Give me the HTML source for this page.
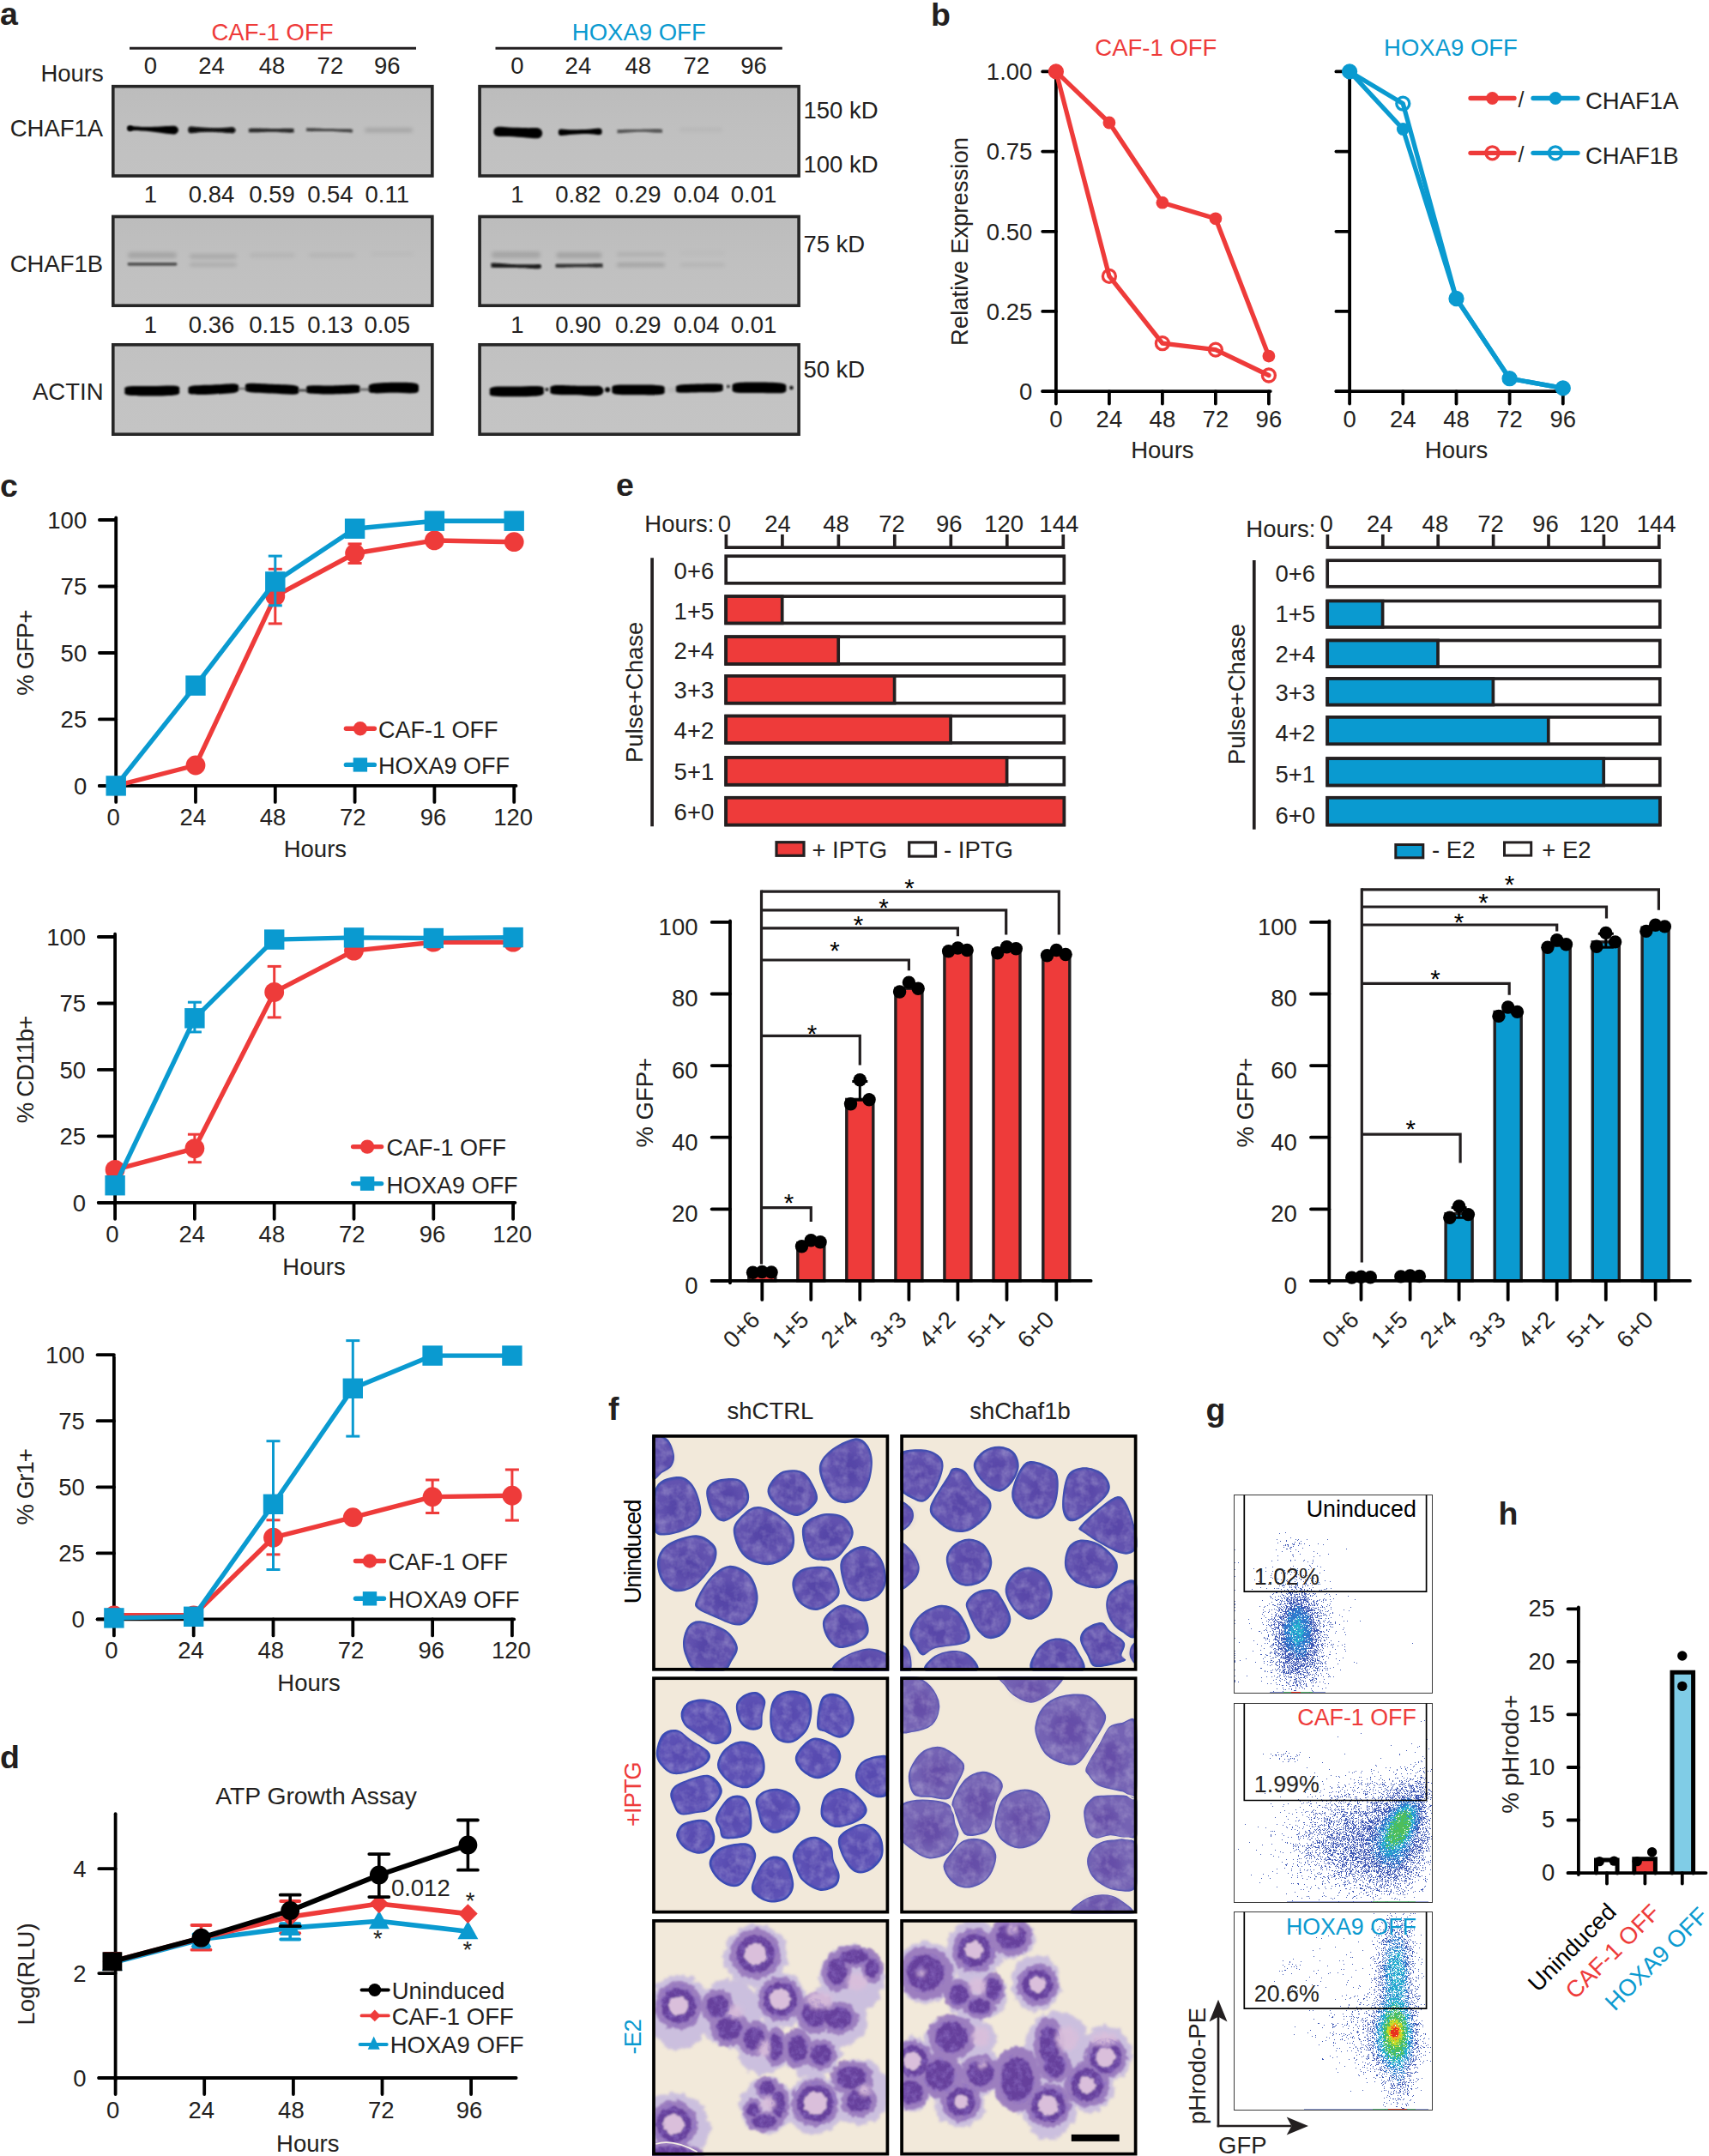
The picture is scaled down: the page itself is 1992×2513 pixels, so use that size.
<!DOCTYPE html>
<html><head><meta charset="utf-8"><title>Figure</title>
<style>
html,body{margin:0;padding:0;background:#fff;}
body{width:1992px;height:2513px;overflow:hidden;}
svg{display:block;font-family:"Liberation Sans",Arial,Helvetica,sans-serif;}
</style></head><body>
<svg width="1992" height="2513" viewBox="0 0 1992 2513">
<defs>
<filter id="b05" x="-5%" y="-5%" width="110%" height="110%"><feGaussianBlur stdDeviation="0.55"/></filter>
<filter id="b06" x="-5%" y="-5%" width="110%" height="110%"><feGaussianBlur stdDeviation="1.0"/></filter>
<filter id="b1" x="-20%" y="-100%" width="140%" height="300%"><feGaussianBlur stdDeviation="1.2"/></filter>
<filter id="b2" x="-20%" y="-100%" width="140%" height="300%"><feGaussianBlur stdDeviation="2"/></filter>
<filter id="b3" x="-30%" y="-30%" width="160%" height="160%"><feGaussianBlur stdDeviation="3"/></filter>
<filter id="b5" x="-30%" y="-30%" width="160%" height="160%"><feGaussianBlur stdDeviation="5"/></filter>
<filter id="b8" x="-30%" y="-30%" width="160%" height="160%"><feGaussianBlur stdDeviation="8"/></filter>
<clipPath id="ca1"><rect x="130" y="98.9" width="375.6" height="107.9"/></clipPath><linearGradient id="gca1" x1="0" y1="0" x2="0" y2="1"><stop offset="0" stop-color="#bcbcbc"/><stop offset="0.5" stop-color="#c0c0c0"/><stop offset="1" stop-color="#c2c2c2"/></linearGradient><clipPath id="ca2"><rect x="130" y="250.7" width="375.6" height="107.30000000000001"/></clipPath><linearGradient id="gca2" x1="0" y1="0" x2="0" y2="1"><stop offset="0" stop-color="#bcbcbc"/><stop offset="0.5" stop-color="#c0c0c0"/><stop offset="1" stop-color="#c2c2c2"/></linearGradient><clipPath id="ca3"><rect x="130" y="400" width="375.6" height="108"/></clipPath><linearGradient id="gca3" x1="0" y1="0" x2="0" y2="1"><stop offset="0" stop-color="#c1c1c1"/><stop offset="0.5" stop-color="#c3c3c3"/><stop offset="1" stop-color="#c4c4c4"/></linearGradient><clipPath id="cb1"><rect x="557.3" y="98.9" width="375.6" height="107.9"/></clipPath><linearGradient id="gcb1" x1="0" y1="0" x2="0" y2="1"><stop offset="0" stop-color="#bcbcbc"/><stop offset="0.5" stop-color="#c0c0c0"/><stop offset="1" stop-color="#c2c2c2"/></linearGradient><clipPath id="cb2"><rect x="557.3" y="250.7" width="375.6" height="107.30000000000001"/></clipPath><linearGradient id="gcb2" x1="0" y1="0" x2="0" y2="1"><stop offset="0" stop-color="#bcbcbc"/><stop offset="0.5" stop-color="#c0c0c0"/><stop offset="1" stop-color="#c2c2c2"/></linearGradient><clipPath id="cb3"><rect x="557.3" y="400" width="375.6" height="108"/></clipPath><linearGradient id="gcb3" x1="0" y1="0" x2="0" y2="1"><stop offset="0" stop-color="#c1c1c1"/><stop offset="0.5" stop-color="#c3c3c3"/><stop offset="1" stop-color="#c4c4c4"/></linearGradient><filter id="tex" x="0" y="0" width="100%" height="100%"><feTurbulence type="fractalNoise" baseFrequency="0.09" numOctaves="3" seed="3" result="n"/><feColorMatrix in="n" type="matrix" values="0 0 0 0 1  0 0 0 0 1  0 0 0 0 1  1.6 0 0 0 -0.62" result="m"/><feComposite in="m" in2="SourceGraphic" operator="in"/></filter>
<filter id="tex2" x="0" y="0" width="100%" height="100%"><feTurbulence type="fractalNoise" baseFrequency="0.13" numOctaves="3" seed="8" result="n"/><feColorMatrix in="n" type="matrix" values="0 0 0 0 0.27  0 0 0 0 0.16  0 0 0 0 0.55  0 1.8 0 0 -0.72" result="m"/><feComposite in="m" in2="SourceGraphic" operator="in"/></filter>
<filter id="rough" x="-10%" y="-10%" width="120%" height="120%"><feTurbulence type="fractalNoise" baseFrequency="0.12" numOctaves="2" seed="5" result="n"/><feDisplacementMap in="SourceGraphic" in2="n" scale="11" xChannelSelector="R" yChannelSelector="G"/><feGaussianBlur stdDeviation="1.6"/></filter>
<filter id="rough3" x="-10%" y="-10%" width="120%" height="120%"><feTurbulence type="fractalNoise" baseFrequency="0.15" numOctaves="2" seed="12" result="n"/><feDisplacementMap in="SourceGraphic" in2="n" scale="8" xChannelSelector="R" yChannelSelector="G"/><feGaussianBlur stdDeviation="1.3"/></filter>
<filter id="rough2" x="-10%" y="-10%" width="120%" height="120%"><feTurbulence type="fractalNoise" baseFrequency="0.2" numOctaves="2" seed="9" result="n"/><feDisplacementMap in="SourceGraphic" in2="n" scale="6" xChannelSelector="R" yChannelSelector="G"/><feGaussianBlur stdDeviation="1.1"/></filter><clipPath id="f1"><rect x="760.1" y="1672.1" width="276.1" height="275.60000000000014"/></clipPath><clipPath id="f2"><rect x="1049.3" y="1672.1" width="276.20000000000005" height="275.60000000000014"/></clipPath><clipPath id="f3"><rect x="760.1" y="1954.4" width="276.1" height="276.0999999999999"/></clipPath><clipPath id="f4"><rect x="1049.3" y="1954.4" width="276.20000000000005" height="276.0999999999999"/></clipPath><clipPath id="f5"><rect x="760.1" y="2237.1" width="276.1" height="275.4000000000001"/></clipPath><clipPath id="f6"><rect x="1049.3" y="2237.1" width="276.20000000000005" height="275.4000000000001"/></clipPath><clipPath id="g1"><rect x="1438.5" y="1742.5" width="231.0" height="231.0"/></clipPath><clipPath id="g2"><rect x="1438.5" y="1985.5" width="231.0" height="232.0"/></clipPath><clipPath id="g3"><rect x="1438.5" y="2228.5" width="231.0" height="231.0"/></clipPath>
</defs>
<rect width="1992" height="2513" fill="#fff"/>
<text x="0.0" y="29.0" font-size="37.5" fill="#231F20" text-anchor="start" font-weight="700">a</text>
<text x="317.5" y="47.3" font-size="27.5" fill="#EE3B3A" text-anchor="middle">CAF-1 OFF</text>
<text x="744.8" y="47.3" font-size="27.5" fill="#0A9AD0" text-anchor="middle">HOXA9 OFF</text>
<line x1="151.0" y1="56.3" x2="485.0" y2="56.3" stroke="#231F20" stroke-width="3" stroke-linecap="butt"/>
<line x1="577.5" y1="56.3" x2="911.8" y2="56.3" stroke="#231F20" stroke-width="3" stroke-linecap="butt"/>
<text x="47.4" y="94.6" font-size="27.5" fill="#231F20" text-anchor="start">Hours</text>
<text x="175.4" y="86.0" font-size="27.5" fill="#231F20" text-anchor="middle">0</text>
<text x="246.5" y="86.0" font-size="27.5" fill="#231F20" text-anchor="middle">24</text>
<text x="317.0" y="86.0" font-size="27.5" fill="#231F20" text-anchor="middle">48</text>
<text x="384.9" y="86.0" font-size="27.5" fill="#231F20" text-anchor="middle">72</text>
<text x="451.2" y="86.0" font-size="27.5" fill="#231F20" text-anchor="middle">96</text>
<text x="602.8" y="86.0" font-size="27.5" fill="#231F20" text-anchor="middle">0</text>
<text x="673.9" y="86.0" font-size="27.5" fill="#231F20" text-anchor="middle">24</text>
<text x="743.7" y="86.0" font-size="27.5" fill="#231F20" text-anchor="middle">48</text>
<text x="811.7" y="86.0" font-size="27.5" fill="#231F20" text-anchor="middle">72</text>
<text x="878.6" y="86.0" font-size="27.5" fill="#231F20" text-anchor="middle">96</text>
<text x="11.7" y="158.6" font-size="27.5" fill="#231F20" text-anchor="start">CHAF1A</text>
<text x="11.7" y="317.0" font-size="27.5" fill="#231F20" text-anchor="start">CHAF1B</text>
<text x="38.0" y="466.0" font-size="27.5" fill="#231F20" text-anchor="start">ACTIN</text>
<text x="175.4" y="236.4" font-size="27.5" fill="#231F20" text-anchor="middle">1</text>
<text x="246.5" y="236.4" font-size="27.5" fill="#231F20" text-anchor="middle">0.84</text>
<text x="317.0" y="236.4" font-size="27.5" fill="#231F20" text-anchor="middle">0.59</text>
<text x="384.9" y="236.4" font-size="27.5" fill="#231F20" text-anchor="middle">0.54</text>
<text x="451.2" y="236.4" font-size="27.5" fill="#231F20" text-anchor="middle">0.11</text>
<text x="602.8" y="236.4" font-size="27.5" fill="#231F20" text-anchor="middle">1</text>
<text x="673.9" y="236.4" font-size="27.5" fill="#231F20" text-anchor="middle">0.82</text>
<text x="743.7" y="236.4" font-size="27.5" fill="#231F20" text-anchor="middle">0.29</text>
<text x="811.7" y="236.4" font-size="27.5" fill="#231F20" text-anchor="middle">0.04</text>
<text x="878.6" y="236.4" font-size="27.5" fill="#231F20" text-anchor="middle">0.01</text>
<text x="175.4" y="388.0" font-size="27.5" fill="#231F20" text-anchor="middle">1</text>
<text x="246.5" y="388.0" font-size="27.5" fill="#231F20" text-anchor="middle">0.36</text>
<text x="317.0" y="388.0" font-size="27.5" fill="#231F20" text-anchor="middle">0.15</text>
<text x="384.9" y="388.0" font-size="27.5" fill="#231F20" text-anchor="middle">0.13</text>
<text x="451.2" y="388.0" font-size="27.5" fill="#231F20" text-anchor="middle">0.05</text>
<text x="602.8" y="388.0" font-size="27.5" fill="#231F20" text-anchor="middle">1</text>
<text x="673.9" y="388.0" font-size="27.5" fill="#231F20" text-anchor="middle">0.90</text>
<text x="743.7" y="388.0" font-size="27.5" fill="#231F20" text-anchor="middle">0.29</text>
<text x="811.7" y="388.0" font-size="27.5" fill="#231F20" text-anchor="middle">0.04</text>
<text x="878.6" y="388.0" font-size="27.5" fill="#231F20" text-anchor="middle">0.01</text>
<text x="936.4" y="138.0" font-size="27.5" fill="#231F20" text-anchor="start">150 kD</text>
<text x="936.4" y="201.0" font-size="27.5" fill="#231F20" text-anchor="start">100 kD</text>
<text x="936.4" y="294.0" font-size="27.5" fill="#231F20" text-anchor="start">75 kD</text>
<text x="936.4" y="440.0" font-size="27.5" fill="#231F20" text-anchor="start">50 kD</text>
<rect x="130.0" y="98.9" width="375.6" height="107.9" fill="url(#gca1)" stroke="none" stroke-width="0"/>
<g clip-path="url(#ca1)">
<path d="M148.8 149.6C148.8 148.8 147.5 147.4 150.5 147.1C153.5 146.8 161.4 147.9 166.8 148.0C172.3 148.1 178.2 147.9 183.2 147.8C188.2 147.6 193.2 147.2 196.8 147.1C200.5 147.0 203.1 146.5 205.0 147.3C206.9 148.0 208.0 150.2 208.0 151.6C208.0 153.0 206.9 155.2 205.0 155.9C203.1 156.7 200.5 156.4 196.8 156.1C193.2 155.8 188.2 154.8 183.2 154.2C178.2 153.7 172.3 153.0 166.8 152.6C161.4 152.2 153.5 152.6 150.5 152.1C147.5 151.6 148.8 150.4 148.8 149.6Z" fill="#050505" opacity="1" filter="url(#b1)"/>
<circle cx="151.8" cy="149.6" r="3.2" fill="#050505" opacity="1" filter="url(#b1)"/>
<path d="M219.3 151.4C219.3 150.1 219.5 148.1 222.0 147.6C224.5 147.1 229.6 148.3 234.6 148.6C239.7 148.9 246.8 149.3 252.3 149.3C257.8 149.3 264.1 148.6 267.4 148.5C270.8 148.4 271.3 148.2 272.5 148.7C273.7 149.3 274.7 150.8 274.7 151.8C274.7 152.8 273.7 154.3 272.5 154.9C271.3 155.5 270.8 155.3 267.4 155.1C264.1 154.9 257.8 154.1 252.3 153.9C246.8 153.7 239.7 153.8 234.6 154.0C229.6 154.2 224.5 155.6 222.0 155.2C219.5 154.8 219.3 152.7 219.3 151.4Z" fill="#080808" opacity="1" filter="url(#b1)"/>
<path d="M290.4 152.0C290.4 151.2 287.7 150.0 292.0 149.7C296.3 149.3 308.2 149.9 316.2 149.9C324.3 149.9 336.2 149.4 340.5 149.8C344.8 150.2 342.2 151.4 342.2 152.2C342.2 153.0 344.8 154.3 340.5 154.6C336.2 154.8 324.3 153.8 316.2 153.7C308.2 153.7 296.3 154.6 292.0 154.3C287.7 154.0 290.4 152.8 290.4 152.0Z" fill="#1e1e1e" opacity="0.92" filter="url(#b1)"/>
<path d="M357.7 151.2C357.7 150.6 354.6 149.5 359.0 149.3C363.4 149.1 375.7 149.9 384.0 150.1C392.3 150.3 404.6 150.0 409.0 150.4C413.4 150.8 410.4 151.7 410.4 152.4C410.4 153.1 413.4 154.3 409.0 154.4C404.6 154.5 392.3 153.3 384.0 153.1C375.7 152.9 363.4 153.4 359.0 153.1C354.6 152.8 357.7 151.8 357.7 151.2Z" fill="#2c2c2c" opacity="0.82" filter="url(#b1)"/>
<rect x="425.0" y="149.5" width="56.0" height="4.6" rx="2.3" fill="#666" opacity="0.33" filter="url(#b2)"/>
</g>
<rect x="131.8" y="100.7" width="372.0" height="104.3" fill="none" stroke="#262626" stroke-width="3.6"/>
<rect x="130.0" y="250.7" width="375.6" height="107.3" fill="url(#gca2)" stroke="none" stroke-width="0"/>
<g clip-path="url(#ca2)">
<rect x="148.5" y="305.9" width="58.0" height="3.8" rx="1.9" fill="#3c3c3c" opacity="0.85" filter="url(#b1)"/>
<rect x="149.0" y="294.0" width="57.0" height="7.0" rx="3.5" fill="#777" opacity="0.36" filter="url(#b2)"/>
<rect x="221.0" y="306.4" width="55.0" height="4.0" rx="2.0" fill="#777" opacity="0.3" filter="url(#b2)"/>
<rect x="221.0" y="295.9" width="55.0" height="5.5" rx="2.8" fill="#777" opacity="0.3" filter="url(#b2)"/>
<rect x="291.0" y="295.2" width="53.0" height="4.5" rx="2.2" fill="#888" opacity="0.22" filter="url(#b2)"/>
<rect x="360.0" y="295.2" width="54.0" height="4.5" rx="2.2" fill="#888" opacity="0.2" filter="url(#b2)"/>
<rect x="432.0" y="293.8" width="50.0" height="4.5" rx="2.2" fill="#999" opacity="0.14" filter="url(#b2)"/>
</g>
<rect x="131.8" y="252.5" width="372.0" height="103.7" fill="none" stroke="#262626" stroke-width="3.6"/>
<rect x="130.0" y="400.0" width="375.6" height="108.0" fill="url(#gca3)" stroke="none" stroke-width="0"/>
<g clip-path="url(#ca3)">
<path d="M145.5 455.6C145.5 453.9 143.7 451.5 149.0 450.6C154.3 449.7 167.8 450.2 177.2 450.1C186.7 450.0 200.2 449.0 205.5 449.8C210.8 450.6 209.1 453.3 209.1 455.0C209.1 456.7 210.8 459.1 205.5 460.2C200.2 461.3 186.7 461.4 177.2 461.5C167.8 461.6 154.3 461.6 149.0 460.6C143.7 459.6 145.5 457.3 145.5 455.6Z" fill="#000" opacity="1" filter="url(#b1)"/>
<path d="M219.6 454.8C219.6 453.2 218.1 451.0 223.0 450.0C227.9 449.0 240.2 449.0 248.8 448.6C257.3 448.2 269.6 446.8 274.5 447.4C279.4 448.0 278.0 450.7 278.0 452.4C278.0 454.1 279.4 456.2 274.5 457.4C269.6 458.6 257.3 459.0 248.8 459.4C240.2 459.8 227.9 460.4 223.0 459.6C218.1 458.8 219.6 456.4 219.6 454.8Z" fill="#000" opacity="1" filter="url(#b1)"/>
<path d="M286.1 451.8C286.1 450.2 284.3 447.6 289.5 446.9C294.7 446.2 307.8 447.4 317.0 447.8C326.2 448.2 339.3 448.3 344.5 449.4C349.7 450.5 348.0 452.7 348.0 454.4C348.0 456.1 349.7 458.7 344.5 459.4C339.3 460.1 326.2 459.0 317.0 458.6C307.8 458.1 294.7 457.8 289.5 456.7C284.3 455.6 286.1 453.4 286.1 451.8Z" fill="#000" opacity="1" filter="url(#b1)"/>
<path d="M357.4 454.0C357.4 452.5 355.4 450.3 360.5 449.5C365.6 448.7 379.0 449.5 388.2 449.4C397.5 449.3 410.8 448.0 416.0 448.7C421.2 449.4 419.3 451.8 419.3 453.4C419.3 455.0 421.2 457.1 416.0 458.1C410.8 459.1 397.5 459.3 388.2 459.4C379.0 459.5 365.6 459.4 360.5 458.5C355.4 457.6 357.4 455.5 357.4 454.0Z" fill="#000" opacity="1" filter="url(#b1)"/>
<path d="M429.8 452.8C429.8 451.0 428.7 448.7 433.5 447.5C438.3 446.3 450.3 445.9 458.8 445.8C467.2 445.7 479.1 445.6 484.0 446.7C488.9 447.8 488.0 450.5 488.0 452.4C488.0 454.3 488.9 457.2 484.0 458.1C479.1 459.0 467.2 457.8 458.8 457.8C450.3 457.8 438.3 458.9 433.5 458.1C428.7 457.3 429.8 454.6 429.8 452.8Z" fill="#000" opacity="1" filter="url(#b1)"/>
<rect x="277.0" y="451.7" width="12.0" height="2.6" rx="1.3" fill="#333" opacity="0.55" filter="url(#b1)"/>
<rect x="347.0" y="453.4" width="12.0" height="3.2" rx="1.6" fill="#222" opacity="0.75" filter="url(#b1)"/>
<rect x="419.0" y="452.5" width="13.0" height="3.0" rx="1.5" fill="#333" opacity="0.6" filter="url(#b1)"/>
</g>
<rect x="131.8" y="401.8" width="372.0" height="104.4" fill="none" stroke="#262626" stroke-width="3.6"/>
<rect x="557.3" y="98.9" width="375.6" height="107.9" fill="url(#gcb1)" stroke="none" stroke-width="0"/>
<g clip-path="url(#cb1)">
<path d="M575.4 153.4C575.4 151.7 575.9 149.0 579.0 148.2C582.1 147.4 588.0 148.3 593.7 148.5C599.4 148.7 607.6 149.0 613.3 149.1C619.0 149.3 624.9 148.4 628.0 149.4C631.1 150.4 632.1 153.3 632.1 155.2C632.1 157.1 631.1 160.1 628.0 161.0C624.9 161.9 619.0 160.8 613.3 160.5C607.6 160.2 599.4 159.4 593.7 159.1C588.0 158.8 582.1 159.6 579.0 158.6C575.9 157.6 575.4 155.1 575.4 153.4Z" fill="#000" opacity="1" filter="url(#b1)"/>
<path d="M650.9 154.2C650.9 153.0 650.8 151.0 653.5 150.5C656.2 150.0 661.8 151.2 667.1 151.3C672.5 151.4 680.0 151.1 685.4 150.8C690.7 150.5 696.3 149.3 699.0 149.7C701.7 150.1 701.6 152.2 701.6 153.4C701.6 154.6 701.7 156.7 699.0 157.1C696.3 157.5 690.7 156.1 685.4 156.0C680.0 155.9 672.5 156.4 667.1 156.7C661.8 157.0 656.2 158.3 653.5 157.9C650.8 157.5 650.9 155.4 650.9 154.2Z" fill="#050505" opacity="1" filter="url(#b1)"/>
<path d="M720.0 153.2C720.0 152.5 717.2 151.5 721.5 151.1C725.8 150.7 737.7 150.8 745.8 150.7C753.8 150.6 765.7 150.1 770.0 150.4C774.3 150.7 771.5 151.9 771.5 152.6C771.5 153.3 774.3 154.6 770.0 154.8C765.7 155.0 753.8 153.6 745.8 153.7C737.7 153.8 725.8 155.4 721.5 155.3C717.2 155.2 720.0 153.9 720.0 153.2Z" fill="#3a3a3a" opacity="0.8" filter="url(#b1)"/>
<rect x="792.0" y="149.4" width="50.0" height="3.6" rx="1.8" fill="#888" opacity="0.2" filter="url(#b2)"/>
</g>
<rect x="559.1" y="100.7" width="372.0" height="104.3" fill="none" stroke="#262626" stroke-width="3.6"/>
<rect x="557.3" y="250.7" width="375.6" height="107.3" fill="url(#gcb2)" stroke="none" stroke-width="0"/>
<g clip-path="url(#cb2)">
<path d="M572.7 309.2C572.7 308.3 570.6 306.8 574.5 306.6C578.4 306.4 589.0 307.6 596.3 307.9C603.6 308.2 612.6 308.3 618.1 308.3C623.6 308.3 626.9 307.7 629.0 308.1C631.1 308.5 630.8 309.8 630.8 310.6C630.8 311.4 631.1 312.7 629.0 313.1C626.9 313.5 623.6 313.1 618.1 312.9C612.6 312.7 603.6 312.3 596.3 312.1C589.0 311.9 578.4 312.3 574.5 311.8C570.6 311.3 572.7 310.1 572.7 309.2Z" fill="#151515" opacity="0.95" filter="url(#b1)"/>
<rect x="573.0" y="293.2" width="57.0" height="7.5" rx="3.8" fill="#777" opacity="0.36" filter="url(#b2)"/>
<path d="M648.0 309.8C648.0 309.1 645.0 308.0 649.5 307.6C654.0 307.2 666.5 307.7 675.0 307.6C683.5 307.5 696.0 306.7 700.5 307.0C705.0 307.3 702.2 308.6 702.2 309.4C702.2 310.2 705.0 311.4 700.5 311.8C696.0 312.2 683.5 311.6 675.0 311.6C666.5 311.6 654.0 312.3 649.5 312.0C645.0 311.7 648.0 310.5 648.0 309.8Z" fill="#2c2c2c" opacity="0.9" filter="url(#b1)"/>
<rect x="648.5" y="294.2" width="53.0" height="6.5" rx="3.2" fill="#777" opacity="0.4" filter="url(#b2)"/>
<rect x="719.0" y="306.6" width="56.0" height="4.5" rx="2.2" fill="#777" opacity="0.42" filter="url(#b2)"/>
<rect x="719.0" y="294.0" width="56.0" height="5.0" rx="2.5" fill="#888" opacity="0.28" filter="url(#b2)"/>
<rect x="793.0" y="306.6" width="52.0" height="4.5" rx="2.2" fill="#888" opacity="0.2" filter="url(#b2)"/>
<rect x="793.0" y="292.8" width="52.0" height="4.5" rx="2.2" fill="#999" opacity="0.12" filter="url(#b2)"/>
</g>
<rect x="559.1" y="252.5" width="372.0" height="103.7" fill="none" stroke="#262626" stroke-width="3.6"/>
<rect x="557.3" y="400.0" width="375.6" height="108.0" fill="url(#gcb3)" stroke="none" stroke-width="0"/>
<g clip-path="url(#cb3)">
<path d="M570.9 456.4C570.9 454.7 569.3 452.2 574.5 451.2C579.7 450.2 593.0 450.7 602.2 450.6C611.5 450.4 624.8 449.5 630.0 450.3C635.2 451.1 633.7 453.8 633.7 455.6C633.7 457.4 635.2 459.8 630.0 460.9C624.8 462.0 611.5 462.1 602.2 462.2C593.0 462.3 579.7 462.6 574.5 461.6C569.3 460.6 570.9 458.1 570.9 456.4Z" fill="#000" opacity="1" filter="url(#b1)"/>
<path d="M641.5 454.4C641.5 452.7 639.8 450.2 645.0 449.4C650.2 448.6 665.2 449.6 672.5 449.7C679.8 449.8 684.4 449.7 689.0 449.8C693.6 449.9 697.6 449.5 700.0 450.4C702.4 451.3 703.5 453.7 703.5 455.4C703.5 457.1 702.4 459.4 700.0 460.4C697.6 461.4 693.6 461.4 689.0 461.4C684.4 461.4 679.8 460.6 672.5 460.3C665.2 460.0 650.2 460.4 645.0 459.4C639.8 458.4 641.5 456.1 641.5 454.4Z" fill="#000" opacity="1" filter="url(#b1)"/>
<path d="M713.4 454.2C713.4 452.5 711.9 449.9 717.0 449.0C722.1 448.1 735.0 448.5 744.0 448.6C753.0 448.7 765.9 448.4 771.0 449.4C776.1 450.4 774.6 452.9 774.6 454.6C774.6 456.3 776.1 458.9 771.0 459.8C765.9 460.7 753.0 460.3 744.0 460.2C735.0 460.1 722.1 460.4 717.0 459.4C711.9 458.4 713.4 455.9 713.4 454.2Z" fill="#000" opacity="1" filter="url(#b1)"/>
<path d="M788.0 453.2C788.0 451.8 786.5 449.8 791.0 448.9C795.5 447.9 807.2 447.7 815.2 447.5C823.3 447.3 834.9 446.9 839.5 447.6C844.1 448.4 842.6 450.5 842.6 452.0C842.6 453.5 844.1 455.5 839.5 456.4C834.9 457.3 823.3 457.1 815.2 457.3C807.2 457.5 795.5 458.2 791.0 457.5C786.5 456.8 788.0 454.6 788.0 453.2Z" fill="#000" opacity="1" filter="url(#b1)"/>
<path d="M853.6 452.0C853.6 450.2 852.3 447.6 857.5 446.5C862.7 445.4 875.8 445.5 885.0 445.6C894.2 445.7 907.3 445.8 912.5 446.9C917.7 448.0 916.4 450.6 916.4 452.4C916.4 454.2 917.7 457.0 912.5 457.9C907.3 458.8 894.2 458.1 885.0 458.0C875.8 457.9 862.7 458.5 857.5 457.5C852.3 456.5 853.6 453.8 853.6 452.0Z" fill="#000" opacity="1" filter="url(#b1)"/>
<circle cx="637.4" cy="453.9" r="1.9" fill="#0a0a0a" opacity="1" filter="url(#b1)"/>
<circle cx="708.1" cy="454.3" r="3.0" fill="#050505" opacity="1" filter="url(#b1)"/>
<rect x="778.0" y="453.0" width="10.0" height="3.0" rx="1.5" fill="#777" opacity="0.35" filter="url(#b2)"/>
<circle cx="848.9" cy="450.5" r="2.0" fill="#2a2a2a" opacity="0.9" filter="url(#b1)"/>
<circle cx="922.4" cy="452" r="2.3" fill="#0a0a0a" opacity="1" filter="url(#b1)"/>
</g>
<rect x="559.1" y="401.8" width="372.0" height="104.4" fill="none" stroke="#262626" stroke-width="3.6"/>
<text x="1085.0" y="30.0" font-size="37.5" fill="#231F20" text-anchor="start" font-weight="700">b</text>
<text x="1347.4" y="65.4" font-size="27.5" fill="#EE3B3A" text-anchor="middle">CAF-1 OFF</text>
<text x="1691.0" y="65.4" font-size="27.5" fill="#0A9AD0" text-anchor="middle">HOXA9 OFF</text>
<line x1="1230.9" y1="83.4" x2="1230.9" y2="458.0" stroke="#000" stroke-width="3.8" stroke-linecap="butt"/>
<line x1="1215.2" y1="456.1" x2="1480.8" y2="456.1" stroke="#000" stroke-width="3.8" stroke-linecap="round"/>
<line x1="1215.2" y1="456.1" x2="1230.9" y2="456.1" stroke="#000" stroke-width="3.8" stroke-linecap="round"/>
<line x1="1215.2" y1="362.9" x2="1230.9" y2="362.9" stroke="#000" stroke-width="3.8" stroke-linecap="round"/>
<line x1="1215.2" y1="269.8" x2="1230.9" y2="269.8" stroke="#000" stroke-width="3.8" stroke-linecap="round"/>
<line x1="1215.2" y1="176.6" x2="1230.9" y2="176.6" stroke="#000" stroke-width="3.8" stroke-linecap="round"/>
<line x1="1215.2" y1="83.4" x2="1230.9" y2="83.4" stroke="#000" stroke-width="3.8" stroke-linecap="round"/>
<line x1="1230.9" y1="456.1" x2="1230.9" y2="470.6" stroke="#000" stroke-width="3.8" stroke-linecap="round"/>
<text x="1230.9" y="498.3" font-size="27.5" fill="#231F20" text-anchor="middle">0</text>
<line x1="1292.9" y1="456.1" x2="1292.9" y2="470.6" stroke="#000" stroke-width="3.8" stroke-linecap="round"/>
<text x="1292.9" y="498.3" font-size="27.5" fill="#231F20" text-anchor="middle">24</text>
<line x1="1354.9" y1="456.1" x2="1354.9" y2="470.6" stroke="#000" stroke-width="3.8" stroke-linecap="round"/>
<text x="1354.9" y="498.3" font-size="27.5" fill="#231F20" text-anchor="middle">48</text>
<line x1="1416.9" y1="456.1" x2="1416.9" y2="470.6" stroke="#000" stroke-width="3.8" stroke-linecap="round"/>
<text x="1416.9" y="498.3" font-size="27.5" fill="#231F20" text-anchor="middle">72</text>
<line x1="1478.9" y1="456.1" x2="1478.9" y2="470.6" stroke="#000" stroke-width="3.8" stroke-linecap="round"/>
<text x="1478.9" y="498.3" font-size="27.5" fill="#231F20" text-anchor="middle">96</text>
<text x="1354.9" y="534.4" font-size="27.5" fill="#231F20" text-anchor="middle">Hours</text>
<text x="1203.4" y="465.9" font-size="27.5" fill="#231F20" text-anchor="end">0</text>
<text x="1203.4" y="372.7" font-size="27.5" fill="#231F20" text-anchor="end">0.25</text>
<text x="1203.4" y="279.6" font-size="27.5" fill="#231F20" text-anchor="end">0.50</text>
<text x="1203.4" y="186.4" font-size="27.5" fill="#231F20" text-anchor="end">0.75</text>
<text x="1203.4" y="93.2" font-size="27.5" fill="#231F20" text-anchor="end">1.00</text>
<polyline points="1230.9,83.4 1292.9,321.9 1354.9,400.2 1416.9,407.6 1478.9,437.5" fill="none" stroke="#EE3B3A" stroke-width="5.3" stroke-linejoin="round" stroke-linecap="round"/>
<circle cx="1230.9" cy="83.4" r="7.5" fill="none" stroke="#EE3B3A" stroke-width="3.3"/>
<circle cx="1292.9" cy="321.9" r="7.5" fill="none" stroke="#EE3B3A" stroke-width="3.3"/>
<circle cx="1354.9" cy="400.2" r="7.5" fill="none" stroke="#EE3B3A" stroke-width="3.3"/>
<circle cx="1416.9" cy="407.6" r="7.5" fill="none" stroke="#EE3B3A" stroke-width="3.3"/>
<circle cx="1478.9" cy="437.5" r="7.5" fill="none" stroke="#EE3B3A" stroke-width="3.3"/>
<polyline points="1230.9,83.4 1292.9,143.0 1354.9,236.2 1416.9,254.8 1478.9,415.1" fill="none" stroke="#EE3B3A" stroke-width="5.3" stroke-linejoin="round" stroke-linecap="round"/>
<circle cx="1230.9" cy="83.4" r="7.4" fill="#EE3B3A" stroke="none" stroke-width="0"/>
<circle cx="1292.9" cy="143.0" r="7.4" fill="#EE3B3A" stroke="none" stroke-width="0"/>
<circle cx="1354.9" cy="236.2" r="7.4" fill="#EE3B3A" stroke="none" stroke-width="0"/>
<circle cx="1416.9" cy="254.8" r="7.4" fill="#EE3B3A" stroke="none" stroke-width="0"/>
<circle cx="1478.9" cy="415.1" r="7.4" fill="#EE3B3A" stroke="none" stroke-width="0"/>
<line x1="1573.1" y1="83.4" x2="1573.1" y2="458.0" stroke="#000" stroke-width="3.8" stroke-linecap="butt"/>
<line x1="1557.4" y1="456.1" x2="1823.7" y2="456.1" stroke="#000" stroke-width="3.8" stroke-linecap="round"/>
<line x1="1557.4" y1="456.1" x2="1573.1" y2="456.1" stroke="#000" stroke-width="3.8" stroke-linecap="round"/>
<line x1="1557.4" y1="362.9" x2="1573.1" y2="362.9" stroke="#000" stroke-width="3.8" stroke-linecap="round"/>
<line x1="1557.4" y1="269.8" x2="1573.1" y2="269.8" stroke="#000" stroke-width="3.8" stroke-linecap="round"/>
<line x1="1557.4" y1="176.6" x2="1573.1" y2="176.6" stroke="#000" stroke-width="3.8" stroke-linecap="round"/>
<line x1="1557.4" y1="83.4" x2="1573.1" y2="83.4" stroke="#000" stroke-width="3.8" stroke-linecap="round"/>
<line x1="1573.1" y1="456.1" x2="1573.1" y2="470.6" stroke="#000" stroke-width="3.8" stroke-linecap="round"/>
<text x="1573.1" y="498.3" font-size="27.5" fill="#231F20" text-anchor="middle">0</text>
<line x1="1635.3" y1="456.1" x2="1635.3" y2="470.6" stroke="#000" stroke-width="3.8" stroke-linecap="round"/>
<text x="1635.3" y="498.3" font-size="27.5" fill="#231F20" text-anchor="middle">24</text>
<line x1="1697.5" y1="456.1" x2="1697.5" y2="470.6" stroke="#000" stroke-width="3.8" stroke-linecap="round"/>
<text x="1697.5" y="498.3" font-size="27.5" fill="#231F20" text-anchor="middle">48</text>
<line x1="1759.6" y1="456.1" x2="1759.6" y2="470.6" stroke="#000" stroke-width="3.8" stroke-linecap="round"/>
<text x="1759.6" y="498.3" font-size="27.5" fill="#231F20" text-anchor="middle">72</text>
<line x1="1821.8" y1="456.1" x2="1821.8" y2="470.6" stroke="#000" stroke-width="3.8" stroke-linecap="round"/>
<text x="1821.8" y="498.3" font-size="27.5" fill="#231F20" text-anchor="middle">96</text>
<text x="1697.5" y="534.4" font-size="27.5" fill="#231F20" text-anchor="middle">Hours</text>
<polyline points="1573.1,83.4 1635.3,120.7 1697.5,348.0 1759.6,441.2 1821.8,452.4" fill="none" stroke="#0A9AD0" stroke-width="5.3" stroke-linejoin="round" stroke-linecap="round"/>
<circle cx="1573.1" cy="83.4" r="7.5" fill="none" stroke="#0A9AD0" stroke-width="3.3"/>
<circle cx="1635.3" cy="120.7" r="7.5" fill="none" stroke="#0A9AD0" stroke-width="3.3"/>
<circle cx="1697.5" cy="348.0" r="7.5" fill="none" stroke="#0A9AD0" stroke-width="3.3"/>
<circle cx="1759.6" cy="441.2" r="7.5" fill="none" stroke="#0A9AD0" stroke-width="3.3"/>
<circle cx="1821.8" cy="452.4" r="7.5" fill="none" stroke="#0A9AD0" stroke-width="3.3"/>
<polyline points="1573.1,83.4 1635.3,150.5 1697.5,348.0 1759.6,441.2 1821.8,452.4" fill="none" stroke="#0A9AD0" stroke-width="5.3" stroke-linejoin="round" stroke-linecap="round"/>
<circle cx="1573.1" cy="83.4" r="7.4" fill="#0A9AD0" stroke="none" stroke-width="0"/>
<circle cx="1635.3" cy="150.5" r="7.4" fill="#0A9AD0" stroke="none" stroke-width="0"/>
<circle cx="1697.5" cy="348.0" r="7.4" fill="#0A9AD0" stroke="none" stroke-width="0"/>
<circle cx="1759.6" cy="441.2" r="7.4" fill="#0A9AD0" stroke="none" stroke-width="0"/>
<circle cx="1821.8" cy="452.4" r="7.4" fill="#0A9AD0" stroke="none" stroke-width="0"/>
<text x="1128.3" y="281.5" font-size="27.5" fill="#231F20" text-anchor="middle" transform="rotate(-90 1128.3 281.5)">Relative Expression</text>
<line x1="1714.0" y1="114.5" x2="1765.0" y2="114.5" stroke="#EE3B3A" stroke-width="5.3" stroke-linecap="round"/>
<circle cx="1739.5" cy="114.5" r="7.4" fill="#EE3B3A" stroke="none" stroke-width="0"/>
<line x1="1787.0" y1="114.5" x2="1839.0" y2="114.5" stroke="#0A9AD0" stroke-width="5.3" stroke-linecap="round"/>
<circle cx="1813.0" cy="114.5" r="7.4" fill="#0A9AD0" stroke="none" stroke-width="0"/>
<text x="1769.5" y="125.0" font-size="25" fill="#231F20" text-anchor="start">/</text>
<text x="1848.0" y="126.7" font-size="27.5" fill="#231F20" text-anchor="start">CHAF1A</text>
<line x1="1714.0" y1="178.3" x2="1765.0" y2="178.3" stroke="#EE3B3A" stroke-width="5.3" stroke-linecap="round"/>
<circle cx="1739.5" cy="178.3" r="7.5" fill="none" stroke="#EE3B3A" stroke-width="3.3"/>
<line x1="1787.0" y1="178.3" x2="1839.0" y2="178.3" stroke="#0A9AD0" stroke-width="5.3" stroke-linecap="round"/>
<circle cx="1813.0" cy="178.3" r="7.5" fill="none" stroke="#0A9AD0" stroke-width="3.3"/>
<text x="1769.5" y="188.8" font-size="25" fill="#231F20" text-anchor="start">/</text>
<text x="1848.0" y="190.5" font-size="27.5" fill="#231F20" text-anchor="start">CHAF1B</text>
<text x="0.0" y="579.0" font-size="37.5" fill="#231F20" text-anchor="start" font-weight="700">c</text>
<line x1="135.2" y1="603.4" x2="135.2" y2="917.8" stroke="#000" stroke-width="3.8" stroke-linecap="round"/>
<line x1="115.9" y1="915.9" x2="601.5" y2="915.9" stroke="#000" stroke-width="3.8" stroke-linecap="round"/>
<line x1="115.9" y1="915.9" x2="135.2" y2="915.9" stroke="#000" stroke-width="3.8" stroke-linecap="round"/>
<text x="101.2" y="925.7" font-size="27.5" fill="#231F20" text-anchor="end">0</text>
<line x1="115.9" y1="838.4" x2="135.2" y2="838.4" stroke="#000" stroke-width="3.8" stroke-linecap="round"/>
<text x="101.2" y="848.2" font-size="27.5" fill="#231F20" text-anchor="end">25</text>
<line x1="115.9" y1="761.0" x2="135.2" y2="761.0" stroke="#000" stroke-width="3.8" stroke-linecap="round"/>
<text x="101.2" y="770.8" font-size="27.5" fill="#231F20" text-anchor="end">50</text>
<line x1="115.9" y1="683.5" x2="135.2" y2="683.5" stroke="#000" stroke-width="3.8" stroke-linecap="round"/>
<text x="101.2" y="693.3" font-size="27.5" fill="#231F20" text-anchor="end">75</text>
<line x1="115.9" y1="606.0" x2="135.2" y2="606.0" stroke="#000" stroke-width="3.8" stroke-linecap="round"/>
<text x="101.2" y="615.8" font-size="27.5" fill="#231F20" text-anchor="end">100</text>
<line x1="135.2" y1="915.9" x2="135.2" y2="934.9" stroke="#000" stroke-width="3.8" stroke-linecap="round"/>
<text x="132.1" y="961.9" font-size="27.5" fill="#231F20" text-anchor="middle">0</text>
<line x1="228.0" y1="915.9" x2="228.0" y2="934.9" stroke="#000" stroke-width="3.8" stroke-linecap="round"/>
<text x="224.9" y="961.9" font-size="27.5" fill="#231F20" text-anchor="middle">24</text>
<line x1="320.8" y1="915.9" x2="320.8" y2="934.9" stroke="#000" stroke-width="3.8" stroke-linecap="round"/>
<text x="318.0" y="961.9" font-size="27.5" fill="#231F20" text-anchor="middle">48</text>
<line x1="413.6" y1="915.9" x2="413.6" y2="934.9" stroke="#000" stroke-width="3.8" stroke-linecap="round"/>
<text x="411.3" y="961.9" font-size="27.5" fill="#231F20" text-anchor="middle">72</text>
<line x1="506.4" y1="915.9" x2="506.4" y2="934.9" stroke="#000" stroke-width="3.8" stroke-linecap="round"/>
<text x="505.1" y="961.9" font-size="27.5" fill="#231F20" text-anchor="middle">96</text>
<line x1="599.2" y1="915.9" x2="599.2" y2="934.9" stroke="#000" stroke-width="3.8" stroke-linecap="round"/>
<text x="598.2" y="961.9" font-size="27.5" fill="#231F20" text-anchor="middle">120</text>
<text x="367.4" y="998.8" font-size="27.5" fill="#231F20" text-anchor="middle">Hours</text>
<text x="39.0" y="761.0" font-size="27.5" fill="#231F20" text-anchor="middle" transform="rotate(-90 39.0 761.0)" letter-spacing="-0.9">% GFP+</text>
<line x1="320.8" y1="663.3" x2="320.8" y2="726.9" stroke="#EE3B3A" stroke-width="3" stroke-linecap="butt"/>
<line x1="312.8" y1="663.3" x2="328.8" y2="663.3" stroke="#EE3B3A" stroke-width="3" stroke-linecap="butt"/>
<line x1="312.8" y1="726.9" x2="328.8" y2="726.9" stroke="#EE3B3A" stroke-width="3" stroke-linecap="butt"/>
<line x1="413.6" y1="633.9" x2="413.6" y2="656.5" stroke="#EE3B3A" stroke-width="3" stroke-linecap="butt"/>
<line x1="405.6" y1="633.9" x2="421.6" y2="633.9" stroke="#EE3B3A" stroke-width="3" stroke-linecap="butt"/>
<line x1="405.6" y1="656.5" x2="421.6" y2="656.5" stroke="#EE3B3A" stroke-width="3" stroke-linecap="butt"/>
<polyline points="135.2,915.9 228.0,892.0 320.8,694.9 413.6,645.0 506.4,629.9 599.2,631.7" fill="none" stroke="#EE3B3A" stroke-width="5.4" stroke-linejoin="round"/>
<circle cx="135.2" cy="915.9" r="11.4" fill="#EE3B3A" stroke="none" stroke-width="0"/>
<circle cx="228.0" cy="892.0" r="11.4" fill="#EE3B3A" stroke="none" stroke-width="0"/>
<circle cx="320.8" cy="694.9" r="11.4" fill="#EE3B3A" stroke="none" stroke-width="0"/>
<circle cx="413.6" cy="645.0" r="11.4" fill="#EE3B3A" stroke="none" stroke-width="0"/>
<circle cx="506.4" cy="629.9" r="11.4" fill="#EE3B3A" stroke="none" stroke-width="0"/>
<circle cx="599.2" cy="631.7" r="11.4" fill="#EE3B3A" stroke="none" stroke-width="0"/>
<line x1="320.8" y1="648.1" x2="320.8" y2="705.8" stroke="#0A9AD0" stroke-width="3" stroke-linecap="butt"/>
<line x1="312.8" y1="648.1" x2="328.8" y2="648.1" stroke="#0A9AD0" stroke-width="3" stroke-linecap="butt"/>
<line x1="312.8" y1="705.8" x2="328.8" y2="705.8" stroke="#0A9AD0" stroke-width="3" stroke-linecap="butt"/>
<polyline points="135.2,915.9 228.0,799.1 320.8,677.9 413.6,616.2 506.4,607.2 599.2,607.2" fill="none" stroke="#0A9AD0" stroke-width="5.4" stroke-linejoin="round"/>
<rect x="123.5" y="904.2" width="23.4" height="23.4" fill="#0A9AD0" stroke="none" stroke-width="0"/>
<rect x="216.3" y="787.4" width="23.4" height="23.4" fill="#0A9AD0" stroke="none" stroke-width="0"/>
<rect x="309.1" y="666.2" width="23.4" height="23.4" fill="#0A9AD0" stroke="none" stroke-width="0"/>
<rect x="401.9" y="604.5" width="23.4" height="23.4" fill="#0A9AD0" stroke="none" stroke-width="0"/>
<rect x="494.7" y="595.5" width="23.4" height="23.4" fill="#0A9AD0" stroke="none" stroke-width="0"/>
<rect x="587.5" y="595.5" width="23.4" height="23.4" fill="#0A9AD0" stroke="none" stroke-width="0"/>
<line x1="403.4" y1="849.3" x2="436.4" y2="849.3" stroke="#EE3B3A" stroke-width="5.4" stroke-linecap="round"/>
<circle cx="419.9" cy="849.3" r="8.2" fill="#EE3B3A" stroke="none" stroke-width="0"/>
<text x="441.0" y="859.6" font-size="27" fill="#231F20" text-anchor="start">CAF-1 OFF</text>
<line x1="403.4" y1="891.4" x2="436.4" y2="891.4" stroke="#0A9AD0" stroke-width="5.4" stroke-linecap="round"/>
<rect x="411.7" y="883.2" width="16.4" height="16.4" fill="#0A9AD0" stroke="none" stroke-width="0"/>
<text x="441.0" y="902.4" font-size="27" fill="#231F20" text-anchor="start">HOXA9 OFF</text>
<line x1="134.1" y1="1088.7" x2="134.1" y2="1403.7" stroke="#000" stroke-width="3.8" stroke-linecap="round"/>
<line x1="114.8" y1="1401.8" x2="600.4" y2="1401.8" stroke="#000" stroke-width="3.8" stroke-linecap="round"/>
<line x1="114.8" y1="1401.8" x2="134.1" y2="1401.8" stroke="#000" stroke-width="3.8" stroke-linecap="round"/>
<text x="100.1" y="1411.6" font-size="27.5" fill="#231F20" text-anchor="end">0</text>
<line x1="114.8" y1="1324.3" x2="134.1" y2="1324.3" stroke="#000" stroke-width="3.8" stroke-linecap="round"/>
<text x="100.1" y="1334.1" font-size="27.5" fill="#231F20" text-anchor="end">25</text>
<line x1="114.8" y1="1246.9" x2="134.1" y2="1246.9" stroke="#000" stroke-width="3.8" stroke-linecap="round"/>
<text x="100.1" y="1256.7" font-size="27.5" fill="#231F20" text-anchor="end">50</text>
<line x1="114.8" y1="1169.5" x2="134.1" y2="1169.5" stroke="#000" stroke-width="3.8" stroke-linecap="round"/>
<text x="100.1" y="1179.2" font-size="27.5" fill="#231F20" text-anchor="end">75</text>
<line x1="114.8" y1="1092.0" x2="134.1" y2="1092.0" stroke="#000" stroke-width="3.8" stroke-linecap="round"/>
<text x="100.1" y="1101.8" font-size="27.5" fill="#231F20" text-anchor="end">100</text>
<line x1="134.1" y1="1401.8" x2="134.1" y2="1420.8" stroke="#000" stroke-width="3.8" stroke-linecap="round"/>
<text x="131.0" y="1448.0" font-size="27.5" fill="#231F20" text-anchor="middle">0</text>
<line x1="226.9" y1="1401.8" x2="226.9" y2="1420.8" stroke="#000" stroke-width="3.8" stroke-linecap="round"/>
<text x="223.8" y="1448.0" font-size="27.5" fill="#231F20" text-anchor="middle">24</text>
<line x1="319.7" y1="1401.8" x2="319.7" y2="1420.8" stroke="#000" stroke-width="3.8" stroke-linecap="round"/>
<text x="316.9" y="1448.0" font-size="27.5" fill="#231F20" text-anchor="middle">48</text>
<line x1="412.5" y1="1401.8" x2="412.5" y2="1420.8" stroke="#000" stroke-width="3.8" stroke-linecap="round"/>
<text x="410.2" y="1448.0" font-size="27.5" fill="#231F20" text-anchor="middle">72</text>
<line x1="505.3" y1="1401.8" x2="505.3" y2="1420.8" stroke="#000" stroke-width="3.8" stroke-linecap="round"/>
<text x="504.0" y="1448.0" font-size="27.5" fill="#231F20" text-anchor="middle">96</text>
<line x1="598.1" y1="1401.8" x2="598.1" y2="1420.8" stroke="#000" stroke-width="3.8" stroke-linecap="round"/>
<text x="597.1" y="1448.0" font-size="27.5" fill="#231F20" text-anchor="middle">120</text>
<text x="366.0" y="1486.0" font-size="27.5" fill="#231F20" text-anchor="middle">Hours</text>
<text x="39.0" y="1246.9" font-size="27.5" fill="#231F20" text-anchor="middle" transform="rotate(-90 39.0 1246.9)" letter-spacing="-0.9">% CD11b+</text>
<line x1="226.9" y1="1322.2" x2="226.9" y2="1354.7" stroke="#EE3B3A" stroke-width="3" stroke-linecap="butt"/>
<line x1="218.9" y1="1322.2" x2="234.9" y2="1322.2" stroke="#EE3B3A" stroke-width="3" stroke-linecap="butt"/>
<line x1="218.9" y1="1354.7" x2="234.9" y2="1354.7" stroke="#EE3B3A" stroke-width="3" stroke-linecap="butt"/>
<line x1="319.7" y1="1126.4" x2="319.7" y2="1185.9" stroke="#EE3B3A" stroke-width="3" stroke-linecap="butt"/>
<line x1="311.7" y1="1126.4" x2="327.7" y2="1126.4" stroke="#EE3B3A" stroke-width="3" stroke-linecap="butt"/>
<line x1="311.7" y1="1185.9" x2="327.7" y2="1185.9" stroke="#EE3B3A" stroke-width="3" stroke-linecap="butt"/>
<polyline points="134.1,1363.4 226.9,1338.6 319.7,1156.4 412.5,1108.1 505.3,1098.2 598.1,1098.2" fill="none" stroke="#EE3B3A" stroke-width="5.4" stroke-linejoin="round"/>
<circle cx="134.1" cy="1363.4" r="11.4" fill="#EE3B3A" stroke="none" stroke-width="0"/>
<circle cx="226.9" cy="1338.6" r="11.4" fill="#EE3B3A" stroke="none" stroke-width="0"/>
<circle cx="319.7" cy="1156.4" r="11.4" fill="#EE3B3A" stroke="none" stroke-width="0"/>
<circle cx="412.5" cy="1108.1" r="11.4" fill="#EE3B3A" stroke="none" stroke-width="0"/>
<circle cx="505.3" cy="1098.2" r="11.4" fill="#EE3B3A" stroke="none" stroke-width="0"/>
<circle cx="598.1" cy="1098.2" r="11.4" fill="#EE3B3A" stroke="none" stroke-width="0"/>
<line x1="226.9" y1="1168.2" x2="226.9" y2="1202.9" stroke="#0A9AD0" stroke-width="3" stroke-linecap="butt"/>
<line x1="218.9" y1="1168.2" x2="234.9" y2="1168.2" stroke="#0A9AD0" stroke-width="3" stroke-linecap="butt"/>
<line x1="218.9" y1="1202.9" x2="234.9" y2="1202.9" stroke="#0A9AD0" stroke-width="3" stroke-linecap="butt"/>
<polyline points="134.1,1381.7 226.9,1186.8 319.7,1095.1 412.5,1092.9 505.3,1093.5 598.1,1092.6" fill="none" stroke="#0A9AD0" stroke-width="5.4" stroke-linejoin="round"/>
<rect x="122.4" y="1370.0" width="23.4" height="23.4" fill="#0A9AD0" stroke="none" stroke-width="0"/>
<rect x="215.2" y="1175.1" width="23.4" height="23.4" fill="#0A9AD0" stroke="none" stroke-width="0"/>
<rect x="308.0" y="1083.4" width="23.4" height="23.4" fill="#0A9AD0" stroke="none" stroke-width="0"/>
<rect x="400.8" y="1081.2" width="23.4" height="23.4" fill="#0A9AD0" stroke="none" stroke-width="0"/>
<rect x="493.6" y="1081.8" width="23.4" height="23.4" fill="#0A9AD0" stroke="none" stroke-width="0"/>
<rect x="586.4" y="1080.9" width="23.4" height="23.4" fill="#0A9AD0" stroke="none" stroke-width="0"/>
<line x1="411.6" y1="1336.6" x2="444.6" y2="1336.6" stroke="#EE3B3A" stroke-width="5.4" stroke-linecap="round"/>
<circle cx="428.1" cy="1336.6" r="8.2" fill="#EE3B3A" stroke="none" stroke-width="0"/>
<text x="450.6" y="1346.9" font-size="27" fill="#231F20" text-anchor="start">CAF-1 OFF</text>
<line x1="411.6" y1="1379.6" x2="444.6" y2="1379.6" stroke="#0A9AD0" stroke-width="5.4" stroke-linecap="round"/>
<rect x="419.9" y="1371.4" width="16.4" height="16.4" fill="#0A9AD0" stroke="none" stroke-width="0"/>
<text x="450.6" y="1390.6" font-size="27" fill="#231F20" text-anchor="start">HOXA9 OFF</text>
<line x1="132.9" y1="1581.1" x2="132.9" y2="1889.3" stroke="#000" stroke-width="3.8" stroke-linecap="butt"/>
<line x1="113.6" y1="1887.4" x2="599.2" y2="1887.4" stroke="#000" stroke-width="3.8" stroke-linecap="round"/>
<line x1="113.6" y1="1887.4" x2="132.9" y2="1887.4" stroke="#000" stroke-width="3.8" stroke-linecap="round"/>
<text x="98.9" y="1897.2" font-size="27.5" fill="#231F20" text-anchor="end">0</text>
<line x1="113.6" y1="1810.4" x2="132.9" y2="1810.4" stroke="#000" stroke-width="3.8" stroke-linecap="round"/>
<text x="98.9" y="1820.2" font-size="27.5" fill="#231F20" text-anchor="end">25</text>
<line x1="113.6" y1="1733.3" x2="132.9" y2="1733.3" stroke="#000" stroke-width="3.8" stroke-linecap="round"/>
<text x="98.9" y="1743.1" font-size="27.5" fill="#231F20" text-anchor="end">50</text>
<line x1="113.6" y1="1656.2" x2="132.9" y2="1656.2" stroke="#000" stroke-width="3.8" stroke-linecap="round"/>
<text x="98.9" y="1666.0" font-size="27.5" fill="#231F20" text-anchor="end">75</text>
<line x1="113.6" y1="1579.2" x2="132.9" y2="1579.2" stroke="#000" stroke-width="3.8" stroke-linecap="round"/>
<text x="98.9" y="1589.0" font-size="27.5" fill="#231F20" text-anchor="end">100</text>
<line x1="132.9" y1="1887.4" x2="132.9" y2="1906.4" stroke="#000" stroke-width="3.8" stroke-linecap="round"/>
<text x="129.8" y="1933.4" font-size="27.5" fill="#231F20" text-anchor="middle">0</text>
<line x1="225.7" y1="1887.4" x2="225.7" y2="1906.4" stroke="#000" stroke-width="3.8" stroke-linecap="round"/>
<text x="222.6" y="1933.4" font-size="27.5" fill="#231F20" text-anchor="middle">24</text>
<line x1="318.5" y1="1887.4" x2="318.5" y2="1906.4" stroke="#000" stroke-width="3.8" stroke-linecap="round"/>
<text x="315.7" y="1933.4" font-size="27.5" fill="#231F20" text-anchor="middle">48</text>
<line x1="411.3" y1="1887.4" x2="411.3" y2="1906.4" stroke="#000" stroke-width="3.8" stroke-linecap="round"/>
<text x="409.0" y="1933.4" font-size="27.5" fill="#231F20" text-anchor="middle">72</text>
<line x1="504.1" y1="1887.4" x2="504.1" y2="1906.4" stroke="#000" stroke-width="3.8" stroke-linecap="round"/>
<text x="502.8" y="1933.4" font-size="27.5" fill="#231F20" text-anchor="middle">96</text>
<line x1="596.9" y1="1887.4" x2="596.9" y2="1906.4" stroke="#000" stroke-width="3.8" stroke-linecap="round"/>
<text x="595.9" y="1933.4" font-size="27.5" fill="#231F20" text-anchor="middle">120</text>
<text x="360.0" y="1971.0" font-size="27.5" fill="#231F20" text-anchor="middle">Hours</text>
<text x="39.0" y="1733.3" font-size="27.5" fill="#231F20" text-anchor="middle" transform="rotate(-90 39.0 1733.3)" letter-spacing="-0.9">% Gr1+</text>
<line x1="318.5" y1="1771.8" x2="318.5" y2="1811.9" stroke="#EE3B3A" stroke-width="3" stroke-linecap="butt"/>
<line x1="310.5" y1="1771.8" x2="326.5" y2="1771.8" stroke="#EE3B3A" stroke-width="3" stroke-linecap="butt"/>
<line x1="310.5" y1="1811.9" x2="326.5" y2="1811.9" stroke="#EE3B3A" stroke-width="3" stroke-linecap="butt"/>
<line x1="504.1" y1="1725.0" x2="504.1" y2="1763.5" stroke="#EE3B3A" stroke-width="3" stroke-linecap="butt"/>
<line x1="496.1" y1="1725.0" x2="512.1" y2="1725.0" stroke="#EE3B3A" stroke-width="3" stroke-linecap="butt"/>
<line x1="496.1" y1="1763.5" x2="512.1" y2="1763.5" stroke="#EE3B3A" stroke-width="3" stroke-linecap="butt"/>
<line x1="596.9" y1="1713.0" x2="596.9" y2="1772.1" stroke="#EE3B3A" stroke-width="3" stroke-linecap="butt"/>
<line x1="588.9" y1="1713.0" x2="604.9" y2="1713.0" stroke="#EE3B3A" stroke-width="3" stroke-linecap="butt"/>
<line x1="588.9" y1="1772.1" x2="604.9" y2="1772.1" stroke="#EE3B3A" stroke-width="3" stroke-linecap="butt"/>
<polyline points="132.9,1882.8 225.7,1882.8 318.5,1792.2 411.3,1768.7 504.1,1744.7 596.9,1743.2" fill="none" stroke="#EE3B3A" stroke-width="5.4" stroke-linejoin="round"/>
<circle cx="132.9" cy="1882.8" r="11.4" fill="#EE3B3A" stroke="none" stroke-width="0"/>
<circle cx="225.7" cy="1882.8" r="11.4" fill="#EE3B3A" stroke="none" stroke-width="0"/>
<circle cx="318.5" cy="1792.2" r="11.4" fill="#EE3B3A" stroke="none" stroke-width="0"/>
<circle cx="411.3" cy="1768.7" r="11.4" fill="#EE3B3A" stroke="none" stroke-width="0"/>
<circle cx="504.1" cy="1744.7" r="11.4" fill="#EE3B3A" stroke="none" stroke-width="0"/>
<circle cx="596.9" cy="1743.2" r="11.4" fill="#EE3B3A" stroke="none" stroke-width="0"/>
<line x1="318.5" y1="1679.7" x2="318.5" y2="1829.5" stroke="#0A9AD0" stroke-width="3" stroke-linecap="butt"/>
<line x1="310.5" y1="1679.7" x2="326.5" y2="1679.7" stroke="#0A9AD0" stroke-width="3" stroke-linecap="butt"/>
<line x1="310.5" y1="1829.5" x2="326.5" y2="1829.5" stroke="#0A9AD0" stroke-width="3" stroke-linecap="butt"/>
<line x1="411.3" y1="1562.6" x2="411.3" y2="1674.1" stroke="#0A9AD0" stroke-width="3" stroke-linecap="butt"/>
<line x1="403.3" y1="1562.6" x2="419.3" y2="1562.6" stroke="#0A9AD0" stroke-width="3" stroke-linecap="butt"/>
<line x1="403.3" y1="1674.1" x2="419.3" y2="1674.1" stroke="#0A9AD0" stroke-width="3" stroke-linecap="butt"/>
<polyline points="132.9,1885.9 225.7,1884.3 318.5,1753.3 411.3,1618.3 504.1,1580.1 596.9,1580.1" fill="none" stroke="#0A9AD0" stroke-width="5.4" stroke-linejoin="round"/>
<rect x="121.2" y="1874.2" width="23.4" height="23.4" fill="#0A9AD0" stroke="none" stroke-width="0"/>
<rect x="214.0" y="1872.6" width="23.4" height="23.4" fill="#0A9AD0" stroke="none" stroke-width="0"/>
<rect x="306.8" y="1741.6" width="23.4" height="23.4" fill="#0A9AD0" stroke="none" stroke-width="0"/>
<rect x="399.6" y="1606.6" width="23.4" height="23.4" fill="#0A9AD0" stroke="none" stroke-width="0"/>
<rect x="492.4" y="1568.4" width="23.4" height="23.4" fill="#0A9AD0" stroke="none" stroke-width="0"/>
<rect x="585.2" y="1568.4" width="23.4" height="23.4" fill="#0A9AD0" stroke="none" stroke-width="0"/>
<line x1="414.5" y1="1819.5" x2="447.5" y2="1819.5" stroke="#EE3B3A" stroke-width="5.4" stroke-linecap="round"/>
<circle cx="431.0" cy="1819.5" r="8.2" fill="#EE3B3A" stroke="none" stroke-width="0"/>
<text x="452.6" y="1829.8" font-size="27" fill="#231F20" text-anchor="start">CAF-1 OFF</text>
<line x1="414.5" y1="1863.3" x2="447.5" y2="1863.3" stroke="#0A9AD0" stroke-width="5.4" stroke-linecap="round"/>
<rect x="422.8" y="1855.1" width="16.4" height="16.4" fill="#0A9AD0" stroke="none" stroke-width="0"/>
<text x="452.6" y="1874.3" font-size="27" fill="#231F20" text-anchor="start">HOXA9 OFF</text>
<text x="0.0" y="2060.6" font-size="37.5" fill="#231F20" text-anchor="start" font-weight="700">d</text>
<text x="368.6" y="2103.0" font-size="28.3" fill="#231F20" text-anchor="middle">ATP Growth Assay</text>
<line x1="134.6" y1="2114.2" x2="134.6" y2="2423.9" stroke="#000" stroke-width="3.8" stroke-linecap="round"/>
<line x1="115.3" y1="2422.0" x2="601.6" y2="2422.0" stroke="#000" stroke-width="3.8" stroke-linecap="round"/>
<line x1="115.3" y1="2422.0" x2="134.6" y2="2422.0" stroke="#000" stroke-width="3.8" stroke-linecap="round"/>
<text x="100.6" y="2431.8" font-size="27.5" fill="#231F20" text-anchor="end">0</text>
<line x1="115.3" y1="2300.1" x2="134.6" y2="2300.1" stroke="#000" stroke-width="3.8" stroke-linecap="round"/>
<text x="100.6" y="2309.9" font-size="27.5" fill="#231F20" text-anchor="end">2</text>
<line x1="115.3" y1="2178.2" x2="134.6" y2="2178.2" stroke="#000" stroke-width="3.8" stroke-linecap="round"/>
<text x="100.6" y="2188.0" font-size="27.5" fill="#231F20" text-anchor="end">4</text>
<line x1="134.6" y1="2422.0" x2="134.6" y2="2441.0" stroke="#000" stroke-width="3.8" stroke-linecap="round"/>
<text x="131.7" y="2468.6" font-size="27.5" fill="#231F20" text-anchor="middle">0</text>
<line x1="238.2" y1="2422.0" x2="238.2" y2="2441.0" stroke="#000" stroke-width="3.8" stroke-linecap="round"/>
<text x="234.7" y="2468.6" font-size="27.5" fill="#231F20" text-anchor="middle">24</text>
<line x1="341.9" y1="2422.0" x2="341.9" y2="2441.0" stroke="#000" stroke-width="3.8" stroke-linecap="round"/>
<text x="339.4" y="2468.6" font-size="27.5" fill="#231F20" text-anchor="middle">48</text>
<line x1="445.5" y1="2422.0" x2="445.5" y2="2441.0" stroke="#000" stroke-width="3.8" stroke-linecap="round"/>
<text x="444.2" y="2468.6" font-size="27.5" fill="#231F20" text-anchor="middle">72</text>
<line x1="549.1" y1="2422.0" x2="549.1" y2="2441.0" stroke="#000" stroke-width="3.8" stroke-linecap="round"/>
<text x="547.0" y="2468.6" font-size="27.5" fill="#231F20" text-anchor="middle">96</text>
<text x="358.8" y="2507.9" font-size="27.5" fill="#231F20" text-anchor="middle">Hours</text>
<text x="39.5" y="2301.0" font-size="27.5" fill="#231F20" text-anchor="middle" transform="rotate(-90 39.5 2301.0)">Log(RLU)</text>
<line x1="130.9" y1="2276.9" x2="130.9" y2="2294.0" stroke="#EE3B3A" stroke-width="3.6" stroke-linecap="butt"/>
<line x1="121.9" y1="2276.9" x2="139.9" y2="2276.9" stroke="#EE3B3A" stroke-width="3.8" stroke-linecap="round"/>
<line x1="121.9" y1="2294.0" x2="139.9" y2="2294.0" stroke="#EE3B3A" stroke-width="3.8" stroke-linecap="round"/>
<line x1="234.5" y1="2244.0" x2="234.5" y2="2272.7" stroke="#EE3B3A" stroke-width="3.6" stroke-linecap="butt"/>
<line x1="223.5" y1="2244.0" x2="245.5" y2="2244.0" stroke="#EE3B3A" stroke-width="3.8" stroke-linecap="round"/>
<line x1="223.5" y1="2272.7" x2="245.5" y2="2272.7" stroke="#EE3B3A" stroke-width="3.8" stroke-linecap="round"/>
<line x1="338.2" y1="2216.0" x2="338.2" y2="2253.2" stroke="#EE3B3A" stroke-width="3.6" stroke-linecap="butt"/>
<line x1="327.2" y1="2216.0" x2="349.2" y2="2216.0" stroke="#EE3B3A" stroke-width="3.8" stroke-linecap="round"/>
<line x1="327.2" y1="2253.2" x2="349.2" y2="2253.2" stroke="#EE3B3A" stroke-width="3.8" stroke-linecap="round"/>
<line x1="338.2" y1="2242.2" x2="338.2" y2="2260.5" stroke="#0A9AD0" stroke-width="3.6" stroke-linecap="butt"/>
<line x1="327.2" y1="2242.2" x2="349.2" y2="2242.2" stroke="#0A9AD0" stroke-width="3.8" stroke-linecap="round"/>
<line x1="327.2" y1="2260.5" x2="349.2" y2="2260.5" stroke="#0A9AD0" stroke-width="3.8" stroke-linecap="round"/>
<line x1="234.5" y1="2254.4" x2="234.5" y2="2269.6" stroke="#0A9AD0" stroke-width="3.6" stroke-linecap="butt"/>
<line x1="225.5" y1="2254.4" x2="243.5" y2="2254.4" stroke="#0A9AD0" stroke-width="3.8" stroke-linecap="round"/>
<line x1="225.5" y1="2269.6" x2="243.5" y2="2269.6" stroke="#0A9AD0" stroke-width="3.8" stroke-linecap="round"/>
<polyline points="130.9,2287.9 234.5,2260.5 338.2,2247.1 441.8,2239.2 545.4,2251.3" fill="none" stroke="#0A9AD0" stroke-width="5.6" stroke-linejoin="round"/>
<path d="M118.9 2296.9L142.9 2296.9L130.9 2275.4Z" fill="#0A9AD0"/>
<path d="M222.5 2269.5L246.5 2269.5L234.5 2248.0Z" fill="#0A9AD0"/>
<path d="M326.2 2256.1L350.2 2256.1L338.2 2234.6Z" fill="#0A9AD0"/>
<path d="M429.8 2248.2L453.8 2248.2L441.8 2226.7Z" fill="#0A9AD0"/>
<path d="M533.4 2260.3L557.4 2260.3L545.4 2238.8Z" fill="#0A9AD0"/>
<polyline points="130.9,2286.3 234.5,2259.0 338.2,2234.3 441.8,2219.0 545.4,2230.6" fill="none" stroke="#EE3B3A" stroke-width="5.6" stroke-linejoin="round"/>
<path d="M119.6 2286.3L130.9 2275.0L142.2 2286.3L130.9 2297.6Z" fill="#EE3B3A"/>
<path d="M223.2 2259.0L234.5 2247.7L245.8 2259.0L234.5 2270.3Z" fill="#EE3B3A"/>
<path d="M326.9 2234.3L338.2 2223.0L349.5 2234.3L338.2 2245.6Z" fill="#EE3B3A"/>
<path d="M430.5 2219.0L441.8 2207.7L453.1 2219.0L441.8 2230.3Z" fill="#EE3B3A"/>
<path d="M534.1 2230.6L545.4 2219.3L556.7 2230.6L545.4 2241.9Z" fill="#EE3B3A"/>
<line x1="338.2" y1="2208.7" x2="338.2" y2="2245.2" stroke="#000" stroke-width="3.6" stroke-linecap="butt"/>
<line x1="326.7" y1="2208.7" x2="349.7" y2="2208.7" stroke="#000" stroke-width="3.8" stroke-linecap="round"/>
<line x1="326.7" y1="2245.2" x2="349.7" y2="2245.2" stroke="#000" stroke-width="3.8" stroke-linecap="round"/>
<line x1="441.8" y1="2161.1" x2="441.8" y2="2211.1" stroke="#000" stroke-width="3.6" stroke-linecap="butt"/>
<line x1="430.3" y1="2161.1" x2="453.3" y2="2161.1" stroke="#000" stroke-width="3.8" stroke-linecap="round"/>
<line x1="430.3" y1="2211.1" x2="453.3" y2="2211.1" stroke="#000" stroke-width="3.8" stroke-linecap="round"/>
<line x1="545.4" y1="2121.5" x2="545.4" y2="2179.7" stroke="#000" stroke-width="3.6" stroke-linecap="butt"/>
<line x1="533.9" y1="2121.5" x2="556.9" y2="2121.5" stroke="#000" stroke-width="3.8" stroke-linecap="round"/>
<line x1="533.9" y1="2179.7" x2="556.9" y2="2179.7" stroke="#000" stroke-width="3.8" stroke-linecap="round"/>
<polyline points="130.9,2286.3 234.5,2258.7 338.2,2227.0 441.8,2185.5 545.4,2150.5" fill="none" stroke="#000" stroke-width="5.8" stroke-linejoin="round"/>
<circle cx="130.9" cy="2286.3" r="10.9" fill="#000" stroke="none" stroke-width="0"/>
<circle cx="234.5" cy="2258.7" r="10.9" fill="#000" stroke="none" stroke-width="0"/>
<circle cx="338.2" cy="2227.0" r="10.9" fill="#000" stroke="none" stroke-width="0"/>
<circle cx="441.8" cy="2185.5" r="10.9" fill="#000" stroke="none" stroke-width="0"/>
<circle cx="545.4" cy="2150.5" r="10.9" fill="#000" stroke="none" stroke-width="0"/>
<rect x="119.5" y="2275.3" width="22.8" height="22.0" fill="#000" stroke="none" stroke-width="0"/>
<text x="455.9" y="2210.1" font-size="27.5" fill="#231F20" text-anchor="start">0.012</text>
<text x="548.0" y="2225.0" font-size="27.5" fill="#231F20" text-anchor="middle">*</text>
<text x="440.3" y="2269.0" font-size="27.5" fill="#231F20" text-anchor="middle">*</text>
<text x="544.8" y="2282.0" font-size="27.5" fill="#231F20" text-anchor="middle">*</text>
<line x1="421.5" y1="2319.5" x2="452.8" y2="2319.5" stroke="#000" stroke-width="3.8" stroke-linecap="round"/>
<circle cx="436.8" cy="2319.5" r="7.4" fill="#000" stroke="none" stroke-width="0"/>
<text x="456.7" y="2329.7" font-size="27.5" fill="#231F20" text-anchor="start">Uninduced</text>
<line x1="421.5" y1="2349.4" x2="452.8" y2="2349.4" stroke="#EE3B3A" stroke-width="3.8" stroke-linecap="round"/>
<path d="M430 2349.4L436.8 2342.6L443.6 2349.4L436.8 2356.2Z" fill="#EE3B3A"/>
<text x="456.7" y="2359.6" font-size="27.5" fill="#231F20" text-anchor="start">CAF-1 OFF</text>
<line x1="419.5" y1="2383.0" x2="450.8" y2="2383.0" stroke="#0A9AD0" stroke-width="3.8" stroke-linecap="round"/>
<path d="M428.7 2388.7L442.7 2388.7L435.7 2373.5Z" fill="#0A9AD0"/>
<text x="454.7" y="2393.2" font-size="27.5" fill="#231F20" text-anchor="start">HOXA9 OFF</text>
<text x="718.0" y="578.0" font-size="37.5" fill="#231F20" text-anchor="start" font-weight="700">e</text>
<text x="751.3" y="619.9" font-size="27.5" fill="#231F20" text-anchor="start">Hours:</text>
<text x="844.5" y="619.9" font-size="27.5" fill="#231F20" text-anchor="middle">0</text>
<text x="906.5" y="619.9" font-size="27.5" fill="#231F20" text-anchor="middle">24</text>
<text x="974.6" y="619.9" font-size="27.5" fill="#231F20" text-anchor="middle">48</text>
<text x="1039.6" y="619.9" font-size="27.5" fill="#231F20" text-anchor="middle">72</text>
<text x="1106.2" y="619.9" font-size="27.5" fill="#231F20" text-anchor="middle">96</text>
<text x="1170.1" y="619.9" font-size="27.5" fill="#231F20" text-anchor="middle">120</text>
<text x="1234.3" y="619.9" font-size="27.5" fill="#231F20" text-anchor="middle">144</text>
<path d="M846.4 622.9V638.1H1239.3V622.9" stroke="#231F20" stroke-width="3.7" fill="none" stroke-linejoin="miter" stroke-linecap="butt"/>
<line x1="911.9" y1="622.9" x2="911.9" y2="638.1" stroke="#231F20" stroke-width="3.7" stroke-linecap="butt"/>
<line x1="977.4" y1="622.9" x2="977.4" y2="638.1" stroke="#231F20" stroke-width="3.7" stroke-linecap="butt"/>
<line x1="1042.8" y1="622.9" x2="1042.8" y2="638.1" stroke="#231F20" stroke-width="3.7" stroke-linecap="butt"/>
<line x1="1108.3" y1="622.9" x2="1108.3" y2="638.1" stroke="#231F20" stroke-width="3.7" stroke-linecap="butt"/>
<line x1="1173.8" y1="622.9" x2="1173.8" y2="638.1" stroke="#231F20" stroke-width="3.7" stroke-linecap="butt"/>
<rect x="846.2" y="648.2" width="394.1" height="31.6" fill="#fff" stroke="#231F20" stroke-width="3.7"/>
<rect x="846.2" y="695.1" width="394.1" height="31.3" fill="#fff" stroke="#231F20" stroke-width="3.7"/>
<rect x="846.2" y="695.1" width="65.5" height="31.3" fill="#EE3B3A" stroke="#231F20" stroke-width="3.7"/>
<rect x="846.2" y="742.2" width="394.1" height="31.7" fill="#fff" stroke="#231F20" stroke-width="3.7"/>
<rect x="846.2" y="742.2" width="131.0" height="31.7" fill="#EE3B3A" stroke="#231F20" stroke-width="3.7"/>
<rect x="846.2" y="787.9" width="394.1" height="31.7" fill="#fff" stroke="#231F20" stroke-width="3.7"/>
<rect x="846.2" y="787.9" width="196.4" height="31.7" fill="#EE3B3A" stroke="#231F20" stroke-width="3.7"/>
<rect x="846.2" y="834.6" width="394.1" height="31.3" fill="#fff" stroke="#231F20" stroke-width="3.7"/>
<rect x="846.2" y="834.6" width="261.9" height="31.3" fill="#EE3B3A" stroke="#231F20" stroke-width="3.7"/>
<rect x="846.2" y="883.0" width="394.1" height="31.7" fill="#fff" stroke="#231F20" stroke-width="3.7"/>
<rect x="846.2" y="883.0" width="327.4" height="31.7" fill="#EE3B3A" stroke="#231F20" stroke-width="3.7"/>
<rect x="846.2" y="929.8" width="394.1" height="31.7" fill="#fff" stroke="#231F20" stroke-width="3.7"/>
<rect x="846.2" y="929.8" width="394.1" height="31.7" fill="#EE3B3A" stroke="#231F20" stroke-width="3.7"/>
<text x="785.6" y="675.0" font-size="27.5" fill="#231F20" text-anchor="start">0+6</text>
<text x="785.6" y="721.8" font-size="27.5" fill="#231F20" text-anchor="start">1+5</text>
<text x="785.6" y="768.2" font-size="27.5" fill="#231F20" text-anchor="start">2+4</text>
<text x="785.6" y="813.8" font-size="27.5" fill="#231F20" text-anchor="start">3+3</text>
<text x="785.6" y="860.6" font-size="27.5" fill="#231F20" text-anchor="start">4+2</text>
<text x="785.6" y="908.9" font-size="27.5" fill="#231F20" text-anchor="start">5+1</text>
<text x="785.6" y="955.7" font-size="27.5" fill="#231F20" text-anchor="start">6+0</text>
<line x1="760.1" y1="650.3" x2="760.1" y2="963.3" stroke="#231F20" stroke-width="3.7" stroke-linecap="butt"/>
<text x="749.4" y="806.8" font-size="27.5" fill="#231F20" text-anchor="middle" transform="rotate(-90 749.4 806.8)">Pulse+Chase</text>
<text x="1452.3" y="625.6" font-size="27.5" fill="#231F20" text-anchor="start">Hours:</text>
<text x="1546.2" y="619.9" font-size="27.5" fill="#231F20" text-anchor="middle">0</text>
<text x="1608.2" y="619.9" font-size="27.5" fill="#231F20" text-anchor="middle">24</text>
<text x="1672.9" y="619.9" font-size="27.5" fill="#231F20" text-anchor="middle">48</text>
<text x="1737.5" y="619.9" font-size="27.5" fill="#231F20" text-anchor="middle">72</text>
<text x="1801.4" y="619.9" font-size="27.5" fill="#231F20" text-anchor="middle">96</text>
<text x="1863.8" y="619.9" font-size="27.5" fill="#231F20" text-anchor="middle">120</text>
<text x="1930.7" y="619.9" font-size="27.5" fill="#231F20" text-anchor="middle">144</text>
<path d="M1547.4 622.9V638.1H1933.8V622.9" stroke="#231F20" stroke-width="3.7" fill="none" stroke-linejoin="miter" stroke-linecap="butt"/>
<line x1="1611.8" y1="622.9" x2="1611.8" y2="638.1" stroke="#231F20" stroke-width="3.7" stroke-linecap="butt"/>
<line x1="1676.2" y1="622.9" x2="1676.2" y2="638.1" stroke="#231F20" stroke-width="3.7" stroke-linecap="butt"/>
<line x1="1740.6" y1="622.9" x2="1740.6" y2="638.1" stroke="#231F20" stroke-width="3.7" stroke-linecap="butt"/>
<line x1="1805.0" y1="622.9" x2="1805.0" y2="638.1" stroke="#231F20" stroke-width="3.7" stroke-linecap="butt"/>
<line x1="1869.4" y1="622.9" x2="1869.4" y2="638.1" stroke="#231F20" stroke-width="3.7" stroke-linecap="butt"/>
<rect x="1547.2" y="653.2" width="387.6" height="30.6" fill="#fff" stroke="#231F20" stroke-width="3.7"/>
<rect x="1547.2" y="700.5" width="387.6" height="30.5" fill="#fff" stroke="#231F20" stroke-width="3.7"/>
<rect x="1547.2" y="700.5" width="64.4" height="30.5" fill="#0A9AD0" stroke="#231F20" stroke-width="3.7"/>
<rect x="1547.2" y="746.5" width="387.6" height="30.5" fill="#fff" stroke="#231F20" stroke-width="3.7"/>
<rect x="1547.2" y="746.5" width="128.8" height="30.5" fill="#0A9AD0" stroke="#231F20" stroke-width="3.7"/>
<rect x="1547.2" y="791.0" width="387.6" height="30.5" fill="#fff" stroke="#231F20" stroke-width="3.7"/>
<rect x="1547.2" y="791.0" width="193.2" height="30.5" fill="#0A9AD0" stroke="#231F20" stroke-width="3.7"/>
<rect x="1547.2" y="835.9" width="387.6" height="31.3" fill="#fff" stroke="#231F20" stroke-width="3.7"/>
<rect x="1547.2" y="835.9" width="257.6" height="31.3" fill="#0A9AD0" stroke="#231F20" stroke-width="3.7"/>
<rect x="1547.2" y="884.1" width="387.6" height="31.3" fill="#fff" stroke="#231F20" stroke-width="3.7"/>
<rect x="1547.2" y="884.1" width="322.0" height="31.3" fill="#0A9AD0" stroke="#231F20" stroke-width="3.7"/>
<rect x="1547.2" y="929.8" width="387.6" height="31.7" fill="#fff" stroke="#231F20" stroke-width="3.7"/>
<rect x="1547.2" y="929.8" width="387.6" height="31.7" fill="#0A9AD0" stroke="#231F20" stroke-width="3.7"/>
<text x="1486.5" y="677.7" font-size="27.5" fill="#231F20" text-anchor="start">0+6</text>
<text x="1486.5" y="725.2" font-size="27.5" fill="#231F20" text-anchor="start">1+5</text>
<text x="1486.5" y="772.0" font-size="27.5" fill="#231F20" text-anchor="start">2+4</text>
<text x="1486.5" y="816.5" font-size="27.5" fill="#231F20" text-anchor="start">3+3</text>
<text x="1486.5" y="864.0" font-size="27.5" fill="#231F20" text-anchor="start">4+2</text>
<text x="1486.5" y="912.0" font-size="27.5" fill="#231F20" text-anchor="start">5+1</text>
<text x="1486.5" y="959.5" font-size="27.5" fill="#231F20" text-anchor="start">6+0</text>
<line x1="1461.8" y1="653.0" x2="1461.8" y2="966.7" stroke="#231F20" stroke-width="3.7" stroke-linecap="butt"/>
<text x="1451.1" y="809.0" font-size="27.5" fill="#231F20" text-anchor="middle" transform="rotate(-90 1451.1 809.0)">Pulse+Chase</text>
<rect x="905.0" y="981.7" width="32.0" height="15.6" fill="#EE3B3A" stroke="#231F20" stroke-width="3.2"/>
<text x="946.4" y="1000.2" font-size="27.5" fill="#231F20" text-anchor="start">+ IPTG</text>
<rect x="1059.7" y="981.9" width="30.8" height="16.2" fill="#fff" stroke="#231F20" stroke-width="3.2"/>
<text x="1100.0" y="1000.2" font-size="27.5" fill="#231F20" text-anchor="start">- IPTG</text>
<rect x="1626.8" y="984.5" width="32.0" height="15.3" fill="#0A9AD0" stroke="#231F20" stroke-width="3"/>
<text x="1669.0" y="1000.2" font-size="27.5" fill="#231F20" text-anchor="start">- E2</text>
<rect x="1753.5" y="981.9" width="31.2" height="15.2" fill="#fff" stroke="#231F20" stroke-width="3"/>
<text x="1797.2" y="1000.2" font-size="27.5" fill="#231F20" text-anchor="start">+ E2</text>
<rect x="872.8" y="1483.3" width="31.0" height="9.6" fill="#EE3B3A" stroke="#231F20" stroke-width="3.4"/>
<rect x="929.8" y="1449.0" width="31.0" height="43.9" fill="#EE3B3A" stroke="#231F20" stroke-width="3.4"/>
<rect x="986.8" y="1281.4" width="31.0" height="211.5" fill="#EE3B3A" stroke="#231F20" stroke-width="3.4"/>
<rect x="1043.9" y="1152.2" width="31.0" height="340.7" fill="#EE3B3A" stroke="#231F20" stroke-width="3.4"/>
<rect x="1100.9" y="1108.3" width="31.0" height="384.6" fill="#EE3B3A" stroke="#231F20" stroke-width="3.4"/>
<rect x="1158.0" y="1107.1" width="31.0" height="385.8" fill="#EE3B3A" stroke="#231F20" stroke-width="3.4"/>
<rect x="1215.8" y="1112.1" width="31.0" height="380.8" fill="#EE3B3A" stroke="#231F20" stroke-width="3.4"/>
<line x1="1002.3" y1="1260.5" x2="1002.3" y2="1282.2" stroke="#000" stroke-width="3" stroke-linecap="butt"/>
<line x1="993.3" y1="1260.5" x2="1011.3" y2="1260.5" stroke="#000" stroke-width="3" stroke-linecap="butt"/>
<line x1="993.3" y1="1282.2" x2="1011.3" y2="1282.2" stroke="#000" stroke-width="3" stroke-linecap="butt"/>
<line x1="851.0" y1="1073.5" x2="851.0" y2="1495.3" stroke="#000" stroke-width="3.8" stroke-linecap="round"/>
<line x1="829.7" y1="1492.9" x2="1271.6" y2="1492.9" stroke="#000" stroke-width="3.8" stroke-linecap="round"/>
<line x1="829.7" y1="1492.9" x2="851.0" y2="1492.9" stroke="#000" stroke-width="3.8" stroke-linecap="round"/>
<text x="813.5" y="1507.7" font-size="27.5" fill="#231F20" text-anchor="end">0</text>
<line x1="829.7" y1="1409.3" x2="851.0" y2="1409.3" stroke="#000" stroke-width="3.8" stroke-linecap="round"/>
<text x="813.5" y="1424.1" font-size="27.5" fill="#231F20" text-anchor="end">20</text>
<line x1="829.7" y1="1325.7" x2="851.0" y2="1325.7" stroke="#000" stroke-width="3.8" stroke-linecap="round"/>
<text x="813.5" y="1340.5" font-size="27.5" fill="#231F20" text-anchor="end">40</text>
<line x1="829.7" y1="1242.1" x2="851.0" y2="1242.1" stroke="#000" stroke-width="3.8" stroke-linecap="round"/>
<text x="813.5" y="1256.9" font-size="27.5" fill="#231F20" text-anchor="end">60</text>
<line x1="829.7" y1="1158.5" x2="851.0" y2="1158.5" stroke="#000" stroke-width="3.8" stroke-linecap="round"/>
<text x="813.5" y="1173.3" font-size="27.5" fill="#231F20" text-anchor="end">80</text>
<line x1="829.7" y1="1074.9" x2="851.0" y2="1074.9" stroke="#000" stroke-width="3.8" stroke-linecap="round"/>
<text x="813.5" y="1089.7" font-size="27.5" fill="#231F20" text-anchor="end">100</text>
<line x1="888.3" y1="1492.9" x2="888.3" y2="1514.9" stroke="#000" stroke-width="3.8" stroke-linecap="round"/>
<text x="887.3" y="1539.9" font-size="27.5" fill="#231F20" text-anchor="end" transform="rotate(-45 887.3 1539.9)">0+6</text>
<line x1="945.3" y1="1492.9" x2="945.3" y2="1514.9" stroke="#000" stroke-width="3.8" stroke-linecap="round"/>
<text x="944.3" y="1539.9" font-size="27.5" fill="#231F20" text-anchor="end" transform="rotate(-45 944.3 1539.9)">1+5</text>
<line x1="1002.3" y1="1492.9" x2="1002.3" y2="1514.9" stroke="#000" stroke-width="3.8" stroke-linecap="round"/>
<text x="1001.3" y="1539.9" font-size="27.5" fill="#231F20" text-anchor="end" transform="rotate(-45 1001.3 1539.9)">2+4</text>
<line x1="1059.4" y1="1492.9" x2="1059.4" y2="1514.9" stroke="#000" stroke-width="3.8" stroke-linecap="round"/>
<text x="1058.4" y="1539.9" font-size="27.5" fill="#231F20" text-anchor="end" transform="rotate(-45 1058.4 1539.9)">3+3</text>
<line x1="1116.4" y1="1492.9" x2="1116.4" y2="1514.9" stroke="#000" stroke-width="3.8" stroke-linecap="round"/>
<text x="1115.4" y="1539.9" font-size="27.5" fill="#231F20" text-anchor="end" transform="rotate(-45 1115.4 1539.9)">4+2</text>
<line x1="1173.5" y1="1492.9" x2="1173.5" y2="1514.9" stroke="#000" stroke-width="3.8" stroke-linecap="round"/>
<text x="1172.5" y="1539.9" font-size="27.5" fill="#231F20" text-anchor="end" transform="rotate(-45 1172.5 1539.9)">5+1</text>
<line x1="1231.3" y1="1492.9" x2="1231.3" y2="1514.9" stroke="#000" stroke-width="3.8" stroke-linecap="round"/>
<text x="1230.3" y="1539.9" font-size="27.5" fill="#231F20" text-anchor="end" transform="rotate(-45 1230.3 1539.9)">6+0</text>
<text x="761.0" y="1285.2" font-size="27.5" fill="#231F20" text-anchor="middle" transform="rotate(-90 761.0 1285.2)">% GFP+</text>
<circle cx="877.5" cy="1483.3" r="7.7" fill="#000" stroke="none" stroke-width="0"/>
<circle cx="888.3" cy="1482.5" r="7.7" fill="#000" stroke="none" stroke-width="0"/>
<circle cx="899.1" cy="1482.9" r="7.7" fill="#000" stroke="none" stroke-width="0"/>
<circle cx="934.5" cy="1452.8" r="7.7" fill="#000" stroke="none" stroke-width="0"/>
<circle cx="945.3" cy="1445.7" r="7.7" fill="#000" stroke="none" stroke-width="0"/>
<circle cx="956.1" cy="1447.8" r="7.7" fill="#000" stroke="none" stroke-width="0"/>
<circle cx="991.5" cy="1286.8" r="7.7" fill="#000" stroke="none" stroke-width="0"/>
<circle cx="1002.3" cy="1258.8" r="7.7" fill="#000" stroke="none" stroke-width="0"/>
<circle cx="1013.1" cy="1281.8" r="7.7" fill="#000" stroke="none" stroke-width="0"/>
<circle cx="1048.6" cy="1156.0" r="7.7" fill="#000" stroke="none" stroke-width="0"/>
<circle cx="1059.4" cy="1145.1" r="7.7" fill="#000" stroke="none" stroke-width="0"/>
<circle cx="1070.2" cy="1152.2" r="7.7" fill="#000" stroke="none" stroke-width="0"/>
<circle cx="1105.6" cy="1108.8" r="7.7" fill="#000" stroke="none" stroke-width="0"/>
<circle cx="1116.4" cy="1105.0" r="7.7" fill="#000" stroke="none" stroke-width="0"/>
<circle cx="1127.2" cy="1107.5" r="7.7" fill="#000" stroke="none" stroke-width="0"/>
<circle cx="1162.7" cy="1110.8" r="7.7" fill="#000" stroke="none" stroke-width="0"/>
<circle cx="1173.5" cy="1103.7" r="7.7" fill="#000" stroke="none" stroke-width="0"/>
<circle cx="1184.3" cy="1105.8" r="7.7" fill="#000" stroke="none" stroke-width="0"/>
<circle cx="1220.5" cy="1113.8" r="7.7" fill="#000" stroke="none" stroke-width="0"/>
<circle cx="1231.3" cy="1107.5" r="7.7" fill="#000" stroke="none" stroke-width="0"/>
<circle cx="1242.1" cy="1112.5" r="7.7" fill="#000" stroke="none" stroke-width="0"/>
<line x1="887.5" y1="1037.6" x2="887.5" y2="1473.5" stroke="#231F20" stroke-width="3.2" stroke-linecap="butt"/>
<path d="M887.5 1039.2H1234.3V1089.4" stroke="#231F20" stroke-width="3.2" fill="none" stroke-linejoin="miter" stroke-linecap="butt"/>
<path d="M887.5 1060.8H1172.7V1089.4" stroke="#231F20" stroke-width="3.2" fill="none" stroke-linejoin="miter" stroke-linecap="butt"/>
<path d="M887.5 1081.8H1116.4V1091.3" stroke="#231F20" stroke-width="3.2" fill="none" stroke-linejoin="miter" stroke-linecap="butt"/>
<path d="M887.5 1119.0H1059.4V1131.2" stroke="#231F20" stroke-width="3.2" fill="none" stroke-linejoin="miter" stroke-linecap="butt"/>
<path d="M887.5 1207.3H1002.3V1241.5" stroke="#231F20" stroke-width="3.2" fill="none" stroke-linejoin="miter" stroke-linecap="butt"/>
<path d="M887.5 1407.7H945.3V1424.0" stroke="#231F20" stroke-width="3.2" fill="none" stroke-linejoin="miter" stroke-linecap="butt"/>
<text x="1060.1" y="1044.9" font-size="29.5" fill="#000" text-anchor="middle">*</text>
<text x="1030.1" y="1067.7" font-size="29.5" fill="#000" text-anchor="middle">*</text>
<text x="1000.4" y="1087.5" font-size="29.5" fill="#000" text-anchor="middle">*</text>
<text x="973.0" y="1117.9" font-size="29.5" fill="#000" text-anchor="middle">*</text>
<text x="946.4" y="1214.9" font-size="29.5" fill="#000" text-anchor="middle">*</text>
<text x="919.4" y="1411.9" font-size="29.5" fill="#000" text-anchor="middle">*</text>
<rect x="1685.1" y="1414.7" width="31.0" height="78.2" fill="#0A9AD0" stroke="#231F20" stroke-width="3.4"/>
<rect x="1742.2" y="1179.4" width="31.0" height="313.5" fill="#0A9AD0" stroke="#231F20" stroke-width="3.4"/>
<rect x="1799.2" y="1102.1" width="31.0" height="390.8" fill="#0A9AD0" stroke="#231F20" stroke-width="3.4"/>
<rect x="1856.3" y="1097.9" width="31.0" height="395.0" fill="#0A9AD0" stroke="#231F20" stroke-width="3.4"/>
<rect x="1914.1" y="1081.2" width="31.0" height="411.7" fill="#0A9AD0" stroke="#231F20" stroke-width="3.4"/>
<line x1="1871.8" y1="1088.3" x2="1871.8" y2="1104.2" stroke="#000" stroke-width="3" stroke-linecap="butt"/>
<line x1="1862.8" y1="1088.3" x2="1880.8" y2="1088.3" stroke="#000" stroke-width="3" stroke-linecap="butt"/>
<line x1="1862.8" y1="1104.2" x2="1880.8" y2="1104.2" stroke="#000" stroke-width="3" stroke-linecap="butt"/>
<line x1="1700.6" y1="1407.6" x2="1700.6" y2="1419.3" stroke="#000" stroke-width="3" stroke-linecap="butt"/>
<line x1="1691.6" y1="1407.6" x2="1709.6" y2="1407.6" stroke="#000" stroke-width="3" stroke-linecap="butt"/>
<line x1="1691.6" y1="1419.3" x2="1709.6" y2="1419.3" stroke="#000" stroke-width="3" stroke-linecap="butt"/>
<line x1="1549.3" y1="1073.5" x2="1549.3" y2="1495.3" stroke="#000" stroke-width="3.8" stroke-linecap="round"/>
<line x1="1528.0" y1="1492.9" x2="1969.9" y2="1492.9" stroke="#000" stroke-width="3.8" stroke-linecap="round"/>
<line x1="1528.0" y1="1492.9" x2="1549.3" y2="1492.9" stroke="#000" stroke-width="3.8" stroke-linecap="round"/>
<text x="1511.8" y="1507.7" font-size="27.5" fill="#231F20" text-anchor="end">0</text>
<line x1="1528.0" y1="1409.3" x2="1549.3" y2="1409.3" stroke="#000" stroke-width="3.8" stroke-linecap="round"/>
<text x="1511.8" y="1424.1" font-size="27.5" fill="#231F20" text-anchor="end">20</text>
<line x1="1528.0" y1="1325.7" x2="1549.3" y2="1325.7" stroke="#000" stroke-width="3.8" stroke-linecap="round"/>
<text x="1511.8" y="1340.5" font-size="27.5" fill="#231F20" text-anchor="end">40</text>
<line x1="1528.0" y1="1242.1" x2="1549.3" y2="1242.1" stroke="#000" stroke-width="3.8" stroke-linecap="round"/>
<text x="1511.8" y="1256.9" font-size="27.5" fill="#231F20" text-anchor="end">60</text>
<line x1="1528.0" y1="1158.5" x2="1549.3" y2="1158.5" stroke="#000" stroke-width="3.8" stroke-linecap="round"/>
<text x="1511.8" y="1173.3" font-size="27.5" fill="#231F20" text-anchor="end">80</text>
<line x1="1528.0" y1="1074.9" x2="1549.3" y2="1074.9" stroke="#000" stroke-width="3.8" stroke-linecap="round"/>
<text x="1511.8" y="1089.7" font-size="27.5" fill="#231F20" text-anchor="end">100</text>
<line x1="1586.5" y1="1492.9" x2="1586.5" y2="1514.9" stroke="#000" stroke-width="3.8" stroke-linecap="round"/>
<text x="1585.5" y="1539.9" font-size="27.5" fill="#231F20" text-anchor="end" transform="rotate(-45 1585.5 1539.9)">0+6</text>
<line x1="1643.6" y1="1492.9" x2="1643.6" y2="1514.9" stroke="#000" stroke-width="3.8" stroke-linecap="round"/>
<text x="1642.6" y="1539.9" font-size="27.5" fill="#231F20" text-anchor="end" transform="rotate(-45 1642.6 1539.9)">1+5</text>
<line x1="1700.6" y1="1492.9" x2="1700.6" y2="1514.9" stroke="#000" stroke-width="3.8" stroke-linecap="round"/>
<text x="1699.6" y="1539.9" font-size="27.5" fill="#231F20" text-anchor="end" transform="rotate(-45 1699.6 1539.9)">2+4</text>
<line x1="1757.7" y1="1492.9" x2="1757.7" y2="1514.9" stroke="#000" stroke-width="3.8" stroke-linecap="round"/>
<text x="1756.7" y="1539.9" font-size="27.5" fill="#231F20" text-anchor="end" transform="rotate(-45 1756.7 1539.9)">3+3</text>
<line x1="1814.7" y1="1492.9" x2="1814.7" y2="1514.9" stroke="#000" stroke-width="3.8" stroke-linecap="round"/>
<text x="1813.7" y="1539.9" font-size="27.5" fill="#231F20" text-anchor="end" transform="rotate(-45 1813.7 1539.9)">4+2</text>
<line x1="1871.8" y1="1492.9" x2="1871.8" y2="1514.9" stroke="#000" stroke-width="3.8" stroke-linecap="round"/>
<text x="1870.8" y="1539.9" font-size="27.5" fill="#231F20" text-anchor="end" transform="rotate(-45 1870.8 1539.9)">5+1</text>
<line x1="1929.6" y1="1492.9" x2="1929.6" y2="1514.9" stroke="#000" stroke-width="3.8" stroke-linecap="round"/>
<text x="1928.6" y="1539.9" font-size="27.5" fill="#231F20" text-anchor="end" transform="rotate(-45 1928.6 1539.9)">6+0</text>
<text x="1461.0" y="1285.2" font-size="27.5" fill="#231F20" text-anchor="middle" transform="rotate(-90 1461.0 1285.2)">% GFP+</text>
<circle cx="1575.7" cy="1489.1" r="7.7" fill="#000" stroke="none" stroke-width="0"/>
<circle cx="1586.5" cy="1488.3" r="7.7" fill="#000" stroke="none" stroke-width="0"/>
<circle cx="1597.3" cy="1488.7" r="7.7" fill="#000" stroke="none" stroke-width="0"/>
<circle cx="1632.8" cy="1487.9" r="7.7" fill="#000" stroke="none" stroke-width="0"/>
<circle cx="1643.6" cy="1487.0" r="7.7" fill="#000" stroke="none" stroke-width="0"/>
<circle cx="1654.4" cy="1487.5" r="7.7" fill="#000" stroke="none" stroke-width="0"/>
<circle cx="1689.8" cy="1419.3" r="7.7" fill="#000" stroke="none" stroke-width="0"/>
<circle cx="1700.6" cy="1406.0" r="7.7" fill="#000" stroke="none" stroke-width="0"/>
<circle cx="1711.4" cy="1415.6" r="7.7" fill="#000" stroke="none" stroke-width="0"/>
<circle cx="1746.9" cy="1184.4" r="7.7" fill="#000" stroke="none" stroke-width="0"/>
<circle cx="1757.7" cy="1174.0" r="7.7" fill="#000" stroke="none" stroke-width="0"/>
<circle cx="1768.5" cy="1179.4" r="7.7" fill="#000" stroke="none" stroke-width="0"/>
<circle cx="1803.9" cy="1104.2" r="7.7" fill="#000" stroke="none" stroke-width="0"/>
<circle cx="1814.7" cy="1095.8" r="7.7" fill="#000" stroke="none" stroke-width="0"/>
<circle cx="1825.5" cy="1100.8" r="7.7" fill="#000" stroke="none" stroke-width="0"/>
<circle cx="1861.0" cy="1103.3" r="7.7" fill="#000" stroke="none" stroke-width="0"/>
<circle cx="1871.8" cy="1087.4" r="7.7" fill="#000" stroke="none" stroke-width="0"/>
<circle cx="1882.6" cy="1097.9" r="7.7" fill="#000" stroke="none" stroke-width="0"/>
<circle cx="1918.8" cy="1085.4" r="7.7" fill="#000" stroke="none" stroke-width="0"/>
<circle cx="1929.6" cy="1078.2" r="7.7" fill="#000" stroke="none" stroke-width="0"/>
<circle cx="1940.4" cy="1079.9" r="7.7" fill="#000" stroke="none" stroke-width="0"/>
<line x1="1587.3" y1="1035.3" x2="1587.3" y2="1471.6" stroke="#231F20" stroke-width="3.2" stroke-linecap="butt"/>
<path d="M1587.3 1036.9H1933.4V1060.8" stroke="#231F20" stroke-width="3.2" fill="none" stroke-linejoin="miter" stroke-linecap="butt"/>
<path d="M1587.3 1057.0H1872.5V1070.4" stroke="#231F20" stroke-width="3.2" fill="none" stroke-linejoin="miter" stroke-linecap="butt"/>
<path d="M1587.3 1078.0H1814.7V1085.6" stroke="#231F20" stroke-width="3.2" fill="none" stroke-linejoin="miter" stroke-linecap="butt"/>
<path d="M1587.3 1146.4H1759.2V1159.7" stroke="#231F20" stroke-width="3.2" fill="none" stroke-linejoin="miter" stroke-linecap="butt"/>
<path d="M1587.3 1322.1H1702.1V1355.6" stroke="#231F20" stroke-width="3.2" fill="none" stroke-linejoin="miter" stroke-linecap="butt"/>
<text x="1759.6" y="1041.1" font-size="29.5" fill="#000" text-anchor="middle">*</text>
<text x="1729.1" y="1062.0" font-size="29.5" fill="#000" text-anchor="middle">*</text>
<text x="1700.6" y="1084.9" font-size="29.5" fill="#000" text-anchor="middle">*</text>
<text x="1672.9" y="1150.6" font-size="29.5" fill="#000" text-anchor="middle">*</text>
<text x="1644.3" y="1326.3" font-size="29.5" fill="#000" text-anchor="middle">*</text>
<text x="709.0" y="1655.0" font-size="37.5" fill="#231F20" text-anchor="start" font-weight="700">f</text>
<text x="898.0" y="1654.4" font-size="27.5" fill="#231F20" text-anchor="middle">shCTRL</text>
<text x="1189.0" y="1654.4" font-size="27.5" fill="#231F20" text-anchor="middle">shChaf1b</text>
<text x="747.0" y="1809.0" font-size="27.5" fill="#000" text-anchor="middle" transform="rotate(-90 747.0 1809.0)" letter-spacing="-1.2">Uninduced</text>
<text x="747.0" y="2091.7" font-size="27.5" fill="#EE3B3A" text-anchor="middle" transform="rotate(-90 747.0 2091.7)" letter-spacing="-1.1">+IPTG</text>
<text x="747.0" y="2374.3" font-size="27.5" fill="#0A9AD0" text-anchor="middle" transform="rotate(-90 747.0 2374.3)" letter-spacing="-0.8">-E2</text>
<rect x="760.1" y="1672.1" width="276.1" height="275.6" fill="#F2E9DA" stroke="none" stroke-width="0"/>
<g clip-path="url(#f1)">
<g fill="#3C4DB0" filter="url(#b05)">
<path d="M760.3 1674.0C763.3 1666.5 773.6 1673.7 777.8 1677.3C782.1 1680.9 785.0 1690.3 785.8 1695.6C786.6 1700.9 785.1 1705.5 782.8 1708.9C780.5 1712.4 775.7 1714.2 772.0 1716.4C768.2 1718.6 762.3 1729.3 760.3 1722.2C758.4 1715.2 757.4 1681.5 760.3 1674.0Z"/>
<path d="M764.6 1733.2C769.5 1723.1 784.1 1721.1 791.5 1721.1C798.9 1721.1 804.7 1726.1 809.1 1733.2C813.4 1740.2 818.0 1755.5 817.4 1763.3C816.9 1771.2 812.4 1775.8 805.7 1780.1C799.0 1784.4 784.5 1789.1 777.2 1789.3C769.9 1789.6 764.2 1791.1 762.1 1781.8C760.0 1772.4 759.7 1743.3 764.6 1733.2Z"/>
<path d="M823.3 1738.1C824.1 1731.8 828.8 1727.9 835.0 1725.5C841.1 1723.2 853.9 1722.1 860.0 1723.9C866.1 1725.7 870.0 1731.3 871.7 1736.4C873.4 1741.6 874.5 1748.7 870.0 1754.8C865.6 1760.9 851.7 1771.8 845.0 1773.2C838.3 1774.5 833.6 1769.0 829.9 1763.1C826.3 1757.3 822.4 1744.3 823.3 1738.1Z"/>
<path d="M894.6 1736.3C895.4 1729.9 903.2 1719.9 909.6 1716.2C916.0 1712.6 926.9 1712.6 933.0 1714.6C939.2 1716.5 943.2 1722.1 946.4 1727.9C949.6 1733.8 955.1 1743.2 952.3 1749.7C949.5 1756.2 937.6 1766.1 929.7 1766.9C921.8 1767.7 910.5 1759.8 904.6 1754.7C898.8 1749.6 893.7 1742.7 894.6 1736.3Z"/>
<path d="M954.8 1712.5C954.5 1703.3 960.5 1696.7 967.4 1690.7C974.2 1684.7 988.6 1677.6 995.9 1676.4C1003.2 1675.3 1007.5 1679.4 1011.0 1684.0C1014.5 1688.6 1016.9 1696.0 1016.9 1704.1C1016.9 1712.2 1015.0 1724.8 1011.0 1732.6C1006.9 1740.5 999.5 1748.9 992.5 1751.1C985.5 1753.3 975.3 1752.5 969.1 1746.1C962.8 1739.6 955.1 1721.7 954.8 1712.5Z"/>
<path d="M854.7 1783.8C854.7 1775.4 862.4 1768.3 867.3 1763.7C872.2 1759.1 877.3 1755.9 884.0 1756.1C890.8 1756.4 900.8 1760.8 907.5 1765.4C914.2 1770.0 921.8 1776.6 924.3 1783.8C926.8 1791.1 927.1 1802.3 922.6 1809.0C918.1 1815.7 906.7 1823.2 897.5 1824.1C888.2 1824.9 874.4 1820.7 867.3 1814.0C860.1 1807.3 854.7 1792.2 854.7 1783.8Z"/>
<path d="M935.3 1780.5C937.3 1772.4 947.6 1767.7 955.4 1765.5C963.2 1763.2 975.6 1763.8 982.2 1767.1C988.7 1770.5 994.2 1779.1 994.7 1785.6C995.3 1792.0 989.6 1800.2 985.5 1805.6C981.5 1811.1 977.4 1816.8 970.5 1818.2C963.5 1819.6 949.5 1820.3 943.7 1814.0C937.8 1807.7 933.4 1788.6 935.3 1780.5Z"/>
<path d="M766.4 1817.8C767.8 1810.8 771.5 1804.1 779.0 1799.3C786.6 1794.6 802.8 1789.0 811.7 1789.3C820.7 1789.6 828.9 1796.3 832.7 1801.0C836.4 1805.8 836.0 1811.9 834.4 1817.8C832.7 1823.7 827.4 1830.6 822.6 1836.2C817.9 1841.8 812.0 1848.2 805.8 1851.3C799.7 1854.4 791.6 1856.4 785.7 1854.7C779.9 1853.0 773.9 1847.4 770.6 1841.3C767.4 1835.1 765.0 1824.8 766.4 1817.8Z"/>
<path d="M979.4 1823.0C980.2 1814.6 987.5 1809.6 992.8 1806.2C998.1 1802.9 1005.3 1800.9 1011.2 1802.9C1017.0 1804.8 1024.3 1811.2 1027.9 1817.9C1031.6 1824.6 1033.5 1836.1 1033.0 1843.1C1032.4 1850.0 1029.0 1855.9 1024.6 1859.8C1020.1 1863.7 1012.3 1867.1 1006.2 1866.5C1000.0 1865.9 992.2 1863.7 987.7 1856.5C983.3 1849.2 978.5 1831.3 979.4 1823.0Z"/>
<path d="M923.4 1844.9C924.0 1838.4 928.4 1832.1 935.1 1829.0C941.8 1826.0 957.1 1825.0 963.5 1826.5C969.9 1828.1 971.2 1832.7 973.6 1838.2C975.9 1843.8 981.1 1853.6 977.7 1860.0C974.4 1866.4 961.2 1875.3 953.5 1876.7C945.8 1878.1 936.8 1873.6 931.8 1868.3C926.8 1863.0 922.8 1851.5 923.4 1844.9Z"/>
<path d="M811.4 1865.2C813.9 1859.0 821.8 1845.1 828.2 1838.4C834.6 1831.6 842.4 1825.5 850.0 1824.9C857.5 1824.4 867.9 1829.1 873.5 1835.0C879.1 1840.9 883.0 1852.1 883.5 1860.2C884.1 1868.3 880.8 1877.9 876.8 1883.7C872.9 1889.4 867.9 1894.6 860.1 1894.6C852.2 1894.6 837.7 1886.9 829.9 1883.7C822.0 1880.4 816.2 1878.3 813.1 1875.3C810.0 1872.2 808.9 1871.4 811.4 1865.2Z"/>
<path d="M959.0 1890.8C959.7 1885.5 964.0 1880.8 968.2 1877.4C972.4 1874.0 977.8 1869.7 984.1 1870.2C990.3 1870.8 1001.1 1875.4 1005.8 1880.7C1010.5 1886.1 1013.6 1896.6 1012.5 1902.5C1011.4 1908.3 1005.0 1912.8 999.1 1915.8C993.3 1918.9 983.2 1922.0 977.4 1920.8C971.5 1919.7 967.1 1914.2 964.0 1909.1C961.0 1904.1 958.3 1896.1 959.0 1890.8Z"/>
<path d="M796.1 1912.8C796.7 1906.7 799.2 1898.3 802.8 1894.4C806.4 1890.5 810.6 1888.4 817.9 1889.4C825.1 1890.4 839.4 1895.2 846.4 1900.3C853.4 1905.3 858.7 1913.5 859.8 1919.5C860.9 1925.5 855.9 1931.5 853.1 1936.3C850.3 1941.0 850.0 1946.1 843.0 1948.0C836.0 1950.0 818.4 1950.8 811.2 1948.0C803.9 1945.2 802.0 1937.1 799.4 1931.3C796.9 1925.4 795.5 1919.0 796.1 1912.8Z"/>
<path d="M972.7 1948.2C963.8 1945.4 976.1 1935.9 982.8 1931.5C989.4 1927.0 1003.9 1921.7 1012.9 1921.4C1021.8 1921.2 1032.4 1925.3 1036.3 1929.8C1040.2 1934.3 1046.9 1945.1 1036.3 1948.2C1025.7 1951.3 981.6 1951.0 972.7 1948.2Z"/>
</g>
<g fill="#6453B0" filter="url(#b1)">
<path d="M762.0 1677.2C764.5 1670.7 773.5 1677.0 777.2 1680.1C780.9 1683.3 783.5 1691.5 784.2 1696.1C784.9 1700.6 783.6 1704.6 781.6 1707.7C779.6 1710.7 775.4 1712.2 772.1 1714.2C768.9 1716.1 763.7 1725.4 762.0 1719.3C760.3 1713.1 759.5 1683.7 762.0 1677.2Z"/>
<path d="M766.6 1735.1C771.1 1725.8 784.5 1724.0 791.3 1724.0C798.1 1724.0 803.5 1728.6 807.5 1735.1C811.5 1741.6 815.8 1755.7 815.2 1762.9C814.7 1770.1 810.6 1774.3 804.4 1778.3C798.3 1782.3 784.9 1786.5 778.2 1786.8C771.5 1787.1 766.2 1788.5 764.3 1779.9C762.4 1771.2 762.1 1744.4 766.6 1735.1Z"/>
<path d="M825.8 1738.8C826.5 1733.2 830.8 1729.7 836.3 1727.6C841.8 1725.4 853.3 1724.4 858.8 1726.1C864.3 1727.7 867.8 1732.7 869.2 1737.3C870.7 1741.9 871.7 1748.3 867.8 1753.8C863.8 1759.3 851.3 1769.0 845.3 1770.3C839.3 1771.5 835.0 1766.5 831.8 1761.3C828.5 1756.0 825.0 1744.4 825.8 1738.8Z"/>
<path d="M897.4 1736.5C898.2 1730.7 905.2 1721.6 911.0 1718.3C916.8 1715.0 926.7 1715.0 932.2 1716.8C937.8 1718.6 941.4 1723.6 944.3 1728.9C947.2 1734.2 952.1 1742.7 949.6 1748.6C947.1 1754.4 936.4 1763.4 929.2 1764.1C922.0 1764.9 911.8 1757.7 906.5 1753.1C901.2 1748.5 896.7 1742.3 897.4 1736.5Z"/>
<path d="M957.5 1712.5C957.2 1704.0 962.7 1697.9 969.1 1692.3C975.4 1686.8 988.7 1680.2 995.4 1679.2C1002.1 1678.1 1006.1 1681.9 1009.4 1686.1C1012.6 1690.4 1014.8 1697.2 1014.8 1704.7C1014.8 1712.2 1013.1 1723.9 1009.4 1731.1C1005.6 1738.3 998.8 1746.1 992.3 1748.1C985.9 1750.2 976.4 1749.4 970.6 1743.5C964.8 1737.5 957.7 1721.0 957.5 1712.5Z"/>
<path d="M857.4 1784.1C857.4 1776.4 864.5 1769.8 869.0 1765.5C873.6 1761.2 878.3 1758.3 884.5 1758.5C890.7 1758.8 900.0 1762.8 906.2 1767.1C912.4 1771.3 919.4 1777.4 921.7 1784.1C924.1 1790.8 924.3 1801.2 920.2 1807.4C916.1 1813.6 905.5 1820.5 896.9 1821.3C888.4 1822.1 875.6 1818.2 869.0 1812.0C862.5 1805.8 857.4 1791.9 857.4 1784.1Z"/>
<path d="M938.1 1781.5C939.9 1774.1 949.3 1769.8 956.4 1767.8C963.5 1765.7 974.8 1766.2 980.8 1769.3C986.7 1772.3 991.7 1780.2 992.2 1786.0C992.7 1791.9 987.5 1799.4 983.8 1804.3C980.1 1809.3 976.5 1814.5 970.1 1815.7C963.8 1817.0 951.1 1817.6 945.8 1811.9C940.4 1806.2 936.4 1788.8 938.1 1781.5Z"/>
<path d="M769.1 1818.2C770.4 1811.8 773.8 1805.6 780.7 1801.2C787.7 1796.8 802.6 1791.7 810.9 1791.9C819.1 1792.2 826.7 1798.4 830.2 1802.8C833.7 1807.1 833.3 1812.8 831.7 1818.2C830.2 1823.6 825.3 1830.1 820.9 1835.2C816.5 1840.4 811.1 1846.3 805.5 1849.1C799.8 1852.0 792.3 1853.8 786.9 1852.2C781.5 1850.7 776.0 1845.5 773.0 1839.8C770.0 1834.2 767.9 1824.6 769.1 1818.2Z"/>
<path d="M981.8 1824.0C982.6 1816.3 989.2 1811.7 994.1 1808.7C998.9 1805.6 1005.5 1803.8 1010.9 1805.6C1016.2 1807.4 1022.9 1813.3 1026.2 1819.4C1029.5 1825.5 1031.3 1835.9 1030.8 1842.3C1030.3 1848.7 1027.2 1854.0 1023.1 1857.6C1019.1 1861.2 1011.9 1864.2 1006.3 1863.7C1000.7 1863.2 993.6 1861.2 989.5 1854.5C985.4 1847.9 981.1 1831.6 981.8 1824.0Z"/>
<path d="M926.1 1845.3C926.6 1839.4 930.6 1833.8 936.7 1831.0C942.7 1828.2 956.6 1827.3 962.3 1828.7C968.1 1830.1 969.3 1834.3 971.4 1839.3C973.5 1844.3 978.2 1853.1 975.2 1858.9C972.2 1864.7 960.2 1872.8 953.3 1874.0C946.4 1875.3 938.2 1871.3 933.7 1866.5C929.1 1861.7 925.6 1851.3 926.1 1845.3Z"/>
<path d="M814.1 1865.0C816.4 1859.3 823.7 1846.4 829.6 1840.1C835.6 1833.9 842.8 1828.2 849.8 1827.7C856.8 1827.2 866.4 1831.6 871.5 1837.0C876.7 1842.5 880.3 1852.8 880.9 1860.3C881.4 1867.8 878.3 1876.8 874.6 1882.1C871.0 1887.4 866.4 1892.2 859.1 1892.2C851.9 1892.2 838.4 1885.0 831.2 1882.1C823.9 1879.1 818.5 1877.1 815.6 1874.3C812.8 1871.5 811.8 1870.7 814.1 1865.0Z"/>
<path d="M961.5 1891.3C962.1 1886.5 966.0 1882.4 969.8 1879.3C973.5 1876.2 978.4 1872.3 984.0 1872.8C989.7 1873.3 999.3 1877.4 1003.6 1882.3C1007.8 1887.1 1010.6 1896.5 1009.6 1901.8C1008.6 1907.1 1002.8 1911.1 997.6 1913.8C992.3 1916.6 983.3 1919.3 978.0 1918.3C972.8 1917.3 968.8 1912.3 966.0 1907.8C963.3 1903.3 960.9 1896.0 961.5 1891.3Z"/>
<path d="M798.5 1913.4C799.0 1907.8 801.3 1900.1 804.7 1896.5C808.0 1892.9 811.8 1891.0 818.5 1891.9C825.2 1892.8 838.2 1897.3 844.6 1901.9C851.1 1906.5 855.9 1914.1 857.0 1919.6C858.0 1925.1 853.4 1930.6 850.8 1935.0C848.2 1939.3 848.0 1943.9 841.6 1945.7C835.2 1947.5 819.0 1948.3 812.4 1945.7C805.7 1943.2 803.9 1935.7 801.6 1930.3C799.3 1925.0 798.0 1919.1 798.5 1913.4Z"/>
<path d="M976.1 1947.0C968.0 1944.5 979.1 1935.9 985.1 1931.9C991.2 1927.8 1004.3 1923.0 1012.4 1922.8C1020.5 1922.5 1030.1 1926.3 1033.6 1930.4C1037.2 1934.4 1043.2 1944.3 1033.6 1947.0C1024.0 1949.8 984.1 1949.6 976.1 1947.0Z"/>
</g>
<g fill="#4E3CA2" opacity="0.6" filter="url(#b5)">
<ellipse cx="773.2" cy="1699.1" rx="6.4" ry="12.1"/>
<ellipse cx="789.7" cy="1757.4" rx="13.8" ry="17.1"/>
<ellipse cx="847.8" cy="1745.0" rx="12.1" ry="12.3"/>
<ellipse cx="924.3" cy="1738.0" rx="14.4" ry="13.1"/>
<ellipse cx="989.8" cy="1712.2" rx="15.5" ry="18.7"/>
<ellipse cx="890.6" cy="1787.5" rx="17.4" ry="17.0"/>
<ellipse cx="966.7" cy="1790.9" rx="14.9" ry="13.2"/>
<ellipse cx="801.0" cy="1823.2" rx="17.0" ry="16.3"/>
<ellipse cx="1007.8" cy="1834.5" rx="13.4" ry="15.9"/>
<ellipse cx="951.2" cy="1849.1" rx="13.6" ry="12.5"/>
<ellipse cx="847.4" cy="1862.3" rx="18.0" ry="17.4"/>
<ellipse cx="983.8" cy="1895.9" rx="13.4" ry="12.7"/>
<ellipse cx="825.5" cy="1920.0" rx="15.9" ry="14.7"/>
<ellipse cx="1008.2" cy="1935.8" rx="15.9" ry="6.7"/>
</g>
<g fill="#cfc8ee" opacity="0.3" filter="url(#tex)">
<path d="M762.0 1677.2C764.5 1670.7 773.5 1677.0 777.2 1680.1C780.9 1683.3 783.5 1691.5 784.2 1696.1C784.9 1700.6 783.6 1704.6 781.6 1707.7C779.6 1710.7 775.4 1712.2 772.1 1714.2C768.9 1716.1 763.7 1725.4 762.0 1719.3C760.3 1713.1 759.5 1683.7 762.0 1677.2Z"/>
<path d="M766.6 1735.1C771.1 1725.8 784.5 1724.0 791.3 1724.0C798.1 1724.0 803.5 1728.6 807.5 1735.1C811.5 1741.6 815.8 1755.7 815.2 1762.9C814.7 1770.1 810.6 1774.3 804.4 1778.3C798.3 1782.3 784.9 1786.5 778.2 1786.8C771.5 1787.1 766.2 1788.5 764.3 1779.9C762.4 1771.2 762.1 1744.4 766.6 1735.1Z"/>
<path d="M825.8 1738.8C826.5 1733.2 830.8 1729.7 836.3 1727.6C841.8 1725.4 853.3 1724.4 858.8 1726.1C864.3 1727.7 867.8 1732.7 869.2 1737.3C870.7 1741.9 871.7 1748.3 867.8 1753.8C863.8 1759.3 851.3 1769.0 845.3 1770.3C839.3 1771.5 835.0 1766.5 831.8 1761.3C828.5 1756.0 825.0 1744.4 825.8 1738.8Z"/>
<path d="M897.4 1736.5C898.2 1730.7 905.2 1721.6 911.0 1718.3C916.8 1715.0 926.7 1715.0 932.2 1716.8C937.8 1718.6 941.4 1723.6 944.3 1728.9C947.2 1734.2 952.1 1742.7 949.6 1748.6C947.1 1754.4 936.4 1763.4 929.2 1764.1C922.0 1764.9 911.8 1757.7 906.5 1753.1C901.2 1748.5 896.7 1742.3 897.4 1736.5Z"/>
<path d="M957.5 1712.5C957.2 1704.0 962.7 1697.9 969.1 1692.3C975.4 1686.8 988.7 1680.2 995.4 1679.2C1002.1 1678.1 1006.1 1681.9 1009.4 1686.1C1012.6 1690.4 1014.8 1697.2 1014.8 1704.7C1014.8 1712.2 1013.1 1723.9 1009.4 1731.1C1005.6 1738.3 998.8 1746.1 992.3 1748.1C985.9 1750.2 976.4 1749.4 970.6 1743.5C964.8 1737.5 957.7 1721.0 957.5 1712.5Z"/>
<path d="M857.4 1784.1C857.4 1776.4 864.5 1769.8 869.0 1765.5C873.6 1761.2 878.3 1758.3 884.5 1758.5C890.7 1758.8 900.0 1762.8 906.2 1767.1C912.4 1771.3 919.4 1777.4 921.7 1784.1C924.1 1790.8 924.3 1801.2 920.2 1807.4C916.1 1813.6 905.5 1820.5 896.9 1821.3C888.4 1822.1 875.6 1818.2 869.0 1812.0C862.5 1805.8 857.4 1791.9 857.4 1784.1Z"/>
<path d="M938.1 1781.5C939.9 1774.1 949.3 1769.8 956.4 1767.8C963.5 1765.7 974.8 1766.2 980.8 1769.3C986.7 1772.3 991.7 1780.2 992.2 1786.0C992.7 1791.9 987.5 1799.4 983.8 1804.3C980.1 1809.3 976.5 1814.5 970.1 1815.7C963.8 1817.0 951.1 1817.6 945.8 1811.9C940.4 1806.2 936.4 1788.8 938.1 1781.5Z"/>
<path d="M769.1 1818.2C770.4 1811.8 773.8 1805.6 780.7 1801.2C787.7 1796.8 802.6 1791.7 810.9 1791.9C819.1 1792.2 826.7 1798.4 830.2 1802.8C833.7 1807.1 833.3 1812.8 831.7 1818.2C830.2 1823.6 825.3 1830.1 820.9 1835.2C816.5 1840.4 811.1 1846.3 805.5 1849.1C799.8 1852.0 792.3 1853.8 786.9 1852.2C781.5 1850.7 776.0 1845.5 773.0 1839.8C770.0 1834.2 767.9 1824.6 769.1 1818.2Z"/>
<path d="M981.8 1824.0C982.6 1816.3 989.2 1811.7 994.1 1808.7C998.9 1805.6 1005.5 1803.8 1010.9 1805.6C1016.2 1807.4 1022.9 1813.3 1026.2 1819.4C1029.5 1825.5 1031.3 1835.9 1030.8 1842.3C1030.3 1848.7 1027.2 1854.0 1023.1 1857.6C1019.1 1861.2 1011.9 1864.2 1006.3 1863.7C1000.7 1863.2 993.6 1861.2 989.5 1854.5C985.4 1847.9 981.1 1831.6 981.8 1824.0Z"/>
<path d="M926.1 1845.3C926.6 1839.4 930.6 1833.8 936.7 1831.0C942.7 1828.2 956.6 1827.3 962.3 1828.7C968.1 1830.1 969.3 1834.3 971.4 1839.3C973.5 1844.3 978.2 1853.1 975.2 1858.9C972.2 1864.7 960.2 1872.8 953.3 1874.0C946.4 1875.3 938.2 1871.3 933.7 1866.5C929.1 1861.7 925.6 1851.3 926.1 1845.3Z"/>
<path d="M814.1 1865.0C816.4 1859.3 823.7 1846.4 829.6 1840.1C835.6 1833.9 842.8 1828.2 849.8 1827.7C856.8 1827.2 866.4 1831.6 871.5 1837.0C876.7 1842.5 880.3 1852.8 880.9 1860.3C881.4 1867.8 878.3 1876.8 874.6 1882.1C871.0 1887.4 866.4 1892.2 859.1 1892.2C851.9 1892.2 838.4 1885.0 831.2 1882.1C823.9 1879.1 818.5 1877.1 815.6 1874.3C812.8 1871.5 811.8 1870.7 814.1 1865.0Z"/>
<path d="M961.5 1891.3C962.1 1886.5 966.0 1882.4 969.8 1879.3C973.5 1876.2 978.4 1872.3 984.0 1872.8C989.7 1873.3 999.3 1877.4 1003.6 1882.3C1007.8 1887.1 1010.6 1896.5 1009.6 1901.8C1008.6 1907.1 1002.8 1911.1 997.6 1913.8C992.3 1916.6 983.3 1919.3 978.0 1918.3C972.8 1917.3 968.8 1912.3 966.0 1907.8C963.3 1903.3 960.9 1896.0 961.5 1891.3Z"/>
<path d="M798.5 1913.4C799.0 1907.8 801.3 1900.1 804.7 1896.5C808.0 1892.9 811.8 1891.0 818.5 1891.9C825.2 1892.8 838.2 1897.3 844.6 1901.9C851.1 1906.5 855.9 1914.1 857.0 1919.6C858.0 1925.1 853.4 1930.6 850.8 1935.0C848.2 1939.3 848.0 1943.9 841.6 1945.7C835.2 1947.5 819.0 1948.3 812.4 1945.7C805.7 1943.2 803.9 1935.7 801.6 1930.3C799.3 1925.0 798.0 1919.1 798.5 1913.4Z"/>
<path d="M976.1 1947.0C968.0 1944.5 979.1 1935.9 985.1 1931.9C991.2 1927.8 1004.3 1923.0 1012.4 1922.8C1020.5 1922.5 1030.1 1926.3 1033.6 1930.4C1037.2 1934.4 1043.2 1944.3 1033.6 1947.0C1024.0 1949.8 984.1 1949.6 976.1 1947.0Z"/>
</g>
</g>
<rect x="762.0" y="1673.9" width="272.4" height="271.9" fill="none" stroke="#000" stroke-width="3.7"/>
<rect x="1049.3" y="1672.1" width="276.2" height="275.6" fill="#F2E9DA" stroke="none" stroke-width="0"/>
<g clip-path="url(#f2)">
<g fill="#3C4DB0" filter="url(#b05)">
<path d="M1046.8 1695.9C1051.2 1688.6 1065.7 1689.2 1073.6 1689.2C1081.4 1689.2 1089.3 1692.5 1093.6 1695.9C1098.0 1699.2 1099.8 1703.1 1099.5 1709.3C1099.2 1715.4 1095.5 1726.0 1092.0 1732.7C1088.5 1739.4 1083.0 1746.9 1078.6 1749.4C1074.1 1751.9 1070.5 1750.6 1065.2 1747.8C1059.9 1745.0 1049.8 1741.3 1046.8 1732.7C1043.7 1724.0 1042.3 1703.1 1046.8 1695.9Z"/>
<path d="M1084.1 1756.6C1086.1 1747.9 1099.8 1728.9 1104.3 1721.3C1108.7 1713.8 1107.6 1712.4 1111.0 1711.3C1114.3 1710.1 1119.9 1711.0 1124.4 1714.6C1128.9 1718.2 1132.8 1727.2 1137.8 1733.1C1142.9 1738.9 1152.4 1744.2 1154.6 1749.8C1156.8 1755.4 1155.2 1761.0 1151.2 1766.6C1147.3 1772.2 1137.8 1780.3 1131.1 1783.4C1124.4 1786.5 1117.4 1786.7 1111.0 1785.1C1104.6 1783.4 1097.0 1778.1 1092.5 1773.3C1088.1 1768.6 1082.2 1765.2 1084.1 1756.6Z"/>
<path d="M1135.0 1705.8C1136.2 1700.8 1141.7 1694.1 1146.7 1690.8C1151.8 1687.4 1159.3 1685.5 1165.1 1685.8C1171.0 1686.0 1178.1 1688.5 1181.8 1692.4C1185.6 1696.3 1188.0 1703.3 1187.7 1709.2C1187.4 1715.0 1183.6 1722.7 1180.2 1727.5C1176.7 1732.4 1171.3 1737.3 1166.8 1738.4C1162.3 1739.5 1157.9 1737.1 1153.4 1734.2C1149.0 1731.3 1143.1 1725.6 1140.1 1720.9C1137.0 1716.1 1133.9 1710.8 1135.0 1705.8Z"/>
<path d="M1179.2 1741.3C1179.7 1731.3 1188.1 1709.5 1195.9 1704.5C1203.7 1699.5 1219.8 1707.5 1226.1 1711.2C1232.3 1714.8 1233.0 1719.0 1233.6 1726.3C1234.1 1733.5 1232.9 1747.5 1229.4 1754.7C1225.9 1762.0 1218.8 1768.1 1212.7 1769.8C1206.5 1771.5 1198.1 1769.5 1192.6 1764.8C1187.0 1760.0 1178.6 1751.4 1179.2 1741.3Z"/>
<path d="M1238.5 1759.7C1237.1 1751.1 1239.6 1729.5 1243.5 1721.2C1247.4 1713.0 1255.2 1711.2 1261.9 1710.3C1268.6 1709.5 1278.4 1712.4 1283.7 1716.2C1289.0 1720.0 1293.8 1727.4 1293.8 1732.9C1293.8 1738.5 1290.7 1743.0 1283.7 1749.7C1276.7 1756.4 1259.4 1771.4 1251.9 1773.1C1244.4 1774.8 1239.9 1768.4 1238.5 1759.7Z"/>
<path d="M1260.7 1777.0C1266.2 1770.2 1288.9 1750.2 1297.5 1746.0C1306.2 1741.8 1308.2 1745.0 1312.6 1751.9C1317.1 1758.7 1322.4 1778.2 1324.4 1787.1C1326.3 1796.0 1327.4 1801.6 1324.4 1805.5C1321.3 1809.5 1316.0 1813.6 1305.9 1810.6C1295.9 1807.5 1271.6 1792.7 1264.0 1787.1C1256.5 1781.5 1255.1 1783.9 1260.7 1777.0Z"/>
<path d="M1046.6 1750.3C1049.1 1745.9 1058.5 1753.9 1061.5 1756.9C1064.5 1760.0 1065.4 1764.6 1064.8 1768.5C1064.3 1772.3 1061.2 1777.6 1058.2 1780.0C1055.2 1782.5 1048.6 1788.3 1046.6 1783.4C1044.7 1778.4 1044.2 1754.7 1046.6 1750.3Z"/>
<path d="M1046.6 1799.5C1049.1 1792.0 1057.4 1801.8 1061.6 1806.2C1065.8 1810.6 1071.0 1820.1 1071.6 1826.2C1072.2 1832.3 1069.1 1838.7 1064.9 1842.8C1060.8 1847.0 1049.7 1858.4 1046.6 1851.2C1043.6 1844.0 1044.1 1807.0 1046.6 1799.5Z"/>
<path d="M1102.8 1817.8C1102.8 1811.1 1106.7 1805.1 1111.1 1801.0C1115.6 1797.0 1123.4 1793.5 1129.5 1793.5C1135.7 1793.5 1143.5 1796.4 1147.9 1801.0C1152.4 1805.6 1156.3 1814.4 1156.3 1821.1C1156.3 1827.8 1152.7 1836.6 1147.9 1841.2C1143.2 1845.8 1134.0 1848.7 1127.9 1848.7C1121.7 1848.7 1115.3 1846.3 1111.1 1841.2C1107.0 1836.0 1102.8 1824.5 1102.8 1817.8Z"/>
<path d="M1172.3 1848.4C1173.7 1843.4 1177.9 1836.9 1182.4 1833.3C1186.8 1829.7 1193.2 1826.3 1199.1 1826.6C1205.0 1826.9 1212.9 1830.2 1217.5 1835.0C1222.1 1839.7 1226.1 1848.4 1226.7 1855.1C1227.3 1861.8 1224.9 1869.7 1220.9 1875.1C1216.8 1880.6 1208.3 1886.9 1202.4 1887.7C1196.6 1888.5 1190.5 1884.2 1185.7 1880.2C1181.0 1876.1 1176.2 1868.7 1174.0 1863.4C1171.8 1858.1 1170.9 1853.4 1172.3 1848.4Z"/>
<path d="M1241.1 1817.8C1241.6 1812.5 1243.4 1805.0 1246.9 1801.0C1250.4 1797.1 1255.8 1794.4 1262.0 1794.4C1268.1 1794.4 1277.1 1796.6 1283.7 1801.0C1290.4 1805.5 1299.9 1814.4 1302.2 1821.1C1304.4 1827.8 1300.8 1836.2 1297.1 1841.2C1293.5 1846.3 1287.1 1850.4 1280.4 1851.3C1273.7 1852.1 1263.1 1849.3 1257.0 1846.3C1250.8 1843.2 1246.2 1837.6 1243.6 1832.9C1240.9 1828.1 1240.5 1823.1 1241.1 1817.8Z"/>
<path d="M1126.5 1867.1C1128.2 1863.2 1132.9 1857.8 1138.2 1855.4C1143.5 1853.0 1153.3 1851.5 1158.3 1852.9C1163.3 1854.3 1165.0 1858.1 1168.3 1863.8C1171.7 1869.5 1178.3 1880.2 1178.3 1887.2C1178.3 1894.2 1172.8 1901.8 1168.3 1905.6C1163.8 1909.3 1156.6 1910.9 1151.6 1909.8C1146.6 1908.6 1142.1 1904.0 1138.2 1898.9C1134.3 1893.7 1130.1 1884.1 1128.2 1878.8C1126.2 1873.5 1124.8 1871.0 1126.5 1867.1Z"/>
<path d="M1060.4 1902.6C1061.5 1896.1 1067.6 1886.1 1073.8 1880.8C1079.9 1875.5 1090.0 1871.0 1097.2 1870.7C1104.5 1870.5 1111.8 1873.3 1117.3 1879.1C1122.9 1885.0 1129.9 1899.8 1130.7 1905.9C1131.6 1912.1 1129.1 1913.5 1122.4 1916.0C1115.7 1918.5 1098.4 1918.8 1090.5 1921.0C1082.7 1923.2 1079.4 1929.7 1075.5 1929.4C1071.6 1929.1 1069.6 1923.8 1067.1 1919.3C1064.6 1914.9 1059.3 1909.0 1060.4 1902.6Z"/>
<path d="M1080.0 1948.2C1071.6 1945.4 1082.3 1935.5 1087.5 1931.5C1092.6 1927.5 1103.6 1924.3 1110.9 1924.0C1118.1 1923.7 1126.4 1925.8 1130.9 1929.8C1135.3 1933.9 1146.0 1945.1 1137.6 1948.2C1129.1 1951.2 1088.3 1951.0 1080.0 1948.2Z"/>
<path d="M1204.6 1948.1C1195.4 1944.5 1203.2 1932.5 1206.3 1926.4C1209.4 1920.2 1216.9 1913.8 1223.0 1911.3C1229.1 1908.8 1237.5 1909.1 1243.1 1911.3C1248.6 1913.5 1253.4 1918.6 1256.4 1924.7C1259.5 1930.8 1270.1 1944.2 1261.5 1948.1C1252.8 1952.0 1213.8 1951.7 1204.6 1948.1Z"/>
<path d="M1258.9 1911.1C1258.7 1905.9 1261.4 1901.1 1265.6 1897.8C1269.8 1894.4 1279.3 1890.5 1284.0 1891.1C1288.7 1891.7 1289.6 1897.2 1294.0 1901.1C1298.5 1905.0 1308.5 1909.8 1310.7 1914.5C1313.0 1919.2 1307.4 1925.9 1307.4 1929.5C1307.4 1933.1 1315.7 1934.0 1310.7 1936.2C1305.7 1938.4 1284.6 1944.0 1277.3 1942.9C1270.1 1941.8 1270.3 1934.8 1267.3 1929.5C1264.2 1924.2 1259.2 1916.4 1258.9 1911.1Z"/>
<path d="M1289.3 1868.8C1289.9 1862.6 1291.8 1856.1 1297.7 1852.0C1303.5 1848.0 1320.0 1835.6 1324.4 1844.5C1328.9 1853.4 1327.2 1895.9 1324.4 1905.5C1321.6 1915.1 1312.7 1905.0 1307.7 1902.2C1302.7 1899.4 1297.4 1894.4 1294.3 1888.8C1291.3 1883.2 1288.8 1874.9 1289.3 1868.8Z"/>
<path d="M1046.6 1916.6C1048.8 1912.7 1057.3 1919.6 1059.8 1924.9C1062.3 1930.1 1063.7 1944.2 1061.5 1948.0C1059.3 1951.9 1049.1 1953.3 1046.6 1948.0C1044.1 1942.8 1044.4 1920.5 1046.6 1916.6Z"/>
<path d="M1318.0 1919.8C1319.2 1917.1 1323.5 1911.7 1324.5 1914.9C1325.6 1918.2 1325.8 1936.6 1324.5 1939.4C1323.3 1942.1 1318.3 1934.5 1317.2 1931.2C1316.1 1928.0 1316.8 1922.5 1318.0 1919.8Z"/>
</g>
<g fill="#6453B0" filter="url(#b1)">
<path d="M1049.2 1697.9C1053.3 1691.3 1066.5 1691.8 1073.6 1691.8C1080.8 1691.8 1088.0 1694.8 1092.0 1697.9C1095.9 1701.0 1097.6 1704.5 1097.3 1710.1C1097.1 1715.7 1093.6 1725.4 1090.4 1731.5C1087.3 1737.6 1082.3 1744.5 1078.2 1746.8C1074.1 1749.1 1070.8 1747.8 1066.0 1745.2C1061.2 1742.7 1052.0 1739.4 1049.2 1731.5C1046.4 1723.6 1045.1 1704.5 1049.2 1697.9Z"/>
<path d="M1086.8 1756.0C1088.7 1748.0 1101.3 1730.4 1105.5 1723.4C1109.6 1716.5 1108.6 1715.2 1111.7 1714.1C1114.8 1713.1 1120.0 1713.9 1124.1 1717.2C1128.2 1720.6 1131.8 1728.9 1136.5 1734.3C1141.2 1739.7 1149.9 1744.6 1152.0 1749.8C1154.1 1755.0 1152.5 1760.2 1148.9 1765.3C1145.3 1770.5 1136.5 1778.0 1130.3 1780.8C1124.1 1783.7 1117.6 1784.0 1111.7 1782.4C1105.7 1780.8 1098.7 1775.9 1094.6 1771.5C1090.5 1767.1 1085.0 1764.0 1086.8 1756.0Z"/>
<path d="M1137.8 1706.4C1138.8 1701.9 1143.8 1695.9 1148.3 1692.9C1152.8 1689.9 1159.5 1688.1 1164.8 1688.4C1170.1 1688.6 1176.4 1690.9 1179.8 1694.4C1183.2 1697.9 1185.3 1704.2 1185.1 1709.4C1184.8 1714.7 1181.5 1721.6 1178.3 1725.9C1175.2 1730.3 1170.3 1734.7 1166.3 1735.7C1162.3 1736.7 1158.3 1734.6 1154.3 1731.9C1150.3 1729.3 1145.0 1724.2 1142.3 1719.9C1139.5 1715.7 1136.8 1710.9 1137.8 1706.4Z"/>
<path d="M1181.8 1741.1C1182.3 1731.9 1189.9 1712.0 1197.1 1707.4C1204.2 1702.8 1218.9 1710.2 1224.7 1713.5C1230.4 1716.9 1231.1 1720.7 1231.6 1727.3C1232.1 1734.0 1230.9 1746.7 1227.7 1753.4C1224.6 1760.0 1218.0 1765.6 1212.4 1767.2C1206.8 1768.7 1199.1 1766.9 1194.0 1762.6C1188.9 1758.2 1181.3 1750.3 1181.8 1741.1Z"/>
<path d="M1240.9 1757.8C1239.6 1749.9 1241.9 1730.2 1245.4 1722.7C1249.0 1715.2 1256.1 1713.5 1262.2 1712.7C1268.3 1712.0 1277.3 1714.6 1282.1 1718.1C1286.9 1721.5 1291.2 1728.3 1291.2 1733.4C1291.2 1738.4 1288.4 1742.5 1282.1 1748.6C1275.7 1754.7 1260.0 1768.5 1253.1 1770.0C1246.2 1771.5 1242.1 1765.7 1240.9 1757.8Z"/>
<path d="M1263.6 1777.3C1268.8 1771.0 1289.6 1752.6 1297.6 1748.7C1305.6 1744.9 1307.4 1747.8 1311.5 1754.1C1315.7 1760.5 1320.6 1778.4 1322.4 1786.6C1324.2 1794.8 1325.2 1800.0 1322.4 1803.6C1319.5 1807.2 1314.6 1811.1 1305.4 1808.2C1296.1 1805.4 1273.7 1791.8 1266.7 1786.6C1259.7 1781.5 1258.5 1783.6 1263.6 1777.3Z"/>
<path d="M1048.3 1753.5C1050.3 1749.9 1057.9 1756.4 1060.4 1758.9C1062.9 1761.4 1063.6 1765.2 1063.1 1768.4C1062.7 1771.5 1060.2 1775.8 1057.7 1777.8C1055.2 1779.9 1049.8 1784.6 1048.3 1780.5C1046.7 1776.5 1046.2 1757.1 1048.3 1753.5Z"/>
<path d="M1048.0 1802.6C1050.2 1796.0 1057.5 1804.6 1061.2 1808.5C1064.9 1812.4 1069.5 1820.7 1070.0 1826.1C1070.5 1831.4 1067.8 1837.1 1064.1 1840.7C1060.5 1844.4 1050.7 1854.4 1048.0 1848.1C1045.3 1841.7 1045.8 1809.2 1048.0 1802.6Z"/>
<path d="M1105.3 1818.0C1105.3 1812.0 1108.8 1806.6 1112.9 1802.9C1116.9 1799.3 1124.0 1796.1 1129.5 1796.1C1135.1 1796.1 1142.1 1798.8 1146.2 1802.9C1150.2 1807.1 1153.7 1815.0 1153.7 1821.1C1153.7 1827.1 1150.4 1835.1 1146.2 1839.2C1141.9 1843.4 1133.6 1846.0 1128.0 1846.0C1122.5 1846.0 1116.7 1843.9 1112.9 1839.2C1109.1 1834.6 1105.3 1824.1 1105.3 1818.0Z"/>
<path d="M1174.7 1849.1C1175.9 1844.5 1179.7 1838.7 1183.8 1835.4C1187.8 1832.1 1193.7 1829.1 1199.0 1829.3C1204.3 1829.6 1211.5 1832.6 1215.7 1836.9C1219.9 1841.2 1223.6 1849.1 1224.1 1855.2C1224.6 1861.2 1222.4 1868.5 1218.7 1873.4C1215.1 1878.3 1207.3 1884.0 1202.0 1884.8C1196.7 1885.6 1191.1 1881.6 1186.8 1878.0C1182.5 1874.3 1178.2 1867.6 1176.2 1862.8C1174.2 1857.9 1173.4 1853.6 1174.7 1849.1Z"/>
<path d="M1243.4 1818.2C1244.0 1813.4 1245.6 1806.5 1248.8 1803.0C1252.0 1799.4 1256.9 1796.9 1262.5 1796.9C1268.1 1796.9 1276.3 1798.9 1282.4 1803.0C1288.5 1807.1 1297.1 1815.2 1299.2 1821.3C1301.2 1827.4 1297.9 1835.0 1294.6 1839.6C1291.3 1844.2 1285.4 1848.0 1279.3 1848.8C1273.2 1849.6 1263.6 1847.0 1258.0 1844.2C1252.4 1841.4 1248.2 1836.3 1245.7 1832.0C1243.3 1827.7 1242.9 1823.1 1243.4 1818.2Z"/>
<path d="M1128.8 1868.4C1130.4 1864.8 1134.6 1859.9 1139.4 1857.8C1144.2 1855.7 1153.0 1854.3 1157.5 1855.5C1162.1 1856.8 1163.6 1860.2 1166.6 1865.3C1169.6 1870.5 1175.7 1880.2 1175.7 1886.5C1175.7 1892.8 1170.6 1899.7 1166.6 1903.1C1162.6 1906.5 1156.0 1907.9 1151.5 1906.9C1147.0 1905.9 1142.9 1901.7 1139.4 1897.1C1135.9 1892.4 1132.1 1883.7 1130.4 1878.9C1128.6 1874.2 1127.3 1871.9 1128.8 1868.4Z"/>
<path d="M1063.1 1902.6C1064.1 1896.7 1069.8 1887.5 1075.4 1882.6C1081.0 1877.8 1090.2 1873.7 1096.9 1873.4C1103.5 1873.2 1110.2 1875.7 1115.3 1881.1C1120.4 1886.5 1126.8 1900.0 1127.6 1905.7C1128.3 1911.3 1126.0 1912.6 1119.9 1914.9C1113.8 1917.2 1097.9 1917.4 1090.7 1919.5C1083.6 1921.5 1080.5 1927.4 1076.9 1927.1C1073.3 1926.9 1071.5 1922.0 1069.2 1917.9C1066.9 1913.8 1062.1 1908.5 1063.1 1902.6Z"/>
<path d="M1083.2 1946.9C1075.7 1944.4 1085.3 1935.6 1089.9 1932.0C1094.4 1928.4 1104.2 1925.6 1110.7 1925.3C1117.1 1925.1 1124.6 1926.9 1128.5 1930.5C1132.5 1934.1 1142.1 1944.2 1134.5 1946.9C1126.9 1949.6 1090.6 1949.4 1083.2 1946.9Z"/>
<path d="M1207.4 1946.1C1199.1 1942.9 1206.1 1932.1 1208.9 1926.5C1211.6 1921.0 1218.4 1915.2 1223.9 1913.0C1229.5 1910.7 1237.0 1911.0 1242.0 1913.0C1247.1 1915.0 1251.3 1919.5 1254.1 1925.0C1256.9 1930.6 1266.4 1942.6 1258.6 1946.1C1250.8 1949.7 1215.6 1949.4 1207.4 1946.1Z"/>
<path d="M1261.7 1911.7C1261.5 1907.0 1264.0 1902.7 1267.7 1899.7C1271.5 1896.7 1280.0 1893.2 1284.2 1893.7C1288.5 1894.2 1289.2 1899.2 1293.2 1902.7C1297.2 1906.2 1306.2 1910.5 1308.2 1914.7C1310.2 1919.0 1305.2 1925.0 1305.2 1928.3C1305.2 1931.5 1312.7 1932.3 1308.2 1934.3C1303.7 1936.3 1284.7 1941.3 1278.2 1940.3C1271.7 1939.3 1272.0 1933.0 1269.2 1928.3C1266.5 1923.5 1262.0 1916.5 1261.7 1911.7Z"/>
<path d="M1291.0 1869.6C1291.5 1864.0 1293.2 1858.1 1298.5 1854.5C1303.8 1850.9 1318.6 1839.7 1322.6 1847.7C1326.6 1855.7 1325.1 1894.0 1322.6 1902.7C1320.1 1911.4 1312.1 1902.2 1307.6 1899.7C1303.0 1897.2 1298.3 1892.7 1295.5 1887.6C1292.7 1882.6 1290.5 1875.1 1291.0 1869.6Z"/>
<path d="M1047.8 1919.6C1049.6 1916.4 1056.7 1922.1 1058.8 1926.5C1060.8 1930.8 1062.0 1942.5 1060.1 1945.7C1058.3 1948.9 1049.8 1950.1 1047.8 1945.7C1045.7 1941.4 1045.9 1922.8 1047.8 1919.6Z"/>
<path d="M1318.8 1921.5C1319.7 1919.6 1322.8 1915.6 1323.6 1918.0C1324.4 1920.4 1324.5 1933.9 1323.6 1935.9C1322.7 1937.9 1319.0 1932.3 1318.2 1929.9C1317.4 1927.5 1317.9 1923.5 1318.8 1921.5Z"/>
</g>
<g fill="#5240A4" opacity="0.6" filter="url(#b5)">
<ellipse cx="1074.5" cy="1719.1" rx="13.2" ry="15.1"/>
<ellipse cx="1120.2" cy="1749.5" rx="17.6" ry="18.5"/>
<ellipse cx="1161.9" cy="1711.7" rx="13.2" ry="13.2"/>
<ellipse cx="1209.9" cy="1738.9" rx="13.6" ry="16.3"/>
<ellipse cx="1265.3" cy="1737.6" rx="13.8" ry="15.7"/>
<ellipse cx="1298.5" cy="1780.8" rx="15.9" ry="16.1"/>
<ellipse cx="1055.6" cy="1767.8" rx="4.5" ry="8.3"/>
<ellipse cx="1058.3" cy="1825.2" rx="6.2" ry="12.9"/>
<ellipse cx="1129.3" cy="1820.7" rx="13.4" ry="13.8"/>
<ellipse cx="1197.9" cy="1856.1" rx="13.6" ry="15.3"/>
<ellipse cx="1268.2" cy="1823.0" rx="15.3" ry="14.2"/>
<ellipse cx="1150.7" cy="1879.9" rx="13.0" ry="14.2"/>
<ellipse cx="1092.8" cy="1902.8" rx="17.6" ry="14.7"/>
<ellipse cx="1109.3" cy="1936.3" rx="14.4" ry="6.1"/>
<ellipse cx="1232.5" cy="1928.3" rx="14.2" ry="9.2"/>
<ellipse cx="1286.2" cy="1917.1" rx="12.9" ry="12.9"/>
<ellipse cx="1306.3" cy="1877.0" rx="8.8" ry="15.3"/>
<ellipse cx="1053.6" cy="1934.4" rx="3.7" ry="7.9"/>
<ellipse cx="1321.1" cy="1926.3" rx="1.8" ry="6.1"/>
</g>
<g fill="#cfc8ee" opacity="0.3" filter="url(#tex)">
<path d="M1049.2 1697.9C1053.3 1691.3 1066.5 1691.8 1073.6 1691.8C1080.8 1691.8 1088.0 1694.8 1092.0 1697.9C1095.9 1701.0 1097.6 1704.5 1097.3 1710.1C1097.1 1715.7 1093.6 1725.4 1090.4 1731.5C1087.3 1737.6 1082.3 1744.5 1078.2 1746.8C1074.1 1749.1 1070.8 1747.8 1066.0 1745.2C1061.2 1742.7 1052.0 1739.4 1049.2 1731.5C1046.4 1723.6 1045.1 1704.5 1049.2 1697.9Z"/>
<path d="M1086.8 1756.0C1088.7 1748.0 1101.3 1730.4 1105.5 1723.4C1109.6 1716.5 1108.6 1715.2 1111.7 1714.1C1114.8 1713.1 1120.0 1713.9 1124.1 1717.2C1128.2 1720.6 1131.8 1728.9 1136.5 1734.3C1141.2 1739.7 1149.9 1744.6 1152.0 1749.8C1154.1 1755.0 1152.5 1760.2 1148.9 1765.3C1145.3 1770.5 1136.5 1778.0 1130.3 1780.8C1124.1 1783.7 1117.6 1784.0 1111.7 1782.4C1105.7 1780.8 1098.7 1775.9 1094.6 1771.5C1090.5 1767.1 1085.0 1764.0 1086.8 1756.0Z"/>
<path d="M1137.8 1706.4C1138.8 1701.9 1143.8 1695.9 1148.3 1692.9C1152.8 1689.9 1159.5 1688.1 1164.8 1688.4C1170.1 1688.6 1176.4 1690.9 1179.8 1694.4C1183.2 1697.9 1185.3 1704.2 1185.1 1709.4C1184.8 1714.7 1181.5 1721.6 1178.3 1725.9C1175.2 1730.3 1170.3 1734.7 1166.3 1735.7C1162.3 1736.7 1158.3 1734.6 1154.3 1731.9C1150.3 1729.3 1145.0 1724.2 1142.3 1719.9C1139.5 1715.7 1136.8 1710.9 1137.8 1706.4Z"/>
<path d="M1181.8 1741.1C1182.3 1731.9 1189.9 1712.0 1197.1 1707.4C1204.2 1702.8 1218.9 1710.2 1224.7 1713.5C1230.4 1716.9 1231.1 1720.7 1231.6 1727.3C1232.1 1734.0 1230.9 1746.7 1227.7 1753.4C1224.6 1760.0 1218.0 1765.6 1212.4 1767.2C1206.8 1768.7 1199.1 1766.9 1194.0 1762.6C1188.9 1758.2 1181.3 1750.3 1181.8 1741.1Z"/>
<path d="M1240.9 1757.8C1239.6 1749.9 1241.9 1730.2 1245.4 1722.7C1249.0 1715.2 1256.1 1713.5 1262.2 1712.7C1268.3 1712.0 1277.3 1714.6 1282.1 1718.1C1286.9 1721.5 1291.2 1728.3 1291.2 1733.4C1291.2 1738.4 1288.4 1742.5 1282.1 1748.6C1275.7 1754.7 1260.0 1768.5 1253.1 1770.0C1246.2 1771.5 1242.1 1765.7 1240.9 1757.8Z"/>
<path d="M1263.6 1777.3C1268.8 1771.0 1289.6 1752.6 1297.6 1748.7C1305.6 1744.9 1307.4 1747.8 1311.5 1754.1C1315.7 1760.5 1320.6 1778.4 1322.4 1786.6C1324.2 1794.8 1325.2 1800.0 1322.4 1803.6C1319.5 1807.2 1314.6 1811.1 1305.4 1808.2C1296.1 1805.4 1273.7 1791.8 1266.7 1786.6C1259.7 1781.5 1258.5 1783.6 1263.6 1777.3Z"/>
<path d="M1048.3 1753.5C1050.3 1749.9 1057.9 1756.4 1060.4 1758.9C1062.9 1761.4 1063.6 1765.2 1063.1 1768.4C1062.7 1771.5 1060.2 1775.8 1057.7 1777.8C1055.2 1779.9 1049.8 1784.6 1048.3 1780.5C1046.7 1776.5 1046.2 1757.1 1048.3 1753.5Z"/>
<path d="M1048.0 1802.6C1050.2 1796.0 1057.5 1804.6 1061.2 1808.5C1064.9 1812.4 1069.5 1820.7 1070.0 1826.1C1070.5 1831.4 1067.8 1837.1 1064.1 1840.7C1060.5 1844.4 1050.7 1854.4 1048.0 1848.1C1045.3 1841.7 1045.8 1809.2 1048.0 1802.6Z"/>
<path d="M1105.3 1818.0C1105.3 1812.0 1108.8 1806.6 1112.9 1802.9C1116.9 1799.3 1124.0 1796.1 1129.5 1796.1C1135.1 1796.1 1142.1 1798.8 1146.2 1802.9C1150.2 1807.1 1153.7 1815.0 1153.7 1821.1C1153.7 1827.1 1150.4 1835.1 1146.2 1839.2C1141.9 1843.4 1133.6 1846.0 1128.0 1846.0C1122.5 1846.0 1116.7 1843.9 1112.9 1839.2C1109.1 1834.6 1105.3 1824.1 1105.3 1818.0Z"/>
<path d="M1174.7 1849.1C1175.9 1844.5 1179.7 1838.7 1183.8 1835.4C1187.8 1832.1 1193.7 1829.1 1199.0 1829.3C1204.3 1829.6 1211.5 1832.6 1215.7 1836.9C1219.9 1841.2 1223.6 1849.1 1224.1 1855.2C1224.6 1861.2 1222.4 1868.5 1218.7 1873.4C1215.1 1878.3 1207.3 1884.0 1202.0 1884.8C1196.7 1885.6 1191.1 1881.6 1186.8 1878.0C1182.5 1874.3 1178.2 1867.6 1176.2 1862.8C1174.2 1857.9 1173.4 1853.6 1174.7 1849.1Z"/>
<path d="M1243.4 1818.2C1244.0 1813.4 1245.6 1806.5 1248.8 1803.0C1252.0 1799.4 1256.9 1796.9 1262.5 1796.9C1268.1 1796.9 1276.3 1798.9 1282.4 1803.0C1288.5 1807.1 1297.1 1815.2 1299.2 1821.3C1301.2 1827.4 1297.9 1835.0 1294.6 1839.6C1291.3 1844.2 1285.4 1848.0 1279.3 1848.8C1273.2 1849.6 1263.6 1847.0 1258.0 1844.2C1252.4 1841.4 1248.2 1836.3 1245.7 1832.0C1243.3 1827.7 1242.9 1823.1 1243.4 1818.2Z"/>
<path d="M1128.8 1868.4C1130.4 1864.8 1134.6 1859.9 1139.4 1857.8C1144.2 1855.7 1153.0 1854.3 1157.5 1855.5C1162.1 1856.8 1163.6 1860.2 1166.6 1865.3C1169.6 1870.5 1175.7 1880.2 1175.7 1886.5C1175.7 1892.8 1170.6 1899.7 1166.6 1903.1C1162.6 1906.5 1156.0 1907.9 1151.5 1906.9C1147.0 1905.9 1142.9 1901.7 1139.4 1897.1C1135.9 1892.4 1132.1 1883.7 1130.4 1878.9C1128.6 1874.2 1127.3 1871.9 1128.8 1868.4Z"/>
<path d="M1063.1 1902.6C1064.1 1896.7 1069.8 1887.5 1075.4 1882.6C1081.0 1877.8 1090.2 1873.7 1096.9 1873.4C1103.5 1873.2 1110.2 1875.7 1115.3 1881.1C1120.4 1886.5 1126.8 1900.0 1127.6 1905.7C1128.3 1911.3 1126.0 1912.6 1119.9 1914.9C1113.8 1917.2 1097.9 1917.4 1090.7 1919.5C1083.6 1921.5 1080.5 1927.4 1076.9 1927.1C1073.3 1926.9 1071.5 1922.0 1069.2 1917.9C1066.9 1913.8 1062.1 1908.5 1063.1 1902.6Z"/>
<path d="M1083.2 1946.9C1075.7 1944.4 1085.3 1935.6 1089.9 1932.0C1094.4 1928.4 1104.2 1925.6 1110.7 1925.3C1117.1 1925.1 1124.6 1926.9 1128.5 1930.5C1132.5 1934.1 1142.1 1944.2 1134.5 1946.9C1126.9 1949.6 1090.6 1949.4 1083.2 1946.9Z"/>
<path d="M1207.4 1946.1C1199.1 1942.9 1206.1 1932.1 1208.9 1926.5C1211.6 1921.0 1218.4 1915.2 1223.9 1913.0C1229.5 1910.7 1237.0 1911.0 1242.0 1913.0C1247.1 1915.0 1251.3 1919.5 1254.1 1925.0C1256.9 1930.6 1266.4 1942.6 1258.6 1946.1C1250.8 1949.7 1215.6 1949.4 1207.4 1946.1Z"/>
<path d="M1261.7 1911.7C1261.5 1907.0 1264.0 1902.7 1267.7 1899.7C1271.5 1896.7 1280.0 1893.2 1284.2 1893.7C1288.5 1894.2 1289.2 1899.2 1293.2 1902.7C1297.2 1906.2 1306.2 1910.5 1308.2 1914.7C1310.2 1919.0 1305.2 1925.0 1305.2 1928.3C1305.2 1931.5 1312.7 1932.3 1308.2 1934.3C1303.7 1936.3 1284.7 1941.3 1278.2 1940.3C1271.7 1939.3 1272.0 1933.0 1269.2 1928.3C1266.5 1923.5 1262.0 1916.5 1261.7 1911.7Z"/>
<path d="M1291.0 1869.6C1291.5 1864.0 1293.2 1858.1 1298.5 1854.5C1303.8 1850.9 1318.6 1839.7 1322.6 1847.7C1326.6 1855.7 1325.1 1894.0 1322.6 1902.7C1320.1 1911.4 1312.1 1902.2 1307.6 1899.7C1303.0 1897.2 1298.3 1892.7 1295.5 1887.6C1292.7 1882.6 1290.5 1875.1 1291.0 1869.6Z"/>
<path d="M1047.8 1919.6C1049.6 1916.4 1056.7 1922.1 1058.8 1926.5C1060.8 1930.8 1062.0 1942.5 1060.1 1945.7C1058.3 1948.9 1049.8 1950.1 1047.8 1945.7C1045.7 1941.4 1045.9 1922.8 1047.8 1919.6Z"/>
<path d="M1318.8 1921.5C1319.7 1919.6 1322.8 1915.6 1323.6 1918.0C1324.4 1920.4 1324.5 1933.9 1323.6 1935.9C1322.7 1937.9 1319.0 1932.3 1318.2 1929.9C1317.4 1927.5 1317.9 1923.5 1318.8 1921.5Z"/>
</g>
</g>
<rect x="1051.1" y="1673.9" width="272.5" height="271.9" fill="none" stroke="#000" stroke-width="3.7"/>
<rect x="760.1" y="1954.4" width="276.1" height="276.1" fill="#F2E9DA" stroke="none" stroke-width="0"/>
<g clip-path="url(#f3)">
<g fill="#384AB4" filter="url(#b05)">
<path d="M793.6 1997.3C794.2 1993.0 796.8 1987.6 801.1 1984.8C805.5 1982.0 813.1 1980.2 819.5 1980.6C826.0 1981.0 834.6 1983.7 839.6 1987.3C844.6 1990.9 847.6 1997.1 849.6 2002.4C851.7 2007.7 853.3 2014.3 852.2 2019.1C851.0 2023.8 846.7 2028.6 843.0 2030.8C839.2 2033.0 834.9 2034.1 829.6 2032.5C824.3 2030.8 816.5 2024.4 811.2 2020.8C805.9 2017.1 800.7 2014.6 797.8 2010.7C794.9 2006.8 793.1 2001.7 793.6 1997.3Z"/>
<path d="M858.0 1987.2C858.9 1981.9 863.2 1978.0 867.2 1975.5C871.2 1973.0 878.0 1971.1 882.2 1972.2C886.3 1973.3 891.0 1977.7 892.1 1982.2C893.2 1986.6 889.6 1993.5 888.8 1998.8C888.0 2004.1 889.6 2010.9 887.1 2013.8C884.6 2016.7 878.0 2017.4 873.8 2016.3C869.7 2015.2 864.8 2012.0 862.2 2007.1C859.6 2002.3 857.2 1992.4 858.0 1987.2Z"/>
<path d="M897.9 1992.2C898.8 1985.8 900.6 1980.8 904.5 1977.2C908.5 1973.5 915.4 1970.8 921.3 1970.5C927.1 1970.2 935.5 1971.9 939.7 1975.5C943.9 1979.1 946.1 1985.5 946.4 1992.2C946.7 1998.9 945.0 2009.2 941.4 2015.7C937.7 2022.1 930.2 2028.5 924.6 2030.7C919.1 2032.9 912.2 2031.5 907.9 2029.0C903.6 2026.5 900.4 2021.8 898.7 2015.7C897.0 2009.5 896.9 1998.6 897.9 1992.2Z"/>
<path d="M952.2 2012.3C951.4 2005.9 953.9 1987.0 957.2 1980.6C960.6 1974.2 967.2 1973.6 972.2 1973.9C977.2 1974.2 983.4 1977.5 987.3 1982.3C991.2 1987.0 995.1 1996.2 995.6 2002.3C996.2 2008.4 993.4 2015.1 990.6 2019.0C987.8 2022.9 983.6 2025.7 978.9 2025.7C974.2 2025.7 966.7 2021.2 962.2 2019.0C957.8 2016.8 953.0 2018.7 952.2 2012.3Z"/>
<path d="M764.8 2043.0C765.0 2036.9 768.2 2025.7 772.3 2021.3C776.3 2016.8 783.4 2015.2 789.0 2016.3C794.6 2017.4 799.6 2023.8 805.7 2028.0C811.9 2032.2 822.5 2037.2 825.8 2041.4C829.2 2045.5 828.3 2049.4 825.8 2053.1C823.3 2056.7 817.5 2060.6 810.8 2063.1C804.1 2065.6 792.4 2069.0 785.7 2068.1C779.0 2067.3 774.1 2062.3 770.6 2058.1C767.1 2053.9 764.5 2049.2 764.8 2043.0Z"/>
<path d="M836.0 2056.6C836.3 2051.6 839.5 2044.3 843.5 2039.9C847.6 2035.4 854.4 2031.0 860.3 2029.9C866.1 2028.7 873.6 2029.9 878.6 2033.2C883.7 2036.5 888.5 2043.8 890.4 2049.9C892.2 2056.1 892.3 2064.4 889.5 2070.0C886.7 2075.6 879.1 2081.4 873.6 2083.4C868.2 2085.3 862.2 2083.9 856.9 2081.7C851.6 2079.5 845.3 2074.2 841.9 2070.0C838.4 2065.8 835.7 2061.6 836.0 2056.6Z"/>
<path d="M926.8 2049.8C926.8 2044.8 931.3 2038.8 935.2 2034.8C939.1 2030.7 944.1 2025.9 950.2 2025.6C956.3 2025.3 966.9 2029.6 971.9 2033.1C976.9 2036.6 980.0 2041.4 980.3 2046.5C980.5 2051.5 978.0 2058.7 973.6 2063.2C969.1 2067.6 959.9 2072.9 953.5 2073.2C947.1 2073.5 939.6 2068.7 935.2 2064.8C930.7 2060.9 926.8 2054.8 926.8 2049.8Z"/>
<path d="M997.1 2066.9C998.0 2062.7 1000.6 2056.8 1004.6 2053.5C1008.7 2050.2 1016.0 2047.4 1021.3 2046.8C1026.6 2046.3 1033.8 2043.2 1036.3 2050.2C1038.8 2057.1 1038.6 2081.0 1036.3 2088.5C1034.1 2096.0 1027.4 2095.2 1023.0 2095.2C1018.5 2095.2 1013.5 2091.3 1009.6 2088.5C1005.8 2085.8 1001.7 2082.1 999.6 2078.5C997.6 2074.9 996.3 2071.0 997.1 2066.9Z"/>
<path d="M781.7 2088.9C783.1 2084.9 785.2 2081.4 792.6 2078.1C799.9 2074.7 817.8 2067.4 826.0 2068.9C834.2 2070.4 841.6 2080.6 841.9 2087.3C842.1 2094.0 832.8 2104.7 827.7 2109.0C822.5 2113.3 816.8 2112.2 810.9 2113.2C805.1 2114.1 797.0 2116.7 792.6 2114.8C788.1 2113.0 786.0 2106.6 784.2 2102.3C782.4 2098.0 780.3 2093.0 781.7 2088.9Z"/>
<path d="M834.3 2117.7C835.9 2111.9 843.3 2100.1 848.5 2096.0C853.6 2092.0 860.8 2091.9 865.1 2093.5C869.5 2095.2 872.5 2099.8 874.3 2106.0C876.1 2112.3 877.2 2125.2 876.0 2131.1C874.7 2136.9 872.2 2139.1 866.8 2141.1C861.4 2143.0 848.2 2144.4 843.4 2142.8C838.7 2141.1 840.0 2135.3 838.4 2131.1C836.9 2126.9 832.6 2123.6 834.3 2117.7Z"/>
<path d="M880.9 2097.5C882.2 2093.3 886.5 2089.6 891.0 2087.5C895.4 2085.4 902.1 2084.1 907.7 2085.0C913.2 2085.8 920.2 2088.7 924.4 2092.5C928.6 2096.2 932.7 2102.0 932.7 2107.5C932.7 2113.1 929.1 2121.0 924.4 2125.9C919.6 2130.8 910.2 2136.2 904.3 2136.8C898.5 2137.3 892.8 2133.3 889.3 2129.2C885.8 2125.2 884.8 2117.8 883.4 2112.5C882.0 2107.2 879.7 2101.7 880.9 2097.5Z"/>
<path d="M956.5 2110.9C956.8 2105.8 958.3 2096.9 962.3 2092.5C966.4 2088.0 974.6 2084.1 980.7 2084.1C986.8 2084.1 994.0 2088.3 999.1 2092.5C1004.1 2096.7 1010.5 2104.2 1010.7 2109.2C1011.0 2114.2 1006.6 2119.1 1000.7 2122.5C994.9 2126.0 982.4 2130.1 975.7 2130.1C969.0 2130.1 963.9 2125.7 960.6 2122.5C957.4 2119.3 956.2 2115.9 956.5 2110.9Z"/>
<path d="M788.5 2136.5C789.6 2132.8 792.0 2127.3 797.7 2124.8C803.3 2122.3 816.8 2119.5 822.6 2121.5C828.5 2123.4 831.2 2131.5 832.6 2136.5C834.0 2141.5 833.5 2147.4 831.0 2151.4C828.5 2155.5 822.6 2159.8 817.6 2160.6C812.6 2161.4 805.4 2158.8 801.0 2156.4C796.5 2154.1 793.1 2149.8 791.0 2146.4C788.9 2143.1 787.4 2140.1 788.5 2136.5Z"/>
<path d="M826.7 2170.4C827.6 2164.5 832.8 2157.3 840.1 2153.6C847.3 2150.0 863.3 2147.5 870.2 2148.6C877.0 2149.7 879.9 2155.6 881.0 2160.3C882.1 2165.1 879.5 2171.2 876.9 2177.0C874.2 2182.9 869.3 2191.8 865.2 2195.4C861.0 2199.0 856.8 2199.9 851.8 2198.8C846.8 2197.6 839.3 2193.5 835.1 2188.7C830.9 2184.0 825.9 2176.2 826.7 2170.4Z"/>
<path d="M875.9 2199.0C876.4 2193.2 882.0 2181.5 885.9 2175.7C889.8 2169.8 894.2 2165.1 899.3 2164.0C904.3 2162.8 911.6 2163.7 916.0 2169.0C920.3 2174.3 924.9 2188.5 925.2 2195.7C925.4 2202.9 921.9 2208.8 917.6 2212.4C913.3 2216.0 905.1 2217.7 899.3 2217.4C893.4 2217.1 886.4 2213.8 882.5 2210.7C878.6 2207.7 875.3 2204.9 875.9 2199.0Z"/>
<path d="M924.2 2160.3C925.6 2155.3 930.5 2148.4 935.1 2145.2C939.7 2142.0 946.3 2139.9 951.8 2141.0C957.4 2142.1 965.2 2147.3 968.6 2151.9C971.9 2156.5 970.3 2163.1 971.9 2168.6C973.6 2174.2 978.3 2180.4 978.6 2185.4C978.9 2190.4 977.5 2195.7 973.6 2198.8C969.7 2201.8 961.6 2204.9 955.2 2203.8C948.8 2202.7 939.8 2196.8 935.1 2192.1C930.4 2187.3 928.6 2180.6 926.7 2175.3C924.9 2170.0 922.8 2165.3 924.2 2160.3Z"/>
<path d="M976.8 2145.8C977.1 2140.0 980.9 2136.6 986.0 2133.3C991.2 2129.9 1001.1 2124.6 1007.8 2125.8C1014.5 2126.9 1022.7 2133.7 1026.2 2140.0C1029.6 2146.2 1030.6 2156.7 1028.7 2163.4C1026.7 2170.1 1019.6 2176.9 1014.5 2180.1C1009.3 2183.3 1002.7 2184.6 997.7 2182.6C992.7 2180.7 987.8 2174.5 984.4 2168.4C980.9 2162.3 976.5 2151.7 976.8 2145.8Z"/>
</g>
<g fill="#5F53B6" filter="url(#b1)">
<path d="M796.5 1998.2C797.0 1994.3 799.4 1989.4 803.3 1986.9C807.2 1984.3 814.1 1982.7 819.9 1983.1C825.7 1983.5 833.6 1985.9 838.1 1989.1C842.6 1992.4 845.3 1998.0 847.2 2002.8C849.1 2007.6 850.5 2013.6 849.5 2017.9C848.5 2022.2 844.5 2026.5 841.1 2028.5C837.7 2030.5 833.8 2031.5 829.0 2030.0C824.2 2028.5 817.2 2022.7 812.4 2019.4C807.6 2016.1 802.9 2013.9 800.3 2010.3C797.6 2006.8 796.0 2002.1 796.5 1998.2Z"/>
<path d="M860.4 1988.1C861.1 1983.5 864.9 1980.1 868.4 1977.9C871.9 1975.8 877.8 1974.1 881.4 1975.0C885.0 1976.0 889.1 1979.9 890.1 1983.7C891.1 1987.6 887.9 1993.6 887.2 1998.2C886.5 2002.8 887.9 2008.7 885.8 2011.2C883.6 2013.8 877.8 2014.4 874.2 2013.4C870.6 2012.4 866.3 2009.7 864.0 2005.4C861.7 2001.2 859.7 1992.7 860.4 1988.1Z"/>
<path d="M899.9 1992.9C900.8 1987.1 902.4 1982.5 906.0 1979.2C909.5 1976.0 915.9 1973.4 921.2 1973.2C926.5 1972.9 934.1 1974.4 937.9 1977.7C941.7 1981.0 943.7 1986.8 944.0 1992.9C944.2 1999.0 942.7 2008.4 939.4 2014.2C936.1 2020.0 929.3 2025.9 924.2 2027.9C919.2 2029.9 913.0 2028.6 909.0 2026.4C905.1 2024.1 902.2 2019.8 900.7 2014.2C899.2 2008.6 899.0 1998.8 899.9 1992.9Z"/>
<path d="M954.6 2011.2C953.9 2005.5 956.1 1988.6 959.1 1982.9C962.1 1977.2 968.0 1976.7 972.5 1976.9C977.0 1977.2 982.4 1980.2 985.9 1984.4C989.4 1988.6 992.8 1996.8 993.3 2002.2C993.8 2007.7 991.4 2013.7 988.9 2017.1C986.4 2020.6 982.7 2023.1 978.4 2023.1C974.2 2023.1 967.5 2019.1 963.5 2017.1C959.6 2015.2 955.4 2016.9 954.6 2011.2Z"/>
<path d="M767.5 2043.1C767.8 2037.5 770.7 2027.4 774.4 2023.4C778.0 2019.3 784.5 2017.8 789.5 2018.8C794.6 2019.8 799.1 2025.6 804.7 2029.4C810.3 2033.2 819.9 2037.8 822.9 2041.6C825.9 2045.4 825.2 2048.9 822.9 2052.2C820.6 2055.5 815.3 2059.0 809.3 2061.3C803.2 2063.6 792.6 2066.6 786.5 2065.8C780.4 2065.1 776.0 2060.5 772.8 2056.7C769.7 2053.0 767.3 2048.7 767.5 2043.1Z"/>
<path d="M838.6 2056.7C838.9 2052.1 841.8 2045.6 845.4 2041.5C849.1 2037.5 855.3 2033.5 860.6 2032.5C865.9 2031.5 872.7 2032.5 877.2 2035.5C881.7 2038.5 886.1 2045.1 887.8 2050.6C889.4 2056.2 889.6 2063.7 887.0 2068.8C884.5 2073.8 877.6 2079.1 872.7 2080.9C867.7 2082.6 862.3 2081.4 857.5 2079.4C852.7 2077.3 847.1 2072.5 843.9 2068.8C840.8 2065.0 838.4 2061.2 838.6 2056.7Z"/>
<path d="M929.6 2049.7C929.6 2045.2 933.6 2039.9 937.1 2036.3C940.6 2032.6 945.0 2028.3 950.5 2028.0C956.0 2027.8 965.5 2031.6 969.9 2034.8C974.4 2037.9 977.2 2042.2 977.4 2046.7C977.7 2051.2 975.4 2057.7 971.4 2061.7C967.5 2065.6 959.2 2070.4 953.5 2070.6C947.8 2070.9 941.1 2066.6 937.1 2063.1C933.1 2059.7 929.6 2054.2 929.6 2049.7Z"/>
<path d="M999.3 2067.3C1000.0 2063.6 1002.4 2058.5 1005.9 2055.5C1009.5 2052.6 1016.0 2050.1 1020.7 2049.6C1025.4 2049.1 1031.8 2046.4 1034.0 2052.6C1036.2 2058.7 1036.0 2079.9 1034.0 2086.5C1032.0 2093.2 1026.1 2092.5 1022.2 2092.5C1018.3 2092.5 1013.8 2089.0 1010.4 2086.5C1006.9 2084.1 1003.4 2080.9 1001.5 2077.7C999.7 2074.5 998.5 2071.0 999.3 2067.3Z"/>
<path d="M784.2 2089.6C785.5 2085.9 787.4 2082.8 794.0 2079.8C800.7 2076.8 816.7 2070.1 824.1 2071.5C831.5 2072.9 838.1 2082.1 838.4 2088.1C838.6 2094.1 830.2 2103.7 825.6 2107.6C821.0 2111.5 815.8 2110.5 810.6 2111.4C805.3 2112.3 798.0 2114.5 794.0 2112.9C790.0 2111.3 788.1 2105.5 786.5 2101.6C784.9 2097.7 783.0 2093.2 784.2 2089.6Z"/>
<path d="M836.6 2118.0C838.1 2112.8 844.7 2102.2 849.3 2098.6C853.8 2095.0 860.3 2094.9 864.1 2096.4C868.0 2097.9 870.7 2102.0 872.3 2107.6C873.9 2113.1 874.9 2124.7 873.8 2129.9C872.7 2135.1 870.5 2137.1 865.6 2138.8C860.8 2140.5 849.0 2141.8 844.8 2140.3C840.6 2138.8 841.7 2133.6 840.3 2129.9C839.0 2126.1 835.1 2123.2 836.6 2118.0Z"/>
<path d="M883.3 2098.6C884.4 2094.8 888.3 2091.5 892.3 2089.6C896.3 2087.7 902.3 2086.6 907.3 2087.3C912.3 2088.1 918.6 2090.7 922.3 2094.1C926.1 2097.5 929.8 2102.6 929.8 2107.6C929.8 2112.6 926.6 2119.7 922.3 2124.1C918.1 2128.5 909.6 2133.4 904.3 2133.9C899.1 2134.4 893.9 2130.7 890.8 2127.1C887.7 2123.5 886.8 2116.9 885.6 2112.1C884.3 2107.3 882.2 2102.3 883.3 2098.6Z"/>
<path d="M959.0 2110.6C959.3 2106.1 960.6 2098.1 964.3 2094.1C967.9 2090.1 975.2 2086.6 980.7 2086.6C986.2 2086.6 992.7 2090.4 997.1 2094.1C1001.6 2097.9 1007.4 2104.6 1007.6 2109.1C1007.9 2113.6 1003.9 2117.9 998.6 2121.0C993.4 2124.1 982.2 2127.8 976.2 2127.8C970.2 2127.8 965.6 2123.9 962.8 2121.0C959.9 2118.2 958.8 2115.0 959.0 2110.6Z"/>
<path d="M791.2 2137.1C792.1 2133.9 794.2 2129.1 799.2 2126.9C804.2 2124.7 816.0 2122.2 821.1 2123.9C826.3 2125.6 828.7 2132.7 829.9 2137.1C831.1 2141.5 830.6 2146.7 828.4 2150.3C826.3 2153.8 821.1 2157.6 816.7 2158.3C812.4 2159.0 806.0 2156.7 802.1 2154.7C798.2 2152.6 795.2 2148.8 793.3 2145.9C791.5 2143.0 790.2 2140.3 791.2 2137.1Z"/>
<path d="M829.6 2170.7C830.4 2165.5 835.1 2158.9 841.7 2155.7C848.2 2152.4 862.6 2150.2 868.7 2151.2C874.9 2152.2 877.5 2157.4 878.5 2161.7C879.5 2166.0 877.1 2171.5 874.8 2176.7C872.4 2182.0 868.0 2190.0 864.2 2193.3C860.5 2196.5 856.7 2197.3 852.2 2196.3C847.7 2195.3 840.9 2191.5 837.2 2187.3C833.4 2183.0 828.9 2176.0 829.6 2170.7Z"/>
<path d="M878.3 2198.4C878.8 2193.2 883.8 2182.7 887.3 2177.4C890.8 2172.1 894.8 2167.9 899.3 2166.9C903.9 2165.9 910.5 2166.6 914.4 2171.4C918.2 2176.2 922.4 2188.9 922.6 2195.4C922.9 2201.9 919.8 2207.2 915.9 2210.5C912.0 2213.7 904.6 2215.2 899.3 2215.0C894.1 2214.7 887.8 2211.7 884.3 2209.0C880.8 2206.2 877.8 2203.7 878.3 2198.4Z"/>
<path d="M926.8 2161.4C928.0 2156.8 932.5 2150.6 936.6 2147.7C940.8 2144.7 946.8 2142.8 951.9 2143.9C956.9 2144.9 964.0 2149.6 967.1 2153.8C970.1 2157.9 968.6 2163.9 970.1 2169.0C971.7 2174.0 976.0 2179.6 976.2 2184.2C976.5 2188.8 975.2 2193.6 971.7 2196.4C968.1 2199.2 960.7 2201.9 954.9 2200.9C949.1 2199.9 941.0 2194.6 936.6 2190.3C932.3 2186.0 930.7 2179.9 929.0 2175.1C927.4 2170.2 925.5 2165.9 926.8 2161.4Z"/>
<path d="M979.3 2146.7C979.5 2141.4 983.0 2138.4 987.6 2135.3C992.3 2132.3 1001.2 2127.5 1007.3 2128.5C1013.3 2129.5 1020.8 2135.7 1023.9 2141.4C1027.1 2147.1 1028.0 2156.5 1026.2 2162.6C1024.4 2168.6 1018.0 2174.8 1013.3 2177.7C1008.7 2180.6 1002.7 2181.7 998.2 2180.0C993.7 2178.2 989.3 2172.7 986.1 2167.1C983.0 2161.6 979.0 2152.0 979.3 2146.7Z"/>
</g>
<g fill="#5244AC" opacity="0.6" filter="url(#b5)">
<ellipse cx="823.7" cy="2006.6" rx="14.6" ry="13.0"/>
<ellipse cx="876.4" cy="1994.1" rx="8.5" ry="11.0"/>
<ellipse cx="920.3" cy="1999.8" rx="12.1" ry="15.1"/>
<ellipse cx="974.5" cy="2001.9" rx="10.9" ry="12.9"/>
<ellipse cx="794.5" cy="2043.6" rx="15.3" ry="13.0"/>
<ellipse cx="863.4" cy="2057.2" rx="13.6" ry="13.4"/>
<ellipse cx="953.3" cy="2048.9" rx="13.4" ry="11.9"/>
<ellipse cx="1016.0" cy="2071.0" rx="9.8" ry="12.1"/>
<ellipse cx="807.2" cy="2095.3" rx="15.0" ry="11.5"/>
<ellipse cx="855.9" cy="2119.9" rx="10.4" ry="12.3"/>
<ellipse cx="904.2" cy="2108.3" rx="12.9" ry="12.9"/>
<ellipse cx="980.8" cy="2108.0" rx="13.6" ry="11.5"/>
<ellipse cx="810.3" cy="2141.8" rx="11.0" ry="9.8"/>
<ellipse cx="855.9" cy="2174.1" rx="13.6" ry="12.5"/>
<ellipse cx="900.2" cy="2193.0" rx="12.3" ry="13.4"/>
<ellipse cx="952.1" cy="2172.2" rx="13.6" ry="15.7"/>
<ellipse cx="1002.7" cy="2154.9" rx="13.0" ry="14.2"/>
</g>
<g fill="#cfc8ee" opacity="0.3" filter="url(#tex)">
<path d="M796.5 1998.2C797.0 1994.3 799.4 1989.4 803.3 1986.9C807.2 1984.3 814.1 1982.7 819.9 1983.1C825.7 1983.5 833.6 1985.9 838.1 1989.1C842.6 1992.4 845.3 1998.0 847.2 2002.8C849.1 2007.6 850.5 2013.6 849.5 2017.9C848.5 2022.2 844.5 2026.5 841.1 2028.5C837.7 2030.5 833.8 2031.5 829.0 2030.0C824.2 2028.5 817.2 2022.7 812.4 2019.4C807.6 2016.1 802.9 2013.9 800.3 2010.3C797.6 2006.8 796.0 2002.1 796.5 1998.2Z"/>
<path d="M860.4 1988.1C861.1 1983.5 864.9 1980.1 868.4 1977.9C871.9 1975.8 877.8 1974.1 881.4 1975.0C885.0 1976.0 889.1 1979.9 890.1 1983.7C891.1 1987.6 887.9 1993.6 887.2 1998.2C886.5 2002.8 887.9 2008.7 885.8 2011.2C883.6 2013.8 877.8 2014.4 874.2 2013.4C870.6 2012.4 866.3 2009.7 864.0 2005.4C861.7 2001.2 859.7 1992.7 860.4 1988.1Z"/>
<path d="M899.9 1992.9C900.8 1987.1 902.4 1982.5 906.0 1979.2C909.5 1976.0 915.9 1973.4 921.2 1973.2C926.5 1972.9 934.1 1974.4 937.9 1977.7C941.7 1981.0 943.7 1986.8 944.0 1992.9C944.2 1999.0 942.7 2008.4 939.4 2014.2C936.1 2020.0 929.3 2025.9 924.2 2027.9C919.2 2029.9 913.0 2028.6 909.0 2026.4C905.1 2024.1 902.2 2019.8 900.7 2014.2C899.2 2008.6 899.0 1998.8 899.9 1992.9Z"/>
<path d="M954.6 2011.2C953.9 2005.5 956.1 1988.6 959.1 1982.9C962.1 1977.2 968.0 1976.7 972.5 1976.9C977.0 1977.2 982.4 1980.2 985.9 1984.4C989.4 1988.6 992.8 1996.8 993.3 2002.2C993.8 2007.7 991.4 2013.7 988.9 2017.1C986.4 2020.6 982.7 2023.1 978.4 2023.1C974.2 2023.1 967.5 2019.1 963.5 2017.1C959.6 2015.2 955.4 2016.9 954.6 2011.2Z"/>
<path d="M767.5 2043.1C767.8 2037.5 770.7 2027.4 774.4 2023.4C778.0 2019.3 784.5 2017.8 789.5 2018.8C794.6 2019.8 799.1 2025.6 804.7 2029.4C810.3 2033.2 819.9 2037.8 822.9 2041.6C825.9 2045.4 825.2 2048.9 822.9 2052.2C820.6 2055.5 815.3 2059.0 809.3 2061.3C803.2 2063.6 792.6 2066.6 786.5 2065.8C780.4 2065.1 776.0 2060.5 772.8 2056.7C769.7 2053.0 767.3 2048.7 767.5 2043.1Z"/>
<path d="M838.6 2056.7C838.9 2052.1 841.8 2045.6 845.4 2041.5C849.1 2037.5 855.3 2033.5 860.6 2032.5C865.9 2031.5 872.7 2032.5 877.2 2035.5C881.7 2038.5 886.1 2045.1 887.8 2050.6C889.4 2056.2 889.6 2063.7 887.0 2068.8C884.5 2073.8 877.6 2079.1 872.7 2080.9C867.7 2082.6 862.3 2081.4 857.5 2079.4C852.7 2077.3 847.1 2072.5 843.9 2068.8C840.8 2065.0 838.4 2061.2 838.6 2056.7Z"/>
<path d="M929.6 2049.7C929.6 2045.2 933.6 2039.9 937.1 2036.3C940.6 2032.6 945.0 2028.3 950.5 2028.0C956.0 2027.8 965.5 2031.6 969.9 2034.8C974.4 2037.9 977.2 2042.2 977.4 2046.7C977.7 2051.2 975.4 2057.7 971.4 2061.7C967.5 2065.6 959.2 2070.4 953.5 2070.6C947.8 2070.9 941.1 2066.6 937.1 2063.1C933.1 2059.7 929.6 2054.2 929.6 2049.7Z"/>
<path d="M999.3 2067.3C1000.0 2063.6 1002.4 2058.5 1005.9 2055.5C1009.5 2052.6 1016.0 2050.1 1020.7 2049.6C1025.4 2049.1 1031.8 2046.4 1034.0 2052.6C1036.2 2058.7 1036.0 2079.9 1034.0 2086.5C1032.0 2093.2 1026.1 2092.5 1022.2 2092.5C1018.3 2092.5 1013.8 2089.0 1010.4 2086.5C1006.9 2084.1 1003.4 2080.9 1001.5 2077.7C999.7 2074.5 998.5 2071.0 999.3 2067.3Z"/>
<path d="M784.2 2089.6C785.5 2085.9 787.4 2082.8 794.0 2079.8C800.7 2076.8 816.7 2070.1 824.1 2071.5C831.5 2072.9 838.1 2082.1 838.4 2088.1C838.6 2094.1 830.2 2103.7 825.6 2107.6C821.0 2111.5 815.8 2110.5 810.6 2111.4C805.3 2112.3 798.0 2114.5 794.0 2112.9C790.0 2111.3 788.1 2105.5 786.5 2101.6C784.9 2097.7 783.0 2093.2 784.2 2089.6Z"/>
<path d="M836.6 2118.0C838.1 2112.8 844.7 2102.2 849.3 2098.6C853.8 2095.0 860.3 2094.9 864.1 2096.4C868.0 2097.9 870.7 2102.0 872.3 2107.6C873.9 2113.1 874.9 2124.7 873.8 2129.9C872.7 2135.1 870.5 2137.1 865.6 2138.8C860.8 2140.5 849.0 2141.8 844.8 2140.3C840.6 2138.8 841.7 2133.6 840.3 2129.9C839.0 2126.1 835.1 2123.2 836.6 2118.0Z"/>
<path d="M883.3 2098.6C884.4 2094.8 888.3 2091.5 892.3 2089.6C896.3 2087.7 902.3 2086.6 907.3 2087.3C912.3 2088.1 918.6 2090.7 922.3 2094.1C926.1 2097.5 929.8 2102.6 929.8 2107.6C929.8 2112.6 926.6 2119.7 922.3 2124.1C918.1 2128.5 909.6 2133.4 904.3 2133.9C899.1 2134.4 893.9 2130.7 890.8 2127.1C887.7 2123.5 886.8 2116.9 885.6 2112.1C884.3 2107.3 882.2 2102.3 883.3 2098.6Z"/>
<path d="M959.0 2110.6C959.3 2106.1 960.6 2098.1 964.3 2094.1C967.9 2090.1 975.2 2086.6 980.7 2086.6C986.2 2086.6 992.7 2090.4 997.1 2094.1C1001.6 2097.9 1007.4 2104.6 1007.6 2109.1C1007.9 2113.6 1003.9 2117.9 998.6 2121.0C993.4 2124.1 982.2 2127.8 976.2 2127.8C970.2 2127.8 965.6 2123.9 962.8 2121.0C959.9 2118.2 958.8 2115.0 959.0 2110.6Z"/>
<path d="M791.2 2137.1C792.1 2133.9 794.2 2129.1 799.2 2126.9C804.2 2124.7 816.0 2122.2 821.1 2123.9C826.3 2125.6 828.7 2132.7 829.9 2137.1C831.1 2141.5 830.6 2146.7 828.4 2150.3C826.3 2153.8 821.1 2157.6 816.7 2158.3C812.4 2159.0 806.0 2156.7 802.1 2154.7C798.2 2152.6 795.2 2148.8 793.3 2145.9C791.5 2143.0 790.2 2140.3 791.2 2137.1Z"/>
<path d="M829.6 2170.7C830.4 2165.5 835.1 2158.9 841.7 2155.7C848.2 2152.4 862.6 2150.2 868.7 2151.2C874.9 2152.2 877.5 2157.4 878.5 2161.7C879.5 2166.0 877.1 2171.5 874.8 2176.7C872.4 2182.0 868.0 2190.0 864.2 2193.3C860.5 2196.5 856.7 2197.3 852.2 2196.3C847.7 2195.3 840.9 2191.5 837.2 2187.3C833.4 2183.0 828.9 2176.0 829.6 2170.7Z"/>
<path d="M878.3 2198.4C878.8 2193.2 883.8 2182.7 887.3 2177.4C890.8 2172.1 894.8 2167.9 899.3 2166.9C903.9 2165.9 910.5 2166.6 914.4 2171.4C918.2 2176.2 922.4 2188.9 922.6 2195.4C922.9 2201.9 919.8 2207.2 915.9 2210.5C912.0 2213.7 904.6 2215.2 899.3 2215.0C894.1 2214.7 887.8 2211.7 884.3 2209.0C880.8 2206.2 877.8 2203.7 878.3 2198.4Z"/>
<path d="M926.8 2161.4C928.0 2156.8 932.5 2150.6 936.6 2147.7C940.8 2144.7 946.8 2142.8 951.9 2143.9C956.9 2144.9 964.0 2149.6 967.1 2153.8C970.1 2157.9 968.6 2163.9 970.1 2169.0C971.7 2174.0 976.0 2179.6 976.2 2184.2C976.5 2188.8 975.2 2193.6 971.7 2196.4C968.1 2199.2 960.7 2201.9 954.9 2200.9C949.1 2199.9 941.0 2194.6 936.6 2190.3C932.3 2186.0 930.7 2179.9 929.0 2175.1C927.4 2170.2 925.5 2165.9 926.8 2161.4Z"/>
<path d="M979.3 2146.7C979.5 2141.4 983.0 2138.4 987.6 2135.3C992.3 2132.3 1001.2 2127.5 1007.3 2128.5C1013.3 2129.5 1020.8 2135.7 1023.9 2141.4C1027.1 2147.1 1028.0 2156.5 1026.2 2162.6C1024.4 2168.6 1018.0 2174.8 1013.3 2177.7C1008.7 2180.6 1002.7 2181.7 998.2 2180.0C993.7 2178.2 989.3 2172.7 986.1 2167.1C983.0 2161.6 979.0 2152.0 979.3 2146.7Z"/>
</g>
</g>
<rect x="762.0" y="1956.2" width="272.4" height="272.4" fill="none" stroke="#000" stroke-width="3.7"/>
<rect x="1049.3" y="1954.4" width="276.2" height="276.1" fill="#F2E9DA" stroke="none" stroke-width="0"/>
<g clip-path="url(#f4)">
<g fill="#5557B4" filter="url(#b05)">
<path d="M1046.1 1951.0C1051.3 1941.6 1069.3 1953.9 1077.0 1957.9C1084.7 1961.9 1089.3 1969.3 1092.4 1975.0C1095.5 1980.7 1096.7 1986.2 1095.8 1992.2C1095.0 1998.1 1092.4 2006.4 1087.3 2011.0C1082.1 2015.6 1071.8 2019.0 1065.0 2019.6C1058.1 2020.1 1049.3 2025.8 1046.1 2014.4C1043.0 2003.0 1041.0 1960.5 1046.1 1951.0Z"/>
<path d="M1166.5 1951.2C1177.4 1948.6 1226.3 1948.0 1236.8 1951.2C1247.4 1954.3 1234.0 1964.9 1230.0 1970.1C1226.0 1975.2 1217.7 1979.5 1212.8 1982.1C1208.0 1984.7 1205.7 1986.1 1200.8 1985.5C1196.0 1984.9 1188.5 1981.8 1183.7 1978.6C1178.8 1975.5 1174.5 1971.2 1171.6 1966.6C1168.8 1962.1 1155.6 1953.8 1166.5 1951.2Z"/>
<path d="M1205.6 2012.5C1206.5 2005.9 1209.3 1996.2 1214.2 1990.2C1219.0 1984.3 1225.8 1979.1 1234.7 1976.6C1243.5 1974.0 1258.6 1972.3 1267.1 1974.9C1275.7 1977.4 1282.2 1986.8 1285.9 1992.0C1289.7 1997.1 1290.8 1999.6 1289.4 2005.6C1287.9 2011.6 1282.5 2019.6 1277.4 2027.8C1272.3 2036.1 1264.9 2050.4 1258.6 2055.2C1252.3 2060.0 1246.4 2058.3 1239.8 2056.9C1233.2 2055.5 1224.4 2051.2 1219.3 2046.6C1214.2 2042.1 1211.3 2035.3 1209.0 2029.6C1206.8 2023.9 1204.8 2019.0 1205.6 2012.5Z"/>
<path d="M1265.1 2060.1C1267.1 2053.8 1275.9 2040.7 1280.5 2032.7C1285.0 2024.7 1287.9 2016.5 1292.4 2012.2C1297.0 2007.9 1302.4 2007.6 1307.8 2007.1C1313.2 2006.5 1322.1 1994.8 1324.9 2008.8C1327.8 2022.7 1327.8 2077.5 1324.9 2090.9C1322.1 2104.2 1315.2 2090.6 1307.8 2089.1C1300.4 2087.7 1287.0 2085.4 1280.5 2082.3C1273.9 2079.2 1271.0 2074.0 1268.5 2070.3C1265.9 2066.6 1263.1 2066.3 1265.1 2060.1Z"/>
<path d="M1058.0 2070.2C1058.2 2063.1 1062.8 2055.1 1066.5 2049.6C1070.2 2044.2 1074.8 2039.9 1080.2 2037.7C1085.6 2035.4 1092.5 2033.9 1099.1 2035.9C1105.6 2037.9 1115.3 2045.4 1119.6 2049.6C1123.9 2053.9 1125.6 2055.9 1124.8 2061.6C1123.9 2067.3 1117.6 2077.9 1114.5 2083.9C1111.3 2089.9 1110.8 2095.6 1105.9 2097.6C1101.1 2099.6 1092.2 2096.8 1085.4 2095.9C1078.5 2095.0 1069.4 2096.8 1064.8 2092.5C1060.2 2088.2 1057.7 2077.3 1058.0 2070.2Z"/>
<path d="M1108.9 2100.7C1110.6 2093.3 1118.3 2079.5 1124.3 2073.3C1130.3 2067.2 1138.6 2064.5 1144.8 2063.9C1151.1 2063.3 1157.8 2066.9 1162.0 2069.9C1166.1 2072.9 1169.7 2076.7 1169.7 2081.9C1169.7 2087.0 1164.4 2092.7 1162.0 2100.7C1159.5 2108.7 1158.0 2123.5 1155.1 2129.8C1152.3 2136.1 1150.0 2136.8 1144.8 2138.4C1139.7 2139.9 1129.4 2142.7 1124.3 2139.2C1119.2 2135.8 1116.6 2124.3 1114.0 2117.8C1111.5 2111.4 1107.2 2108.1 1108.9 2100.7Z"/>
<path d="M1159.8 2117.7C1161.2 2111.4 1163.5 2100.8 1168.4 2095.4C1173.2 2090.0 1182.1 2086.3 1188.9 2085.1C1195.8 2084.0 1204.0 2085.4 1209.5 2088.6C1214.9 2091.7 1218.9 2098.8 1221.4 2104.0C1224.0 2109.1 1225.7 2113.4 1224.9 2119.4C1224.0 2125.4 1219.4 2134.8 1216.3 2139.9C1213.2 2145.0 1210.9 2147.6 1206.0 2150.2C1201.2 2152.8 1193.5 2155.9 1187.2 2155.3C1180.9 2154.8 1172.9 2150.5 1168.4 2146.8C1163.8 2143.1 1161.2 2137.9 1159.8 2133.1C1158.4 2128.2 1158.4 2123.9 1159.8 2117.7Z"/>
<path d="M1046.1 2107.3C1049.8 2100.2 1058.3 2097.9 1068.3 2097.0C1078.3 2096.2 1098.3 2097.3 1106.0 2102.2C1113.7 2107.0 1112.5 2119.8 1114.5 2126.1C1116.5 2132.4 1119.4 2134.1 1117.9 2139.8C1116.5 2145.5 1111.7 2155.8 1106.0 2160.3C1100.3 2164.9 1090.6 2167.5 1083.7 2167.2C1076.9 2166.9 1071.2 2163.2 1064.9 2158.6C1058.6 2154.1 1049.2 2148.4 1046.1 2139.8C1042.9 2131.2 1042.4 2114.4 1046.1 2107.3Z"/>
<path d="M1098.7 2175.4C1098.7 2170.0 1103.2 2165.1 1107.2 2160.0C1111.2 2154.9 1116.7 2147.4 1122.7 2144.6C1128.7 2141.7 1137.5 2141.7 1143.2 2142.9C1148.9 2144.0 1153.8 2147.7 1156.9 2151.4C1160.1 2155.1 1162.4 2159.4 1162.1 2165.1C1161.8 2170.9 1158.7 2180.3 1155.2 2185.7C1151.8 2191.1 1146.9 2195.1 1141.5 2197.7C1136.1 2200.3 1128.4 2202.0 1122.7 2201.1C1117.0 2200.3 1111.2 2196.8 1107.2 2192.6C1103.2 2188.3 1098.7 2180.8 1098.7 2175.4Z"/>
<path d="M1262.5 2110.8C1263.1 2104.5 1266.6 2100.2 1270.2 2097.1C1273.8 2094.0 1274.8 2092.0 1283.9 2092.0C1293.1 2092.0 1318.2 2089.0 1325.0 2097.1C1331.9 2105.2 1330.2 2133.7 1325.0 2140.8C1319.9 2147.9 1302.2 2139.5 1294.2 2140.0C1286.2 2140.4 1281.6 2144.2 1277.1 2143.4C1272.5 2142.5 1269.2 2140.2 1266.8 2134.8C1264.4 2129.4 1261.9 2117.1 1262.5 2110.8Z"/>
<path d="M1266.7 2165.1C1267.9 2159.4 1272.2 2153.3 1277.0 2149.7C1281.9 2146.1 1287.9 2144.0 1295.9 2143.7C1303.9 2143.4 1320.1 2138.7 1325.0 2148.0C1329.8 2157.3 1328.7 2190.0 1325.0 2199.4C1321.3 2208.8 1309.6 2204.8 1302.7 2204.5C1295.9 2204.2 1289.3 2201.1 1283.9 2197.7C1278.4 2194.2 1273.0 2189.4 1270.2 2184.0C1267.3 2178.5 1265.6 2170.8 1266.7 2165.1Z"/>
<path d="M1249.6 2231.5C1239.9 2228.7 1255.9 2218.4 1261.6 2214.4C1267.4 2210.3 1276.8 2207.8 1284.0 2207.5C1291.1 2207.2 1298.6 2208.6 1304.6 2212.6C1310.6 2216.6 1329.2 2228.4 1320.0 2231.5C1310.9 2234.7 1259.4 2234.4 1249.6 2231.5Z"/>
</g>
<g fill="#7463B4" filter="url(#b1)">
<path d="M1048.3 1954.2C1053.1 1945.5 1069.6 1956.8 1076.6 1960.4C1083.7 1964.1 1087.9 1970.9 1090.8 1976.2C1093.7 1981.4 1094.7 1986.4 1093.9 1991.9C1093.1 1997.4 1090.8 2005.0 1086.1 2009.2C1081.3 2013.3 1071.9 2016.5 1065.6 2017.0C1059.3 2017.5 1051.2 2022.8 1048.3 2012.3C1045.5 2001.8 1043.6 1962.8 1048.3 1954.2Z"/>
<path d="M1169.7 1952.9C1179.6 1950.6 1223.8 1950.1 1233.4 1952.9C1242.9 1955.8 1230.8 1965.3 1227.2 1970.0C1223.5 1974.7 1216.0 1978.5 1211.6 1980.9C1207.2 1983.2 1205.2 1984.5 1200.8 1984.0C1196.4 1983.4 1189.6 1980.6 1185.2 1977.8C1180.9 1974.9 1177.0 1971.0 1174.4 1966.9C1171.8 1962.8 1159.9 1955.3 1169.7 1952.9Z"/>
<path d="M1208.1 2012.6C1208.9 2006.5 1211.6 1997.4 1216.1 1991.8C1220.7 1986.2 1227.1 1981.4 1235.4 1979.0C1243.6 1976.6 1257.8 1975.0 1265.8 1977.4C1273.8 1979.8 1279.9 1988.6 1283.4 1993.4C1286.9 1998.2 1288.0 2000.6 1286.6 2006.2C1285.3 2011.8 1280.2 2019.3 1275.4 2027.1C1270.6 2034.8 1263.7 2048.2 1257.8 2052.7C1251.9 2057.2 1246.3 2055.6 1240.2 2054.3C1234.0 2053.0 1225.7 2049.0 1220.9 2044.7C1216.1 2040.4 1213.5 2034.0 1211.3 2028.7C1209.2 2023.3 1207.3 2018.8 1208.1 2012.6Z"/>
<path d="M1267.1 2059.4C1268.9 2053.6 1277.2 2041.3 1281.4 2033.9C1285.7 2026.5 1288.3 2018.7 1292.6 2014.8C1296.8 2010.8 1301.9 2010.5 1306.9 2010.0C1312.0 2009.4 1320.2 1998.5 1322.9 2011.6C1325.5 2024.6 1325.5 2075.6 1322.9 2088.1C1320.2 2100.6 1313.8 2087.9 1306.9 2086.5C1300.0 2085.2 1287.5 2083.1 1281.4 2080.2C1275.3 2077.2 1272.6 2072.4 1270.2 2069.0C1267.9 2065.5 1265.2 2065.3 1267.1 2059.4Z"/>
<path d="M1060.7 2070.0C1061.0 2063.4 1065.1 2056.1 1068.6 2051.1C1072.0 2046.1 1076.2 2042.2 1081.2 2040.1C1086.1 2038.0 1092.4 2036.6 1098.5 2038.5C1104.5 2040.3 1113.4 2047.1 1117.4 2051.1C1121.3 2055.0 1122.9 2056.9 1122.1 2062.1C1121.3 2067.4 1115.5 2077.1 1112.7 2082.6C1109.8 2088.1 1109.2 2093.3 1104.8 2095.2C1100.3 2097.0 1092.2 2094.4 1085.9 2093.6C1079.6 2092.8 1071.2 2094.4 1067.0 2090.5C1062.8 2086.5 1060.4 2076.5 1060.7 2070.0Z"/>
<path d="M1111.4 2100.8C1112.9 2093.9 1120.1 2081.2 1125.6 2075.5C1131.1 2069.8 1138.8 2067.3 1144.6 2066.8C1150.3 2066.3 1156.5 2069.6 1160.4 2072.3C1164.2 2075.1 1167.5 2078.7 1167.5 2083.4C1167.5 2088.1 1162.6 2093.4 1160.4 2100.8C1158.1 2108.2 1156.7 2121.9 1154.0 2127.6C1151.4 2133.4 1149.3 2134.1 1144.6 2135.5C1139.8 2137.0 1130.3 2139.5 1125.6 2136.3C1120.8 2133.2 1118.5 2122.5 1116.1 2116.6C1113.7 2110.7 1109.8 2107.6 1111.4 2100.8Z"/>
<path d="M1162.3 2117.9C1163.6 2112.1 1165.7 2102.4 1170.2 2097.4C1174.6 2092.4 1182.8 2089.0 1189.1 2087.9C1195.5 2086.8 1203.1 2088.2 1208.1 2091.1C1213.1 2094.0 1216.8 2100.6 1219.2 2105.3C1221.5 2110.0 1223.1 2114.0 1222.3 2119.5C1221.5 2125.1 1217.3 2133.8 1214.4 2138.5C1211.5 2143.2 1209.4 2145.6 1204.9 2148.0C1200.5 2150.4 1193.3 2153.3 1187.6 2152.7C1181.8 2152.2 1174.4 2148.2 1170.2 2144.8C1165.9 2141.4 1163.6 2136.7 1162.3 2132.2C1160.9 2127.7 1160.9 2123.7 1162.3 2117.9Z"/>
<path d="M1048.8 2109.1C1052.2 2102.5 1060.2 2100.4 1069.4 2099.6C1078.7 2098.8 1097.2 2099.9 1104.4 2104.4C1111.5 2108.9 1110.5 2120.8 1112.3 2126.6C1114.2 2132.4 1116.8 2134.0 1115.5 2139.3C1114.2 2144.6 1109.7 2154.2 1104.4 2158.4C1099.1 2162.6 1090.1 2165.0 1083.7 2164.8C1077.4 2164.5 1072.1 2161.0 1066.2 2156.8C1060.4 2152.6 1051.7 2147.3 1048.8 2139.3C1045.9 2131.4 1045.3 2115.8 1048.8 2109.1Z"/>
<path d="M1101.5 2175.1C1101.5 2170.1 1105.7 2165.7 1109.4 2161.0C1113.0 2156.3 1118.0 2149.5 1123.4 2146.9C1128.9 2144.3 1137.0 2144.3 1142.2 2145.3C1147.5 2146.4 1151.9 2149.8 1154.8 2153.2C1157.6 2156.6 1159.7 2160.5 1159.5 2165.7C1159.2 2170.9 1156.3 2179.5 1153.2 2184.5C1150.1 2189.5 1145.6 2193.1 1140.7 2195.5C1135.7 2197.8 1128.7 2199.4 1123.4 2198.6C1118.2 2197.8 1113.0 2194.7 1109.4 2190.8C1105.7 2186.8 1101.5 2180.1 1101.5 2175.1Z"/>
<path d="M1264.7 2111.6C1265.2 2105.8 1268.5 2101.9 1271.7 2099.0C1275.0 2096.1 1275.9 2094.3 1284.3 2094.3C1292.6 2094.3 1315.6 2091.6 1321.9 2099.0C1328.2 2106.5 1326.6 2132.5 1321.9 2139.0C1317.2 2145.5 1301.0 2137.8 1293.7 2138.2C1286.4 2138.6 1282.2 2142.1 1278.0 2141.3C1273.8 2140.6 1270.8 2138.5 1268.6 2133.5C1266.4 2128.5 1264.2 2117.3 1264.7 2111.6Z"/>
<path d="M1268.9 2165.9C1270.0 2160.6 1273.9 2155.0 1278.4 2151.7C1282.8 2148.4 1288.3 2146.5 1295.7 2146.2C1303.0 2145.9 1317.9 2141.6 1322.4 2150.1C1326.8 2158.6 1325.8 2188.6 1322.4 2197.3C1319.0 2205.9 1308.2 2202.3 1301.9 2202.0C1295.7 2201.7 1289.6 2198.9 1284.6 2195.7C1279.7 2192.6 1274.7 2188.1 1272.1 2183.1C1269.5 2178.2 1267.9 2171.1 1268.9 2165.9Z"/>
<path d="M1253.0 2230.3C1244.3 2227.8 1258.7 2218.5 1263.9 2214.9C1269.0 2211.3 1277.5 2208.9 1284.0 2208.7C1290.4 2208.4 1297.1 2209.7 1302.5 2213.3C1307.9 2216.9 1324.7 2227.5 1316.4 2230.3C1308.2 2233.2 1261.8 2232.9 1253.0 2230.3Z"/>
</g>
<g fill="#5B3FA0" opacity="0.6" filter="url(#b5)">
<ellipse cx="1072.8" cy="1988.7" rx="12.4" ry="17.1"/>
<ellipse cx="1200.3" cy="1969.3" rx="17.6" ry="8.6"/>
<ellipse cx="1245.5" cy="2015.3" rx="20.9" ry="20.5"/>
<ellipse cx="1294.7" cy="2050.4" rx="15.0" ry="20.9"/>
<ellipse cx="1091.9" cy="2067.5" rx="16.7" ry="15.4"/>
<ellipse cx="1141.0" cy="2101.6" rx="15.2" ry="18.8"/>
<ellipse cx="1191.9" cy="2121.4" rx="16.3" ry="17.5"/>
<ellipse cx="1083.7" cy="2133.2" rx="18.0" ry="17.5"/>
<ellipse cx="1131.7" cy="2171.7" rx="15.9" ry="14.6"/>
<ellipse cx="1288.1" cy="2119.5" rx="15.6" ry="12.9"/>
<ellipse cx="1293.3" cy="2174.0" rx="14.6" ry="15.2"/>
<ellipse cx="1284.0" cy="2219.5" rx="17.6" ry="6.0"/>
</g>
<g fill="#cfc8ee" opacity="0.3" filter="url(#tex)">
<path d="M1048.3 1954.2C1053.1 1945.5 1069.6 1956.8 1076.6 1960.4C1083.7 1964.1 1087.9 1970.9 1090.8 1976.2C1093.7 1981.4 1094.7 1986.4 1093.9 1991.9C1093.1 1997.4 1090.8 2005.0 1086.1 2009.2C1081.3 2013.3 1071.9 2016.5 1065.6 2017.0C1059.3 2017.5 1051.2 2022.8 1048.3 2012.3C1045.5 2001.8 1043.6 1962.8 1048.3 1954.2Z"/>
<path d="M1169.7 1952.9C1179.6 1950.6 1223.8 1950.1 1233.4 1952.9C1242.9 1955.8 1230.8 1965.3 1227.2 1970.0C1223.5 1974.7 1216.0 1978.5 1211.6 1980.9C1207.2 1983.2 1205.2 1984.5 1200.8 1984.0C1196.4 1983.4 1189.6 1980.6 1185.2 1977.8C1180.9 1974.9 1177.0 1971.0 1174.4 1966.9C1171.8 1962.8 1159.9 1955.3 1169.7 1952.9Z"/>
<path d="M1208.1 2012.6C1208.9 2006.5 1211.6 1997.4 1216.1 1991.8C1220.7 1986.2 1227.1 1981.4 1235.4 1979.0C1243.6 1976.6 1257.8 1975.0 1265.8 1977.4C1273.8 1979.8 1279.9 1988.6 1283.4 1993.4C1286.9 1998.2 1288.0 2000.6 1286.6 2006.2C1285.3 2011.8 1280.2 2019.3 1275.4 2027.1C1270.6 2034.8 1263.7 2048.2 1257.8 2052.7C1251.9 2057.2 1246.3 2055.6 1240.2 2054.3C1234.0 2053.0 1225.7 2049.0 1220.9 2044.7C1216.1 2040.4 1213.5 2034.0 1211.3 2028.7C1209.2 2023.3 1207.3 2018.8 1208.1 2012.6Z"/>
<path d="M1267.1 2059.4C1268.9 2053.6 1277.2 2041.3 1281.4 2033.9C1285.7 2026.5 1288.3 2018.7 1292.6 2014.8C1296.8 2010.8 1301.9 2010.5 1306.9 2010.0C1312.0 2009.4 1320.2 1998.5 1322.9 2011.6C1325.5 2024.6 1325.5 2075.6 1322.9 2088.1C1320.2 2100.6 1313.8 2087.9 1306.9 2086.5C1300.0 2085.2 1287.5 2083.1 1281.4 2080.2C1275.3 2077.2 1272.6 2072.4 1270.2 2069.0C1267.9 2065.5 1265.2 2065.3 1267.1 2059.4Z"/>
<path d="M1060.7 2070.0C1061.0 2063.4 1065.1 2056.1 1068.6 2051.1C1072.0 2046.1 1076.2 2042.2 1081.2 2040.1C1086.1 2038.0 1092.4 2036.6 1098.5 2038.5C1104.5 2040.3 1113.4 2047.1 1117.4 2051.1C1121.3 2055.0 1122.9 2056.9 1122.1 2062.1C1121.3 2067.4 1115.5 2077.1 1112.7 2082.6C1109.8 2088.1 1109.2 2093.3 1104.8 2095.2C1100.3 2097.0 1092.2 2094.4 1085.9 2093.6C1079.6 2092.8 1071.2 2094.4 1067.0 2090.5C1062.8 2086.5 1060.4 2076.5 1060.7 2070.0Z"/>
<path d="M1111.4 2100.8C1112.9 2093.9 1120.1 2081.2 1125.6 2075.5C1131.1 2069.8 1138.8 2067.3 1144.6 2066.8C1150.3 2066.3 1156.5 2069.6 1160.4 2072.3C1164.2 2075.1 1167.5 2078.7 1167.5 2083.4C1167.5 2088.1 1162.6 2093.4 1160.4 2100.8C1158.1 2108.2 1156.7 2121.9 1154.0 2127.6C1151.4 2133.4 1149.3 2134.1 1144.6 2135.5C1139.8 2137.0 1130.3 2139.5 1125.6 2136.3C1120.8 2133.2 1118.5 2122.5 1116.1 2116.6C1113.7 2110.7 1109.8 2107.6 1111.4 2100.8Z"/>
<path d="M1162.3 2117.9C1163.6 2112.1 1165.7 2102.4 1170.2 2097.4C1174.6 2092.4 1182.8 2089.0 1189.1 2087.9C1195.5 2086.8 1203.1 2088.2 1208.1 2091.1C1213.1 2094.0 1216.8 2100.6 1219.2 2105.3C1221.5 2110.0 1223.1 2114.0 1222.3 2119.5C1221.5 2125.1 1217.3 2133.8 1214.4 2138.5C1211.5 2143.2 1209.4 2145.6 1204.9 2148.0C1200.5 2150.4 1193.3 2153.3 1187.6 2152.7C1181.8 2152.2 1174.4 2148.2 1170.2 2144.8C1165.9 2141.4 1163.6 2136.7 1162.3 2132.2C1160.9 2127.7 1160.9 2123.7 1162.3 2117.9Z"/>
<path d="M1048.8 2109.1C1052.2 2102.5 1060.2 2100.4 1069.4 2099.6C1078.7 2098.8 1097.2 2099.9 1104.4 2104.4C1111.5 2108.9 1110.5 2120.8 1112.3 2126.6C1114.2 2132.4 1116.8 2134.0 1115.5 2139.3C1114.2 2144.6 1109.7 2154.2 1104.4 2158.4C1099.1 2162.6 1090.1 2165.0 1083.7 2164.8C1077.4 2164.5 1072.1 2161.0 1066.2 2156.8C1060.4 2152.6 1051.7 2147.3 1048.8 2139.3C1045.9 2131.4 1045.3 2115.8 1048.8 2109.1Z"/>
<path d="M1101.5 2175.1C1101.5 2170.1 1105.7 2165.7 1109.4 2161.0C1113.0 2156.3 1118.0 2149.5 1123.4 2146.9C1128.9 2144.3 1137.0 2144.3 1142.2 2145.3C1147.5 2146.4 1151.9 2149.8 1154.8 2153.2C1157.6 2156.6 1159.7 2160.5 1159.5 2165.7C1159.2 2170.9 1156.3 2179.5 1153.2 2184.5C1150.1 2189.5 1145.6 2193.1 1140.7 2195.5C1135.7 2197.8 1128.7 2199.4 1123.4 2198.6C1118.2 2197.8 1113.0 2194.7 1109.4 2190.8C1105.7 2186.8 1101.5 2180.1 1101.5 2175.1Z"/>
<path d="M1264.7 2111.6C1265.2 2105.8 1268.5 2101.9 1271.7 2099.0C1275.0 2096.1 1275.9 2094.3 1284.3 2094.3C1292.6 2094.3 1315.6 2091.6 1321.9 2099.0C1328.2 2106.5 1326.6 2132.5 1321.9 2139.0C1317.2 2145.5 1301.0 2137.8 1293.7 2138.2C1286.4 2138.6 1282.2 2142.1 1278.0 2141.3C1273.8 2140.6 1270.8 2138.5 1268.6 2133.5C1266.4 2128.5 1264.2 2117.3 1264.7 2111.6Z"/>
<path d="M1268.9 2165.9C1270.0 2160.6 1273.9 2155.0 1278.4 2151.7C1282.8 2148.4 1288.3 2146.5 1295.7 2146.2C1303.0 2145.9 1317.9 2141.6 1322.4 2150.1C1326.8 2158.6 1325.8 2188.6 1322.4 2197.3C1319.0 2205.9 1308.2 2202.3 1301.9 2202.0C1295.7 2201.7 1289.6 2198.9 1284.6 2195.7C1279.7 2192.6 1274.7 2188.1 1272.1 2183.1C1269.5 2178.2 1267.9 2171.1 1268.9 2165.9Z"/>
<path d="M1253.0 2230.3C1244.3 2227.8 1258.7 2218.5 1263.9 2214.9C1269.0 2211.3 1277.5 2208.9 1284.0 2208.7C1290.4 2208.4 1297.1 2209.7 1302.5 2213.3C1307.9 2216.9 1324.7 2227.5 1316.4 2230.3C1308.2 2233.2 1261.8 2232.9 1253.0 2230.3Z"/>
</g>
<g fill="none" stroke="#EFE6DC" stroke-width="1.6">
<path d="M1046.1 1951.0C1051.3 1941.6 1069.3 1953.9 1077.0 1957.9C1084.7 1961.9 1089.3 1969.3 1092.4 1975.0C1095.5 1980.7 1096.7 1986.2 1095.8 1992.2C1095.0 1998.1 1092.4 2006.4 1087.3 2011.0C1082.1 2015.6 1071.8 2019.0 1065.0 2019.6C1058.1 2020.1 1049.3 2025.8 1046.1 2014.4C1043.0 2003.0 1041.0 1960.5 1046.1 1951.0Z"/>
<path d="M1166.5 1951.2C1177.4 1948.6 1226.3 1948.0 1236.8 1951.2C1247.4 1954.3 1234.0 1964.9 1230.0 1970.1C1226.0 1975.2 1217.7 1979.5 1212.8 1982.1C1208.0 1984.7 1205.7 1986.1 1200.8 1985.5C1196.0 1984.9 1188.5 1981.8 1183.7 1978.6C1178.8 1975.5 1174.5 1971.2 1171.6 1966.6C1168.8 1962.1 1155.6 1953.8 1166.5 1951.2Z"/>
<path d="M1205.6 2012.5C1206.5 2005.9 1209.3 1996.2 1214.2 1990.2C1219.0 1984.3 1225.8 1979.1 1234.7 1976.6C1243.5 1974.0 1258.6 1972.3 1267.1 1974.9C1275.7 1977.4 1282.2 1986.8 1285.9 1992.0C1289.7 1997.1 1290.8 1999.6 1289.4 2005.6C1287.9 2011.6 1282.5 2019.6 1277.4 2027.8C1272.3 2036.1 1264.9 2050.4 1258.6 2055.2C1252.3 2060.0 1246.4 2058.3 1239.8 2056.9C1233.2 2055.5 1224.4 2051.2 1219.3 2046.6C1214.2 2042.1 1211.3 2035.3 1209.0 2029.6C1206.8 2023.9 1204.8 2019.0 1205.6 2012.5Z"/>
<path d="M1265.1 2060.1C1267.1 2053.8 1275.9 2040.7 1280.5 2032.7C1285.0 2024.7 1287.9 2016.5 1292.4 2012.2C1297.0 2007.9 1302.4 2007.6 1307.8 2007.1C1313.2 2006.5 1322.1 1994.8 1324.9 2008.8C1327.8 2022.7 1327.8 2077.5 1324.9 2090.9C1322.1 2104.2 1315.2 2090.6 1307.8 2089.1C1300.4 2087.7 1287.0 2085.4 1280.5 2082.3C1273.9 2079.2 1271.0 2074.0 1268.5 2070.3C1265.9 2066.6 1263.1 2066.3 1265.1 2060.1Z"/>
<path d="M1058.0 2070.2C1058.2 2063.1 1062.8 2055.1 1066.5 2049.6C1070.2 2044.2 1074.8 2039.9 1080.2 2037.7C1085.6 2035.4 1092.5 2033.9 1099.1 2035.9C1105.6 2037.9 1115.3 2045.4 1119.6 2049.6C1123.9 2053.9 1125.6 2055.9 1124.8 2061.6C1123.9 2067.3 1117.6 2077.9 1114.5 2083.9C1111.3 2089.9 1110.8 2095.6 1105.9 2097.6C1101.1 2099.6 1092.2 2096.8 1085.4 2095.9C1078.5 2095.0 1069.4 2096.8 1064.8 2092.5C1060.2 2088.2 1057.7 2077.3 1058.0 2070.2Z"/>
<path d="M1108.9 2100.7C1110.6 2093.3 1118.3 2079.5 1124.3 2073.3C1130.3 2067.2 1138.6 2064.5 1144.8 2063.9C1151.1 2063.3 1157.8 2066.9 1162.0 2069.9C1166.1 2072.9 1169.7 2076.7 1169.7 2081.9C1169.7 2087.0 1164.4 2092.7 1162.0 2100.7C1159.5 2108.7 1158.0 2123.5 1155.1 2129.8C1152.3 2136.1 1150.0 2136.8 1144.8 2138.4C1139.7 2139.9 1129.4 2142.7 1124.3 2139.2C1119.2 2135.8 1116.6 2124.3 1114.0 2117.8C1111.5 2111.4 1107.2 2108.1 1108.9 2100.7Z"/>
<path d="M1159.8 2117.7C1161.2 2111.4 1163.5 2100.8 1168.4 2095.4C1173.2 2090.0 1182.1 2086.3 1188.9 2085.1C1195.8 2084.0 1204.0 2085.4 1209.5 2088.6C1214.9 2091.7 1218.9 2098.8 1221.4 2104.0C1224.0 2109.1 1225.7 2113.4 1224.9 2119.4C1224.0 2125.4 1219.4 2134.8 1216.3 2139.9C1213.2 2145.0 1210.9 2147.6 1206.0 2150.2C1201.2 2152.8 1193.5 2155.9 1187.2 2155.3C1180.9 2154.8 1172.9 2150.5 1168.4 2146.8C1163.8 2143.1 1161.2 2137.9 1159.8 2133.1C1158.4 2128.2 1158.4 2123.9 1159.8 2117.7Z"/>
<path d="M1046.1 2107.3C1049.8 2100.2 1058.3 2097.9 1068.3 2097.0C1078.3 2096.2 1098.3 2097.3 1106.0 2102.2C1113.7 2107.0 1112.5 2119.8 1114.5 2126.1C1116.5 2132.4 1119.4 2134.1 1117.9 2139.8C1116.5 2145.5 1111.7 2155.8 1106.0 2160.3C1100.3 2164.9 1090.6 2167.5 1083.7 2167.2C1076.9 2166.9 1071.2 2163.2 1064.9 2158.6C1058.6 2154.1 1049.2 2148.4 1046.1 2139.8C1042.9 2131.2 1042.4 2114.4 1046.1 2107.3Z"/>
<path d="M1098.7 2175.4C1098.7 2170.0 1103.2 2165.1 1107.2 2160.0C1111.2 2154.9 1116.7 2147.4 1122.7 2144.6C1128.7 2141.7 1137.5 2141.7 1143.2 2142.9C1148.9 2144.0 1153.8 2147.7 1156.9 2151.4C1160.1 2155.1 1162.4 2159.4 1162.1 2165.1C1161.8 2170.9 1158.7 2180.3 1155.2 2185.7C1151.8 2191.1 1146.9 2195.1 1141.5 2197.7C1136.1 2200.3 1128.4 2202.0 1122.7 2201.1C1117.0 2200.3 1111.2 2196.8 1107.2 2192.6C1103.2 2188.3 1098.7 2180.8 1098.7 2175.4Z"/>
<path d="M1262.5 2110.8C1263.1 2104.5 1266.6 2100.2 1270.2 2097.1C1273.8 2094.0 1274.8 2092.0 1283.9 2092.0C1293.1 2092.0 1318.2 2089.0 1325.0 2097.1C1331.9 2105.2 1330.2 2133.7 1325.0 2140.8C1319.9 2147.9 1302.2 2139.5 1294.2 2140.0C1286.2 2140.4 1281.6 2144.2 1277.1 2143.4C1272.5 2142.5 1269.2 2140.2 1266.8 2134.8C1264.4 2129.4 1261.9 2117.1 1262.5 2110.8Z"/>
<path d="M1266.7 2165.1C1267.9 2159.4 1272.2 2153.3 1277.0 2149.7C1281.9 2146.1 1287.9 2144.0 1295.9 2143.7C1303.9 2143.4 1320.1 2138.7 1325.0 2148.0C1329.8 2157.3 1328.7 2190.0 1325.0 2199.4C1321.3 2208.8 1309.6 2204.8 1302.7 2204.5C1295.9 2204.2 1289.3 2201.1 1283.9 2197.7C1278.4 2194.2 1273.0 2189.4 1270.2 2184.0C1267.3 2178.5 1265.6 2170.8 1266.7 2165.1Z"/>
<path d="M1249.6 2231.5C1239.9 2228.7 1255.9 2218.4 1261.6 2214.4C1267.4 2210.3 1276.8 2207.8 1284.0 2207.5C1291.1 2207.2 1298.6 2208.6 1304.6 2212.6C1310.6 2216.6 1329.2 2228.4 1320.0 2231.5C1310.9 2234.7 1259.4 2234.4 1249.6 2231.5Z"/>
</g>
</g>
<rect x="1051.1" y="1956.2" width="272.5" height="272.4" fill="none" stroke="#000" stroke-width="3.7"/>
<rect x="760.1" y="2237.1" width="276.1" height="275.4" fill="#F2E9DA" stroke="none" stroke-width="0"/>
<g clip-path="url(#f5)">
<g fill="#C7BBDE" filter="url(#rough)" opacity="0.9">
<ellipse cx="880.6" cy="2279.2" rx="37.8" ry="36.0"/>
<ellipse cx="791.5" cy="2345.4" rx="37.8" ry="43.2"/>
<ellipse cx="850.0" cy="2347.1" rx="36.0" ry="39.6"/>
<ellipse cx="909.4" cy="2331.8" rx="30.6" ry="32.4"/>
<ellipse cx="992.6" cy="2306.4" rx="37.8" ry="39.6"/>
<ellipse cx="970.5" cy="2352.2" rx="41.4" ry="36.0"/>
<ellipse cx="889.1" cy="2387.8" rx="30.6" ry="30.6"/>
<ellipse cx="946.7" cy="2391.2" rx="34.2" ry="30.6"/>
<ellipse cx="1001.1" cy="2438.7" rx="36.0" ry="37.8"/>
<ellipse cx="894.1" cy="2454.0" rx="32.4" ry="32.4"/>
<ellipse cx="950.1" cy="2454.0" rx="34.2" ry="34.2"/>
<ellipse cx="785.5" cy="2479.4" rx="41.4" ry="39.6"/>
<ellipse cx="780.5" cy="2515.1" rx="39.6" ry="18.0"/>
</g>
<g filter="url(#rough3)" fill="#9676BB" opacity="0.88">
<ellipse cx="836.5" cy="2338.6" rx="19.2" ry="20.2"/>
<ellipse cx="850.0" cy="2364.1" rx="22.2" ry="21.2"/>
<ellipse cx="950.1" cy="2347.1" rx="23.2" ry="23.2"/>
<ellipse cx="977.3" cy="2352.2" rx="23.2" ry="19.2"/>
<ellipse cx="878.9" cy="2375.9" rx="19.2" ry="20.2"/>
<ellipse cx="904.3" cy="2386.1" rx="13.2" ry="23.2"/>
<ellipse cx="929.8" cy="2387.8" rx="17.2" ry="23.2"/>
<ellipse cx="956.9" cy="2394.6" rx="18.2" ry="18.2"/>
<ellipse cx="992.6" cy="2421.7" rx="25.2" ry="20.2"/>
<ellipse cx="1001.1" cy="2448.9" rx="21.2" ry="19.2"/>
<ellipse cx="894.1" cy="2433.6" rx="15.2" ry="13.2"/>
<ellipse cx="907.7" cy="2452.3" rx="12.2" ry="23.2"/>
<ellipse cx="890.8" cy="2472.7" rx="21.2" ry="12.2"/>
<ellipse cx="877.2" cy="2459.1" rx="11.2" ry="13.2"/>
<ellipse cx="975.6" cy="2297.9" rx="17.2" ry="23.2"/>
<ellipse cx="996.0" cy="2280.9" rx="25.2" ry="13.2"/>
<ellipse cx="1016.3" cy="2294.5" rx="13.2" ry="17.2"/>
<ellipse cx="780.5" cy="2511.7" rx="41.2" ry="15.2"/>
<ellipse cx="880.6" cy="2277.5" rx="29.7" ry="29.7"/>
<ellipse cx="791.0" cy="2337.8" rx="27.9" ry="27.9"/>
<ellipse cx="909.4" cy="2330.1" rx="26.1" ry="26.1"/>
<ellipse cx="950.1" cy="2451.4" rx="27.9" ry="27.9"/>
<ellipse cx="785.5" cy="2476.1" rx="27.9" ry="27.9"/>
</g>
<g filter="url(#rough2)">
<g fill="#66409C">
<ellipse cx="836.5" cy="2338.6" rx="12.5" ry="13.2"/>
<ellipse cx="850.0" cy="2364.1" rx="14.6" ry="13.9"/>
<ellipse cx="950.1" cy="2347.1" rx="15.3" ry="15.3"/>
<ellipse cx="977.3" cy="2352.2" rx="15.3" ry="12.5"/>
<ellipse cx="878.9" cy="2375.9" rx="12.5" ry="13.2"/>
<ellipse cx="904.3" cy="2386.1" rx="8.3" ry="15.3"/>
<ellipse cx="929.8" cy="2387.8" rx="11.1" ry="15.3"/>
<ellipse cx="956.9" cy="2394.6" rx="11.8" ry="11.8"/>
<ellipse cx="992.6" cy="2421.7" rx="16.7" ry="13.2"/>
<ellipse cx="1001.1" cy="2448.9" rx="13.9" ry="12.5"/>
<ellipse cx="894.1" cy="2433.6" rx="9.7" ry="8.3"/>
<ellipse cx="907.7" cy="2452.3" rx="7.7" ry="15.3"/>
<ellipse cx="890.8" cy="2472.7" rx="13.9" ry="7.7"/>
<ellipse cx="877.2" cy="2459.1" rx="7.0" ry="8.3"/>
<ellipse cx="975.6" cy="2297.9" rx="11.1" ry="15.3"/>
<ellipse cx="996.0" cy="2280.9" rx="16.7" ry="8.3"/>
<ellipse cx="1016.3" cy="2294.5" rx="8.3" ry="11.1"/>
<ellipse cx="780.5" cy="2511.7" rx="27.8" ry="9.7"/>
</g>
<g fill="none" stroke="#66409C">
<circle cx="880.6" cy="2277.5" r="17.1" stroke-width="9.8"/>
<circle cx="791.0" cy="2337.8" r="15.4" stroke-width="9.8"/>
<circle cx="909.4" cy="2330.1" r="15.6" stroke-width="8.1"/>
<circle cx="950.1" cy="2451.4" r="16.9" stroke-width="8.4"/>
<circle cx="785.5" cy="2476.1" r="16.1" stroke-width="9.2"/>
</g>
<g fill="#DABFDB">
<ellipse cx="880.6" cy="2277.5" rx="12.8" ry="12.8"/>
<ellipse cx="791.0" cy="2337.8" rx="11.1" ry="11.1"/>
<ellipse cx="909.4" cy="2330.1" rx="12.1" ry="12.1"/>
<ellipse cx="950.1" cy="2451.4" rx="13.3" ry="13.3"/>
<ellipse cx="785.5" cy="2476.1" rx="12.1" ry="12.1"/>
</g>
<g fill="#DABFDB" filter="url(#b2)" opacity="0.9">
<ellipse cx="955.2" cy="2331.8" rx="15.3" ry="10.2"/>
<ellipse cx="999.4" cy="2309.8" rx="11.9" ry="10.2"/>
<ellipse cx="890.8" cy="2387.8" rx="6.8" ry="10.2"/>
<ellipse cx="856.8" cy="2345.4" rx="8.5" ry="8.5"/>
<ellipse cx="895.8" cy="2452.3" rx="8.5" ry="8.5"/>
<ellipse cx="1007.8" cy="2437.0" rx="6.8" ry="6.8"/>
</g>
</g>
<g fill="#4F2D8F" filter="url(#tex2)" opacity="0.75">
<ellipse cx="836.5" cy="2338.6" rx="14.5" ry="15.3"/>
<ellipse cx="850.0" cy="2364.1" rx="16.9" ry="16.1"/>
<ellipse cx="950.1" cy="2347.1" rx="17.7" ry="17.7"/>
<ellipse cx="977.3" cy="2352.2" rx="17.7" ry="14.5"/>
<ellipse cx="878.9" cy="2375.9" rx="14.5" ry="15.3"/>
<ellipse cx="904.3" cy="2386.1" rx="9.7" ry="17.7"/>
<ellipse cx="929.8" cy="2387.8" rx="12.9" ry="17.7"/>
<ellipse cx="956.9" cy="2394.6" rx="13.7" ry="13.7"/>
<ellipse cx="992.6" cy="2421.7" rx="19.3" ry="15.3"/>
<ellipse cx="1001.1" cy="2448.9" rx="16.1" ry="14.5"/>
<ellipse cx="894.1" cy="2433.6" rx="11.3" ry="9.7"/>
<ellipse cx="907.7" cy="2452.3" rx="8.9" ry="17.7"/>
<ellipse cx="890.8" cy="2472.7" rx="16.1" ry="8.9"/>
<ellipse cx="877.2" cy="2459.1" rx="8.1" ry="9.7"/>
<ellipse cx="975.6" cy="2297.9" rx="12.9" ry="17.7"/>
<ellipse cx="996.0" cy="2280.9" rx="19.3" ry="9.7"/>
<ellipse cx="1016.3" cy="2294.5" rx="9.7" ry="12.9"/>
<ellipse cx="780.5" cy="2511.7" rx="32.2" ry="11.3"/>
<circle cx="880.6" cy="2277.5" r="20.0" fill="none" stroke="#4F2D8F" stroke-width="14.3"/>
<circle cx="791.0" cy="2337.8" r="18.4" fill="none" stroke="#4F2D8F" stroke-width="14.3"/>
<circle cx="909.4" cy="2330.1" r="18.0" fill="none" stroke="#4F2D8F" stroke-width="11.6"/>
<circle cx="950.1" cy="2451.4" r="19.5" fill="none" stroke="#4F2D8F" stroke-width="12.1"/>
<circle cx="785.5" cy="2476.1" r="18.9" fill="none" stroke="#4F2D8F" stroke-width="13.3"/>
</g>
<path d="M764.3 2499.0C780.5 2493.9 797.4 2499.8 812.7 2508.3" stroke="#F6EFE6" stroke-width="1.8" fill="none" stroke-linejoin="miter" stroke-linecap="butt"/>
</g>
<rect x="762.0" y="2238.9" width="272.4" height="271.7" fill="none" stroke="#000" stroke-width="3.7"/>
<rect x="1049.3" y="2237.1" width="276.2" height="275.4" fill="#F2E9DA" stroke="none" stroke-width="0"/>
<g clip-path="url(#f6)">
<g fill="#C7BBDE" filter="url(#rough)" opacity="0.9">
<ellipse cx="1136.3" cy="2272.4" rx="34.2" ry="34.2"/>
<ellipse cx="1178.8" cy="2258.8" rx="27.0" ry="25.2"/>
<ellipse cx="1078.6" cy="2299.6" rx="36.0" ry="36.0"/>
<ellipse cx="1138.0" cy="2326.7" rx="36.0" ry="28.8"/>
<ellipse cx="1207.6" cy="2311.5" rx="28.8" ry="33.3"/>
<ellipse cx="1119.4" cy="2375.9" rx="41.4" ry="27.0"/>
<ellipse cx="1065.1" cy="2401.4" rx="25.2" ry="27.0"/>
<ellipse cx="1095.6" cy="2420.1" rx="25.2" ry="28.8"/>
<ellipse cx="1143.1" cy="2415.0" rx="25.2" ry="28.8"/>
<ellipse cx="1119.4" cy="2452.3" rx="28.8" ry="27.0"/>
<ellipse cx="1187.2" cy="2423.4" rx="28.8" ry="37.8"/>
<ellipse cx="1233.1" cy="2386.1" rx="37.8" ry="41.4"/>
<ellipse cx="1289.1" cy="2392.9" rx="30.6" ry="32.4"/>
<ellipse cx="1268.7" cy="2431.9" rx="30.6" ry="28.8"/>
<ellipse cx="1222.9" cy="2457.4" rx="30.6" ry="36.0"/>
<ellipse cx="1061.7" cy="2440.4" rx="21.6" ry="21.6"/>
</g>
<g filter="url(#rough3)" fill="#9676BB" opacity="0.88">
<ellipse cx="1178.8" cy="2257.2" rx="25.2" ry="23.2"/>
<ellipse cx="1078.6" cy="2299.6" rx="32.2" ry="31.2"/>
<ellipse cx="1117.7" cy="2325.0" rx="17.2" ry="18.2"/>
<ellipse cx="1141.4" cy="2338.6" rx="19.2" ry="14.2"/>
<ellipse cx="1157.5" cy="2318.2" rx="14.2" ry="19.2"/>
<ellipse cx="1109.2" cy="2374.2" rx="28.2" ry="26.2"/>
<ellipse cx="1095.6" cy="2418.4" rx="26.2" ry="27.2"/>
<ellipse cx="1143.1" cy="2416.7" rx="23.2" ry="22.2"/>
<ellipse cx="1185.5" cy="2423.4" rx="28.2" ry="38.2"/>
<ellipse cx="1222.9" cy="2382.7" rx="18.2" ry="31.2"/>
<ellipse cx="1229.7" cy="2408.2" rx="19.2" ry="19.2"/>
<ellipse cx="1061.7" cy="2438.7" rx="21.2" ry="20.2"/>
<ellipse cx="1135.5" cy="2273.3" rx="26.1" ry="26.1"/>
<ellipse cx="1209.3" cy="2313.1" rx="24.3" ry="24.3"/>
<ellipse cx="1063.4" cy="2402.2" rx="24.3" ry="24.3"/>
<ellipse cx="1120.2" cy="2449.7" rx="23.4" ry="23.4"/>
<ellipse cx="1289.1" cy="2398.0" rx="24.3" ry="24.3"/>
<ellipse cx="1267.0" cy="2430.2" rx="26.1" ry="26.1"/>
<ellipse cx="1222.0" cy="2454.0" rx="26.1" ry="26.1"/>
</g>
<g filter="url(#rough2)">
<g fill="#66409C">
<ellipse cx="1178.8" cy="2257.2" rx="16.7" ry="15.3"/>
<ellipse cx="1078.6" cy="2299.6" rx="21.6" ry="20.9"/>
<ellipse cx="1117.7" cy="2325.0" rx="11.1" ry="11.8"/>
<ellipse cx="1141.4" cy="2338.6" rx="12.5" ry="9.0"/>
<ellipse cx="1157.5" cy="2318.2" rx="9.0" ry="12.5"/>
<ellipse cx="1109.2" cy="2374.2" rx="18.8" ry="17.4"/>
<ellipse cx="1095.6" cy="2418.4" rx="17.4" ry="18.1"/>
<ellipse cx="1143.1" cy="2416.7" rx="15.3" ry="14.6"/>
<ellipse cx="1185.5" cy="2423.4" rx="18.8" ry="25.7"/>
<ellipse cx="1222.9" cy="2382.7" rx="11.8" ry="20.9"/>
<ellipse cx="1229.7" cy="2408.2" rx="12.5" ry="12.5"/>
<ellipse cx="1061.7" cy="2438.7" rx="13.9" ry="13.2"/>
</g>
<g fill="none" stroke="#66409C">
<circle cx="1135.5" cy="2273.3" r="14.4" stroke-width="9.2"/>
<circle cx="1209.3" cy="2313.1" r="13.2" stroke-width="8.7"/>
<circle cx="1063.4" cy="2402.2" r="13.9" stroke-width="8.1"/>
<circle cx="1120.2" cy="2449.7" r="12.1" stroke-width="8.9"/>
<circle cx="1289.1" cy="2398.0" r="14.4" stroke-width="7.7"/>
<circle cx="1267.0" cy="2430.2" r="14.1" stroke-width="9.5"/>
<circle cx="1222.0" cy="2454.0" r="15.4" stroke-width="8.3"/>
</g>
<g fill="#DABFDB">
<ellipse cx="1135.5" cy="2273.3" rx="10.4" ry="10.4"/>
<ellipse cx="1209.3" cy="2313.1" rx="9.4" ry="9.4"/>
<ellipse cx="1063.4" cy="2402.2" rx="10.4" ry="10.4"/>
<ellipse cx="1120.2" cy="2449.7" rx="8.2" ry="8.2"/>
<ellipse cx="1289.1" cy="2398.0" rx="11.1" ry="11.1"/>
<ellipse cx="1267.0" cy="2430.2" rx="9.9" ry="9.9"/>
<ellipse cx="1222.0" cy="2454.0" rx="11.8" ry="11.8"/>
</g>
<g fill="#DABFDB" filter="url(#b2)" opacity="0.9">
<ellipse cx="1180.4" cy="2248.7" rx="7.1" ry="7.1"/>
<ellipse cx="1073.5" cy="2299.6" rx="5.1" ry="5.1"/>
<ellipse cx="1139.7" cy="2314.8" rx="10.2" ry="9.3"/>
<ellipse cx="1144.8" cy="2406.5" rx="5.4" ry="5.4"/>
<ellipse cx="1243.2" cy="2375.9" rx="13.6" ry="13.6"/>
<ellipse cx="1287.4" cy="2377.6" rx="15.3" ry="8.5"/>
<ellipse cx="1143.1" cy="2374.2" rx="10.2" ry="11.9"/>
</g>
</g>
<g fill="#4F2D8F" filter="url(#tex2)" opacity="0.75">
<ellipse cx="1178.8" cy="2257.2" rx="19.3" ry="17.7"/>
<ellipse cx="1078.6" cy="2299.6" rx="25.0" ry="24.2"/>
<ellipse cx="1117.7" cy="2325.0" rx="12.9" ry="13.7"/>
<ellipse cx="1141.4" cy="2338.6" rx="14.5" ry="10.5"/>
<ellipse cx="1157.5" cy="2318.2" rx="10.5" ry="14.5"/>
<ellipse cx="1109.2" cy="2374.2" rx="21.8" ry="20.2"/>
<ellipse cx="1095.6" cy="2418.4" rx="20.2" ry="21.0"/>
<ellipse cx="1143.1" cy="2416.7" rx="17.7" ry="16.9"/>
<ellipse cx="1185.5" cy="2423.4" rx="21.8" ry="29.8"/>
<ellipse cx="1222.9" cy="2382.7" rx="13.7" ry="24.2"/>
<ellipse cx="1229.7" cy="2408.2" rx="14.5" ry="14.5"/>
<ellipse cx="1061.7" cy="2438.7" rx="16.1" ry="15.3"/>
<circle cx="1135.5" cy="2273.3" r="17.2" fill="none" stroke="#4F2D8F" stroke-width="13.3"/>
<circle cx="1209.3" cy="2313.1" r="15.9" fill="none" stroke="#4F2D8F" stroke-width="12.7"/>
<circle cx="1063.4" cy="2402.2" r="16.4" fill="none" stroke="#4F2D8F" stroke-width="11.7"/>
<circle cx="1120.2" cy="2449.7" r="14.9" fill="none" stroke="#4F2D8F" stroke-width="13.1"/>
<circle cx="1289.1" cy="2398.0" r="16.7" fill="none" stroke="#4F2D8F" stroke-width="11.0"/>
<circle cx="1267.0" cy="2430.2" r="16.9" fill="none" stroke="#4F2D8F" stroke-width="13.9"/>
<circle cx="1222.0" cy="2454.0" r="17.9" fill="none" stroke="#4F2D8F" stroke-width="12.0"/>
</g>
<rect x="1248.8" y="2487.9" width="55.9" height="8.0" fill="#000" stroke="none" stroke-width="0"/>
</g>
<rect x="1051.1" y="2238.9" width="272.5" height="271.7" fill="none" stroke="#000" stroke-width="3.7"/>
<text x="1405.5" y="1655.5" font-size="37.5" fill="#231F20" text-anchor="start" font-weight="700">g</text>
<g clip-path="url(#g1)" stroke-width="1" fill="none"><g transform="translate(0,.5)">
<path d="M1498 1786h1m-8 1h1m12 5h1m-17 2h1m21 0h1m2 0h1m9 0h1m23 0h1m-49 1h1m12 0h1m-21 1h1m6 0h1m16 0h1m-8 1h1m-21 1h1m24 0h1m-9 1h1m1 0h1m5 0h1m1 0h1m3 0h1m15 0h1m-39 1h1m1 0h1m0 0h1m5 0h1m0 0h1m33 0h1m-47 1h1m1 0h1m2 0h1m11 0h1m12 0h1m-26 1h1m5 0h1m-12 1h1m7 0h1m0 0h1m-3 1h1m14 0h1m-20 1h1m0 0h1m3 0h1m64 0h1m-83 1h1m22 0h1m-17 2h1m9 0h1m8 0h1m17 0h1m3 2h1m-21 1h1m32 0h1m-43 1h1m0 0h1m-19 1h1m48 0h1m-32 1h1m23 0h1m-43 4h1m14 0h1m4 0h1m10 0h1m9 0h1m-49 1h1m21 0h1m14 0h1m4 1h1m5 0h1m-88 1h1m85 1h1m-4 2h1m-20 1h1m19 0h1m7 0h1m-53 1h1m55 0h1m-65 1h1m28 0h1m23 0h1m-68 1h1m50 0h1m12 1h1m-29 1h1m5 0h1m8 0h1m8 0h1m21 0h1m-69 1h1m7 0h1m2 0h1m28 0h1m14 0h1m-26 1h1m2 0h1m-16 1h1m4 0h1m39 0h1m-57 1h1m17 0h1m-4 1h1m6 0h1m8 0h1m12 0h1m-46 1h1m37 0h1m3 0h1m-14 1h1m0 0h1m-31 1h1m29 0h1m-29 1h1m23 0h1m6 0h1m12 0h1m3 0h1m-43 1h1m14 0h1m4 0h1m6 0h1m-55 1h1m23 0h1m6 0h1m6 0h1m10 0h1m4 0h1m4 0h1m2 0h1m-26 1h1m23 0h1m4 0h1m6 0h1m0 0h1m7 0h1m-78 1h1m32 0h1m8 0h1m9 0h1m13 0h1m1 0h1m14 0h1m-64 1h1m2 0h1m12 0h1m8 0h1m24 0h1m-46 1h1m9 0h1m2 0h1m3 0h1m12 0h1m4 0h1m-50 1h1m10 0h1m8 0h1m1 0h1m8 0h1m12 0h1m13 0h1m1 0h1m-44 1h1m0 0h1m5 0h1m7 0h1m1 0h1m5 0h1m5 0h1m4 0h1m-39 1h1m2 0h1m0 0h1m1 0h1m7 0h1m4 0h1m1 0h1m8 0h1m2 0h1m-22 1h1m4 0h1m1 0h1m7 0h1m-50 1h1m26 0h1m6 0h1m1 0h1m3 0h1m0 0h1m2 0h1m4 0h1m11 0h1m-55 1h1m8 0h1m2 0h1m1 0h1m19 0h1m4 0h1m0 0h1m9 0h1m19 0h1m4 0h1m-93 1h1m33 0h1m6 0h1m4 0h1m0 0h1m4 0h1m4 0h1m0 0h1m2 0h1m7 0h1m14 0h1m1 0h1m-49 1h1m3 0h1m6 0h1m6 0h1m1 0h1m2 0h1m2 0h1m0 0h1m3 0h1m9 0h1m1 0h1m-48 1h1m5 0h1m1 0h1m3 0h1m1 0h1m4 0h1m1 0h1m0 0h1m3 0h1m6 0h1m3 0h1m1 0h1m4 0h1m-81 1h1m41 0h1m1 0h1m3 0h1m0 0h1m0 0h1m2 0h1m0 0h1m0 0h1m0 0h1m1 0h1m0 0h1m1 0h1m4 0h1m13 0h1m5 0h1m-57 1h1m0 0h1m4 0h1m8 0h1m0 0h1m0 0h1m1 0h1m2 0h1m1 0h1m5 0h1m0 0h1m1 0h1m-37 1h1m14 0h1m1 0h1m1 0h1m0 0h1m1 0h1m7 0h1m2 0h1m2 0h1m0 0h1m0 0h1m3 0h1m3 0h1m0 0h1m1 0h1m12 0h1m-64 1h1m10 0h1m5 0h1m3 0h1m0 0h1m2 0h1m1 0h1m0 0h1m0 0h1m1 0h1m2 0h1m2 0h1m0 0h1m1 0h1m1 0h1m6 0h1m11 0h1m4 0h1m7 0h1m-63 1h1m0 0h1m7 0h1m0 0h1m3 0h1m7 0h1m0 0h1m2 0h1m5 0h1m2 0h1m-51 1h1m9 0h1m1 0h1m5 0h1m3 0h1m5 0h1m0 0h1m2 0h1m1 0h1m4 0h1m0 0h1m1 0h1m4 0h1m1 0h1m4 0h1m15 0h1m20 0h1m-91 1h1m4 0h1m9 0h1m5 0h1m2 0h1m3 0h1m3 0h1m0 0h1m0 0h1m2 0h1m0 0h1m1 0h1m0 0h1m-42 1h1m11 0h1m3 0h1m1 0h1m0 0h1m0 0h1m2 0h1m0 0h1m0 0h1m0 0h1m1 0h1m0 0h1m0 0h1m0 0h1m3 0h1m1 0h1m1 0h1m0 0h1m2 0h1m0 0h1m-43 1h1m10 0h1m2 0h1m2 0h1m0 0h1m3 0h1m2 0h1m3 0h1m2 0h1m4 0h1m1 0h1m1 0h1m18 0h1m10 0h1m-69 1h1m2 0h1m0 0h1m8 0h1m0 0h1m1 0h1m0 0h1m1 0h1m1 0h1m0 0h1m1 0h1m0 0h1m0 0h1m2 0h1m0 0h1m0 0h1m0 0h1m0 0h1m0 0h1m0 0h1m0 0h1m1 0h1m1 0h1m1 0h1m9 0h1m3 0h1m2 0h1m4 0h1m28 0h1m-109 1h1m15 0h1m0 0h1m3 0h1m1 0h1m4 0h1m0 0h1m1 0h1m1 0h1m0 0h1m1 0h1m1 0h1m1 0h1m0 0h1m0 0h1m0 0h1m0 0h1m0 0h1m2 0h1m0 0h1m0 0h1m0 0h1m1 0h1m6 0h1m3 0h1m1 0h1m4 0h1m2 0h1m-53 1h1m1 0h1m1 0h1m2 0h1m0 0h1m0 0h1m1 0h1m2 0h1m0 0h1m2 0h1m0 0h1m3 0h1m2 0h1m2 0h1m0 0h1m0 0h1m5 0h1m0 0h1m2 0h1m0 0h1m4 0h1m10 0h1m-70 1h1m8 0h1m1 0h1m8 0h1m1 0h1m0 0h1m1 0h1m0 0h1m0 0h1m0 0h1m1 0h1m3 0h1m0 0h1m1 0h1m1 0h1m1 0h1m0 0h1m0 0h1m5 0h1m10 0h1m-46 1h1m2 0h1m1 0h1m0 0h1m0 0h1m0 0h1m1 0h1m0 0h1m0 0h1m1 0h1m1 0h1m2 0h1m1 0h1m0 0h1m8 0h1m2 0h1m0 0h1m1 0h1m-56 1h1m9 0h1m2 0h1m0 0h1m3 0h1m0 0h1m1 0h1m1 0h1m0 0h1m0 0h1m0 0h1m0 0h1m0 0h1m2 0h1m1 0h1m0 0h1m0 0h1m0 0h1m0 0h1m0 0h1m4 0h1m2 0h1m0 0h1m1 0h1m5 0h1m1 0h1m13 0h1m-68 1h1m0 0h1m4 0h1m1 0h1m0 0h1m2 0h1m8 0h1m1 0h1m1 0h1m1 0h1m0 0h1m0 0h1m0 0h1m0 0h1m1 0h1m0 0h1m2 0h1m1 0h1m2 0h1m0 0h1m2 0h1m1 0h1m0 0h1m2 0h1m11 0h1m-71 1h1m7 0h1m0 0h1m11 0h1m0 0h1m4 0h1m0 0h1m3 0h1m0 0h1m0 0h1m4 0h1m0 0h1m0 0h1m6 0h1m1 0h1m1 0h1m1 0h1m0 0h1m2 0h1m4 0h1m8 0h1m-82 1h1m5 0h1m13 0h1m4 0h1m2 0h1m2 0h1m0 0h1m0 0h1m1 0h1m1 0h1m0 0h1m1 0h1m0 0h1m2 0h1m0 0h1m1 0h1m0 0h1m0 0h1m2 0h1m0 0h1m0 0h1m0 0h1m1 0h1m15 0h1m4 0h1m-74 1h1m15 0h1m1 0h1m2 0h1m2 0h1m1 0h1m0 0h1m3 0h1m0 0h1m2 0h1m3 0h1m0 0h1m0 0h1m1 0h1m0 0h1m0 0h1m0 0h1m0 0h1m0 0h1m1 0h1m0 0h1m1 0h1m3 0h1m5 0h1m2 0h1m1 0h1m1 0h1m7 0h1m22 0h1m-85 1h1m1 0h1m3 0h1m2 0h1m1 0h1m1 0h1m0 0h1m0 0h1m1 0h1m1 0h1m1 0h1m0 0h1m4 0h1m0 0h1m0 0h1m0 0h1m0 0h1m1 0h1m0 0h1m0 0h1m0 0h1m1 0h1m3 0h1m0 0h1m0 0h1m-50 1h1m5 0h1m1 0h1m4 0h1m0 0h1m1 0h1m0 0h1m0 0h1m0 0h1m0 0h1m0 0h1m0 0h1m0 0h1m0 0h1m0 0h1m3 0h1m0 0h1m0 0h1m0 0h1m0 0h1m3 0h1m0 0h1m1 0h1m2 0h1m1 0h1m5 0h1m7 0h1m6 0h1m-80 1h1m6 0h1m2 0h1m4 0h1m2 0h1m0 0h1m1 0h1m0 0h1m0 0h1m2 0h1m2 0h1m1 0h1m0 0h1m0 0h1m0 0h1m0 0h1m0 0h1m0 0h1m0 0h1m0 0h1m1 0h1m1 0h1m1 0h1m1 0h1m1 0h1m1 0h1m1 0h1m0 0h1m0 0h1m0 0h1m0 0h1m0 0h1m1 0h1m3 0h1m1 0h1m27 0h1m-78 1h1m1 0h1m2 0h1m3 0h1m1 0h1m0 0h1m0 0h1m3 0h1m0 0h1m1 0h1m1 0h1m4 0h1m0 0h1m1 0h1m0 0h1m2 0h1m0 0h1m0 0h1m0 0h1m0 0h1m0 0h1m0 0h1m1 0h1m0 0h1m6 0h1m1 0h1m6 0h1m23 0h1m-99 1h1m4 0h1m10 0h1m4 0h1m0 0h1m0 0h1m0 0h1m0 0h1m0 0h1m1 0h1m3 0h1m0 0h1m1 0h1m4 0h1m0 0h1m2 0h1m1 0h1m1 0h1m0 0h1m0 0h1m0 0h1m12 0h1m6 0h1m1 0h1m-76 1h1m5 0h1m7 0h1m5 0h1m0 0h1m4 0h1m0 0h1m4 0h1m1 0h1m0 0h1m3 0h1m0 0h1m1 0h1m0 0h1m0 0h1m1 0h1m1 0h1m0 0h1m0 0h1m0 0h1m3 0h1m1 0h1m2 0h1m0 0h1m1 0h1m0 0h1m2 0h1m13 0h1m-66 1h1m7 0h1m0 0h1m0 0h1m0 0h1m2 0h1m0 0h1m1 0h1m2 0h1m1 0h1m1 0h1m2 0h1m0 0h1m1 0h1m0 0h1m0 0h1m0 0h1m0 0h1m0 0h1m1 0h1m3 0h1m0 0h1m1 0h1m1 0h1m0 0h1m2 0h1m1 0h1m1 0h1m7 0h1m2 0h1m-83 1h1m10 0h1m4 0h1m6 0h1m2 0h1m1 0h1m0 0h1m0 0h1m2 0h1m1 0h1m0 0h1m3 0h1m2 0h1m0 0h1m0 0h1m0 0h1m0 0h1m1 0h1m0 0h1m2 0h1m0 0h1m2 0h1m1 0h1m0 0h1m12 0h1m-59 1h1m0 0h1m2 0h1m1 0h1m2 0h1m1 0h1m0 0h1m1 0h1m0 0h1m0 0h1m1 0h1m0 0h1m1 0h1m0 0h1m1 0h1m5 0h1m1 0h1m7 0h1m0 0h1m0 0h1m0 0h1m5 0h1m0 0h1m5 0h1m0 0h1m1 0h1m3 0h1m11 0h1m-89 1h1m13 0h1m2 0h1m4 0h1m0 0h1m3 0h1m0 0h1m0 0h1m1 0h1m0 0h1m4 0h1m0 0h1m0 0h1m1 0h1m3 0h1m0 0h1m2 0h1m0 0h1m0 0h1m0 0h1m1 0h1m1 0h1m2 0h1m0 0h1m1 0h1m1 0h1m1 0h1m0 0h1m5 0h1m-65 1h1m3 0h1m2 0h1m1 0h1m0 0h1m0 0h1m0 0h1m0 0h1m0 0h1m1 0h1m0 0h1m3 0h1m1 0h1m1 0h1m1 0h1m3 0h1m0 0h1m5 0h1m2 0h1m0 0h1m0 0h1m0 0h1m0 0h1m1 0h1m5 0h1m1 0h1m26 0h1m-90 1h1m9 0h1m5 0h1m0 0h1m0 0h1m1 0h1m1 0h1m0 0h1m0 0h1m1 0h1m0 0h1m0 0h1m0 0h1m2 0h1m1 0h1m2 0h1m5 0h1m0 0h1m1 0h1m0 0h1m2 0h1m1 0h1m0 0h1m0 0h1m0 0h1m2 0h1m0 0h1m0 0h1m15 0h1m-82 1h1m11 0h1m2 0h1m6 0h1m0 0h1m1 0h1m0 0h1m3 0h1m3 0h1m2 0h1m0 0h1m0 0h1m1 0h1m3 0h1m1 0h1m6 0h1m1 0h1m0 0h1m2 0h1m6 0h1m1 0h1m0 0h1m4 0h1m2 0h1m-94 1h1m22 0h1m1 0h1m1 0h1m1 0h1m1 0h1m2 0h1m0 0h1m2 0h1m0 0h1m1 0h1m2 0h1m2 0h1m12 0h1m2 0h1m6 0h1m0 0h1m0 0h1m0 0h1m1 0h1m0 0h1m-53 1h1m3 0h1m2 0h1m0 0h1m6 0h1m2 0h1m1 0h1m25 0h1m2 0h1m1 0h1m3 0h1m1 0h1m0 0h1m6 0h1m-69 1h1m8 0h1m2 0h1m11 0h1m0 0h1m0 0h1m3 0h1m13 0h1m0 0h1m0 0h1m3 0h1m0 0h1m1 0h1m0 0h1m0 0h1m4 0h1m0 0h1m4 0h1m6 0h1m16 0h1m3 0h1m14 0h1m-108 1h1m5 0h1m0 0h1m2 0h1m0 0h1m0 0h1m0 0h1m0 0h1m0 0h1m3 0h1m0 0h1m1 0h1m0 0h1m0 0h1m1 0h1m1 0h1m9 0h1m3 0h1m1 0h1m0 0h1m0 0h1m2 0h1m0 0h1m2 0h1m6 0h1m4 0h1m4 0h1m7 0h1m-86 1h1m9 0h1m4 0h1m3 0h1m1 0h1m0 0h1m0 0h1m0 0h1m1 0h1m2 0h1m14 0h1m6 0h1m0 0h1m0 0h1m0 0h1m1 0h1m0 0h1m0 0h1m0 0h1m0 0h1m0 0h1m0 0h1m1 0h1m2 0h1m8 0h1m2 0h1m0 0h1m4 0h1m-101 1h1m28 0h1m4 0h1m0 0h1m2 0h1m1 0h1m4 0h1m2 0h1m2 0h1m0 0h1m12 0h1m0 0h1m3 0h1m0 0h1m0 0h1m1 0h1m2 0h1m3 0h1m1 0h1m16 0h1m-85 1h1m5 0h1m3 0h1m1 0h1m0 0h1m1 0h1m2 0h1m1 0h1m1 0h1m0 0h1m0 0h1m1 0h1m1 0h1m2 0h1m17 0h1m1 0h1m2 0h1m0 0h1m0 0h1m0 0h1m1 0h1m0 0h1m1 0h1m2 0h1m4 0h1m6 0h1m1 0h1m1 0h1m7 0h1m-86 1h1m2 0h1m1 0h1m0 0h1m2 0h1m4 0h1m0 0h1m1 0h1m0 0h1m0 0h1m0 0h1m1 0h1m0 0h1m1 0h1m0 0h1m0 0h1m13 0h1m5 0h1m0 0h1m0 0h1m0 0h1m1 0h1m2 0h1m0 0h1m0 0h1m1 0h1m1 0h1m5 0h1m2 0h1m-67 1h1m9 0h1m3 0h1m1 0h1m0 0h1m1 0h1m0 0h1m0 0h1m21 0h1m2 0h1m2 0h1m0 0h1m0 0h1m1 0h1m1 0h1m3 0h1m2 0h1m0 0h1m6 0h1m-70 1h1m3 0h1m0 0h1m0 0h1m1 0h1m0 0h1m4 0h1m1 0h1m0 0h1m1 0h1m2 0h1m1 0h1m11 0h1m4 0h1m1 0h1m5 0h1m1 0h1m1 0h1m3 0h1m3 0h1m8 0h1m1 0h1m-78 1h1m10 0h1m0 0h1m0 0h1m0 0h1m3 0h1m0 0h1m1 0h1m0 0h1m0 0h1m0 0h1m19 0h1m2 0h1m0 0h1m2 0h1m0 0h1m2 0h1m1 0h1m32 0h1m-109 1h1m23 0h1m0 0h1m0 0h1m1 0h1m2 0h1m0 0h1m5 0h1m1 0h1m24 0h1m1 0h1m1 0h1m0 0h1m0 0h1m0 0h1m0 0h1m0 0h1m1 0h1m3 0h1m-64 1h1m9 0h1m0 0h1m4 0h1m1 0h1m4 0h1m2 0h1m21 0h1m2 0h1m1 0h1m2 0h1m0 0h1m1 0h1m0 0h1m0 0h1m9 0h1m2 0h1m15 0h1m-93 1h1m2 0h1m6 0h1m7 0h1m1 0h1m1 0h1m1 0h1m0 0h1m4 0h1m0 0h1m18 0h1m0 0h1m0 0h1m1 0h1m0 0h1m0 0h1m1 0h1m0 0h1m0 0h1m0 0h1m0 0h1m0 0h1m0 0h1m8 0h1m-80 1h1m0 0h1m11 0h1m3 0h1m2 0h1m1 0h1m1 0h1m2 0h1m1 0h1m22 0h1m1 0h1m0 0h1m2 0h1m1 0h1m0 0h1m1 0h1m0 0h1m0 0h1m0 0h1m0 0h1m0 0h1m2 0h1m0 0h1m0 0h1m1 0h1m5 0h1m8 0h1m-81 1h1m6 0h1m6 0h1m1 0h1m0 0h1m0 0h1m2 0h1m0 0h1m21 0h1m3 0h1m0 0h1m0 0h1m4 0h1m2 0h1m3 0h1m0 0h1m2 0h1m23 0h1m-98 1h1m16 0h1m2 0h1m0 0h1m1 0h1m7 0h1m1 0h1m22 0h1m0 0h1m1 0h1m1 0h1m0 0h1m3 0h1m0 0h1m18 0h1m-74 1h1m0 0h1m3 0h1m2 0h1m0 0h1m0 0h1m0 0h1m0 0h1m0 0h1m1 0h1m0 0h1m0 0h1m18 0h1m2 0h1m2 0h1m0 0h1m2 0h1m0 0h1m0 0h1m2 0h1m0 0h1m1 0h1m1 0h1m-62 1h1m3 0h1m2 0h1m1 0h1m2 0h1m1 0h1m1 0h1m0 0h1m0 0h1m0 0h1m0 0h1m2 0h1m19 0h1m1 0h1m0 0h1m1 0h1m0 0h1m0 0h1m0 0h1m1 0h1m3 0h1m7 0h1m0 0h1m1 0h1m21 0h1m-91 1h1m4 0h1m3 0h1m3 0h1m1 0h1m1 0h1m3 0h1m1 0h1m0 0h1m20 0h1m0 0h1m0 0h1m1 0h1m0 0h1m0 0h1m1 0h1m1 0h1m2 0h1m2 0h1m7 0h1m-70 1h1m7 0h1m0 0h1m0 0h1m2 0h1m4 0h1m4 0h1m2 0h1m0 0h1m18 0h1m1 0h1m0 0h1m1 0h1m2 0h1m0 0h1m3 0h1m3 0h1m-69 1h1m12 0h1m1 0h1m0 0h1m1 0h1m1 0h1m1 0h1m1 0h1m1 0h1m0 0h1m0 0h1m17 0h1m2 0h1m0 0h1m0 0h1m3 0h1m1 0h1m2 0h1m2 0h1m0 0h1m0 0h1m3 0h1m1 0h1m1 0h1m1 0h1m-76 1h1m1 0h1m1 0h1m8 0h1m3 0h1m0 0h1m1 0h1m0 0h1m0 0h1m0 0h1m0 0h1m0 0h1m0 0h1m8 0h1m11 0h1m4 0h1m0 0h1m0 0h1m0 0h1m0 0h1m1 0h1m4 0h1m3 0h1m-64 1h1m7 0h1m0 0h1m0 0h1m5 0h1m0 0h1m0 0h1m0 0h1m0 0h1m0 0h1m0 0h1m2 0h1m0 0h1m3 0h1m14 0h1m3 0h1m0 0h1m1 0h1m0 0h1m2 0h1m0 0h1m0 0h1m10 0h1m-72 1h1m3 0h1m4 0h1m1 0h1m0 0h1m0 0h1m0 0h1m1 0h1m1 0h1m1 0h1m0 0h1m0 0h1m0 0h1m0 0h1m0 0h1m0 0h1m0 0h1m4 0h1m14 0h1m0 0h1m0 0h1m0 0h1m0 0h1m0 0h1m1 0h1m0 0h1m0 0h1m0 0h1m0 0h1m0 0h1m2 0h1m1 0h1m3 0h1m-83 1h1m27 0h1m0 0h1m2 0h1m0 0h1m14 0h1m12 0h1m0 0h1m3 0h1m0 0h1m0 0h1m4 0h1m1 0h1m2 0h1m3 0h1m0 0h1m6 0h1m-73 1h1m9 0h1m0 0h1m4 0h1m1 0h1m0 0h1m1 0h1m0 0h1m1 0h1m1 0h1m11 0h1m1 0h1m0 0h1m0 0h1m0 0h1m1 0h1m0 0h1m0 0h1m1 0h1m0 0h1m3 0h1m0 0h1m4 0h1m20 0h1m-117 1h1m41 0h1m0 0h1m2 0h1m0 0h1m2 0h1m0 0h1m1 0h1m0 0h1m1 0h1m3 0h1m6 0h1m9 0h1m1 0h1m3 0h1m1 0h1m1 0h1m0 0h1m0 0h1m2 0h1m12 0h1m-76 1h1m2 0h1m6 0h1m5 0h1m0 0h1m0 0h1m0 0h1m3 0h1m0 0h1m4 0h1m0 0h1m0 0h1m12 0h1m0 0h1m4 0h1m1 0h1m0 0h1m0 0h1m0 0h1m0 0h1m2 0h1m7 0h1m2 0h1m101 0h1m-182 1h1m17 0h1m0 0h1m1 0h1m0 0h1m2 0h1m1 0h1m0 0h1m2 0h1m0 0h1m0 0h1m1 0h1m0 0h1m2 0h1m0 0h1m1 0h1m3 0h1m4 0h1m6 0h1m2 0h1m1 0h1m0 0h1m0 0h1m0 0h1m3 0h1m0 0h1m1 0h1m1 0h1m1 0h1m4 0h1m4 0h1m1 0h1m12 0h1m-86 1h1m1 0h1m2 0h1m0 0h1m1 0h1m2 0h1m0 0h1m0 0h1m0 0h1m1 0h1m0 0h1m0 0h1m0 0h1m1 0h1m1 0h1m0 0h1m0 0h1m4 0h1m4 0h1m2 0h1m1 0h1m2 0h1m0 0h1m1 0h1m0 0h1m0 0h1m0 0h1m3 0h1m0 0h1m3 0h1m0 0h1m9 0h1m12 0h1m-95 1h1m10 0h1m1 0h1m5 0h1m2 0h1m1 0h1m7 0h1m0 0h1m2 0h1m3 0h1m1 0h1m0 0h1m4 0h1m5 0h1m1 0h1m1 0h1m0 0h1m0 0h1m0 0h1m0 0h1m0 0h1m0 0h1m1 0h1m3 0h1m0 0h1m2 0h1m8 0h1m5 0h1m-80 1h1m8 0h1m0 0h1m0 0h1m3 0h1m0 0h1m0 0h1m0 0h1m0 0h1m0 0h1m0 0h1m0 0h1m1 0h1m2 0h1m0 0h1m3 0h1m8 0h1m0 0h1m0 0h1m0 0h1m1 0h1m1 0h1m0 0h1m1 0h1m2 0h1m1 0h1m10 0h1m19 0h1m-86 1h1m7 0h1m2 0h1m1 0h1m0 0h1m3 0h1m0 0h1m0 0h1m0 0h1m0 0h1m8 0h1m3 0h1m7 0h1m1 0h1m0 0h1m0 0h1m4 0h1m2 0h1m3 0h1m11 0h1m-81 1h1m11 0h1m0 0h1m3 0h1m0 0h1m0 0h1m0 0h1m0 0h1m1 0h1m0 0h1m0 0h1m2 0h1m1 0h1m1 0h1m1 0h1m1 0h1m2 0h1m0 0h1m3 0h1m2 0h1m1 0h1m1 0h1m0 0h1m0 0h1m0 0h1m0 0h1m0 0h1m1 0h1m3 0h1m6 0h1m-59 1h1m2 0h1m1 0h1m0 0h1m1 0h1m0 0h1m0 0h1m2 0h1m0 0h1m0 0h1m1 0h1m0 0h1m1 0h1m0 0h1m0 0h1m1 0h1m3 0h1m3 0h1m0 0h1m0 0h1m2 0h1m10 0h1m0 0h1m2 0h1m2 0h1m16 0h1m10 0h1m-99 1h1m16 0h1m3 0h1m3 0h1m0 0h1m2 0h1m0 0h1m0 0h1m3 0h1m1 0h1m0 0h1m1 0h1m0 0h1m4 0h1m2 0h1m2 0h1m0 0h1m2 0h1m1 0h1m3 0h1m1 0h1m0 0h1m0 0h1m1 0h1m3 0h1m-82 1h1m24 0h1m2 0h1m4 0h1m2 0h1m0 0h1m0 0h1m0 0h1m0 0h1m0 0h1m5 0h1m1 0h1m0 0h1m1 0h1m2 0h1m5 0h1m0 0h1m2 0h1m1 0h1m0 0h1m0 0h1m0 0h1m0 0h1m0 0h1m1 0h1m4 0h1m28 0h1m-88 1h1m4 0h1m0 0h1m4 0h1m1 0h1m1 0h1m1 0h1m0 0h1m0 0h1m3 0h1m1 0h1m4 0h1m0 0h1m1 0h1m0 0h1m2 0h1m0 0h1m0 0h1m1 0h1m2 0h1m0 0h1m5 0h1m0 0h1m1 0h1m1 0h1m12 0h1m-71 1h1m1 0h1m2 0h1m1 0h1m1 0h1m7 0h1m0 0h1m4 0h1m2 0h1m1 0h1m0 0h1m0 0h1m0 0h1m2 0h1m0 0h1m3 0h1m0 0h1m0 0h1m1 0h1m0 0h1m2 0h1m1 0h1m0 0h1m0 0h1m0 0h1m0 0h1m0 0h1m5 0h1m1 0h1m-63 1h1m4 0h1m0 0h1m2 0h1m0 0h1m0 0h1m2 0h1m0 0h1m1 0h1m0 0h1m2 0h1m0 0h1m0 0h1m0 0h1m0 0h1m0 0h1m0 0h1m2 0h1m1 0h1m0 0h1m0 0h1m0 0h1m0 0h1m0 0h1m1 0h1m1 0h1m1 0h1m0 0h1m0 0h1m4 0h1m1 0h1m3 0h1m20 0h1m-89 1h1m0 0h1m4 0h1m10 0h1m3 0h1m1 0h1m1 0h1m0 0h1m0 0h1m1 0h1m2 0h1m0 0h1m0 0h1m0 0h1m0 0h1m0 0h1m0 0h1m1 0h1m1 0h1m1 0h1m2 0h1m0 0h1m0 0h1m1 0h1m0 0h1m0 0h1m0 0h1m0 0h1m0 0h1m0 0h1m0 0h1m0 0h1m2 0h1m0 0h1m1 0h1m14 0h1m0 0h1m-75 1h1m0 0h1m9 0h1m1 0h1m1 0h1m2 0h1m3 0h1m0 0h1m0 0h1m1 0h1m0 0h1m0 0h1m0 0h1m1 0h1m0 0h1m2 0h1m1 0h1m0 0h1m0 0h1m1 0h1m1 0h1m0 0h1m0 0h1m0 0h1m2 0h1m1 0h1m0 0h1m0 0h1m0 0h1m1 0h1m1 0h1m0 0h1m7 0h1m-64 1h1m8 0h1m3 0h1m2 0h1m1 0h1m1 0h1m0 0h1m0 0h1m3 0h1m0 0h1m0 0h1m1 0h1m0 0h1m2 0h1m1 0h1m1 0h1m1 0h1m0 0h1m0 0h1m0 0h1m0 0h1m5 0h1m6 0h1m2 0h1m0 0h1m0 0h1m3 0h1m-73 1h1m11 0h1m0 0h1m5 0h1m0 0h1m1 0h1m1 0h1m0 0h1m0 0h1m0 0h1m0 0h1m0 0h1m0 0h1m0 0h1m4 0h1m1 0h1m1 0h1m0 0h1m1 0h1m0 0h1m3 0h1m0 0h1m1 0h1m0 0h1m1 0h1m0 0h1m5 0h1m2 0h1m2 0h1m-59 1h1m0 0h1m7 0h1m0 0h1m1 0h1m0 0h1m0 0h1m0 0h1m0 0h1m0 0h1m0 0h1m0 0h1m1 0h1m1 0h1m0 0h1m0 0h1m2 0h1m0 0h1m1 0h1m3 0h1m0 0h1m0 0h1m2 0h1m0 0h1m4 0h1m1 0h1m16 0h1m16 0h1m-114 1h1m19 0h1m8 0h1m13 0h1m1 0h1m0 0h1m3 0h1m0 0h1m0 0h1m0 0h1m0 0h1m2 0h1m0 0h1m0 0h1m0 0h1m0 0h1m1 0h1m0 0h1m0 0h1m0 0h1m0 0h1m0 0h1m0 0h1m0 0h1m0 0h1m0 0h1m0 0h1m1 0h1m1 0h1m1 0h1m1 0h1m1 0h1m1 0h1m19 0h1m-68 1h1m0 0h1m7 0h1m0 0h1m0 0h1m0 0h1m0 0h1m1 0h1m2 0h1m0 0h1m0 0h1m0 0h1m0 0h1m0 0h1m1 0h1m0 0h1m2 0h1m0 0h1m0 0h1m1 0h1m2 0h1m1 0h1m0 0h1m3 0h1m1 0h1m6 0h1m-98 1h1m35 0h1m0 0h1m8 0h1m6 0h1m2 0h1m0 0h1m0 0h1m2 0h1m4 0h1m1 0h1m4 0h1m0 0h1m0 0h1m0 0h1m1 0h1m0 0h1m2 0h1m1 0h1m0 0h1m0 0h1m1 0h1m1 0h1m0 0h1m0 0h1m23 0h1m-89 1h1m3 0h1m6 0h1m4 0h1m1 0h1m1 0h1m4 0h1m0 0h1m0 0h1m0 0h1m0 0h1m2 0h1m1 0h1m0 0h1m2 0h1m0 0h1m0 0h1m1 0h1m1 0h1m2 0h1m0 0h1m3 0h1m1 0h1m4 0h1m0 0h1m3 0h1m1 0h1m5 0h1m-83 1h1m16 0h1m0 0h1m1 0h1m3 0h1m0 0h1m2 0h1m0 0h1m0 0h1m1 0h1m0 0h1m1 0h1m0 0h1m0 0h1m2 0h1m0 0h1m2 0h1m0 0h1m1 0h1m0 0h1m1 0h1m0 0h1m1 0h1m4 0h1m2 0h1m1 0h1m1 0h1m0 0h1m0 0h1m0 0h1m8 0h1m3 0h1m33 0h1m-106 1h1m21 0h1m0 0h1m0 0h1m0 0h1m1 0h1m0 0h1m0 0h1m2 0h1m0 0h1m2 0h1m0 0h1m1 0h1m3 0h1m2 0h1m3 0h1m0 0h1m2 0h1m1 0h1m2 0h1m1 0h1m1 0h1m0 0h1m1 0h1m1 0h1m2 0h1m36 0h1m-96 1h1m0 0h1m3 0h1m4 0h1m2 0h1m2 0h1m1 0h1m0 0h1m1 0h1m0 0h1m0 0h1m1 0h1m0 0h1m0 0h1m0 0h1m0 0h1m1 0h1m0 0h1m0 0h1m0 0h1m0 0h1m0 0h1m0 0h1m2 0h1m2 0h1m0 0h1m1 0h1m2 0h1m3 0h1m1 0h1m3 0h1m13 0h1m-83 1h1m4 0h1m4 0h1m3 0h1m4 0h1m0 0h1m9 0h1m1 0h1m0 0h1m0 0h1m4 0h1m0 0h1m2 0h1m2 0h1m2 0h1m0 0h1m0 0h1m0 0h1m2 0h1m-53 1h1m7 0h1m0 0h1m3 0h1m2 0h1m0 0h1m2 0h1m1 0h1m0 0h1m1 0h1m0 0h1m1 0h1m0 0h1m0 0h1m1 0h1m2 0h1m0 0h1m0 0h1m0 0h1m0 0h1m0 0h1m2 0h1m1 0h1m5 0h1m0 0h1m-42 1h1m2 0h1m0 0h1m1 0h1m2 0h1m1 0h1m1 0h1m1 0h1m0 0h1m4 0h1m0 0h1m0 0h1m0 0h1m0 0h1m1 0h1m0 0h1m2 0h1m0 0h1m0 0h1m0 0h1m1 0h1m0 0h1m2 0h1m2 0h1m2 0h1m1 0h1m1 0h1m3 0h1m-55 1h1m2 0h1m1 0h1m0 0h1m2 0h1m0 0h1m1 0h1m1 0h1m1 0h1m1 0h1m0 0h1m2 0h1m1 0h1m5 0h1m0 0h1m4 0h1m3 0h1m1 0h1m2 0h1m17 0h1m-86 1h1m0 0h1m19 0h1m4 0h1m5 0h1m1 0h1m1 0h1m0 0h1m2 0h1m0 0h1m1 0h1m0 0h1m0 0h1m0 0h1m2 0h1m1 0h1m0 0h1m7 0h1m3 0h1m0 0h1m0 0h1m0 0h1m6 0h1m1 0h1m1 0h1m2 0h1m-65 1h1m2 0h1m7 0h1m0 0h1m4 0h1m2 0h1m0 0h1m1 0h1m0 0h1m0 0h1m0 0h1m0 0h1m2 0h1m0 0h1m3 0h1m1 0h1m2 0h1m8 0h1m2 0h1m-56 1h1m4 0h1m2 0h1m0 0h1m2 0h1m0 0h1m0 0h1m3 0h1m0 0h1m0 0h1m2 0h1m1 0h1m0 0h1m0 0h1m0 0h1m0 0h1m5 0h1m2 0h1m2 0h1m6 0h1m3 0h1m5 0h1m3 0h1m1 0h1m14 0h1m-89 1h1m6 0h1m5 0h1m7 0h1m0 0h1m4 0h1m2 0h1m0 0h1m0 0h1m0 0h1m2 0h1m1 0h1m1 0h1m4 0h1m2 0h1m0 0h1m7 0h1m0 0h1m0 0h1m1 0h1m1 0h1m3 0h1m-68 1h1m2 0h1m13 0h1m2 0h1m1 0h1m0 0h1m1 0h1m1 0h1m1 0h1m1 0h1m1 0h1m0 0h1m1 0h1m2 0h1m0 0h1m0 0h1m1 0h1m0 0h1m4 0h1m4 0h1m-48 1h1m0 0h1m10 0h1m1 0h1m0 0h1m0 0h1m1 0h1m1 0h1m0 0h1m1 0h1m0 0h1m0 0h1m4 0h1m0 0h1m0 0h1m0 0h1m4 0h1m0 0h1m0 0h1m1 0h1m0 0h1m1 0h1m7 0h1m-46 1h1m6 0h1m1 0h1m0 0h1m0 0h1m0 0h1m0 0h1m1 0h1m2 0h1m1 0h1m0 0h1m1 0h1m2 0h1m0 0h1m6 0h1m1 0h1m7 0h1m5 0h1m6 0h1m-51 1h1m6 0h1m0 0h1m6 0h1m1 0h1m1 0h1m0 0h1m1 0h1m0 0h1m5 0h1m1 0h1m2 0h1m3 0h1m13 0h1m-58 1h1m0 0h1m5 0h1m10 0h1m6 0h1m2 0h1m4 0h1m1 0h1m2 0h1m2 0h1m3 0h1m3 0h1m-88 1h1m31 0h1m10 0h1m4 0h1m9 0h1m1 0h1m6 0h1m0 0h1m0 0h1m0 0h1m12 0h1m12 0h1m-74 1h1m5 0h1m6 0h1m1 0h1m5 0h1m1 0h1m2 0h1m1 0h1m0 0h1m2 0h1m11 0h1m11 0h1m9 0h1m5 0h1m1 0h1m3 0h1m-85 1h1m17 0h1m13 0h1m1 0h1m0 0h1m3 0h1m3 0h1m1 0h1m0 0h1m0 0h1m1 0h1m0 0h1m2 0h1m5 0h1m0 0h1m-39 1h1m5 0h1m11 0h1m0 0h1m2 0h1m6 0h1m9 0h1m1 0h1m0 0h1m-48 1h1m6 0h1m4 0h1m8 0h1m0 0h1m0 0h1m4 0h1m10 0h1m2 0h1m0 0h1m3 0h1m8 0h1m-60 1h1m6 0h1m5 0h1m6 0h1m4 0h1m1 0h1m4 0h1m1 0h1m8 0h1m0 0h1m0 0h1m2 0h1m-63 1h1m21 0h1m10 0h1m7 0h1m1 0h1m0 0h1m4 0h1m1 0h1m5 0h1m2 0h1m-88 1h1m55 0h1m8 0h1m0 0h1m0 0h1m0 0h1m4 0h1m2 0h1m14 0h1m3 0h1m3 0h1m-56 1h1m11 0h1m0 0h1m1 0h1m4 0h1m2 0h1m3 0h1m0 0h1m12 0h1m1 0h1m2 0h1m-57 1h1m3 0h1m19 0h1m5 0h1m2 0h1m4 0h1m4 0h1m1 0h1m21 0h1m3 0h1m-61 1h1m2 0h1m10 0h1m8 0h1m0 0h1m3 0h1m2 0h1m2 0h1m-29 1h1m0 0h1m3 0h1m6 0h1m0 0h1m0 0h1m2 0h1m0 0h1m2 0h1m6 0h1m7 0h1m-28 1h1m0 0h1m7 0h1m3 0h1m5 0h1m0 0h1m6 0h1m5 0h1m-27 1h1m6 0h1m-23 1h1m18 0h1m3 0h1m26 0h1m-58 1h1m13 0h1m2 0h1m4 0h1m9 0h1m7 0h1m12 0h1m-46 1h1m1 0h1m6 0h1m2 1h1m0 0h1m0 0h1m18 0h1m-46 1h1m10 0h1m34 0h1m-5 1h1" stroke="#3D57B5"/>
<path d="M1506 1870h1m1 0h1m-1 1h1m2 1h1m0 0h1m0 0h1m0 0h1m0 0h1m-13 1h1m8 0h1m-6 1h1m0 0h1m1 0h1m0 0h1m1 0h1m0 0h1m0 0h1m0 0h1m-7 1h1m0 0h1m1 0h1m0 0h1m1 0h1m1 0h1m0 0h1m-16 1h1m1 0h1m2 0h1m0 0h1m0 0h1m2 0h1m0 0h1m-15 1h1m3 0h1m0 0h1m1 0h1m1 0h1m0 0h1m0 0h1m0 0h1m0 0h1m0 0h1m1 0h1m0 0h1m3 0h1m-22 1h1m0 0h1m4 0h1m1 0h1m0 0h1m0 0h1m0 0h1m0 0h1m0 0h1m0 0h1m1 0h1m0 0h1m-17 1h1m0 0h1m0 0h1m1 0h1m2 0h1m0 0h1m0 0h1m1 0h1m1 0h1m0 0h1m2 0h1m0 0h1m1 0h1m0 0h1m-23 1h1m0 0h1m0 0h1m0 0h1m0 0h1m0 0h1m0 0h1m0 0h1m0 0h1m0 0h1m1 0h1m0 0h1m0 0h1m1 0h1m0 0h1m3 0h1m0 0h1m-22 1h1m1 0h1m3 0h1m0 0h1m0 0h1m0 0h1m0 0h1m0 0h1m0 0h1m0 0h1m0 0h1m1 0h1m0 0h1m1 0h1m4 0h1m-24 1h1m0 0h1m0 0h1m1 0h1m0 0h1m0 0h1m0 0h1m0 0h1m0 0h1m0 0h1m0 0h1m1 0h1m0 0h1m0 0h1m0 0h1m0 0h1m1 0h1m0 0h1m0 0h1m-20 1h1m1 0h1m0 0h1m0 0h1m0 0h1m0 0h1m0 0h1m1 0h1m0 0h1m0 0h1m2 0h1m2 0h1m0 0h1m0 0h1m0 0h1m-24 1h1m1 0h1m1 0h1m0 0h1m1 0h1m0 0h1m0 0h1m0 0h1m1 0h1m0 0h1m0 0h1m1 0h1m0 0h1m0 0h1m0 0h1m0 0h1m2 0h1m0 0h1m0 0h1m-26 1h1m0 0h1m0 0h1m0 0h1m0 0h1m0 0h1m0 0h1m0 0h1m1 0h1m0 0h1m0 0h1m0 0h1m0 0h1m0 0h1m0 0h1m0 0h1m0 0h1m1 0h1m0 0h1m0 0h1m0 0h1m0 0h1m0 0h1m-26 1h1m0 0h1m0 0h1m0 0h1m0 0h1m0 0h1m0 0h1m0 0h1m0 0h1m0 0h1m1 0h1m0 0h1m1 0h1m0 0h1m1 0h1m0 0h1m0 0h1m2 0h1m0 0h1m-25 1h1m1 0h1m0 0h1m1 0h1m0 0h1m0 0h1m0 0h1m0 0h1m1 0h1m1 0h1m0 0h1m0 0h1m0 0h1m0 0h1m2 0h1m0 0h1m0 0h1m0 0h1m0 0h1m1 0h1m-30 1h1m1 0h1m2 0h1m0 0h1m0 0h1m0 0h1m0 0h1m0 0h1m1 0h1m0 0h1m0 0h1m0 0h1m0 0h1m0 0h1m0 0h1m0 0h1m0 0h1m0 0h1m0 0h1m0 0h1m0 0h1m0 0h1m0 0h1m1 0h1m-22 1h1m0 0h1m0 0h1m1 0h1m1 0h1m0 0h1m0 0h1m0 0h1m0 0h1m0 0h1m0 0h1m0 0h1m0 0h1m0 0h1m0 0h1m1 0h1m0 0h1m0 0h1m0 0h1m3 0h1m-31 1h1m0 0h1m0 0h1m0 0h1m0 0h1m0 0h1m0 0h1m0 0h1m2 0h1m0 0h1m0 0h1m0 0h1m0 0h1m2 0h1m0 0h1m0 0h1m0 0h1m0 0h1m0 0h1m0 0h1m0 0h1m1 0h1m0 0h1m0 0h1m-25 1h1m0 0h1m1 0h1m1 0h1m0 0h1m0 0h1m0 0h1m0 0h1m0 0h1m1 0h1m1 0h1m0 0h1m0 0h1m0 0h1m0 0h1m0 0h1m2 0h1m0 0h1m-28 1h1m2 0h1m0 0h1m1 0h1m0 0h1m0 0h1m0 0h1m0 0h1m1 0h1m0 0h1m0 0h1m0 0h1m0 0h1m0 0h1m1 0h1m1 0h1m1 0h1m0 0h1m1 0h1m0 0h1m0 0h1m-30 1h1m0 0h1m1 0h1m0 0h1m0 0h1m0 0h1m1 0h1m0 0h1m0 0h1m0 0h1m1 0h1m0 0h1m1 0h1m0 0h1m0 0h1m0 0h1m0 0h1m1 0h1m0 0h1m0 0h1m1 0h1m4 0h1m-32 1h1m1 0h1m0 0h1m0 0h1m0 0h1m0 0h1m0 0h1m0 0h1m0 0h1m0 0h1m2 0h1m0 0h1m1 0h1m0 0h1m0 0h1m1 0h1m0 0h1m0 0h1m0 0h1m0 0h1m0 0h1m1 0h1m-30 1h1m1 0h1m0 0h1m0 0h1m0 0h1m0 0h1m0 0h1m0 0h1m0 0h1m0 0h1m2 0h1m0 0h1m0 0h1m1 0h1m0 0h1m0 0h1m0 0h1m0 0h1m0 0h1m0 0h1m1 0h1m1 0h1m0 0h1m0 0h1m0 0h1m1 0h1m-31 1h1m1 0h1m0 0h1m0 0h1m0 0h1m1 0h1m1 0h1m1 0h1m0 0h1m0 0h1m0 0h1m1 0h1m0 0h1m0 0h1m0 0h1m1 0h1m0 0h1m0 0h1m0 0h1m1 0h1m0 0h1m3 0h1m-33 1h1m0 0h1m0 0h1m3 0h1m0 0h1m0 0h1m1 0h1m1 0h1m0 0h1m1 0h1m3 0h1m0 0h1m1 0h1m0 0h1m0 0h1m0 0h1m0 0h1m0 0h1m2 0h1m0 0h1m-32 1h1m0 0h1m0 0h1m0 0h1m0 0h1m1 0h1m1 0h1m0 0h1m0 0h1m1 0h1m1 0h1m0 0h1m0 0h1m0 0h1m0 0h1m0 0h1m1 0h1m0 0h1m0 0h1m0 0h1m0 0h1m0 0h1m0 0h1m1 0h1m1 0h1m0 0h1m-32 1h1m3 0h1m0 0h1m0 0h1m0 0h1m0 0h1m0 0h1m0 0h1m2 0h1m0 0h1m1 0h1m1 0h1m1 0h1m0 0h1m0 0h1m0 0h1m0 0h1m0 0h1m0 0h1m1 0h1m0 0h1m-29 1h1m2 0h1m0 0h1m0 0h1m0 0h1m0 0h1m0 0h1m0 0h1m0 0h1m0 0h1m0 0h1m2 0h1m0 0h1m0 0h1m1 0h1m0 0h1m0 0h1m0 0h1m0 0h1m0 0h1m1 0h1m0 0h1m1 0h1m-31 1h1m0 0h1m1 0h1m0 0h1m1 0h1m1 0h1m0 0h1m0 0h1m0 0h1m0 0h1m0 0h1m0 0h1m0 0h1m0 0h1m0 0h1m0 0h1m0 0h1m0 0h1m0 0h1m0 0h1m2 0h1m0 0h1m0 0h1m0 0h1m0 0h1m0 0h1m-31 1h1m0 0h1m0 0h1m0 0h1m0 0h1m0 0h1m0 0h1m1 0h1m1 0h1m0 0h1m0 0h1m1 0h1m0 0h1m0 0h1m0 0h1m0 0h1m0 0h1m0 0h1m0 0h1m0 0h1m0 0h1m2 0h1m0 0h1m0 0h1m1 0h1m-31 1h1m0 0h1m0 0h1m0 0h1m0 0h1m0 0h1m0 0h1m1 0h1m0 0h1m0 0h1m0 0h1m0 0h1m0 0h1m0 0h1m0 0h1m3 0h1m0 0h1m0 0h1m0 0h1m0 0h1m0 0h1m0 0h1m0 0h1m0 0h1m0 0h1m0 0h1m0 0h1m-31 1h1m0 0h1m1 0h1m0 0h1m0 0h1m0 0h1m0 0h1m2 0h1m0 0h1m0 0h1m0 0h1m0 0h1m0 0h1m0 0h1m0 0h1m2 0h1m0 0h1m1 0h1m0 0h1m0 0h1m0 0h1m0 0h1m0 0h1m-28 1h1m1 0h1m2 0h1m1 0h1m0 0h1m0 0h1m0 0h1m0 0h1m1 0h1m0 0h1m0 0h1m1 0h1m0 0h1m0 0h1m0 0h1m0 0h1m0 0h1m0 0h1m0 0h1m0 0h1m0 0h1m0 0h1m0 0h1m-28 1h1m2 0h1m1 0h1m0 0h1m1 0h1m0 0h1m2 0h1m0 0h1m0 0h1m0 0h1m0 0h1m0 0h1m0 0h1m0 0h1m0 0h1m0 0h1m0 0h1m0 0h1m1 0h1m1 0h1m-29 1h1m0 0h1m1 0h1m0 0h1m1 0h1m0 0h1m1 0h1m0 0h1m0 0h1m0 0h1m1 0h1m0 0h1m0 0h1m0 0h1m0 0h1m0 0h1m0 0h1m0 0h1m2 0h1m0 0h1m0 0h1m0 0h1m0 0h1m-27 1h1m0 0h1m0 0h1m0 0h1m0 0h1m0 0h1m0 0h1m0 0h1m0 0h1m0 0h1m0 0h1m0 0h1m0 0h1m0 0h1m0 0h1m0 0h1m0 0h1m0 0h1m0 0h1m1 0h1m0 0h1m0 0h1m1 0h1m0 0h1m0 0h1m1 0h1m-31 1h1m0 0h1m0 0h1m0 0h1m0 0h1m0 0h1m0 0h1m1 0h1m1 0h1m1 0h1m0 0h1m0 0h1m0 0h1m2 0h1m0 0h1m0 0h1m0 0h1m0 0h1m0 0h1m0 0h1m0 0h1m-29 1h1m0 0h1m2 0h1m0 0h1m0 0h1m0 0h1m0 0h1m0 0h1m0 0h1m0 0h1m0 0h1m0 0h1m0 0h1m0 0h1m0 0h1m0 0h1m1 0h1m1 0h1m0 0h1m1 0h1m0 0h1m0 0h1m0 0h1m1 0h1m0 0h1m0 0h1m1 0h1m-29 1h1m1 0h1m0 0h1m0 0h1m0 0h1m1 0h1m0 0h1m0 0h1m0 0h1m0 0h1m0 0h1m1 0h1m0 0h1m0 0h1m0 0h1m0 0h1m0 0h1m0 0h1m2 0h1m1 0h1m1 0h1m0 0h1m-30 1h1m0 0h1m0 0h1m1 0h1m0 0h1m0 0h1m0 0h1m1 0h1m0 0h1m0 0h1m0 0h1m1 0h1m0 0h1m0 0h1m0 0h1m0 0h1m1 0h1m0 0h1m0 0h1m0 0h1m0 0h1m2 0h1m0 0h1m0 0h1m-33 1h1m1 0h1m0 0h1m0 0h1m0 0h1m0 0h1m0 0h1m0 0h1m1 0h1m0 0h1m2 0h1m0 0h1m0 0h1m0 0h1m0 0h1m0 0h1m0 0h1m0 0h1m0 0h1m1 0h1m2 0h1m0 0h1m1 0h1m-31 1h1m0 0h1m4 0h1m0 0h1m0 0h1m1 0h1m0 0h1m0 0h1m0 0h1m1 0h1m0 0h1m0 0h1m0 0h1m0 0h1m1 0h1m0 0h1m0 0h1m0 0h1m0 0h1m0 0h1m0 0h1m0 0h1m0 0h1m0 0h1m-28 1h1m0 0h1m1 0h1m0 0h1m1 0h1m1 0h1m0 0h1m0 0h1m1 0h1m0 0h1m0 0h1m0 0h1m0 0h1m0 0h1m0 0h1m0 0h1m0 0h1m0 0h1m3 0h1m1 0h1m-28 1h1m2 0h1m0 0h1m1 0h1m0 0h1m1 0h1m0 0h1m1 0h1m0 0h1m0 0h1m0 0h1m0 0h1m0 0h1m1 0h1m0 0h1m0 0h1m3 0h1m2 0h1m-27 1h1m0 0h1m1 0h1m0 0h1m0 0h1m1 0h1m0 0h1m0 0h1m0 0h1m0 0h1m0 0h1m0 0h1m0 0h1m1 0h1m1 0h1m1 0h1m1 0h1m-27 1h1m1 0h1m0 0h1m0 0h1m1 0h1m1 0h1m0 0h1m1 0h1m0 0h1m0 0h1m1 0h1m0 0h1m0 0h1m0 0h1m0 0h1m0 0h1m1 0h1m1 0h1m-21 1h1m2 0h1m0 0h1m0 0h1m0 0h1m0 0h1m1 0h1m0 0h1m0 0h1m0 0h1m0 0h1m0 0h1m0 0h1m0 0h1m0 0h1m0 0h1m1 0h1m2 0h1m-25 1h1m2 0h1m1 0h1m0 0h1m0 0h1m2 0h1m0 0h1m2 0h1m2 0h1m1 0h1m2 0h1m-22 1h1m0 0h1m1 0h1m1 0h1m2 0h1m0 0h1m0 0h1m0 0h1m0 0h1m2 0h1m0 0h1m0 0h1m0 0h1m1 0h1m1 0h1m0 0h1m-26 1h1m4 0h1m1 0h1m0 0h1m0 0h1m1 0h1m0 0h1m0 0h1m0 0h1m0 0h1m0 0h1m1 0h1m0 0h1m0 0h1m0 0h1m1 0h1m-23 1h1m0 0h1m0 0h1m0 0h1m2 0h1m2 0h1m0 0h1m0 0h1m2 0h1m1 0h1m2 0h1m-20 1h1m4 0h1m2 0h1m1 0h1m0 0h1m0 0h1m0 0h1m0 0h1m0 0h1m0 0h1m3 0h1m0 0h1m-16 1h1m1 0h1m1 0h1m0 0h1m0 0h1m1 0h1m2 0h1m0 0h1m0 0h1m1 0h1m0 0h1m0 0h1m-16 1h1m2 0h1m1 0h1m0 0h1m2 0h1m2 0h1m0 0h1m-18 1h1m3 0h1m3 0h1m2 0h1m2 0h1m2 0h1m-19 1h1m8 0h1m2 0h1m0 0h1m0 0h1m-8 1h1m0 0h1m6 0h1m0 0h1m1 0h1m-12 1h1m0 0h1m1 0h1m0 0h1m2 0h1m0 0h1m0 0h1m0 0h1m-14 1h1m3 0h1m3 1h1m-7 1h1m4 0h1" stroke="#2F7FD0"/>
<path d="M1513 1884h1m-2 1h1m-1 1h1m2 0h1m-4 1h1m1 0h1m-6 1h1m1 0h1m0 0h1m0 0h1m0 0h1m-8 1h1m2 0h1m2 0h1m1 0h1m0 0h1m-11 1h1m2 0h1m0 0h1m2 0h1m-8 1h1m5 0h1m0 0h1m0 0h1m0 0h1m-12 1h1m2 0h1m0 0h1m0 0h1m0 0h1m2 0h1m0 0h1m-8 1h1m3 0h1m0 0h1m0 0h1m1 0h1m0 0h1m-10 1h1m0 0h1m0 0h1m0 0h1m0 0h1m0 0h1m0 0h1m0 0h1m2 0h1m0 0h1m0 0h1m-13 1h1m0 0h1m1 0h1m0 0h1m0 0h1m0 0h1m0 0h1m-11 1h1m0 0h1m2 0h1m0 0h1m0 0h1m0 0h1m0 0h1m0 0h1m0 0h1m0 0h1m1 0h1m-15 1h1m1 0h1m0 0h1m1 0h1m0 0h1m0 0h1m0 0h1m1 0h1m0 0h1m-12 1h1m2 0h1m0 0h1m0 0h1m2 0h1m1 0h1m0 0h1m3 0h1m0 0h1m-16 1h1m0 0h1m4 0h1m1 0h1m1 0h1m0 0h1m0 0h1m0 0h1m1 0h1m-15 1h1m0 0h1m1 0h1m1 0h1m1 0h1m0 0h1m0 0h1m0 0h1m0 0h1m0 0h1m0 0h1m-13 1h1m0 0h1m0 0h1m0 0h1m0 0h1m0 0h1m0 0h1m2 0h1m0 0h1m0 0h1m3 0h1m-20 1h1m0 0h1m1 0h1m0 0h1m2 0h1m1 0h1m0 0h1m0 0h1m0 0h1m1 0h1m1 0h1m0 0h1m-15 1h1m2 0h1m0 0h1m0 0h1m1 0h1m0 0h1m2 0h1m0 0h1m0 0h1m0 0h1m1 0h1m-18 1h1m0 0h1m1 0h1m0 0h1m0 0h1m2 0h1m0 0h1m0 0h1m0 0h1m0 0h1m0 0h1m0 0h1m-15 1h1m1 0h1m3 0h1m1 0h1m0 0h1m0 0h1m0 0h1m0 0h1m0 0h1m-11 1h1m3 0h1m2 0h1m0 0h1m0 0h1m-10 1h1m0 0h1m2 0h1m0 0h1m1 0h1m0 0h1m0 0h1m-12 1h1m1 0h1m2 0h1m0 0h1m5 0h1m0 0h1m-14 1h1m2 0h1m2 0h1m0 0h1m1 0h1m2 0h1m0 0h1m0 0h1m-14 1h1m0 0h1m2 0h1m1 0h1m1 0h1m0 0h1m0 0h1m3 0h1m-12 1h1m0 0h1m1 0h1m1 0h1m1 0h1m0 0h1m0 0h1m-11 1h1m0 0h1m0 0h1m0 0h1m0 0h1m1 0h1m0 0h1m0 0h1m0 0h1m0 0h1m-13 1h1m1 0h1m2 0h1m0 0h1m0 0h1m0 0h1m-7 1h1m0 0h1m1 0h1m0 1h1m0 0h1m-4 1h1m2 0h1m-4 1h1m0 0h1" stroke="#27B3D0"/>
</g>
<path d="M1480 1972.6H1545" stroke="#3D57B5" stroke-width="1" opacity=".7"/><path d="M1496 1972.6H1530" stroke="#4DBE5B" stroke-width="1.2" opacity=".8"/><path d="M1505 1972.6H1516" stroke="#E8311F" stroke-width="1.2"/>
<path d="M1439.5 1937v1M1439.5 1870v1M1439.5 1877v1M1439.5 1909v1M1439.5 1837v1M1439.5 1869v1M1439.5 1936v1M1439.5 1924v1M1439.5 1953v1M1439.5 1892v1M1439.5 1936v1M1439.5 1958v1M1439.5 1853v1M1439.5 1888v1M1439.5 1829v1M1439.5 1946v1M1439.5 1806v1M1439.5 1866v1M1439.5 1927v1M1439.5 1821v1M1439.5 1873v1M1439.5 1932v1M1439.5 1929v1M1439.5 1935v1M1439.5 1960v1M1439.5 1959v1" stroke="#3D57B5" stroke-width="1" opacity=".8"/>
</g>
<rect x="1438.5" y="1742.5" width="231.0" height="231.0" fill="none" stroke="#3a3a3a" stroke-width="1"/>
<path d="M1450.3 1742.5V1855.2H1662.6V1742.5" stroke="#000" stroke-width="1.7" fill="none" stroke-linejoin="miter" stroke-linecap="butt"/>
<text x="1650.8" y="1768.3" font-size="26.8" fill="#000" text-anchor="end">Uninduced</text>
<text x="1461.8" y="1847.0" font-size="26.8" fill="#231F20" text-anchor="start">1.02%</text>
<g clip-path="url(#g2)" stroke-width="1" fill="none"><g transform="translate(0,.5)">
<path d="M1660 2005h1m-5 1h1m-71 14h1m-28 4h1m103 3h1m-19 5h1m-25 2h1m32 1h1m-3 1h1m12 2h1m-27 2h1m-141 1h1m-11 1h1m25 0h1m133 0h1m-152 1h1m3 0h1m-31 1h1m8 0h1m14 0h1m70 0h1m63 0h1m-146 1h1m0 0h1m2 0h1m2 0h1m1 0h1m15 0h1m2 0h1m116 0h1m-149 1h1m3 0h1m12 0h1m11 0h1m-20 1h1m6 0h1m3 0h1m5 0h1m147 0h1m-133 1h1m-47 1h1m10 0h1m12 0h1m1 0h1m1 0h1m100 0h1m50 0h1m-170 1h1m5 0h1m3 0h1m1 0h1m4 0h1m3 1h1m-11 1h1m153 0h1m-162 1h1m5 0h1m7 0h1m143 0h1m3 0h1m-117 1h1m107 0h1m3 0h1m-10 2h1m5 0h1m-48 1h1m0 1h1m43 0h1m-17 1h1m4 0h1m9 0h1m-125 1h1m91 0h1m4 0h1m19 0h1m19 0h1m-28 1h1m4 0h1m16 0h1m2 0h1m-110 1h1m48 0h1m29 0h1m9 0h1m5 0h1m23 0h1m-68 1h1m17 0h1m8 0h1m10 0h1m6 0h1m8 0h1m-76 1h1m6 0h1m10 0h1m55 0h1m4 0h1m4 0h1m2 0h1m-96 1h1m5 0h1m27 0h1m17 0h1m27 0h1m6 0h1m-128 1h1m43 0h1m9 0h1m63 0h1m9 0h1m-62 1h1m27 0h1m5 0h1m6 0h1m3 0h1m17 0h1m-37 1h1m-76 1h1m16 0h1m40 0h1m39 0h1m6 0h1m-151 1h1m2 0h1m17 0h1m7 0h1m21 0h1m2 0h1m41 0h1m31 0h1m14 0h1m-89 1h1m22 0h1m1 0h1m10 0h1m57 0h1m0 0h1m0 0h1m-61 1h1m11 0h1m16 0h1m1 0h1m0 0h1m6 0h1m3 0h1m11 0h1m3 0h1m0 0h1m1 0h1m1 0h1m0 0h1m-117 1h1m27 0h1m18 0h1m25 0h1m23 0h1m0 0h1m2 0h1m-70 1h1m18 0h1m9 0h1m3 0h1m7 0h1m19 0h1m4 0h1m1 0h1m8 0h1m4 0h1m-78 1h1m3 0h1m25 0h1m9 0h1m7 0h1m1 0h1m3 0h1m4 0h1m9 0h1m-112 1h1m57 0h1m23 0h1m7 0h1m2 0h1m4 0h1m1 0h1m7 0h1m0 0h1m0 0h1m2 0h1m0 0h1m-126 1h1m29 0h1m18 0h1m3 0h1m3 0h1m14 0h1m8 0h1m2 0h1m18 0h1m0 0h1m17 0h1m2 0h1m3 0h1m0 0h1m3 0h1m0 0h1m-148 1h1m16 0h1m42 0h1m7 0h1m7 0h1m2 0h1m1 0h1m4 0h1m16 0h1m5 0h1m8 0h1m1 0h1m3 0h1m6 0h1m1 0h1m1 0h1m0 0h1m7 0h1m5 0h1m-138 1h1m10 0h1m29 0h1m11 0h1m1 0h1m4 0h1m1 0h1m2 0h1m8 0h1m3 0h1m1 0h1m0 0h1m0 0h1m11 0h1m6 0h1m0 0h1m0 0h1m1 0h1m4 0h1m11 0h1m1 0h1m0 0h1m0 0h1m1 0h1m-101 1h1m7 0h1m19 0h1m6 0h1m6 0h1m5 0h1m3 0h1m1 0h1m7 0h1m1 0h1m0 0h1m5 0h1m0 0h1m2 0h1m1 0h1m5 0h1m0 0h1m2 0h1m4 0h1m5 0h1m3 0h1m-94 1h1m10 0h1m14 0h1m7 0h1m11 0h1m0 0h1m22 0h1m2 0h1m1 0h1m0 0h1m0 0h1m0 0h1m0 0h1m2 0h1m3 0h1m-105 1h1m9 0h1m7 0h1m23 0h1m19 0h1m5 0h1m4 0h1m7 0h1m0 0h1m3 0h1m5 0h1m1 0h1m0 0h1m4 0h1m0 0h1m0 0h1m3 0h1m2 0h1m1 0h1m-110 1h1m6 0h1m1 0h1m3 0h1m8 0h1m2 0h1m5 0h1m12 0h1m4 0h1m5 0h1m1 0h1m7 0h1m4 0h1m5 0h1m5 0h1m2 0h1m0 0h1m0 0h1m3 0h1m1 0h1m1 0h1m3 0h1m2 0h1m0 0h1m1 0h1m0 0h1m2 0h1m0 0h1m-111 1h1m29 0h1m31 0h1m7 0h1m5 0h1m0 0h1m3 0h1m0 0h1m8 0h1m1 0h1m0 0h1m1 0h1m3 0h1m5 0h1m3 0h1m-139 1h1m18 0h1m20 0h1m22 0h1m4 0h1m4 0h1m2 0h1m9 0h1m5 0h1m4 0h1m4 0h1m0 0h1m0 0h1m4 0h1m0 0h1m3 0h1m8 0h1m0 0h1m5 0h1m0 0h1m0 0h1m3 0h1m4 0h1m-96 1h1m5 0h1m1 0h1m17 0h1m6 0h1m10 0h1m1 0h1m3 0h1m1 0h1m1 0h1m0 0h1m1 0h1m2 0h1m0 0h1m0 0h1m2 0h1m0 0h1m2 0h1m4 0h1m0 0h1m1 0h1m0 0h1m13 0h1m2 0h1m0 0h1m-128 1h1m22 0h1m4 0h1m11 0h1m10 0h1m9 0h1m5 0h1m10 0h1m0 0h1m1 0h1m6 0h1m0 0h1m3 0h1m6 0h1m0 0h1m0 0h1m1 0h1m3 0h1m0 0h1m1 0h1m1 0h1m0 0h1m1 0h1m0 0h1m1 0h1m0 0h1m7 0h1m-148 1h1m32 0h1m3 0h1m2 0h1m16 0h1m11 0h1m1 0h1m1 0h1m0 0h1m17 0h1m0 0h1m15 0h1m1 0h1m4 0h1m0 0h1m2 0h1m3 0h1m0 0h1m0 0h1m0 0h1m0 0h1m0 0h1m0 0h1m1 0h1m0 0h1m3 0h1m2 0h1m7 0h1m-148 1h1m16 0h1m10 0h1m1 0h1m8 0h1m6 0h1m14 0h1m1 0h1m11 0h1m10 0h1m0 0h1m7 0h1m3 0h1m2 0h1m1 0h1m2 0h1m0 0h1m0 0h1m2 0h1m8 0h1m1 0h1m0 0h1m4 0h1m4 0h1m1 0h1m2 0h1m1 0h1m1 0h1m-191 1h1m96 0h1m17 0h1m1 0h1m1 0h1m7 0h1m1 0h1m6 0h1m6 0h1m1 0h1m4 0h1m1 0h1m0 0h1m0 0h1m1 0h1m0 0h1m2 0h1m2 0h1m0 0h1m1 0h1m2 0h1m12 0h1m2 0h1m1 0h1m0 0h1m0 0h1m2 0h1m-140 1h1m35 0h1m5 0h1m2 0h1m0 0h1m3 0h1m13 0h1m0 0h1m0 0h1m4 0h1m12 0h1m0 0h1m3 0h1m7 0h1m3 0h1m10 0h1m2 0h1m2 0h1m3 0h1m7 0h1m0 0h1m0 0h1m1 0h1m0 0h1m1 0h1m1 0h1m-125 1h1m7 0h1m16 0h1m0 0h1m3 0h1m18 0h1m25 0h1m0 0h1m1 0h1m2 0h1m0 0h1m1 0h1m1 0h1m0 0h1m1 0h1m1 0h1m3 0h1m2 0h1m0 0h1m1 0h1m1 0h1m0 0h1m1 0h1m1 0h1m0 0h1m0 0h1m0 0h1m0 0h1m0 0h1m0 0h1m1 0h1m3 0h1m0 0h1m4 0h1m-136 1h1m5 0h1m9 0h1m5 0h1m2 0h1m0 0h1m4 0h1m2 0h1m32 0h1m8 0h1m3 0h1m8 0h1m2 0h1m4 0h1m3 0h1m0 0h1m0 0h1m3 0h1m2 0h1m1 0h1m3 0h1m0 0h1m0 0h1m0 0h1m0 0h1m2 0h1m0 0h1m3 0h1m-170 1h1m31 0h1m4 0h1m26 0h1m2 0h1m2 0h1m1 0h1m4 0h1m1 0h1m1 0h1m5 0h1m0 0h1m0 0h1m12 0h1m11 0h1m2 0h1m1 0h1m5 0h1m0 0h1m0 0h1m0 0h1m2 0h1m0 0h1m0 0h1m2 0h1m1 0h1m1 0h1m1 0h1m0 0h1m1 0h1m0 0h1m3 0h1m1 0h1m5 0h1m0 0h1m1 0h1m1 0h1m0 0h1m0 0h1m0 0h1m0 0h1m5 0h1m-115 1h1m0 0h1m7 0h1m13 0h1m16 0h1m0 0h1m7 0h1m0 0h1m5 0h1m3 0h1m3 0h1m0 0h1m3 0h1m0 0h1m0 0h1m0 0h1m6 0h1m0 0h1m2 0h1m0 0h1m0 0h1m0 0h1m1 0h1m0 0h1m0 0h1m2 0h1m2 0h1m1 0h1m0 0h1m0 0h1m0 0h1m0 0h1m0 0h1m0 0h1m1 0h1m0 0h1m4 0h1m3 0h1m0 0h1m-134 1h1m16 0h1m5 0h1m20 0h1m1 0h1m3 0h1m13 0h1m2 0h1m3 0h1m3 0h1m4 0h1m5 0h1m1 0h1m2 0h1m0 0h1m3 0h1m1 0h1m1 0h1m1 0h1m3 0h1m0 0h1m5 0h1m1 0h1m0 0h1m0 0h1m0 0h1m6 0h1m3 0h1m-152 1h1m26 0h1m9 0h1m5 0h1m1 0h1m7 0h1m0 0h1m7 0h1m5 0h1m4 0h1m6 0h1m9 0h1m6 0h1m4 0h1m0 0h1m1 0h1m1 0h1m2 0h1m1 0h1m2 0h1m4 0h1m0 0h1m1 0h1m1 0h1m2 0h1m1 0h1m0 0h1m0 0h1m4 0h1m1 0h1m0 0h1m0 0h1m0 0h1m0 0h1m5 0h1m4 0h1m-114 1h1m2 0h1m3 0h1m12 0h1m1 0h1m4 0h1m0 0h1m3 0h1m11 0h1m4 0h1m5 0h1m0 0h1m5 0h1m1 0h1m0 0h1m0 0h1m0 0h1m3 0h1m1 0h1m2 0h1m3 0h1m0 0h1m0 0h1m0 0h1m1 0h1m1 0h1m1 0h1m2 0h1m0 0h1m1 0h1m0 0h1m2 0h1m1 0h1m1 0h1m0 0h1m0 0h1m1 0h1m-147 1h1m11 0h1m13 0h1m4 0h1m4 0h1m5 0h1m3 0h1m1 0h1m1 0h1m7 0h1m0 0h1m4 0h1m2 0h1m5 0h1m4 0h1m9 0h1m2 0h1m1 0h1m0 0h1m1 0h1m0 0h1m6 0h1m3 0h1m1 0h1m1 0h1m0 0h1m1 0h1m0 0h1m0 0h1m0 0h1m1 0h1m0 0h1m1 0h1m0 0h1m1 0h1m0 0h1m1 0h1m2 0h1m1 0h1m0 0h1m0 0h1m1 0h1m0 0h1m0 0h1m2 0h1m4 0h1m-139 1h1m42 0h1m13 0h1m1 0h1m9 0h1m3 0h1m0 0h1m4 0h1m1 0h1m10 0h1m2 0h1m2 0h1m1 0h1m1 0h1m2 0h1m1 0h1m0 0h1m1 0h1m0 0h1m0 0h1m3 0h1m1 0h1m7 0h1m1 0h1m1 0h1m0 0h1m0 0h1m1 0h1m0 0h1m1 0h1m-144 1h1m3 0h1m10 0h1m15 0h1m9 0h1m1 0h1m3 0h1m5 0h1m9 0h1m10 0h1m3 0h1m0 0h1m2 0h1m0 0h1m0 0h1m0 0h1m0 0h1m2 0h1m1 0h1m0 0h1m3 0h1m0 0h1m3 0h1m1 0h1m3 0h1m0 0h1m2 0h1m0 0h1m3 0h1m1 0h1m0 0h1m4 0h1m2 0h1m9 0h1m0 0h1m-177 1h1m19 0h1m15 0h1m9 0h1m0 0h1m17 0h1m1 0h1m6 0h1m7 0h1m7 0h1m1 0h1m8 0h1m0 0h1m15 0h1m0 0h1m1 0h1m1 0h1m4 0h1m0 0h1m2 0h1m0 0h1m0 0h1m0 0h1m0 0h1m8 0h1m6 0h1m3 0h1m8 0h1m1 0h1m0 0h1m1 0h1m1 0h1m3 0h1m1 0h1m-164 1h1m55 0h1m3 0h1m13 0h1m0 0h1m0 0h1m2 0h1m9 0h1m0 0h1m12 0h1m2 0h1m2 0h1m6 0h1m2 0h1m0 0h1m1 0h1m1 0h1m2 0h1m0 0h1m2 0h1m5 0h1m0 0h1m1 0h1m0 0h1m1 0h1m14 0h1m2 0h1m0 0h1m1 0h1m5 0h1m-141 1h1m10 0h1m0 0h1m6 0h1m6 0h1m4 0h1m13 0h1m7 0h1m0 0h1m12 0h1m5 0h1m2 0h1m1 0h1m0 0h1m1 0h1m0 0h1m0 0h1m3 0h1m2 0h1m0 0h1m3 0h1m0 0h1m5 0h1m0 0h1m2 0h1m0 0h1m1 0h1m2 0h1m1 0h1m9 0h1m2 0h1m0 0h1m3 0h1m0 0h1m1 0h1m5 0h1m0 0h1m-186 1h1m11 0h1m32 0h1m29 0h1m0 0h1m1 0h1m1 0h1m1 0h1m4 0h1m3 0h1m3 0h1m1 0h1m2 0h1m0 0h1m8 0h1m1 0h1m0 0h1m1 0h1m5 0h1m1 0h1m8 0h1m2 0h1m0 0h1m4 0h1m12 0h1m8 0h1m0 0h1m3 0h1m0 0h1m0 0h1m1 0h1m1 0h1m0 0h1m3 0h1m3 0h1m0 0h1m-153 1h1m19 0h1m5 0h1m1 0h1m1 0h1m4 0h1m7 0h1m19 0h1m2 0h1m11 0h1m5 0h1m6 0h1m0 0h1m0 0h1m0 0h1m3 0h1m4 0h1m0 0h1m0 0h1m1 0h1m0 0h1m17 0h1m4 0h1m0 0h1m0 0h1m4 0h1m0 0h1m1 0h1m1 0h1m0 0h1m0 0h1m0 0h1m3 0h1m-121 1h1m1 0h1m15 0h1m14 0h1m0 0h1m6 0h1m6 0h1m1 0h1m6 0h1m1 0h1m0 0h1m0 0h1m2 0h1m2 0h1m3 0h1m0 0h1m0 0h1m0 0h1m0 0h1m2 0h1m1 0h1m0 0h1m2 0h1m23 0h1m0 0h1m0 0h1m0 0h1m0 0h1m2 0h1m-110 1h1m4 0h1m3 0h1m5 0h1m3 0h1m0 0h1m3 0h1m1 0h1m5 0h1m0 0h1m11 0h1m2 0h1m0 0h1m1 0h1m0 0h1m0 0h1m2 0h1m4 0h1m0 0h1m0 0h1m1 0h1m0 0h1m1 0h1m0 0h1m4 0h1m1 0h1m2 0h1m22 0h1m0 0h1m1 0h1m6 0h1m1 0h1m-156 1h1m8 0h1m11 0h1m16 0h1m1 0h1m4 0h1m2 0h1m1 0h1m2 0h1m0 0h1m0 0h1m0 0h1m8 0h1m4 0h1m2 0h1m9 0h1m0 0h1m6 0h1m0 0h1m0 0h1m2 0h1m1 0h1m0 0h1m0 0h1m1 0h1m0 0h1m1 0h1m0 0h1m2 0h1m1 0h1m0 0h1m1 0h1m0 0h1m0 0h1m23 0h1m4 0h1m0 0h1m0 0h1m1 0h1m-163 1h1m32 0h1m2 0h1m18 0h1m3 0h1m4 0h1m22 0h1m9 0h1m5 0h1m1 0h1m0 0h1m0 0h1m0 0h1m0 0h1m0 0h1m0 0h1m4 0h1m0 0h1m0 0h1m2 0h1m1 0h1m0 0h1m0 0h1m2 0h1m26 0h1m8 0h1m5 0h1m-146 1h1m1 0h1m4 0h1m11 0h1m10 0h1m10 0h1m0 0h1m0 0h1m1 0h1m6 0h1m3 0h1m0 0h1m0 0h1m0 0h1m2 0h1m1 0h1m1 0h1m0 0h1m1 0h1m4 0h1m2 0h1m1 0h1m0 0h1m0 0h1m2 0h1m1 0h1m0 0h1m0 0h1m2 0h1m0 0h1m0 0h1m0 0h1m0 0h1m0 0h1m0 0h1m28 0h1m1 0h1m0 0h1m0 0h1m1 0h1m0 0h1m0 0h1m0 0h1m0 0h1m0 0h1m0 0h1m0 0h1m-170 1h1m18 0h1m5 0h1m3 0h1m6 0h1m1 0h1m13 0h1m9 0h1m3 0h1m0 0h1m1 0h1m1 0h1m3 0h1m0 0h1m0 0h1m0 0h1m3 0h1m4 0h1m1 0h1m1 0h1m1 0h1m2 0h1m2 0h1m1 0h1m1 0h1m1 0h1m0 0h1m0 0h1m0 0h1m1 0h1m1 0h1m1 0h1m3 0h1m0 0h1m0 0h1m1 0h1m0 0h1m2 0h1m0 0h1m2 0h1m3 0h1m29 0h1m3 0h1m2 0h1m-162 1h1m30 0h1m0 0h1m2 0h1m0 0h1m2 0h1m1 0h1m0 0h1m11 0h1m13 0h1m3 0h1m0 0h1m0 0h1m1 0h1m1 0h1m0 0h1m1 0h1m2 0h1m2 0h1m0 0h1m0 0h1m0 0h1m0 0h1m0 0h1m1 0h1m7 0h1m3 0h1m1 0h1m0 0h1m1 0h1m3 0h1m4 0h1m25 0h1m1 0h1m2 0h1m3 0h1m3 0h1m0 0h1m5 0h1m-163 1h1m24 0h1m3 0h1m3 0h1m10 0h1m1 0h1m3 0h1m2 0h1m2 0h1m2 0h1m0 0h1m2 0h1m4 0h1m0 0h1m1 0h1m7 0h1m3 0h1m0 0h1m1 0h1m6 0h1m4 0h1m1 0h1m3 0h1m0 0h1m0 0h1m0 0h1m2 0h1m4 0h1m28 0h1m1 0h1m0 0h1m0 0h1m0 0h1m0 0h1m0 0h1m3 0h1m-144 1h1m7 0h1m4 0h1m1 0h1m6 0h1m3 0h1m9 0h1m0 0h1m0 0h1m8 0h1m0 0h1m0 0h1m0 0h1m5 0h1m9 0h1m0 0h1m1 0h1m3 0h1m0 0h1m2 0h1m2 0h1m7 0h1m4 0h1m1 0h1m1 0h1m0 0h1m45 0h1m-108 1h1m8 0h1m1 0h1m5 0h1m0 0h1m3 0h1m0 0h1m4 0h1m1 0h1m2 0h1m2 0h1m0 0h1m0 0h1m3 0h1m3 0h1m0 0h1m2 0h1m0 0h1m0 0h1m0 0h1m0 0h1m1 0h1m2 0h1m5 0h1m27 0h1m2 0h1m1 0h1m0 0h1m1 0h1m1 0h1m-160 1h1m23 0h1m9 0h1m12 0h1m1 0h1m4 0h1m4 0h1m5 0h1m0 0h1m0 0h1m0 0h1m1 0h1m0 0h1m5 0h1m9 0h1m0 0h1m5 0h1m5 0h1m3 0h1m2 0h1m9 0h1m2 0h1m34 0h1m1 0h1m1 0h1m2 0h1m0 0h1m0 0h1m0 0h1m-179 1h1m24 0h1m13 0h1m2 0h1m3 0h1m2 0h1m7 0h1m6 0h1m7 0h1m4 0h1m7 0h1m3 0h1m1 0h1m5 0h1m9 0h1m0 0h1m4 0h1m2 0h1m1 0h1m1 0h1m1 0h1m2 0h1m2 0h1m6 0h1m31 0h1m0 0h1m0 0h1m0 0h1m1 0h1m0 0h1m0 0h1m-130 1h1m0 0h1m4 0h1m2 0h1m2 0h1m1 0h1m1 0h1m2 0h1m3 0h1m7 0h1m5 0h1m0 0h1m3 0h1m1 0h1m0 0h1m2 0h1m0 0h1m0 0h1m6 0h1m2 0h1m2 0h1m2 0h1m4 0h1m0 0h1m0 0h1m0 0h1m1 0h1m1 0h1m1 0h1m36 0h1m0 0h1m0 0h1m4 0h1m0 0h1m0 0h1m1 0h1m0 0h1m0 0h1m5 0h1m-167 1h1m24 0h1m1 0h1m7 0h1m7 0h1m1 0h1m0 0h1m1 0h1m11 0h1m1 0h1m4 0h1m0 0h1m0 0h1m1 0h1m4 0h1m5 0h1m3 0h1m6 0h1m0 0h1m1 0h1m3 0h1m1 0h1m1 0h1m1 0h1m0 0h1m3 0h1m0 0h1m0 0h1m1 0h1m31 0h1m0 0h1m2 0h1m0 0h1m0 0h1m0 0h1m0 0h1m1 0h1m0 0h1m2 0h1m1 0h1m-151 1h1m13 0h1m14 0h1m3 0h1m1 0h1m0 0h1m8 0h1m3 0h1m1 0h1m1 0h1m0 0h1m0 0h1m1 0h1m1 0h1m11 0h1m1 0h1m7 0h1m0 0h1m1 0h1m1 0h1m0 0h1m3 0h1m0 0h1m0 0h1m4 0h1m6 0h1m30 0h1m1 0h1m0 0h1m0 0h1m1 0h1m0 0h1m7 0h1m0 0h1m-157 1h1m2 0h1m26 0h1m3 0h1m1 0h1m2 0h1m1 0h1m0 0h1m2 0h1m1 0h1m3 0h1m5 0h1m0 0h1m1 0h1m3 0h1m1 0h1m0 0h1m3 0h1m1 0h1m3 0h1m0 0h1m0 0h1m5 0h1m0 0h1m0 0h1m0 0h1m0 0h1m0 0h1m1 0h1m2 0h1m0 0h1m0 0h1m0 0h1m0 0h1m1 0h1m0 0h1m1 0h1m2 0h1m0 0h1m34 0h1m0 0h1m0 0h1m1 0h1m2 0h1m2 0h1m2 0h1m-137 1h1m12 0h1m0 0h1m6 0h1m0 0h1m1 0h1m3 0h1m1 0h1m2 0h1m6 0h1m0 0h1m1 0h1m2 0h1m0 0h1m2 0h1m5 0h1m0 0h1m0 0h1m2 0h1m0 0h1m2 0h1m0 0h1m0 0h1m0 0h1m0 0h1m1 0h1m1 0h1m0 0h1m0 0h1m0 0h1m2 0h1m0 0h1m0 0h1m6 0h1m29 0h1m1 0h1m1 0h1m1 0h1m2 0h1m5 0h1m-167 1h1m21 0h1m0 0h1m6 0h1m0 0h1m3 0h1m0 0h1m1 0h1m10 0h1m1 0h1m0 0h1m1 0h1m3 0h1m4 0h1m6 0h1m1 0h1m0 0h1m1 0h1m0 0h1m2 0h1m2 0h1m3 0h1m1 0h1m1 0h1m0 0h1m0 0h1m1 0h1m0 0h1m0 0h1m3 0h1m0 0h1m0 0h1m0 0h1m0 0h1m1 0h1m4 0h1m1 0h1m3 0h1m32 0h1m1 0h1m3 0h1m0 0h1m0 0h1m2 0h1m0 0h1m1 0h1m0 0h1m-117 1h1m2 0h1m0 0h1m3 0h1m7 0h1m3 0h1m0 0h1m0 0h1m0 0h1m0 0h1m3 0h1m1 0h1m0 0h1m5 0h1m2 0h1m3 0h1m2 0h1m0 0h1m0 0h1m3 0h1m1 0h1m0 0h1m0 0h1m1 0h1m0 0h1m2 0h1m1 0h1m1 0h1m38 0h1m0 0h1m3 0h1m4 0h1m2 0h1m-215 1h1m36 0h1m14 0h1m16 0h1m8 0h1m2 0h1m0 0h1m6 0h1m2 0h1m4 0h1m1 0h1m3 0h1m3 0h1m0 0h1m1 0h1m4 0h1m2 0h1m1 0h1m3 0h1m1 0h1m0 0h1m2 0h1m4 0h1m1 0h1m2 0h1m8 0h1m1 0h1m1 0h1m0 0h1m0 0h1m3 0h1m0 0h1m2 0h1m35 0h1m0 0h1m4 0h1m0 0h1m0 0h1m1 0h1m5 0h1m-172 1h1m14 0h1m12 0h1m14 0h1m0 0h1m1 0h1m1 0h1m1 0h1m2 0h1m5 0h1m4 0h1m5 0h1m2 0h1m1 0h1m1 0h1m3 0h1m1 0h1m0 0h1m0 0h1m6 0h1m0 0h1m0 0h1m0 0h1m0 0h1m1 0h1m1 0h1m0 0h1m2 0h1m0 0h1m2 0h1m0 0h1m4 0h1m0 0h1m35 0h1m3 0h1m0 0h1m2 0h1m0 0h1m1 0h1m0 0h1m-147 1h1m13 0h1m2 0h1m3 0h1m2 0h1m6 0h1m4 0h1m0 0h1m7 0h1m10 0h1m0 0h1m0 0h1m0 0h1m5 0h1m1 0h1m0 0h1m2 0h1m2 0h1m2 0h1m2 0h1m1 0h1m0 0h1m0 0h1m0 0h1m0 0h1m3 0h1m4 0h1m3 0h1m0 0h1m34 0h1m3 0h1m0 0h1m10 0h1m-198 1h1m32 0h1m6 0h1m12 0h1m9 0h1m1 0h1m4 0h1m0 0h1m10 0h1m0 0h1m1 0h1m1 0h1m9 0h1m2 0h1m1 0h1m2 0h1m3 0h1m1 0h1m1 0h1m3 0h1m1 0h1m0 0h1m2 0h1m1 0h1m1 0h1m1 0h1m0 0h1m0 0h1m0 0h1m2 0h1m0 0h1m0 0h1m0 0h1m4 0h1m38 0h1m0 0h1m2 0h1m0 0h1m0 0h1m6 0h1m4 0h1m-192 1h1m24 0h1m5 0h1m7 0h1m23 0h1m10 0h1m9 0h1m1 0h1m3 0h1m2 0h1m2 0h1m1 0h1m0 0h1m2 0h1m0 0h1m0 0h1m0 0h1m5 0h1m1 0h1m0 0h1m0 0h1m0 0h1m0 0h1m1 0h1m1 0h1m0 0h1m0 0h1m0 0h1m1 0h1m1 0h1m0 0h1m3 0h1m0 0h1m1 0h1m38 0h1m1 0h1m0 0h1m0 0h1m3 0h1m0 0h1m4 0h1m-147 1h1m8 0h1m7 0h1m7 0h1m1 0h1m2 0h1m1 0h1m4 0h1m2 0h1m7 0h1m1 0h1m1 0h1m0 0h1m1 0h1m0 0h1m0 0h1m1 0h1m0 0h1m2 0h1m0 0h1m0 0h1m0 0h1m3 0h1m1 0h1m0 0h1m1 0h1m0 0h1m0 0h1m0 0h1m0 0h1m0 0h1m0 0h1m1 0h1m1 0h1m0 0h1m4 0h1m37 0h1m0 0h1m1 0h1m0 0h1m0 0h1m0 0h1m1 0h1m2 0h1m2 0h1m0 0h1m3 0h1m0 0h1m-163 1h1m3 0h1m22 0h1m1 0h1m2 0h1m0 0h1m2 0h1m2 0h1m2 0h1m3 0h1m0 0h1m3 0h1m0 0h1m3 0h1m0 0h1m0 0h1m1 0h1m2 0h1m3 0h1m3 0h1m0 0h1m3 0h1m1 0h1m2 0h1m1 0h1m0 0h1m0 0h1m2 0h1m0 0h1m0 0h1m0 0h1m0 0h1m2 0h1m2 0h1m0 0h1m7 0h1m32 0h1m3 0h1m1 0h1m0 0h1m0 0h1m1 0h1m2 0h1m3 0h1m-151 1h1m12 0h1m0 0h1m6 0h1m2 0h1m2 0h1m2 0h1m0 0h1m2 0h1m7 0h1m4 0h1m0 0h1m7 0h1m0 0h1m1 0h1m4 0h1m2 0h1m1 0h1m2 0h1m4 0h1m3 0h1m0 0h1m1 0h1m1 0h1m1 0h1m0 0h1m1 0h1m1 0h1m8 0h1m30 0h1m0 0h1m1 0h1m0 0h1m1 0h1m0 0h1m9 0h1m0 0h1m-183 1h1m1 0h1m1 0h1m35 0h1m4 0h1m4 0h1m6 0h1m9 0h1m0 0h1m2 0h1m2 0h1m1 0h1m8 0h1m3 0h1m2 0h1m0 0h1m1 0h1m1 0h1m0 0h1m3 0h1m0 0h1m1 0h1m1 0h1m1 0h1m1 0h1m0 0h1m0 0h1m1 0h1m1 0h1m0 0h1m2 0h1m0 0h1m42 0h1m3 0h1m0 0h1m4 0h1m2 0h1m2 0h1m1 0h1m-151 1h1m7 0h1m4 0h1m3 0h1m2 0h1m3 0h1m6 0h1m1 0h1m1 0h1m4 0h1m3 0h1m2 0h1m0 0h1m1 0h1m1 0h1m1 0h1m3 0h1m0 0h1m0 0h1m0 0h1m1 0h1m0 0h1m3 0h1m0 0h1m3 0h1m6 0h1m2 0h1m1 0h1m0 0h1m0 0h1m0 0h1m1 0h1m0 0h1m2 0h1m37 0h1m1 0h1m3 0h1m0 0h1m0 0h1m0 0h1m3 0h1m1 0h1m2 0h1m-144 1h1m1 0h1m2 0h1m1 0h1m1 0h1m7 0h1m0 0h1m2 0h1m1 0h1m2 0h1m6 0h1m0 0h1m2 0h1m0 0h1m5 0h1m2 0h1m0 0h1m5 0h1m0 0h1m0 0h1m3 0h1m0 0h1m1 0h1m0 0h1m1 0h1m1 0h1m2 0h1m2 0h1m1 0h1m1 0h1m2 0h1m5 0h1m0 0h1m33 0h1m3 0h1m1 0h1m1 0h1m0 0h1m0 0h1m0 0h1m3 0h1m1 0h1m3 0h1m-171 1h1m18 0h1m0 0h1m12 0h1m1 0h1m6 0h1m7 0h1m7 0h1m0 0h1m3 0h1m0 0h1m0 0h1m1 0h1m0 0h1m0 0h1m5 0h1m7 0h1m0 0h1m0 0h1m2 0h1m0 0h1m0 0h1m1 0h1m4 0h1m0 0h1m1 0h1m1 0h1m0 0h1m1 0h1m0 0h1m3 0h1m0 0h1m0 0h1m44 0h1m3 0h1m10 0h1m-186 1h1m4 0h1m24 0h1m0 0h1m7 0h1m4 0h1m0 0h1m5 0h1m4 0h1m2 0h1m0 0h1m1 0h1m4 0h1m1 0h1m0 0h1m0 0h1m7 0h1m0 0h1m4 0h1m0 0h1m0 0h1m0 0h1m2 0h1m2 0h1m5 0h1m0 0h1m0 0h1m1 0h1m1 0h1m0 0h1m0 0h1m4 0h1m2 0h1m0 0h1m0 0h1m2 0h1m0 0h1m0 0h1m1 0h1m0 0h1m0 0h1m40 0h1m2 0h1m4 0h1m0 0h1m1 0h1m0 0h1m0 0h1m2 0h1m-185 1h1m14 0h1m21 0h1m3 0h1m2 0h1m9 0h1m9 0h1m1 0h1m3 0h1m0 0h1m0 0h1m4 0h1m2 0h1m7 0h1m0 0h1m0 0h1m0 0h1m2 0h1m0 0h1m4 0h1m2 0h1m0 0h1m1 0h1m0 0h1m0 0h1m0 0h1m5 0h1m1 0h1m1 0h1m0 0h1m0 0h1m0 0h1m1 0h1m3 0h1m36 0h1m2 0h1m0 0h1m1 0h1m3 0h1m0 0h1m2 0h1m-180 1h1m31 0h1m2 0h1m2 0h1m2 0h1m3 0h1m3 0h1m16 0h1m0 0h1m0 0h1m2 0h1m4 0h1m1 0h1m4 0h1m0 0h1m0 0h1m0 0h1m3 0h1m2 0h1m1 0h1m0 0h1m1 0h1m1 0h1m1 0h1m0 0h1m0 0h1m0 0h1m0 0h1m0 0h1m2 0h1m4 0h1m0 0h1m0 0h1m0 0h1m1 0h1m1 0h1m0 0h1m1 0h1m2 0h1m31 0h1m3 0h1m3 0h1m1 0h1m0 0h1m6 0h1m1 0h1m0 0h1m5 0h1m-168 1h1m3 0h1m7 0h1m11 0h1m9 0h1m4 0h1m5 0h1m0 0h1m0 0h1m0 0h1m0 0h1m0 0h1m1 0h1m1 0h1m2 0h1m1 0h1m0 0h1m2 0h1m1 0h1m2 0h1m1 0h1m4 0h1m0 0h1m2 0h1m0 0h1m6 0h1m1 0h1m2 0h1m0 0h1m1 0h1m0 0h1m3 0h1m2 0h1m0 0h1m0 0h1m36 0h1m0 0h1m3 0h1m4 0h1m2 0h1m0 0h1m5 0h1m0 0h1m0 0h1m0 0h1m-152 1h1m3 0h1m8 0h1m0 0h1m12 0h1m3 0h1m3 0h1m1 0h1m0 0h1m0 0h1m0 0h1m1 0h1m0 0h1m0 0h1m3 0h1m0 0h1m1 0h1m1 0h1m1 0h1m1 0h1m0 0h1m3 0h1m0 0h1m0 0h1m3 0h1m2 0h1m0 0h1m1 0h1m5 0h1m3 0h1m0 0h1m1 0h1m0 0h1m5 0h1m40 0h1m1 0h1m1 0h1m4 0h1m1 0h1m1 0h1m-151 1h1m10 0h1m8 0h1m2 0h1m12 0h1m1 0h1m2 0h1m2 0h1m2 0h1m0 0h1m3 0h1m0 0h1m0 0h1m0 0h1m1 0h1m1 0h1m3 0h1m0 0h1m3 0h1m1 0h1m0 0h1m1 0h1m0 0h1m1 0h1m0 0h1m1 0h1m0 0h1m0 0h1m1 0h1m0 0h1m1 0h1m1 0h1m0 0h1m38 0h1m3 0h1m3 0h1m0 0h1m0 0h1m1 0h1m1 0h1m0 0h1m0 0h1m2 0h1m3 0h1m1 0h1m1 0h1m-175 1h1m19 0h1m11 0h1m0 0h1m14 0h1m1 0h1m2 0h1m2 0h1m2 0h1m1 0h1m0 0h1m0 0h1m2 0h1m2 0h1m1 0h1m1 0h1m2 0h1m0 0h1m0 0h1m0 0h1m1 0h1m1 0h1m0 0h1m1 0h1m0 0h1m0 0h1m1 0h1m1 0h1m0 0h1m0 0h1m0 0h1m1 0h1m0 0h1m0 0h1m0 0h1m0 0h1m0 0h1m0 0h1m1 0h1m1 0h1m0 0h1m0 0h1m0 0h1m4 0h1m1 0h1m33 0h1m1 0h1m0 0h1m0 0h1m3 0h1m1 0h1m1 0h1m5 0h1m0 0h1m-131 1h1m0 0h1m1 0h1m0 0h1m3 0h1m2 0h1m0 0h1m5 0h1m5 0h1m2 0h1m0 0h1m0 0h1m2 0h1m4 0h1m0 0h1m3 0h1m2 0h1m1 0h1m0 0h1m1 0h1m1 0h1m0 0h1m1 0h1m1 0h1m0 0h1m0 0h1m0 0h1m0 0h1m0 0h1m1 0h1m0 0h1m1 0h1m1 0h1m0 0h1m1 0h1m1 0h1m0 0h1m1 0h1m29 0h1m4 0h1m6 0h1m0 0h1m1 0h1m0 0h1m0 0h1m0 0h1m0 0h1m0 0h1m1 0h1m-134 1h1m4 0h1m2 0h1m1 0h1m1 0h1m2 0h1m8 0h1m1 0h1m5 0h1m1 0h1m3 0h1m3 0h1m2 0h1m1 0h1m0 0h1m7 0h1m2 0h1m8 0h1m0 0h1m0 0h1m4 0h1m36 0h1m2 0h1m0 0h1m1 0h1m0 0h1m0 0h1m0 0h1m0 0h1m0 0h1m4 0h1m1 0h1m3 0h1m-209 1h1m41 0h1m1 0h1m29 0h1m4 0h1m0 0h1m0 0h1m0 0h1m1 0h1m1 0h1m2 0h1m2 0h1m0 0h1m2 0h1m1 0h1m3 0h1m0 0h1m10 0h1m0 0h1m2 0h1m0 0h1m2 0h1m0 0h1m0 0h1m1 0h1m1 0h1m1 0h1m1 0h1m3 0h1m0 0h1m5 0h1m2 0h1m5 0h1m0 0h1m27 0h1m5 0h1m2 0h1m0 0h1m2 0h1m0 0h1m1 0h1m3 0h1m1 0h1m3 0h1m-164 1h1m3 0h1m9 0h1m8 0h1m8 0h1m0 0h1m1 0h1m1 0h1m0 0h1m2 0h1m0 0h1m1 0h1m3 0h1m2 0h1m1 0h1m0 0h1m0 0h1m0 0h1m0 0h1m4 0h1m1 0h1m1 0h1m1 0h1m2 0h1m7 0h1m2 0h1m5 0h1m1 0h1m0 0h1m0 0h1m1 0h1m0 0h1m0 0h1m0 0h1m6 0h1m0 0h1m0 0h1m1 0h1m30 0h1m5 0h1m2 0h1m6 0h1m2 0h1m0 0h1m1 0h1m0 0h1m-181 1h1m24 0h1m2 0h1m17 0h1m1 0h1m10 0h1m9 0h1m2 0h1m1 0h1m1 0h1m0 0h1m0 0h1m0 0h1m0 0h1m0 0h1m0 0h1m2 0h1m0 0h1m3 0h1m3 0h1m0 0h1m3 0h1m0 0h1m2 0h1m0 0h1m1 0h1m0 0h1m1 0h1m0 0h1m0 0h1m0 0h1m0 0h1m0 0h1m2 0h1m1 0h1m2 0h1m1 0h1m32 0h1m1 0h1m0 0h1m1 0h1m0 0h1m1 0h1m0 0h1m1 0h1m4 0h1m0 0h1m5 0h1m2 0h1m-195 1h1m35 0h1m4 0h1m2 0h1m8 0h1m3 0h1m11 0h1m0 0h1m0 0h1m2 0h1m6 0h1m0 0h1m0 0h1m2 0h1m0 0h1m5 0h1m0 0h1m2 0h1m1 0h1m0 0h1m0 0h1m2 0h1m1 0h1m0 0h1m1 0h1m1 0h1m1 0h1m0 0h1m2 0h1m0 0h1m1 0h1m0 0h1m1 0h1m5 0h1m1 0h1m1 0h1m0 0h1m3 0h1m34 0h1m3 0h1m0 0h1m0 0h1m0 0h1m0 0h1m1 0h1m0 0h1m1 0h1m-150 1h1m1 0h1m7 0h1m1 0h1m3 0h1m0 0h1m1 0h1m0 0h1m1 0h1m5 0h1m0 0h1m4 0h1m1 0h1m0 0h1m1 0h1m0 0h1m1 0h1m2 0h1m3 0h1m1 0h1m0 0h1m0 0h1m1 0h1m1 0h1m8 0h1m2 0h1m1 0h1m5 0h1m0 0h1m0 0h1m0 0h1m6 0h1m0 0h1m0 0h1m0 0h1m1 0h1m3 0h1m1 0h1m30 0h1m0 0h1m1 0h1m7 0h1m0 0h1m2 0h1m4 0h1m5 0h1m-157 1h1m2 0h1m2 0h1m4 0h1m12 0h1m0 0h1m0 0h1m3 0h1m2 0h1m2 0h1m7 0h1m1 0h1m0 0h1m1 0h1m2 0h1m0 0h1m3 0h1m0 0h1m3 0h1m0 0h1m2 0h1m0 0h1m1 0h1m1 0h1m1 0h1m0 0h1m0 0h1m2 0h1m1 0h1m1 0h1m1 0h1m3 0h1m1 0h1m2 0h1m4 0h1m1 0h1m0 0h1m0 0h1m26 0h1m4 0h1m0 0h1m0 0h1m3 0h1m1 0h1m0 0h1m0 0h1m0 0h1m0 0h1m0 0h1m0 0h1m0 0h1m4 0h1m2 0h1m2 0h1m-155 1h1m8 0h1m2 0h1m0 0h1m2 0h1m3 0h1m0 0h1m0 0h1m0 0h1m0 0h1m4 0h1m1 0h1m0 0h1m2 0h1m2 0h1m1 0h1m0 0h1m1 0h1m0 0h1m0 0h1m3 0h1m4 0h1m0 0h1m0 0h1m0 0h1m1 0h1m1 0h1m0 0h1m1 0h1m0 0h1m0 0h1m6 0h1m0 0h1m1 0h1m4 0h1m1 0h1m1 0h1m0 0h1m1 0h1m2 0h1m0 0h1m1 0h1m29 0h1m2 0h1m1 0h1m0 0h1m2 0h1m0 0h1m2 0h1m2 0h1m0 0h1m0 0h1m1 0h1m0 0h1m5 0h1m-158 1h1m15 0h1m0 0h1m2 0h1m9 0h1m3 0h1m2 0h1m1 0h1m0 0h1m1 0h1m7 0h1m8 0h1m0 0h1m0 0h1m2 0h1m1 0h1m0 0h1m1 0h1m1 0h1m0 0h1m1 0h1m7 0h1m4 0h1m3 0h1m0 0h1m2 0h1m4 0h1m1 0h1m0 0h1m28 0h1m3 0h1m0 0h1m1 0h1m2 0h1m1 0h1m0 0h1m3 0h1m0 0h1m0 0h1m1 0h1m1 0h1m2 0h1m-223 1h1m67 0h1m1 0h1m8 0h1m12 0h1m9 0h1m0 0h1m1 0h1m1 0h1m3 0h1m6 0h1m3 0h1m2 0h1m0 0h1m1 0h1m6 0h1m3 0h1m1 0h1m0 0h1m1 0h1m2 0h1m0 0h1m0 0h1m0 0h1m2 0h1m0 0h1m1 0h1m5 0h1m0 0h1m0 0h1m1 0h1m1 0h1m22 0h1m3 0h1m0 0h1m2 0h1m1 0h1m0 0h1m1 0h1m0 0h1m0 0h1m1 0h1m3 0h1m9 0h1m-202 1h1m21 0h1m23 0h1m10 0h1m0 0h1m2 0h1m8 0h1m3 0h1m4 0h1m1 0h1m3 0h1m0 0h1m0 0h1m2 0h1m0 0h1m0 0h1m0 0h1m9 0h1m0 0h1m0 0h1m1 0h1m1 0h1m0 0h1m0 0h1m1 0h1m1 0h1m0 0h1m0 0h1m0 0h1m2 0h1m0 0h1m0 0h1m2 0h1m2 0h1m0 0h1m0 0h1m1 0h1m0 0h1m0 0h1m0 0h1m2 0h1m3 0h1m23 0h1m7 0h1m0 0h1m3 0h1m1 0h1m0 0h1m3 0h1m1 0h1m0 0h1m0 0h1m1 0h1m4 0h1m-155 1h1m5 0h1m9 0h1m4 0h1m3 0h1m8 0h1m3 0h1m2 0h1m0 0h1m0 0h1m2 0h1m0 0h1m1 0h1m1 0h1m2 0h1m2 0h1m2 0h1m5 0h1m0 0h1m1 0h1m1 0h1m5 0h1m1 0h1m1 0h1m0 0h1m0 0h1m2 0h1m0 0h1m1 0h1m0 0h1m1 0h1m0 0h1m6 0h1m19 0h1m1 0h1m6 0h1m0 0h1m0 0h1m0 0h1m1 0h1m0 0h1m0 0h1m0 0h1m0 0h1m0 0h1m5 0h1m0 0h1m0 0h1m0 0h1m2 0h1m2 0h1m0 0h1m0 0h1m1 0h1m-175 1h1m22 0h1m4 0h1m21 0h1m2 0h1m0 0h1m1 0h1m1 0h1m5 0h1m5 0h1m2 0h1m0 0h1m3 0h1m0 0h1m2 0h1m0 0h1m3 0h1m1 0h1m1 0h1m0 0h1m0 0h1m0 0h1m1 0h1m1 0h1m0 0h1m3 0h1m0 0h1m11 0h1m3 0h1m16 0h1m6 0h1m0 0h1m1 0h1m2 0h1m2 0h1m0 0h1m1 0h1m1 0h1m0 0h1m7 0h1m-165 1h1m8 0h1m13 0h1m5 0h1m0 0h1m1 0h1m1 0h1m3 0h1m0 0h1m3 0h1m2 0h1m2 0h1m0 0h1m1 0h1m5 0h1m0 0h1m0 0h1m0 0h1m9 0h1m2 0h1m4 0h1m0 0h1m0 0h1m0 0h1m0 0h1m2 0h1m0 0h1m0 0h1m3 0h1m1 0h1m0 0h1m1 0h1m0 0h1m0 0h1m0 0h1m0 0h1m1 0h1m1 0h1m0 0h1m2 0h1m1 0h1m0 0h1m0 0h1m0 0h1m21 0h1m0 0h1m0 0h1m0 0h1m0 0h1m0 0h1m2 0h1m1 0h1m1 0h1m2 0h1m1 0h1m2 0h1m1 0h1m0 0h1m1 0h1m1 0h1m-142 1h1m4 0h1m1 0h1m2 0h1m10 0h1m3 0h1m5 0h1m0 0h1m0 0h1m2 0h1m4 0h1m0 0h1m0 0h1m1 0h1m0 0h1m0 0h1m0 0h1m4 0h1m2 0h1m0 0h1m0 0h1m0 0h1m0 0h1m0 0h1m0 0h1m0 0h1m2 0h1m0 0h1m1 0h1m2 0h1m1 0h1m0 0h1m4 0h1m0 0h1m1 0h1m2 0h1m0 0h1m2 0h1m0 0h1m1 0h1m4 0h1m4 0h1m1 0h1m1 0h1m7 0h1m3 0h1m0 0h1m0 0h1m1 0h1m1 0h1m2 0h1m1 0h1m1 0h1m2 0h1m1 0h1m3 0h1m-190 1h1m11 0h1m43 0h1m2 0h1m6 0h1m1 0h1m5 0h1m3 0h1m3 0h1m0 0h1m0 0h1m5 0h1m0 0h1m3 0h1m0 0h1m0 0h1m1 0h1m3 0h1m3 0h1m0 0h1m1 0h1m0 0h1m3 0h1m0 0h1m3 0h1m1 0h1m0 0h1m0 0h1m1 0h1m0 0h1m2 0h1m1 0h1m0 0h1m1 0h1m2 0h1m0 0h1m18 0h1m6 0h1m0 0h1m0 0h1m1 0h1m0 0h1m1 0h1m0 0h1m0 0h1m0 0h1m4 0h1m1 0h1m-139 1h1m8 0h1m0 0h1m0 0h1m1 0h1m0 0h1m2 0h1m5 0h1m13 0h1m0 0h1m0 0h1m0 0h1m9 0h1m9 0h1m0 0h1m0 0h1m1 0h1m0 0h1m4 0h1m2 0h1m0 0h1m1 0h1m0 0h1m0 0h1m1 0h1m1 0h1m0 0h1m0 0h1m2 0h1m5 0h1m11 0h1m2 0h1m1 0h1m9 0h1m2 0h1m2 0h1m1 0h1m0 0h1m0 0h1m0 0h1m0 0h1m0 0h1m9 0h1m1 0h1m-175 1h1m28 0h1m7 0h1m6 0h1m2 0h1m4 0h1m1 0h1m8 0h1m4 0h1m2 0h1m6 0h1m3 0h1m0 0h1m1 0h1m0 0h1m2 0h1m0 0h1m0 0h1m1 0h1m6 0h1m0 0h1m3 0h1m3 0h1m5 0h1m0 0h1m2 0h1m0 0h1m0 0h1m0 0h1m1 0h1m0 0h1m0 0h1m4 0h1m8 0h1m0 0h1m0 0h1m9 0h1m6 0h1m3 0h1m2 0h1m0 0h1m0 0h1m1 0h1m3 0h1m8 0h1m-178 1h1m29 0h1m5 0h1m1 0h1m3 0h1m6 0h1m1 0h1m5 0h1m0 0h1m5 0h1m1 0h1m4 0h1m3 0h1m0 0h1m0 0h1m0 0h1m4 0h1m1 0h1m0 0h1m0 0h1m1 0h1m0 0h1m0 0h1m0 0h1m0 0h1m2 0h1m3 0h1m0 0h1m4 0h1m0 0h1m1 0h1m0 0h1m0 0h1m3 0h1m2 0h1m3 0h1m4 0h1m2 0h1m4 0h1m0 0h1m3 0h1m7 0h1m0 0h1m6 0h1m0 0h1m0 0h1m0 0h1m0 0h1m3 0h1m6 0h1m-139 1h1m8 0h1m12 0h1m2 0h1m0 0h1m7 0h1m3 0h1m0 0h1m0 0h1m4 0h1m0 0h1m4 0h1m1 0h1m0 0h1m1 0h1m0 0h1m0 0h1m0 0h1m0 0h1m0 0h1m2 0h1m0 0h1m0 0h1m0 0h1m1 0h1m0 0h1m0 0h1m0 0h1m0 0h1m0 0h1m0 0h1m1 0h1m0 0h1m5 0h1m0 0h1m0 0h1m0 0h1m2 0h1m0 0h1m1 0h1m2 0h1m9 0h1m0 0h1m4 0h1m2 0h1m0 0h1m0 0h1m0 0h1m0 0h1m0 0h1m4 0h1m5 0h1m1 0h1m2 0h1m-146 1h1m1 0h1m5 0h1m3 0h1m1 0h1m6 0h1m3 0h1m4 0h1m4 0h1m0 0h1m12 0h1m2 0h1m0 0h1m0 0h1m2 0h1m4 0h1m3 0h1m0 0h1m2 0h1m0 0h1m1 0h1m1 0h1m0 0h1m0 0h1m1 0h1m1 0h1m4 0h1m0 0h1m3 0h1m0 0h1m3 0h1m1 0h1m6 0h1m1 0h1m1 0h1m2 0h1m0 0h1m3 0h1m2 0h1m0 0h1m0 0h1m0 0h1m2 0h1m3 0h1m3 0h1m2 0h1m1 0h1m4 0h1m-160 1h1m7 0h1m4 0h1m21 0h1m1 0h1m3 0h1m2 0h1m1 0h1m1 0h1m0 0h1m0 0h1m0 0h1m0 0h1m1 0h1m1 0h1m0 0h1m2 0h1m3 0h1m2 0h1m0 0h1m0 0h1m1 0h1m0 0h1m4 0h1m2 0h1m0 0h1m0 0h1m4 0h1m0 0h1m0 0h1m2 0h1m0 0h1m0 0h1m1 0h1m0 0h1m1 0h1m0 0h1m1 0h1m2 0h1m0 0h1m3 0h1m0 0h1m3 0h1m0 0h1m1 0h1m0 0h1m0 0h1m2 0h1m1 0h1m0 0h1m0 0h1m1 0h1m0 0h1m6 0h1m3 0h1m0 0h1m0 0h1m0 0h1m1 0h1m11 0h1m0 0h1m1 0h1m-137 1h1m20 0h1m0 0h1m5 0h1m0 0h1m2 0h1m0 0h1m0 0h1m2 0h1m0 0h1m2 0h1m3 0h1m0 0h1m0 0h1m1 0h1m0 0h1m1 0h1m0 0h1m0 0h1m0 0h1m10 0h1m0 0h1m3 0h1m2 0h1m3 0h1m1 0h1m1 0h1m12 0h1m0 0h1m4 0h1m1 0h1m0 0h1m2 0h1m1 0h1m0 0h1m0 0h1m1 0h1m0 0h1m3 0h1m1 0h1m0 0h1m0 0h1m1 0h1m2 0h1m2 0h1m2 0h1m1 0h1m7 0h1m-156 1h1m11 0h1m5 0h1m2 0h1m5 0h1m3 0h1m16 0h1m2 0h1m0 0h1m0 0h1m15 0h1m0 0h1m0 0h1m0 0h1m0 0h1m0 0h1m0 0h1m3 0h1m4 0h1m1 0h1m0 0h1m0 0h1m0 0h1m0 0h1m2 0h1m1 0h1m0 0h1m0 0h1m0 0h1m0 0h1m2 0h1m3 0h1m2 0h1m1 0h1m0 0h1m2 0h1m0 0h1m0 0h1m1 0h1m0 0h1m4 0h1m0 0h1m1 0h1m2 0h1m10 0h1m9 0h1m-171 1h1m19 0h1m6 0h1m6 0h1m19 0h1m2 0h1m1 0h1m6 0h1m0 0h1m3 0h1m2 0h1m0 0h1m0 0h1m3 0h1m1 0h1m0 0h1m4 0h1m0 0h1m1 0h1m1 0h1m1 0h1m0 0h1m0 0h1m1 0h1m0 0h1m3 0h1m0 0h1m0 0h1m3 0h1m0 0h1m2 0h1m0 0h1m0 0h1m0 0h1m1 0h1m0 0h1m6 0h1m0 0h1m4 0h1m2 0h1m3 0h1m1 0h1m3 0h1m0 0h1m3 0h1m0 0h1m0 0h1m1 0h1m3 0h1m8 0h1m2 0h1m1 0h1m-152 1h1m4 0h1m2 0h1m10 0h1m7 0h1m3 0h1m1 0h1m3 0h1m0 0h1m7 0h1m3 0h1m1 0h1m0 0h1m3 0h1m1 0h1m1 0h1m4 0h1m0 0h1m1 0h1m1 0h1m3 0h1m3 0h1m1 0h1m1 0h1m1 0h1m0 0h1m0 0h1m0 0h1m2 0h1m1 0h1m2 0h1m3 0h1m0 0h1m0 0h1m1 0h1m0 0h1m2 0h1m2 0h1m0 0h1m0 0h1m1 0h1m0 0h1m0 0h1m0 0h1m0 0h1m0 0h1m2 0h1m4 0h1m2 0h1m0 0h1m3 0h1m0 0h1m1 0h1m4 0h1m3 0h1m-165 1h1m6 0h1m29 0h1m7 0h1m2 0h1m0 0h1m4 0h1m0 0h1m3 0h1m4 0h1m1 0h1m2 0h1m4 0h1m4 0h1m1 0h1m4 0h1m0 0h1m1 0h1m1 0h1m1 0h1m0 0h1m0 0h1m1 0h1m0 0h1m1 0h1m1 0h1m0 0h1m0 0h1m0 0h1m0 0h1m1 0h1m1 0h1m0 0h1m3 0h1m1 0h1m0 0h1m1 0h1m1 0h1m0 0h1m0 0h1m0 0h1m1 0h1m0 0h1m2 0h1m7 0h1m11 0h1m2 0h1m5 0h1m-163 1h1m0 0h1m12 0h1m7 0h1m4 0h1m0 0h1m5 0h1m1 0h1m16 0h1m3 0h1m2 0h1m0 0h1m4 0h1m0 0h1m0 0h1m0 0h1m1 0h1m1 0h1m2 0h1m1 0h1m0 0h1m4 0h1m7 0h1m0 0h1m0 0h1m0 0h1m5 0h1m1 0h1m0 0h1m1 0h1m2 0h1m1 0h1m6 0h1m0 0h1m0 0h1m1 0h1m2 0h1m0 0h1m5 0h1m0 0h1m0 0h1m0 0h1m0 0h1m0 0h1m2 0h1m0 0h1m4 0h1m1 0h1m19 0h1m-168 1h1m12 0h1m20 0h1m3 0h1m2 0h1m3 0h1m12 0h1m4 0h1m1 0h1m0 0h1m1 0h1m0 0h1m5 0h1m3 0h1m0 0h1m2 0h1m1 0h1m4 0h1m0 0h1m0 0h1m0 0h1m1 0h1m0 0h1m2 0h1m1 0h1m3 0h1m0 0h1m0 0h1m0 0h1m0 0h1m1 0h1m6 0h1m1 0h1m2 0h1m2 0h1m3 0h1m1 0h1m1 0h1m0 0h1m0 0h1m1 0h1m11 0h1m5 0h1m2 0h1m-153 1h1m6 0h1m3 0h1m9 0h1m12 0h1m3 0h1m0 0h1m3 0h1m6 0h1m1 0h1m0 0h1m4 0h1m0 0h1m1 0h1m1 0h1m4 0h1m4 0h1m0 0h1m0 0h1m1 0h1m4 0h1m0 0h1m0 0h1m0 0h1m2 0h1m0 0h1m0 0h1m1 0h1m0 0h1m1 0h1m0 0h1m0 0h1m0 0h1m0 0h1m1 0h1m0 0h1m0 0h1m4 0h1m0 0h1m1 0h1m0 0h1m0 0h1m0 0h1m0 0h1m3 0h1m1 0h1m4 0h1m1 0h1m1 0h1m0 0h1m1 0h1m0 0h1m0 0h1m2 0h1m5 0h1m-112 1h1m1 0h1m7 0h1m0 0h1m9 0h1m3 0h1m1 0h1m7 0h1m3 0h1m0 0h1m2 0h1m2 0h1m0 0h1m1 0h1m1 0h1m4 0h1m0 0h1m0 0h1m1 0h1m2 0h1m1 0h1m1 0h1m0 0h1m3 0h1m0 0h1m0 0h1m0 0h1m2 0h1m1 0h1m3 0h1m0 0h1m0 0h1m1 0h1m1 0h1m1 0h1m0 0h1m0 0h1m0 0h1m0 0h1m0 0h1m2 0h1m4 0h1m3 0h1m0 0h1m1 0h1m1 0h1m4 0h1m2 0h1m-165 1h1m42 0h1m5 0h1m10 0h1m2 0h1m1 0h1m0 0h1m6 0h1m1 0h1m1 0h1m5 0h1m6 0h1m0 0h1m2 0h1m3 0h1m0 0h1m10 0h1m0 0h1m2 0h1m0 0h1m1 0h1m0 0h1m1 0h1m1 0h1m1 0h1m0 0h1m4 0h1m0 0h1m1 0h1m0 0h1m0 0h1m0 0h1m0 0h1m2 0h1m0 0h1m0 0h1m2 0h1m0 0h1m3 0h1m1 0h1m8 0h1m-171 1h1m16 0h1m9 0h1m23 0h1m23 0h1m5 0h1m1 0h1m1 0h1m2 0h1m9 0h1m5 0h1m1 0h1m4 0h1m1 0h1m0 0h1m3 0h1m0 0h1m0 0h1m0 0h1m2 0h1m6 0h1m0 0h1m4 0h1m0 0h1m1 0h1m2 0h1m1 0h1m2 0h1m0 0h1m0 0h1m0 0h1m1 0h1m0 0h1m8 0h1m0 0h1m1 0h1m6 0h1m-142 1h1m3 0h1m2 0h1m3 0h1m9 0h1m4 0h1m2 0h1m14 0h1m0 0h1m2 0h1m0 0h1m2 0h1m0 0h1m2 0h1m0 0h1m2 0h1m5 0h1m0 0h1m2 0h1m1 0h1m2 0h1m0 0h1m7 0h1m2 0h1m1 0h1m0 0h1m0 0h1m2 0h1m2 0h1m0 0h1m1 0h1m0 0h1m4 0h1m0 0h1m0 0h1m0 0h1m0 0h1m0 0h1m2 0h1m4 0h1m2 0h1m1 0h1m1 0h1m0 0h1m3 0h1m15 0h1m-163 1h1m9 0h1m7 0h1m28 0h1m0 0h1m2 0h1m2 0h1m8 0h1m5 0h1m0 0h1m5 0h1m1 0h1m5 0h1m1 0h1m1 0h1m0 0h1m0 0h1m2 0h1m1 0h1m0 0h1m0 0h1m1 0h1m1 0h1m0 0h1m3 0h1m1 0h1m2 0h1m0 0h1m2 0h1m0 0h1m2 0h1m0 0h1m0 0h1m3 0h1m6 0h1m0 0h1m0 0h1m0 0h1m0 0h1m5 0h1m8 0h1m0 0h1m1 0h1m-177 1h1m44 0h1m26 0h1m2 0h1m3 0h1m0 0h1m0 0h1m1 0h1m1 0h1m1 0h1m2 0h1m0 0h1m0 0h1m4 0h1m1 0h1m0 0h1m2 0h1m2 0h1m0 0h1m0 0h1m0 0h1m1 0h1m0 0h1m0 0h1m1 0h1m2 0h1m0 0h1m1 0h1m0 0h1m0 0h1m1 0h1m0 0h1m0 0h1m2 0h1m3 0h1m0 0h1m0 0h1m0 0h1m2 0h1m1 0h1m0 0h1m2 0h1m1 0h1m8 0h1m1 0h1m1 0h1m0 0h1m-131 1h1m0 0h1m20 0h1m21 0h1m0 0h1m0 0h1m1 0h1m5 0h1m4 0h1m4 0h1m3 0h1m0 0h1m3 0h1m3 0h1m0 0h1m0 0h1m9 0h1m0 0h1m0 0h1m3 0h1m1 0h1m0 0h1m1 0h1m0 0h1m0 0h1m0 0h1m1 0h1m2 0h1m1 0h1m3 0h1m2 0h1m4 0h1m0 0h1m3 0h1m1 0h1m0 0h1m4 0h1m0 0h1m2 0h1m-167 1h1m12 0h1m10 0h1m15 0h1m6 0h1m4 0h1m7 0h1m6 0h1m1 0h1m5 0h1m5 0h1m2 0h1m0 0h1m0 0h1m5 0h1m6 0h1m0 0h1m1 0h1m1 0h1m12 0h1m0 0h1m2 0h1m1 0h1m2 0h1m1 0h1m0 0h1m2 0h1m2 0h1m0 0h1m4 0h1m0 0h1m9 0h1m0 0h1m5 0h1m3 0h1m-180 1h1m63 0h1m1 0h1m0 0h1m14 0h1m4 0h1m0 0h1m0 0h1m7 0h1m2 0h1m2 0h1m0 0h1m0 0h1m0 0h1m3 0h1m3 0h1m6 0h1m3 0h1m0 0h1m10 0h1m1 0h1m0 0h1m4 0h1m0 0h1m0 0h1m1 0h1m0 0h1m0 0h1m1 0h1m0 0h1m4 0h1m2 0h1m2 0h1m2 0h1m0 0h1m3 0h1m7 0h1m12 0h1m-209 1h1m47 0h1m25 0h1m17 0h1m4 0h1m4 0h1m2 0h1m5 0h1m2 0h1m10 0h1m12 0h1m7 0h1m2 0h1m1 0h1m2 0h1m2 0h1m1 0h1m0 0h1m0 0h1m0 0h1m0 0h1m3 0h1m1 0h1m2 0h1m0 0h1m1 0h1m0 0h1m2 0h1m5 0h1m5 0h1m0 0h1m2 0h1m-176 1h1m33 0h1m4 0h1m30 0h1m3 0h1m2 0h1m0 0h1m6 0h1m4 0h1m3 0h1m3 0h1m2 0h1m5 0h1m1 0h1m0 0h1m0 0h1m1 0h1m2 0h1m0 0h1m2 0h1m0 0h1m7 0h1m0 0h1m0 0h1m3 0h1m2 0h1m2 0h1m6 0h1m0 0h1m0 0h1m2 0h1m0 0h1m5 0h1m5 0h1m7 0h1m0 0h1m3 0h1m-133 1h1m7 0h1m0 0h1m7 0h1m0 0h1m3 0h1m6 0h1m0 0h1m5 0h1m7 0h1m0 0h1m6 0h1m0 0h1m8 0h1m8 0h1m1 0h1m4 0h1m1 0h1m0 0h1m0 0h1m0 0h1m0 0h1m1 0h1m2 0h1m0 0h1m5 0h1m3 0h1m0 0h1m1 0h1m0 0h1m5 0h1m1 0h1m0 0h1m1 0h1m3 0h1m2 0h1m6 0h1m0 0h1m5 0h1m-157 1h1m6 0h1m14 0h1m11 0h1m4 0h1m3 0h1m3 0h1m9 0h1m1 0h1m0 0h1m1 0h1m14 0h1m3 0h1m2 0h1m4 0h1m2 0h1m2 0h1m0 0h1m1 0h1m4 0h1m1 0h1m2 0h1m0 0h1m2 0h1m0 0h1m1 0h1m0 0h1m1 0h1m0 0h1m0 0h1m1 0h1m0 0h1m7 0h1m4 0h1m7 0h1m-180 1h1m9 0h1m37 0h1m13 0h1m8 0h1m6 0h1m8 0h1m2 0h1m6 0h1m0 0h1m8 0h1m1 0h1m4 0h1m5 0h1m3 0h1m10 0h1m2 0h1m2 0h1m6 0h1m0 0h1m4 0h1m1 0h1m0 0h1m1 0h1m3 0h1m4 0h1m0 0h1m2 0h1m0 0h1m17 0h1m-139 1h1m8 0h1m16 0h1m6 0h1m21 0h1m1 0h1m2 0h1m6 0h1m6 0h1m0 0h1m2 0h1m2 0h1m0 0h1m4 0h1m0 0h1m2 0h1m6 0h1m3 0h1m3 0h1m0 0h1m11 0h1m1 0h1m1 0h1m12 0h1m3 0h1m-117 1h1m15 0h1m7 0h1m9 0h1m3 0h1m1 0h1m4 0h1m3 0h1m0 0h1m2 0h1m0 0h1m6 0h1m2 0h1m3 0h1m1 0h1m0 0h1m1 0h1m3 0h1m0 0h1m0 0h1m0 0h1m5 0h1m3 0h1m0 0h1m0 0h1m13 0h1m7 0h1m-120 1h1m24 0h1m2 0h1m7 0h1m2 0h1m13 0h1m0 0h1m0 0h1m7 0h1m0 0h1m2 0h1m0 0h1m3 0h1m2 0h1m9 0h1m3 0h1m2 0h1m1 0h1m1 0h1m22 0h1m-121 1h1m6 0h1m19 0h1m3 0h1m4 0h1m2 0h1m7 0h1m7 0h1m2 0h1m4 0h1m2 0h1m3 0h1m2 0h1m0 0h1m0 0h1m1 0h1m2 0h1m2 0h1m12 0h1m1 0h1m6 0h1m2 0h1m12 0h1m-195 1h1m80 0h1m16 0h1m0 0h1m4 0h1m7 0h1m8 0h1m6 0h1m3 0h1m0 0h1m3 0h1m12 0h1m7 0h1m16 0h1m2 0h1m-142 1h1m1 0h1m4 0h1m0 0h1m27 0h1m2 0h1m14 0h1m12 0h1m1 0h1m18 0h1m10 0h1m6 0h1m3 0h1m5 0h1m4 0h1m1 0h1m1 0h1m1 0h1m4 0h1m4 0h1m2 0h1m-133 1h1m6 0h1m20 0h1m14 0h1m0 0h1m7 0h1m1 0h1m0 0h1m1 0h1m13 0h1m0 0h1m8 0h1m6 0h1m2 0h1m4 0h1m1 0h1m2 0h1m2 0h1m3 0h1m2 0h1m5 0h1m11 0h1m-110 1h1m27 0h1m5 0h1m10 0h1m0 0h1m5 0h1m2 0h1m2 0h1m12 0h1m3 0h1m1 0h1m2 0h1m2 0h1m0 0h1m0 0h1m5 0h1m1 0h1m5 0h1m7 0h1m0 0h1m-90 1h1m3 0h1m4 0h1m5 0h1m20 0h1m2 0h1m1 0h1m8 0h1m5 0h1m0 0h1m4 0h1m5 0h1m4 0h1m2 0h1m3 0h1m28 0h1m-174 1h1m34 0h1m4 0h1m15 0h1m48 0h1m1 0h1m0 0h1m0 0h1m9 0h1m2 0h1m1 0h1m0 0h1m5 0h1m8 0h1m9 0h1m7 0h1m13 0h1m-125 1h1m37 0h1m3 0h1m2 0h1m3 0h1m0 0h1m8 0h1m7 0h1m5 0h1m0 0h1m14 0h1m1 0h1m1 0h1m0 0h1m8 0h1m5 0h1m-119 1h1m9 0h1m7 0h1m5 0h1m16 0h1m0 0h1m15 0h1m0 0h1m0 0h1m0 0h1m3 0h1m4 0h1m0 0h1m1 0h1m3 0h1m0 0h1m7 0h1m2 0h1m0 0h1m15 0h1m10 0h1m13 0h1m-143 1h1m2 0h1m53 0h1m16 0h1m11 0h1m2 0h1m1 0h1m13 0h1m7 0h1m5 0h1m20 0h1m0 0h1m0 0h1m-97 1h1m26 0h1m0 0h1m9 0h1m3 0h1m0 0h1m0 0h1m0 0h1m8 0h1m4 0h1m9 0h1m5 0h1m3 0h1m15 0h1m-133 1h1m50 0h1m0 0h1m19 0h1m9 0h1m0 0h1m1 0h1m2 0h1m1 0h1m0 0h1m1 0h1m1 0h1m0 0h1m5 0h1m1 0h1m4 0h1m2 0h1m11 0h1m4 0h1m3 0h1m-150 1h1m51 0h1m15 0h1m8 0h1m5 0h1m1 0h1m4 0h1m21 0h1m13 0h1m11 0h1m-106 1h1m17 0h1m11 0h1m19 0h1m27 0h1m3 0h1m7 0h1m2 0h1m-137 1h1m72 0h1m11 0h1m4 0h1m9 0h1m10 0h1m2 0h1m5 0h1m8 0h1m3 0h1m7 0h1m-46 1h1m7 0h1m13 0h1m1 0h1m10 0h1m4 0h1m1 0h1m-95 1h1m15 0h1m10 0h1m10 0h1m11 0h1m0 0h1m10 0h1m-94 1h1m10 0h1m1 0h1m15 0h1m3 0h1m32 0h1m0 0h1m17 0h1m5 0h1m-35 1h1m7 0h1m8 0h1m13 0h1m36 0h1m10 0h1m-132 1h1m8 0h1m24 0h1m3 0h1m20 0h1m4 0h1m18 0h1m8 0h1m12 0h1m3 0h1m-74 1h1m53 0h1m17 0h1m2 0h1m-92 1h1m63 0h1m29 0h1m-126 1h1m53 1h1m16 0h1m20 0h1m1 0h1m4 0h1m9 0h1m1 0h1m23 0h1" stroke="#3D57B5"/>
<path d="M1640 2095h1m-1 1h1m2 0h1m-9 1h1m1 0h1m2 0h1m1 0h1m0 0h1m0 0h1m-10 1h1m7 0h1m0 0h1m2 0h1m2 0h1m-19 1h1m0 0h1m2 0h1m1 0h1m2 0h1m0 0h1m0 0h1m1 0h1m0 0h1m2 0h1m1 0h1m-23 1h1m2 0h1m3 0h1m2 0h1m0 0h1m6 0h1m1 0h1m-19 1h1m1 0h1m1 0h1m1 0h1m0 0h1m1 0h1m0 0h1m0 0h1m2 0h1m1 0h1m0 0h1m-15 1h1m1 0h1m0 0h1m0 0h1m0 0h1m0 0h1m3 0h1m4 0h1m0 0h1m1 0h1m1 0h1m-27 1h1m1 0h1m1 0h1m0 0h1m1 0h1m0 0h1m0 0h1m0 0h1m0 0h1m0 0h1m0 0h1m0 0h1m0 0h1m0 0h1m4 0h1m3 0h1m-30 1h1m1 0h1m3 0h1m0 0h1m0 0h1m0 0h1m2 0h1m0 0h1m0 0h1m1 0h1m0 0h1m0 0h1m1 0h1m1 0h1m0 0h1m0 0h1m0 0h1m1 0h1m-28 1h1m4 0h1m2 0h1m0 0h1m0 0h1m0 0h1m0 0h1m0 0h1m2 0h1m0 0h1m1 0h1m1 0h1m0 0h1m1 0h1m0 0h1m0 0h1m0 0h1m-25 1h1m1 0h1m0 0h1m0 0h1m0 0h1m0 0h1m0 0h1m0 0h1m0 0h1m0 0h1m0 0h1m0 0h1m0 0h1m3 0h1m0 0h1m0 0h1m0 0h1m2 0h1m-30 1h1m2 0h1m0 0h1m2 0h1m1 0h1m0 0h1m1 0h1m0 0h1m1 0h1m0 0h1m0 0h1m0 0h1m0 0h1m2 0h1m0 0h1m2 0h1m0 0h1m1 0h1m0 0h1m-28 1h1m3 0h1m1 0h1m0 0h1m1 0h1m2 0h1m1 0h1m0 0h1m0 0h1m0 0h1m0 0h1m1 0h1m2 0h1m1 0h1m1 0h1m0 0h1m1 0h1m0 0h1m-36 1h1m1 0h1m0 0h1m3 0h1m0 0h1m0 0h1m0 0h1m1 0h1m3 0h1m1 0h1m0 0h1m5 0h1m0 0h1m1 0h1m0 0h1m1 0h1m1 0h1m0 0h1m-36 1h1m2 0h1m1 0h1m2 0h1m1 0h1m0 0h1m0 0h1m2 0h1m3 0h1m2 0h1m0 0h1m0 0h1m0 0h1m0 0h1m1 0h1m2 0h1m1 0h1m1 0h1m-35 1h1m0 0h1m1 0h1m0 0h1m1 0h1m1 0h1m1 0h1m0 0h1m0 0h1m0 0h1m0 0h1m0 0h1m1 0h1m5 0h1m2 0h1m1 0h1m1 0h1m0 0h1m2 0h1m-39 1h1m2 0h1m2 0h1m1 0h1m0 0h1m0 0h1m0 0h1m1 0h1m2 0h1m4 0h1m0 0h1m1 0h1m0 0h1m0 0h1m1 0h1m1 0h1m0 0h1m0 0h1m0 0h1m0 0h1m1 0h1m-35 1h1m1 0h1m0 0h1m0 0h1m0 0h1m0 0h1m1 0h1m0 0h1m0 0h1m0 0h1m2 0h1m0 0h1m2 0h1m0 0h1m4 0h1m1 0h1m1 0h1m0 0h1m0 0h1m1 0h1m0 0h1m0 0h1m1 0h1m-34 1h1m3 0h1m0 0h1m0 0h1m0 0h1m0 0h1m1 0h1m1 0h1m1 0h1m0 0h1m1 0h1m3 0h1m1 0h1m0 0h1m0 0h1m0 0h1m1 0h1m-32 1h1m0 0h1m0 0h1m1 0h1m0 0h1m1 0h1m0 0h1m2 0h1m6 0h1m0 0h1m1 0h1m0 0h1m2 0h1m0 0h1m0 0h1m1 0h1m0 0h1m1 0h1m1 0h1m-40 1h1m4 0h1m0 0h1m1 0h1m0 0h1m0 0h1m0 0h1m0 0h1m1 0h1m0 0h1m0 0h1m6 0h1m2 0h1m0 0h1m0 0h1m3 0h1m1 0h1m0 0h1m1 0h1m0 0h1m0 0h1m0 0h1m-39 1h1m2 0h1m1 0h1m1 0h1m1 0h1m1 0h1m0 0h1m0 0h1m4 0h1m4 0h1m2 0h1m0 0h1m0 0h1m0 0h1m0 0h1m1 0h1m0 0h1m0 0h1m1 0h1m0 0h1m-40 1h1m1 0h1m2 0h1m0 0h1m0 0h1m0 0h1m0 0h1m1 0h1m0 0h1m0 0h1m15 0h1m0 0h1m0 0h1m0 0h1m0 0h1m1 0h1m0 0h1m0 0h1m1 0h1m0 0h1m-45 1h1m4 0h1m0 0h1m0 0h1m0 0h1m0 0h1m2 0h1m2 0h1m2 0h1m13 0h1m6 0h1m1 0h1m1 0h1m0 0h1m-39 1h1m0 0h1m0 0h1m0 0h1m0 0h1m0 0h1m1 0h1m0 0h1m0 0h1m0 0h1m17 0h1m0 0h1m1 0h1m0 0h1m3 0h1m2 0h1m0 0h1m-45 1h1m1 0h1m0 0h1m0 0h1m0 0h1m0 0h1m1 0h1m0 0h1m1 0h1m0 0h1m0 0h1m0 0h1m12 0h1m1 0h1m4 0h1m0 0h1m0 0h1m0 0h1m0 0h1m2 0h1m0 0h1m0 0h1m-43 1h1m1 0h1m0 0h1m1 0h1m2 0h1m0 0h1m1 0h1m0 0h1m0 0h1m2 0h1m11 0h1m2 0h1m0 0h1m0 0h1m2 0h1m1 0h1m0 0h1m-42 1h1m0 0h1m1 0h1m0 0h1m2 0h1m1 0h1m1 0h1m1 0h1m16 0h1m1 0h1m2 0h1m0 0h1m1 0h1m0 0h1m1 0h1m0 0h1m0 0h1m-43 1h1m3 0h1m0 0h1m1 0h1m0 0h1m0 0h1m0 0h1m21 0h1m2 0h1m0 0h1m0 0h1m1 0h1m0 0h1m1 0h1m0 0h1m-42 1h1m0 0h1m0 0h1m0 0h1m1 0h1m0 0h1m0 0h1m0 0h1m0 0h1m19 0h1m0 0h1m0 0h1m1 0h1m1 0h1m0 0h1m0 0h1m1 0h1m1 0h1m-50 1h1m4 0h1m1 0h1m0 0h1m0 0h1m0 0h1m1 0h1m0 0h1m0 0h1m0 0h1m18 0h1m4 0h1m1 0h1m1 0h1m0 0h1m0 0h1m0 0h1m0 0h1m-44 1h1m0 0h1m0 0h1m0 0h1m0 0h1m1 0h1m3 0h1m1 0h1m0 0h1m18 0h1m0 0h1m1 0h1m0 0h1m0 0h1m5 0h1m-45 1h1m1 0h1m0 0h1m1 0h1m0 0h1m0 0h1m1 0h1m2 0h1m0 0h1m17 0h1m3 0h1m2 0h1m0 0h1m0 0h1m0 0h1m0 0h1m-48 1h1m8 0h1m1 0h1m0 0h1m0 0h1m0 0h1m1 0h1m0 0h1m23 0h1m0 0h1m0 0h1m1 0h1m0 0h1m0 0h1m-48 1h1m0 0h1m1 0h1m0 0h1m2 0h1m0 0h1m0 0h1m0 0h1m1 0h1m0 0h1m2 0h1m0 0h1m1 0h1m16 0h1m4 0h1m0 0h1m1 0h1m0 0h1m0 0h1m0 0h1m0 0h1m-50 1h1m3 0h1m1 0h1m1 0h1m0 0h1m0 0h1m0 0h1m0 0h1m1 0h1m0 0h1m0 0h1m0 0h1m18 0h1m0 0h1m0 0h1m0 0h1m0 0h1m0 0h1m0 0h1m2 0h1m0 0h1m0 0h1m0 0h1m1 0h1m-49 1h1m0 0h1m2 0h1m0 0h1m0 0h1m0 0h1m1 0h1m0 0h1m0 0h1m0 0h1m0 0h1m21 0h1m1 0h1m0 0h1m2 0h1m1 0h1m2 0h1m-46 1h1m1 0h1m0 0h1m3 0h1m2 0h1m0 0h1m0 0h1m1 0h1m0 0h1m16 0h1m3 0h1m2 0h1m0 0h1m0 0h1m0 0h1m1 0h1m-47 1h1m2 0h1m0 0h1m0 0h1m1 0h1m0 0h1m0 0h1m1 0h1m1 0h1m0 0h1m2 0h1m18 0h1m0 0h1m0 0h1m0 0h1m0 0h1m0 0h1m0 0h1m1 0h1m-41 1h1m0 0h1m0 0h1m2 0h1m1 0h1m2 0h1m19 0h1m1 0h1m1 0h1m1 0h1m0 0h1m0 0h1m0 0h1m4 0h1m-52 1h1m5 0h1m1 0h1m4 0h1m6 0h1m19 0h1m1 0h1m0 0h1m1 0h1m0 0h1m2 0h1m1 0h1m-49 1h1m2 0h1m1 0h1m1 0h1m2 0h1m0 0h1m1 0h1m0 0h1m0 0h1m17 0h1m0 0h1m3 0h1m0 0h1m1 0h1m1 0h1m2 0h1m-48 1h1m2 0h1m3 0h1m6 0h1m2 0h1m18 0h1m0 0h1m8 0h1m0 0h1m-52 1h1m0 0h1m7 0h1m2 0h1m0 0h1m2 0h1m0 0h1m0 0h1m0 0h1m19 0h1m0 0h1m1 0h1m0 0h1m0 0h1m1 0h1m0 0h1m1 0h1m-44 1h1m2 0h1m1 0h1m1 0h1m2 0h1m1 0h1m1 0h1m16 0h1m3 0h1m2 0h1m1 0h1m0 0h1m1 0h1m-49 1h1m2 0h1m0 0h1m1 0h1m1 0h1m0 0h1m2 0h1m1 0h1m0 0h1m1 0h1m1 0h1m0 0h1m1 0h1m9 0h1m1 0h1m0 0h1m2 0h1m1 0h1m1 0h1m0 0h1m0 0h1m0 0h1m1 0h1m-53 1h1m13 0h1m0 0h1m1 0h1m1 0h1m1 0h1m3 0h1m1 0h1m0 0h1m8 0h1m1 0h1m4 0h1m1 0h1m0 0h1m1 0h1m0 0h1m2 0h1m-51 1h1m2 0h1m1 0h1m0 0h1m1 0h1m0 0h1m0 0h1m0 0h1m0 0h1m0 0h1m2 0h1m6 0h1m7 0h1m3 0h1m2 0h1m0 0h1m0 0h1m0 0h1m1 0h1m0 0h1m0 0h1m1 0h1m0 0h1m2 0h1m-48 1h1m2 0h1m4 0h1m2 0h1m3 0h1m1 0h1m2 0h1m0 0h1m2 0h1m1 0h1m1 0h1m2 0h1m1 0h1m1 0h1m0 0h1m0 0h1m2 0h1m-47 1h1m1 0h1m0 0h1m3 0h1m4 0h1m0 0h1m1 0h1m1 0h1m2 0h1m1 0h1m0 0h1m1 0h1m4 0h1m1 0h1m2 0h1m0 0h1m1 0h1m0 0h1m1 0h1m1 0h1m0 0h1m0 0h1m0 0h1m0 0h1m0 0h1m0 0h1m2 0h1m-48 1h1m4 0h1m1 0h1m1 0h1m2 0h1m1 0h1m0 0h1m2 0h1m0 0h1m0 0h1m4 0h1m4 0h1m0 0h1m0 0h1m2 0h1m1 0h1m4 0h1m2 0h1m-51 1h1m3 0h1m0 0h1m2 0h1m1 0h1m0 0h1m0 0h1m2 0h1m0 0h1m1 0h1m1 0h1m2 0h1m3 0h1m3 0h1m0 0h1m1 0h1m1 0h1m0 0h1m0 0h1m0 0h1m0 0h1m0 0h1m1 0h1m1 0h1m-35 1h1m1 0h1m0 0h1m1 0h1m0 0h1m0 0h1m0 0h1m1 0h1m4 0h1m10 0h1m1 0h1m1 0h1m0 0h1m0 0h1m0 0h1m2 0h1m2 0h1m0 0h1m-45 1h1m0 0h1m1 0h1m0 0h1m1 0h1m0 0h1m1 0h1m0 0h1m1 0h1m0 0h1m0 0h1m0 0h1m0 0h1m0 0h1m0 0h1m2 0h1m3 0h1m0 0h1m3 0h1m2 0h1m1 0h1m2 0h1m0 0h1m0 0h1m0 0h1m0 0h1m-51 1h1m9 0h1m0 0h1m4 0h1m0 0h1m0 0h1m2 0h1m1 0h1m0 0h1m3 0h1m4 0h1m1 0h1m1 0h1m3 0h1m0 0h1m0 0h1m1 0h1m7 0h1m-47 1h1m4 0h1m0 0h1m0 0h1m2 0h1m0 0h1m0 0h1m0 0h1m0 0h1m0 0h1m1 0h1m0 0h1m0 0h1m4 0h1m0 0h1m3 0h1m0 0h1m2 0h1m0 0h1m0 0h1m0 0h1m0 0h1m2 0h1m0 0h1m0 0h1m1 0h1m-46 1h1m0 0h1m4 0h1m0 0h1m0 0h1m3 0h1m0 0h1m0 0h1m1 0h1m0 0h1m1 0h1m0 0h1m0 0h1m0 0h1m1 0h1m1 0h1m1 0h1m1 0h1m0 0h1m2 0h1m0 0h1m1 0h1m0 0h1m0 0h1m3 0h1m-48 1h1m4 0h1m2 0h1m2 0h1m0 0h1m0 0h1m2 0h1m0 0h1m0 0h1m0 0h1m0 0h1m1 0h1m1 0h1m0 0h1m1 0h1m0 0h1m1 0h1m3 0h1m0 0h1m0 0h1m0 0h1m0 0h1m0 0h1m0 0h1m0 0h1m0 0h1m1 0h1m2 0h1m-43 1h1m1 0h1m2 0h1m1 0h1m0 0h1m0 0h1m0 0h1m0 0h1m1 0h1m1 0h1m0 0h1m0 0h1m1 0h1m0 0h1m2 0h1m1 0h1m0 0h1m1 0h1m1 0h1m0 0h1m0 0h1m0 0h1m2 0h1m1 0h1m2 0h1m-46 1h1m2 0h1m4 0h1m0 0h1m1 0h1m0 0h1m0 0h1m2 0h1m0 0h1m0 0h1m0 0h1m1 0h1m0 0h1m0 0h1m3 0h1m0 0h1m0 0h1m0 0h1m1 0h1m0 0h1m0 0h1m2 0h1m0 0h1m4 0h1m0 0h1m-39 1h1m1 0h1m3 0h1m0 0h1m2 0h1m1 0h1m0 0h1m1 0h1m0 0h1m0 0h1m0 0h1m0 0h1m1 0h1m3 0h1m0 0h1m2 0h1m0 0h1m0 0h1m1 0h1m0 0h1m0 0h1m1 0h1m1 0h1m-40 1h1m4 0h1m0 0h1m1 0h1m0 0h1m0 0h1m0 0h1m0 0h1m0 0h1m0 0h1m2 0h1m1 0h1m0 0h1m0 0h1m0 0h1m0 0h1m0 0h1m1 0h1m0 0h1m1 0h1m0 0h1m0 0h1m1 0h1m0 0h1m0 0h1m1 0h1m0 0h1m0 0h1m-44 1h1m3 0h1m3 0h1m0 0h1m0 0h1m0 0h1m0 0h1m0 0h1m0 0h1m0 0h1m0 0h1m0 0h1m0 0h1m0 0h1m0 0h1m0 0h1m0 0h1m3 0h1m0 0h1m0 0h1m0 0h1m0 0h1m1 0h1m1 0h1m0 0h1m2 0h1m1 0h1m0 0h1m-43 1h1m1 0h1m0 0h1m0 0h1m0 0h1m1 0h1m3 0h1m2 0h1m3 0h1m0 0h1m1 0h1m2 0h1m0 0h1m0 0h1m0 0h1m0 0h1m0 0h1m0 0h1m2 0h1m0 0h1m2 0h1m1 0h1m3 0h1m-44 1h1m4 0h1m2 0h1m0 0h1m0 0h1m1 0h1m0 0h1m1 0h1m0 0h1m0 0h1m1 0h1m0 0h1m0 0h1m0 0h1m0 0h1m0 0h1m0 0h1m1 0h1m2 0h1m0 0h1m0 0h1m1 0h1m3 0h1m1 0h1m-35 1h1m0 0h1m0 0h1m2 0h1m1 0h1m2 0h1m1 0h1m0 0h1m0 0h1m0 0h1m1 0h1m1 0h1m2 0h1m0 0h1m4 0h1m1 0h1m0 0h1m-32 1h1m2 0h1m1 0h1m1 0h1m1 0h1m0 0h1m0 0h1m0 0h1m0 0h1m1 0h1m0 0h1m1 0h1m0 0h1m0 0h1m0 0h1m0 0h1m0 0h1m0 0h1m0 0h1m0 0h1m0 0h1m0 0h1m0 0h1m0 0h1m1 0h1m0 0h1m2 0h1m-41 1h1m0 0h1m0 0h1m0 0h1m1 0h1m1 0h1m3 0h1m0 0h1m0 0h1m0 0h1m0 0h1m0 0h1m0 0h1m0 0h1m0 0h1m2 0h1m0 0h1m0 0h1m0 0h1m0 0h1m0 0h1m0 0h1m1 0h1m1 0h1m0 0h1m0 0h1m0 0h1m2 0h1m0 0h1m0 0h1m-37 1h1m0 0h1m1 0h1m0 0h1m1 0h1m1 0h1m1 0h1m0 0h1m1 0h1m0 0h1m0 0h1m2 0h1m1 0h1m0 0h1m0 0h1m0 0h1m1 0h1m0 0h1m0 0h1m4 0h1m3 0h1m-35 1h1m4 0h1m1 0h1m1 0h1m0 0h1m0 0h1m0 0h1m3 0h1m1 0h1m1 0h1m1 0h1m0 0h1m0 0h1m4 0h1m-34 1h1m0 0h1m0 0h1m4 0h1m0 0h1m0 0h1m1 0h1m0 0h1m2 0h1m1 0h1m0 0h1m3 0h1m0 0h1m0 0h1m0 0h1m0 0h1m0 0h1m1 0h1m3 0h1m3 0h1m-36 1h1m3 0h1m2 0h1m0 0h1m1 0h1m0 0h1m2 0h1m0 0h1m0 0h1m0 0h1m0 0h1m0 0h1m2 0h1m1 0h1m0 0h1m0 0h1m4 0h1m-29 1h1m4 0h1m1 0h1m0 0h1m2 0h1m0 0h1m0 0h1m2 0h1m1 0h1m1 0h1m1 0h1m7 0h1m-25 1h1m0 0h1m0 0h1m1 0h1m0 0h1m2 0h1m0 0h1m0 0h1m0 0h1m1 0h1m2 0h1m0 0h1m1 0h1m0 0h1m0 0h1m1 0h1m-31 1h1m2 0h1m0 0h1m0 0h1m0 0h1m0 0h1m1 0h1m5 0h1m2 0h1m2 0h1m1 0h1m0 0h1m1 0h1m-25 1h1m2 0h1m1 0h1m7 0h1m1 0h1m5 0h1m0 0h1m1 0h1m-20 1h1m0 0h1m0 0h1m0 0h1m7 0h1m1 0h1m0 0h1m1 0h1m0 0h1m0 0h1m-15 1h1m1 0h1m1 0h1m1 0h1m1 0h1m5 0h1m-22 1h1m6 0h1m1 0h1m1 0h1m-12 1h1m12 0h1m1 0h1m3 0h1m0 0h1m-18 1h1m3 0h1m3 0h1m0 0h1m2 0h1m0 0h1m0 0h1m-9 1h1m4 0h1" stroke="#2F7FD0"/>
<path d="M1641 2103h1m-3 1h1m0 0h1m0 0h1m-4 1h1m2 0h1m1 0h1m-12 1h1m3 0h1m0 0h1m1 0h1m1 0h1m2 0h1m-10 1h1m0 0h1m1 0h1m0 0h1m0 0h1m0 0h1m1 0h1m2 0h1m1 0h1m-19 1h1m0 0h1m1 0h1m0 0h1m0 0h1m0 0h1m1 0h1m0 0h1m0 0h1m1 0h1m0 0h1m1 0h1m3 0h1m-22 1h1m0 0h1m2 0h1m1 0h1m0 0h1m0 0h1m0 0h1m4 0h1m0 0h1m0 0h1m0 0h1m0 0h1m-19 1h1m1 0h1m0 0h1m1 0h1m1 0h1m1 0h1m1 0h1m4 0h1m1 0h1m1 0h1m-20 1h1m0 0h1m0 0h1m1 0h1m0 0h1m2 0h1m1 0h1m3 0h1m1 0h1m0 0h1m2 0h1m-26 1h1m2 0h1m0 0h1m1 0h1m1 0h1m0 0h1m0 0h1m1 0h1m2 0h1m0 0h1m0 0h1m0 0h1m2 0h1m2 0h1m0 0h1m-25 1h1m1 0h1m0 0h1m1 0h1m0 0h1m2 0h1m0 0h1m0 0h1m1 0h1m0 0h1m1 0h1m0 0h1m1 0h1m0 0h1m1 0h1m0 0h1m-23 1h1m0 0h1m0 0h1m0 0h1m0 0h1m0 0h1m1 0h1m1 0h1m1 0h1m0 0h1m0 0h1m6 0h1m1 0h1m-28 1h1m5 0h1m0 0h1m0 0h1m2 0h1m1 0h1m1 0h1m0 0h1m0 0h1m1 0h1m0 0h1m0 0h1m0 0h1m0 0h1m0 0h1m0 0h1m0 0h1m1 0h1m-23 1h1m0 0h1m3 0h1m1 0h1m0 0h1m6 0h1m2 0h1m0 0h1m2 0h1m0 0h1m-29 1h1m1 0h1m0 0h1m0 0h1m0 0h1m3 0h1m0 0h1m0 0h1m0 0h1m0 0h1m0 0h1m0 0h1m1 0h1m0 0h1m2 0h1m0 0h1m2 0h1m-28 1h1m0 0h1m0 0h1m0 0h1m0 0h1m0 0h1m2 0h1m0 0h1m1 0h1m0 0h1m0 0h1m0 0h1m2 0h1m0 0h1m0 0h1m1 0h1m1 0h1m0 0h1m0 0h1m0 0h1m-27 1h1m1 0h1m1 0h1m0 0h1m0 0h1m4 0h1m0 0h1m0 0h1m0 0h1m2 0h1m1 0h1m2 0h1m0 0h1m0 0h1m3 0h1m0 0h1m-32 1h1m3 0h1m3 0h1m2 0h1m0 0h1m1 0h1m1 0h1m1 0h1m0 0h1m0 0h1m0 0h1m0 0h1m1 0h1m1 0h1m0 0h1m0 0h1m0 0h1m0 0h1m-28 1h1m1 0h1m0 0h1m0 0h1m0 0h1m0 0h1m0 0h1m2 0h1m1 0h1m0 0h1m1 0h1m0 0h1m1 0h1m4 0h1m1 0h1m0 0h1m-25 1h1m2 0h1m0 0h1m0 0h1m0 0h1m2 0h1m0 0h1m1 0h1m0 0h1m3 0h1m0 0h1m1 0h1m0 0h1m0 0h1m0 0h1m-32 1h1m5 0h1m0 0h1m0 0h1m0 0h1m0 0h1m0 0h1m2 0h1m0 0h1m0 0h1m1 0h1m2 0h1m1 0h1m1 0h1m0 0h1m0 0h1m0 0h1m1 0h1m0 0h1m0 0h1m0 0h1m-33 1h1m1 0h1m0 0h1m2 0h1m1 0h1m0 0h1m0 0h1m0 0h1m4 0h1m3 0h1m1 0h1m1 0h1m1 0h1m2 0h1m1 0h1m0 0h1m-29 1h1m1 0h1m0 0h1m0 0h1m0 0h1m1 0h1m0 0h1m1 0h1m0 0h1m0 0h1m2 0h1m1 0h1m0 0h1m1 0h1m1 0h1m3 0h1m0 0h1m-32 1h1m0 0h1m1 0h1m0 0h1m1 0h1m0 0h1m0 0h1m2 0h1m2 0h1m1 0h1m0 0h1m1 0h1m1 0h1m1 0h1m2 0h1m0 0h1m0 0h1m0 0h1m-27 1h1m0 0h1m0 0h1m0 0h1m1 0h1m0 0h1m0 0h1m1 0h1m2 0h1m0 0h1m2 0h1m2 0h1m2 0h1m0 0h1m1 0h1m0 0h1m-28 1h1m0 0h1m0 0h1m0 0h1m0 0h1m0 0h1m0 0h1m1 0h1m2 0h1m3 0h1m1 0h1m2 0h1m0 0h1m4 0h1m1 0h1m-32 1h1m1 0h1m3 0h1m8 0h1m1 0h1m0 0h1m2 0h1m0 0h1m1 0h1m0 0h1m3 0h1m-33 1h1m3 0h1m1 0h1m1 0h1m3 0h1m0 0h1m2 0h1m1 0h1m0 0h1m0 0h1m0 0h1m0 0h1m4 0h1m0 0h1m3 0h1m1 0h1m-33 1h1m1 0h1m1 0h1m0 0h1m2 0h1m3 0h1m1 0h1m0 0h1m0 0h1m0 0h1m0 0h1m0 0h1m1 0h1m1 0h1m0 0h1m0 0h1m0 0h1m0 0h1m3 0h1m-32 1h1m0 0h1m0 0h1m0 0h1m0 0h1m0 0h1m2 0h1m2 0h1m0 0h1m0 0h1m1 0h1m5 0h1m0 0h1m2 0h1m0 0h1m1 0h1m-33 1h1m0 0h1m3 0h1m1 0h1m1 0h1m0 0h1m3 0h1m1 0h1m1 0h1m0 0h1m1 0h1m0 0h1m2 0h1m2 0h1m2 0h1m0 0h1m1 0h1m-28 1h1m0 0h1m0 0h1m0 0h1m0 0h1m0 0h1m0 0h1m0 0h1m0 0h1m0 0h1m0 0h1m1 0h1m2 0h1m0 0h1m0 0h1m0 0h1m0 0h1m1 0h1m0 0h1m0 0h1m0 0h1m1 0h1m-29 1h1m2 0h1m0 0h1m1 0h1m0 0h1m0 0h1m0 0h1m0 0h1m0 0h1m0 0h1m6 0h1m2 0h1m0 0h1m1 0h1m0 0h1m0 0h1m0 0h1m0 0h1m0 0h1m-35 1h1m2 0h1m1 0h1m0 0h1m1 0h1m0 0h1m2 0h1m0 0h1m1 0h1m0 0h1m3 0h1m0 0h1m1 0h1m0 0h1m0 0h1m5 0h1m0 0h1m-34 1h1m1 0h1m1 0h1m2 0h1m0 0h1m3 0h1m0 0h1m0 0h1m0 0h1m1 0h1m0 0h1m1 0h1m0 0h1m0 0h1m0 0h1m2 0h1m0 0h1m0 0h1m0 0h1m-26 1h1m0 0h1m0 0h1m0 0h1m3 0h1m0 0h1m1 0h1m1 0h1m1 0h1m0 0h1m0 0h1m1 0h1m0 0h1m0 0h1m2 0h1m0 0h1m1 0h1m1 0h1m0 0h1m-32 1h1m3 0h1m0 0h1m6 0h1m3 0h1m1 0h1m0 0h1m0 0h1m0 0h1m0 0h1m1 0h1m0 0h1m1 0h1m0 0h1m0 0h1m0 0h1m0 0h1m-32 1h1m1 0h1m0 0h1m1 0h1m0 0h1m0 0h1m0 0h1m0 0h1m0 0h1m2 0h1m0 0h1m1 0h1m1 0h1m2 0h1m1 0h1m0 0h1m0 0h1m0 0h1m1 0h1m3 0h1m-37 1h1m4 0h1m0 0h1m0 0h1m1 0h1m1 0h1m0 0h1m0 0h1m0 0h1m0 0h1m0 0h1m0 0h1m0 0h1m0 0h1m1 0h1m2 0h1m0 0h1m2 0h1m0 0h1m0 0h1m3 0h1m-32 1h1m0 0h1m1 0h1m1 0h1m0 0h1m0 0h1m0 0h1m1 0h1m0 0h1m5 0h1m0 0h1m0 0h1m0 0h1m0 0h1m0 0h1m0 0h1m0 0h1m0 0h1m0 0h1m0 0h1m0 0h1m1 0h1m0 0h1m-31 1h1m0 0h1m1 0h1m0 0h1m0 0h1m0 0h1m0 0h1m0 0h1m1 0h1m2 0h1m0 0h1m1 0h1m0 0h1m0 0h1m1 0h1m0 0h1m0 0h1m0 0h1m0 0h1m1 0h1m1 0h1m0 0h1m-29 1h1m0 0h1m0 0h1m0 0h1m0 0h1m0 0h1m1 0h1m0 0h1m0 0h1m0 0h1m0 0h1m0 0h1m0 0h1m0 0h1m0 0h1m0 0h1m1 0h1m2 0h1m0 0h1m0 0h1m0 0h1m0 0h1m-29 1h1m0 0h1m2 0h1m0 0h1m0 0h1m0 0h1m1 0h1m2 0h1m0 0h1m0 0h1m0 0h1m0 0h1m0 0h1m1 0h1m2 0h1m0 0h1m0 0h1m1 0h1m1 0h1m0 0h1m1 0h1m-29 1h1m0 0h1m1 0h1m0 0h1m0 0h1m1 0h1m3 0h1m2 0h1m4 0h1m0 0h1m1 0h1m1 0h1m1 0h1m-32 1h1m2 0h1m0 0h1m0 0h1m0 0h1m0 0h1m2 0h1m0 0h1m0 0h1m0 0h1m0 0h1m1 0h1m0 0h1m0 0h1m0 0h1m0 0h1m0 0h1m0 0h1m1 0h1m1 0h1m0 0h1m0 0h1m1 0h1m-28 1h1m0 0h1m0 0h1m1 0h1m0 0h1m1 0h1m1 0h1m2 0h1m0 0h1m2 0h1m0 0h1m0 0h1m0 0h1m1 0h1m0 0h1m0 0h1m0 0h1m0 0h1m3 0h1m-31 1h1m0 0h1m0 0h1m1 0h1m0 0h1m0 0h1m1 0h1m0 0h1m0 0h1m4 0h1m0 0h1m1 0h1m1 0h1m0 0h1m3 0h1m-28 1h1m0 0h1m0 0h1m0 0h1m1 0h1m0 0h1m1 0h1m1 0h1m0 0h1m1 0h1m0 0h1m0 0h1m0 0h1m3 0h1m1 0h1m0 0h1m0 0h1m4 0h1m-28 1h1m1 0h1m2 0h1m0 0h1m1 0h1m0 0h1m1 0h1m0 0h1m0 0h1m0 0h1m1 0h1m0 0h1m1 0h1m0 0h1m0 0h1m1 0h1m1 0h1m-25 1h1m0 0h1m0 0h1m0 0h1m1 0h1m0 0h1m1 0h1m0 0h1m0 0h1m3 0h1m2 0h1m0 0h1m1 0h1m3 0h1m0 0h1m0 0h1m-27 1h1m3 0h1m1 0h1m1 0h1m0 0h1m1 0h1m0 0h1m0 0h1m1 0h1m0 0h1m1 0h1m0 0h1m1 0h1m0 0h1m0 0h1m-26 1h1m1 0h1m1 0h1m0 0h1m0 0h1m0 0h1m1 0h1m0 0h1m0 0h1m0 0h1m0 0h1m0 0h1m0 0h1m1 0h1m2 0h1m1 0h1m1 0h1m-20 1h1m0 0h1m3 0h1m2 0h1m1 0h1m2 0h1m0 0h1m0 0h1m-21 1h1m0 0h1m2 0h1m4 0h1m0 0h1m3 0h1m1 0h1m0 0h1m1 0h1m0 0h1m0 0h1m0 0h1m0 0h1m-22 1h1m3 0h1m0 0h1m1 0h1m0 0h1m1 0h1m0 0h1m0 0h1m2 0h1m-17 1h1m2 0h1m1 0h1m1 0h1m4 0h1m1 0h1m1 0h1m0 0h1m-9 1h1m0 0h1m0 0h1m4 0h1m1 0h1m1 0h1m-18 1h1m0 0h1m1 0h1m0 0h1m0 0h1m0 0h1m1 0h1m2 0h1m0 0h1m4 0h1m-16 1h1m3 0h1m0 0h1m0 0h1m0 0h1m5 0h1m-14 1h1m1 0h1m0 0h1m0 1h1m1 0h1m-5 1h1m3 0h1m3 0h1m0 1h1" stroke="#27B3D0"/>
<path d="M1640 2108h1m-4 2h1m1 0h1m3 0h1m-11 1h1m2 0h1m0 0h1m0 0h1m1 0h1m-11 1h1m1 0h1m1 0h1m2 0h1m1 0h1m2 0h1m1 0h1m-15 1h1m0 0h1m2 0h1m0 0h1m0 0h1m0 0h1m0 0h1m0 0h1m1 0h1m0 0h1m0 0h1m-15 1h1m1 0h1m0 0h1m0 0h1m1 0h1m1 0h1m0 0h1m1 0h1m1 0h1m0 0h1m-17 1h1m0 0h1m0 0h1m0 0h1m0 0h1m0 0h1m1 0h1m0 0h1m0 0h1m0 0h1m0 0h1m1 0h1m2 0h1m-16 1h1m2 0h1m0 0h1m0 0h1m0 0h1m0 0h1m0 0h1m0 0h1m0 0h1m0 0h1m1 0h1m1 0h1m0 0h1m0 0h1m-19 1h1m0 0h1m2 0h1m1 0h1m0 0h1m0 0h1m0 0h1m0 0h1m0 0h1m0 0h1m5 0h1m-21 1h1m0 0h1m1 0h1m0 0h1m0 0h1m0 0h1m0 0h1m0 0h1m0 0h1m0 0h1m0 0h1m0 0h1m0 0h1m1 0h1m0 0h1m2 0h1m-19 1h1m1 0h1m0 0h1m0 0h1m0 0h1m1 0h1m0 0h1m0 0h1m0 0h1m1 0h1m0 0h1m0 0h1m0 0h1m0 0h1m1 0h1m0 0h1m-18 1h1m0 0h1m0 0h1m0 0h1m0 0h1m0 0h1m0 0h1m0 0h1m0 0h1m0 0h1m0 0h1m0 0h1m1 0h1m1 0h1m1 0h1m-22 1h1m2 0h1m1 0h1m0 0h1m0 0h1m0 0h1m0 0h1m0 0h1m0 0h1m0 0h1m1 0h1m1 0h1m-18 1h1m1 0h1m1 0h1m1 0h1m3 0h1m0 0h1m0 0h1m0 0h1m0 0h1m0 0h1m0 0h1m0 0h1m0 0h1m0 0h1m0 0h1m-23 1h1m1 0h1m1 0h1m0 0h1m0 0h1m0 0h1m0 0h1m0 0h1m0 0h1m0 0h1m0 0h1m0 0h1m0 0h1m1 0h1m0 0h1m0 0h1m0 0h1m0 0h1m0 0h1m-23 1h1m0 0h1m0 0h1m0 0h1m0 0h1m1 0h1m0 0h1m0 0h1m1 0h1m0 0h1m0 0h1m0 0h1m0 0h1m0 0h1m0 0h1m0 0h1m0 0h1m0 0h1m0 0h1m2 0h1m0 0h1m-21 1h1m0 0h1m0 0h1m1 0h1m0 0h1m0 0h1m0 0h1m0 0h1m0 0h1m0 0h1m0 0h1m0 0h1m0 0h1m0 0h1m0 0h1m0 0h1m0 0h1m0 0h1m0 0h1m-23 1h1m1 0h1m1 0h1m0 0h1m0 0h1m0 0h1m0 0h1m0 0h1m0 0h1m0 0h1m0 0h1m0 0h1m0 0h1m0 0h1m1 0h1m1 0h1m0 0h1m0 0h1m0 0h1m0 0h1m-24 1h1m3 0h1m0 0h1m0 0h1m0 0h1m0 0h1m0 0h1m0 0h1m0 0h1m0 0h1m0 0h1m0 0h1m0 0h1m0 0h1m0 0h1m0 0h1m2 0h1m0 0h1m-27 1h1m2 0h1m0 0h1m0 0h1m0 0h1m0 0h1m0 0h1m1 0h1m0 0h1m0 0h1m0 0h1m0 0h1m0 0h1m0 0h1m0 0h1m0 0h1m0 0h1m0 0h1m0 0h1m0 0h1m0 0h1m0 0h1m0 0h1m0 0h1m-24 1h1m1 0h1m0 0h1m0 0h1m0 0h1m0 0h1m0 0h1m0 0h1m0 0h1m0 0h1m0 0h1m0 0h1m0 0h1m0 0h1m0 0h1m0 0h1m0 0h1m0 0h1m0 0h1m0 0h1m0 0h1m0 0h1m-23 1h1m0 0h1m0 0h1m2 0h1m0 0h1m0 0h1m1 0h1m0 0h1m0 0h1m0 0h1m0 0h1m0 0h1m1 0h1m0 0h1m0 0h1m0 0h1m0 0h1m0 0h1m-23 1h1m1 0h1m0 0h1m0 0h1m0 0h1m0 0h1m0 0h1m0 0h1m0 0h1m1 0h1m0 0h1m0 0h1m0 0h1m0 0h1m0 0h1m0 0h1m0 0h1m0 0h1m0 0h1m1 0h1m-25 1h1m0 0h1m0 0h1m0 0h1m0 0h1m0 0h1m0 0h1m0 0h1m0 0h1m1 0h1m0 0h1m0 0h1m0 0h1m0 0h1m0 0h1m0 0h1m0 0h1m0 0h1m0 0h1m1 0h1m0 0h1m0 0h1m0 0h1m0 0h1m-22 1h1m1 0h1m0 0h1m0 0h1m0 0h1m0 0h1m0 0h1m0 0h1m0 0h1m0 0h1m0 0h1m0 0h1m0 0h1m0 0h1m0 0h1m0 0h1m0 0h1m2 0h1m-23 1h1m0 0h1m0 0h1m0 0h1m1 0h1m0 0h1m0 0h1m0 0h1m0 0h1m0 0h1m0 0h1m0 0h1m0 0h1m0 0h1m0 0h1m0 0h1m0 0h1m2 0h1m1 0h1m-27 1h1m2 0h1m0 0h1m0 0h1m1 0h1m0 0h1m0 0h1m0 0h1m0 0h1m0 0h1m0 0h1m0 0h1m0 0h1m0 0h1m0 0h1m0 0h1m0 0h1m0 0h1m0 0h1m0 0h1m0 0h1m0 0h1m0 0h1m-21 1h1m0 0h1m1 0h1m0 0h1m0 0h1m0 0h1m0 0h1m0 0h1m1 0h1m0 0h1m0 0h1m0 0h1m0 0h1m0 0h1m0 0h1m1 0h1m1 0h1m0 0h1m-26 1h1m2 0h1m0 0h1m1 0h1m0 0h1m1 0h1m1 0h1m0 0h1m0 0h1m0 0h1m0 0h1m1 0h1m0 0h1m0 0h1m0 0h1m0 0h1m-22 1h1m0 0h1m0 0h1m1 0h1m0 0h1m1 0h1m0 0h1m1 0h1m0 0h1m0 0h1m0 0h1m0 0h1m0 0h1m0 0h1m0 0h1m0 0h1m2 0h1m0 0h1m0 0h1m-21 1h1m0 0h1m0 0h1m0 0h1m0 0h1m0 0h1m0 0h1m0 0h1m0 0h1m0 0h1m0 0h1m1 0h1m1 0h1m0 0h1m0 0h1m4 0h1m-24 1h1m0 0h1m0 0h1m0 0h1m0 0h1m1 0h1m0 0h1m0 0h1m0 0h1m0 0h1m0 0h1m0 0h1m0 0h1m0 0h1m0 0h1m2 0h1m0 0h1m0 0h1m-23 1h1m0 0h1m1 0h1m0 0h1m0 0h1m0 0h1m0 0h1m1 0h1m0 0h1m0 0h1m0 0h1m2 0h1m1 0h1m0 0h1m0 0h1m0 0h1m1 0h1m0 0h1m-24 1h1m1 0h1m0 0h1m1 0h1m1 0h1m0 0h1m0 0h1m0 0h1m1 0h1m1 0h1m0 0h1m0 0h1m0 0h1m0 0h1m0 0h1m0 0h1m0 0h1m0 0h1m-19 1h1m0 0h1m2 0h1m0 0h1m0 0h1m0 0h1m0 0h1m0 0h1m0 0h1m0 0h1m0 0h1m0 0h1m0 0h1m0 0h1m0 0h1m0 0h1m-21 1h1m0 0h1m0 0h1m1 0h1m1 0h1m0 0h1m0 0h1m0 0h1m0 0h1m0 0h1m0 0h1m0 0h1m0 0h1m0 0h1m0 0h1m0 0h1m-20 1h1m1 0h1m1 0h1m0 0h1m0 0h1m1 0h1m0 0h1m0 0h1m1 0h1m1 0h1m0 0h1m0 0h1m2 0h1m1 0h1m-22 1h1m1 0h1m3 0h1m0 0h1m0 0h1m0 0h1m1 0h1m0 0h1m0 0h1m0 0h1m2 0h1m1 0h1m0 0h1m-15 1h1m0 0h1m0 0h1m0 0h1m0 0h1m1 0h1m2 0h1m2 0h1m1 0h1m-16 1h1m1 0h1m1 0h1m1 0h1m1 0h1m0 0h1m0 0h1m2 0h1m-17 1h1m4 0h1m2 0h1m1 0h1m0 0h1m0 0h1m2 0h1m-15 1h1m0 0h1m2 0h1m2 0h1m1 0h1m-12 1h1m0 0h1m0 0h1m1 0h1m4 0h1m0 0h1m4 0h1m-14 1h1m2 0h1m0 0h1m0 0h1m-7 1h1m6 0h1m-6 1h1m3 0h1m1 0h1m-6 1h1m3 0h1" stroke="#4DBE5B"/>
</g>
<path d="M1500 2216.6H1665" stroke="#3D57B5" stroke-width="1" opacity=".6"/><path d="M1600 2216.6H1650" stroke="#4DBE5B" stroke-width="1.2" opacity=".7"/>
</g>
<rect x="1438.5" y="1985.5" width="231.0" height="232.0" fill="none" stroke="#3a3a3a" stroke-width="1"/>
<path d="M1450.3 1985.5V2098.5H1662.6V1985.5" stroke="#000" stroke-width="1.7" fill="none" stroke-linejoin="miter" stroke-linecap="butt"/>
<text x="1650.8" y="2011.3" font-size="26.8" fill="#EE3B3A" text-anchor="end">CAF-1 OFF</text>
<text x="1461.8" y="2089.3" font-size="26.8" fill="#231F20" text-anchor="start">1.99%</text>
<g clip-path="url(#g3)" stroke-width="1" fill="none"><g transform="translate(0,.5)">
<path d="M1601 2230h1m18 0h1m5 0h1m9 0h1m7 0h1m2 0h1m1 0h1m-15 1h1m-19 1h1m3 0h1m21 0h1m-22 1h1m4 1h1m12 0h1m-22 1h1m13 0h1m-25 1h1m6 0h1m4 0h1m1 0h1m5 0h1m1 0h1m0 0h1m3 0h1m0 0h1m1 0h1m-59 1h1m28 0h1m5 0h1m0 0h1m0 0h1m2 0h1m1 0h1m2 0h1m3 0h1m15 0h1m0 0h1m-43 1h1m20 0h1m6 0h1m1 0h1m-32 1h1m17 0h1m4 0h1m0 0h1m2 0h1m0 0h1m5 0h1m6 0h1m0 0h1m-37 1h1m6 0h1m7 0h1m19 0h1m-35 1h1m3 0h1m2 0h1m0 0h1m2 0h1m2 0h1m2 0h1m5 0h1m8 0h1m-23 1h1m11 0h1m2 0h1m0 0h1m-19 1h1m1 0h1m7 0h1m4 0h1m2 0h1m0 0h1m-12 1h1m1 0h1m2 0h1m0 0h1m0 0h1m1 0h1m1 0h1m6 0h1m-38 1h1m9 0h1m0 0h1m3 0h1m0 0h1m2 0h1m0 0h1m1 0h1m-15 1h1m2 0h1m2 0h1m3 0h1m0 0h1m2 0h1m3 0h1m-28 1h1m11 0h1m1 0h1m7 0h1m3 0h1m14 0h1m-51 1h1m15 0h1m3 0h1m4 0h1m8 0h1m4 0h1m0 0h1m5 0h1m-134 1h1m93 0h1m0 0h1m2 0h1m2 0h1m1 0h1m6 0h1m1 0h1m0 0h1m0 0h1m2 0h1m2 0h1m1 0h1m2 0h1m11 0h1m-32 1h1m0 0h1m4 0h1m1 0h1m5 0h1m9 0h1m0 0h1m0 0h1m2 0h1m-32 1h1m7 0h1m4 0h1m4 0h1m0 0h1m0 0h1m3 0h1m0 0h1m2 0h1m-35 1h1m4 0h1m2 0h1m4 0h1m4 0h1m2 0h1m2 0h1m8 0h1m0 0h1m-28 1h1m2 0h1m6 0h1m3 0h1m3 0h1m4 0h1m5 0h1m-38 1h1m5 0h1m0 0h1m9 0h1m3 0h1m0 0h1m0 0h1m-28 1h1m10 0h1m6 0h1m0 0h1m9 0h1m5 0h1m0 0h1m7 0h1m7 0h1m-109 1h1m57 0h1m0 0h1m2 0h1m7 0h1m0 0h1m6 0h1m7 0h1m5 0h1m1 0h1m2 0h1m-30 1h1m16 0h1m6 0h1m2 0h1m-110 1h1m67 0h1m14 0h1m7 0h1m3 0h1m2 0h1m1 0h1m6 0h1m-102 1h1m25 0h1m40 0h1m6 0h1m0 0h1m0 0h1m5 0h1m13 0h1m-25 1h1m3 0h1m3 0h1m7 0h1m0 0h1m3 0h1m3 0h1m0 0h1m4 0h1m-33 1h1m0 0h1m0 0h1m2 0h1m1 0h1m1 0h1m3 0h1m9 0h1m6 0h1m2 0h1m-46 1h1m5 0h1m5 0h1m2 0h1m3 0h1m1 0h1m14 0h1m0 0h1m0 0h1m1 0h1m-57 1h1m26 0h1m1 0h1m1 0h1m0 0h1m0 0h1m0 0h1m0 0h1m2 0h1m12 0h1m5 0h1m1 0h1m3 0h1m0 0h1m1 0h1m-43 1h1m0 0h1m3 0h1m3 0h1m21 0h1m1 0h1m-31 1h1m11 0h1m7 0h1m0 0h1m6 0h1m0 0h1m0 0h1m6 0h1m3 0h1m3 0h1m-56 1h1m0 0h1m8 0h1m1 0h1m0 0h1m0 0h1m0 0h1m13 0h1m1 0h1m1 0h1m0 0h1m6 0h1m-26 1h1m16 0h1m2 0h1m2 0h1m9 0h1m-45 1h1m13 0h1m3 0h1m2 0h1m1 0h1m9 0h1m0 0h1m1 0h1m1 0h1m0 0h1m-89 1h1m56 0h1m0 0h1m7 0h1m15 0h1m0 0h1m0 0h1m6 0h1m-45 1h1m3 0h1m4 0h1m25 0h1m3 0h1m1 0h1m9 0h1m-117 1h1m71 0h1m1 0h1m1 0h1m21 0h1m3 0h1m2 0h1m1 0h1m-42 1h1m10 0h1m24 0h1m0 0h1m1 0h1m2 0h1m-117 1h1m57 0h1m21 0h1m1 0h1m2 0h1m4 0h1m10 0h1m2 0h1m2 0h1m5 0h1m0 0h1m-28 1h1m0 0h1m20 0h1m2 0h1m3 0h1m0 0h1m-74 1h1m31 0h1m4 0h1m2 0h1m26 0h1m4 0h1m1 0h1m-42 1h1m6 0h1m20 0h1m10 0h1m4 0h1m-45 1h1m2 0h1m27 0h1m0 0h1m3 0h1m2 0h1m-78 1h1m34 0h1m2 0h1m3 0h1m3 0h1m21 0h1m-31 1h1m4 0h1m6 0h1m22 0h1m1 0h1m0 0h1m-115 1h1m68 0h1m10 0h1m7 0h1m17 0h1m2 0h1m4 0h1m0 0h1m2 0h1m-76 1h1m1 0h1m21 0h1m7 0h1m11 0h1m17 0h1m2 0h1m0 0h1m0 0h1m12 0h1m-58 1h1m3 0h1m4 0h1m6 0h1m26 0h1m0 0h1m-135 1h1m94 0h1m2 0h1m5 0h1m0 0h1m25 0h1m1 0h1m2 0h1m2 0h1m10 0h1m-58 1h1m15 0h1m36 0h1m-159 1h1m42 0h1m22 0h1m3 0h1m45 0h1m3 0h1m24 0h1m-138 1h1m12 0h1m85 0h1m0 0h1m4 0h1m0 0h1m4 0h1m27 0h1m1 0h1m1 0h1m0 0h1m-145 1h1m103 0h1m0 0h1m2 0h1m29 0h1m1 0h1m13 0h1m-56 1h1m1 0h1m1 0h1m7 0h1m24 0h1m2 0h1m3 0h1m0 0h1m1 0h1m-148 1h1m3 0h1m59 0h1m9 0h1m62 0h1m0 0h1m0 0h1m2 0h1m0 0h1m10 0h1m-162 1h1m14 0h1m4 0h1m81 0h1m10 0h1m2 0h1m0 0h1m0 0h1m0 0h1m0 0h1m22 0h1m9 0h1m-102 1h1m57 0h1m0 0h1m1 0h1m0 0h1m1 0h1m1 0h1m25 0h1m2 0h1m3 0h1m-150 1h1m7 0h1m2 0h1m2 0h1m92 0h1m5 0h1m27 0h1m0 0h1m1 0h1m0 0h1m4 0h1m-39 1h1m2 0h1m31 0h1m-145 1h1m10 0h1m76 0h1m10 0h1m6 0h1m2 0h1m0 0h1m0 0h1m1 0h1m0 0h1m28 0h1m5 0h1m-136 1h1m48 0h1m2 0h1m40 0h1m5 0h1m29 0h1m0 0h1m8 0h1m-157 1h1m0 0h1m37 0h1m43 0h1m22 0h1m3 0h1m3 0h1m1 0h1m32 0h1m-156 1h1m2 0h1m36 0h1m71 0h1m0 0h1m4 0h1m4 0h1m22 0h1m4 0h1m4 0h1m5 0h1m-47 1h1m1 0h1m0 0h1m1 0h1m34 0h1m-98 1h1m8 0h1m46 0h1m1 0h1m35 0h1m2 0h1m-143 1h1m28 0h1m13 0h1m64 0h1m28 0h1m1 0h1m12 0h1m-163 1h1m69 0h1m30 0h1m5 0h1m4 0h1m7 0h1m27 0h1m-35 1h1m1 0h1m1 0h1m24 0h1m2 0h1m0 0h1m10 0h1m-48 1h1m2 0h1m1 0h1m0 0h1m0 0h1m45 0h1m-134 1h1m48 0h1m26 0h1m5 0h1m0 0h1m2 0h1m27 0h1m9 0h1m2 0h1m-114 1h1m63 0h1m2 0h1m0 0h1m0 0h1m0 0h1m0 0h1m3 0h1m22 0h1m2 0h1m1 0h1m2 0h1m4 0h1m5 0h1m-60 1h1m2 0h1m0 0h1m0 0h1m2 0h1m10 0h1m24 0h1m1 0h1m8 0h1m-52 1h1m6 0h1m0 0h1m1 0h1m29 0h1m4 0h1m-126 1h1m48 0h1m27 0h1m4 0h1m6 0h1m32 0h1m5 0h1m-166 1h1m53 0h1m66 0h1m1 0h1m35 0h1m5 0h1m-81 1h1m27 0h1m4 0h1m3 0h1m1 0h1m1 0h1m1 0h1m28 0h1m0 0h1m0 0h1m-38 1h1m6 0h1m-11 1h1m6 0h1m26 0h1m4 0h1m1 0h1m0 0h1m-118 1h1m39 0h1m36 0h1m1 0h1m1 0h1m1 0h1m25 0h1m6 0h1m8 0h1m-120 1h1m0 0h1m47 0h1m21 0h1m1 0h1m0 0h1m1 0h1m31 0h1m3 0h1m-63 1h1m17 0h1m0 0h1m8 0h1m35 0h1m2 0h1m-108 1h1m31 0h1m20 0h1m7 0h1m46 0h1m-71 1h1m28 0h1m28 0h1m0 0h1m6 0h1m-146 1h1m1 0h1m89 0h1m5 0h1m4 0h1m3 0h1m0 0h1m2 0h1m0 0h1m34 0h1m0 0h1m-52 1h1m4 0h1m1 0h1m0 0h1m29 0h1m0 0h1m0 0h1m3 0h1m0 0h1m3 0h1m-139 1h1m89 0h1m6 0h1m5 0h1m28 0h1m-41 1h1m5 0h1m0 0h1m0 0h1m32 0h1m3 0h1m-54 1h1m5 0h1m8 0h1m3 0h1m25 0h1m3 0h1m-52 1h1m12 0h1m9 0h1m23 0h1m1 0h1m1 0h1m5 0h1m-58 1h1m3 0h1m2 0h1m7 0h1m36 0h1m2 0h1m-81 1h1m20 0h1m14 0h1m1 0h1m6 0h1m1 0h1m25 0h1m5 0h1m-85 1h1m14 0h1m2 0h1m25 0h1m0 0h1m0 0h1m3 0h1m0 0h1m24 0h1m0 0h1m4 0h1m3 0h1m2 0h1m0 0h1m0 0h1m-78 1h1m13 0h1m0 0h1m9 0h1m4 0h1m0 0h1m30 0h1m0 0h1m7 0h1m0 0h1m1 0h1m-79 1h1m21 0h1m7 0h1m3 0h1m0 0h1m1 0h1m1 0h1m28 0h1m0 0h1m2 0h1m0 0h1m-75 1h1m15 0h1m0 0h1m11 0h1m7 0h1m1 0h1m31 0h1m6 0h1m2 0h1m-99 1h1m11 0h1m14 0h1m5 0h1m15 0h1m46 0h1m0 0h1m-119 1h1m57 0h1m7 0h1m4 0h1m1 0h1m3 0h1m26 0h1m5 0h1m2 0h1m-67 1h1m21 0h1m4 0h1m42 0h1m-48 1h1m4 0h1m1 0h1m30 0h1m1 0h1m0 0h1m-62 1h1m0 0h1m14 0h1m1 0h1m4 0h1m33 0h1m4 0h1m2 0h1m-52 1h1m12 0h1m35 0h1m-77 1h1m11 0h1m0 0h1m3 0h1m5 0h1m6 0h1m2 0h1m1 0h1m0 0h1m30 0h1m1 0h1m1 0h1m0 0h1m1 0h1m9 0h1m3 0h1m-89 1h1m20 0h1m5 0h1m1 0h1m4 0h1m34 0h1m7 0h1m-88 1h1m87 0h1m0 0h1m1 0h1m-83 1h1m9 0h1m16 0h1m3 0h1m0 0h1m38 0h1m0 0h1m4 0h1m4 0h1m-69 1h1m14 0h1m2 0h1m36 0h1m2 0h1m2 0h1m9 0h1m-128 1h1m23 0h1m27 0h1m4 0h1m7 0h1m3 0h1m2 0h1m0 0h1m0 0h1m0 0h1m2 0h1m2 0h1m0 0h1m34 0h1m4 0h1m-70 1h1m3 0h1m20 0h1m36 0h1m0 0h1m10 0h1m-131 1h1m3 0h1m19 0h1m18 0h1m9 0h1m15 0h1m4 0h1m3 0h1m39 0h1m1 0h1m0 0h1m2 0h1m-75 1h1m6 0h1m8 0h1m8 0h1m2 0h1m0 0h1m0 0h1m2 0h1m33 0h1m5 0h1m0 0h1m-75 1h1m24 0h1m2 0h1m40 0h1m1 0h1m3 0h1m1 0h1m-103 1h1m38 0h1m1 0h1m0 0h1m6 0h1m1 0h1m41 0h1m2 0h1m2 0h1m-86 1h1m9 0h1m7 0h1m0 0h1m14 0h1m41 0h1m-87 1h1m20 0h1m18 0h1m0 0h1m6 0h1m42 0h1m1 0h1m3 0h1m-104 1h1m46 0h1m1 0h1m2 0h1m2 0h1m38 0h1m1 0h1m0 0h1m0 0h1m0 0h1m0 0h1m0 0h1m-98 1h1m12 0h1m2 0h1m3 0h1m1 0h1m1 0h1m20 0h1m0 0h1m1 0h1m0 0h1m2 0h1m0 0h1m38 0h1m6 0h1m-101 1h1m0 0h1m24 0h1m2 0h1m1 0h1m9 0h1m7 0h1m44 0h1m-72 1h1m6 0h1m5 0h1m2 0h1m10 0h1m0 0h1m2 0h1m38 0h1m-115 1h1m34 0h1m10 0h1m9 0h1m16 0h1m3 0h1m37 0h1m-73 1h1m13 0h1m4 0h1m6 0h1m0 0h1m5 0h1m39 0h1m3 0h1m-70 1h1m3 0h1m2 0h1m1 0h1m0 0h1m4 0h1m1 0h1m1 0h1m0 0h1m47 0h1m6 0h1m-88 1h1m4 0h1m1 0h1m13 0h1m7 0h1m48 0h1m-74 1h1m6 0h1m5 0h1m5 0h1m2 0h1m1 0h1m0 0h1m53 0h1m-119 1h1m0 0h1m14 0h1m6 0h1m10 0h1m23 0h1m5 0h1m0 0h1m43 0h1m1 0h1m1 0h1m0 0h1m2 0h1m1 0h1m-103 1h1m0 0h1m9 0h1m5 0h1m9 0h1m8 0h1m4 0h1m0 0h1m0 0h1m3 0h1m2 0h1m0 0h1m42 0h1m1 0h1m0 0h1m0 0h1m0 0h1m0 0h1m2 0h1m-114 1h1m9 0h1m3 0h1m9 0h1m1 0h1m10 0h1m10 0h1m2 0h1m53 0h1m1 0h1m0 0h1m0 0h1m5 0h1m-103 1h1m15 0h1m11 0h1m3 0h1m2 0h1m8 0h1m0 0h1m2 0h1m43 0h1m5 0h1m-146 1h1m43 0h1m0 0h1m0 0h1m9 0h1m16 0h1m6 0h1m3 0h1m3 0h1m0 0h1m4 0h1m0 0h1m40 0h1m1 0h1m3 0h1m6 0h1m-118 1h1m11 0h1m23 0h1m17 0h1m-25 1h1m11 0h1m5 0h1m1 0h1m2 0h1m2 0h1m2 0h1m0 0h1m2 0h1m44 0h1m-62 1h1m0 0h1m4 0h1m2 0h1m1 0h1m2 0h1m3 0h1m38 0h1m4 0h1m0 0h1m0 0h1m1 0h1m-128 1h1m49 0h1m16 0h1m4 0h1m2 0h1m44 0h1m2 0h1m-69 1h1m9 0h1m1 0h1m1 0h1m0 0h1m1 0h1m0 0h1m46 0h1m3 0h1m-98 1h1m26 0h1m0 0h1m0 0h1m14 0h1m0 0h1m47 0h1m0 0h1m1 0h1m1 0h1m0 0h1m-130 1h1m25 0h1m23 0h1m7 0h1m5 0h1m0 0h1m4 0h1m5 0h1m48 0h1m0 0h1m0 0h1m-99 1h1m3 0h1m5 0h1m2 0h1m8 0h1m20 0h1m0 0h1m3 0h1m0 0h1m47 0h1m8 0h1m1 0h1m-154 1h1m45 0h1m6 0h1m6 0h1m3 0h1m11 0h1m8 0h1m8 0h1m47 0h1m1 0h1m8 0h1m-129 1h1m19 0h1m12 0h1m3 0h1m12 0h1m9 0h1m5 0h1m2 0h1m42 0h1m2 0h1m3 0h1m3 0h1m-128 1h1m34 0h1m12 0h1m16 0h1m2 0h1m50 0h1m0 0h1m5 0h1m-123 1h1m12 0h1m22 0h1m4 0h1m1 0h1m13 0h1m0 0h1m7 0h1m0 0h1m45 0h1m-98 1h1m26 0h1m1 0h1m4 0h1m11 0h1m3 0h1m0 0h1m0 0h1m2 0h1m55 0h1m-97 1h1m6 0h1m12 0h1m8 0h1m0 0h1m2 0h1m4 0h1m46 0h1m2 0h1m6 0h1m5 0h1m-111 1h1m6 0h1m1 0h1m19 0h1m0 0h1m8 0h1m7 0h1m46 0h1m5 0h1m-111 1h1m21 0h1m21 0h1m1 0h1m3 0h1m0 0h1m0 0h1m7 0h1m0 0h1m39 0h1m1 0h1m1 0h1m0 0h1m1 0h1m-113 1h1m35 0h1m8 0h1m7 0h1m4 0h1m0 0h1m51 0h1m5 0h1m-105 1h1m43 0h1m1 0h1m4 0h1m43 0h1m0 0h1m0 0h1m-98 1h1m1 0h1m13 0h1m2 0h1m2 0h1m9 0h1m8 0h1m49 0h1m1 0h1m1 0h1m0 0h1m0 0h1m7 0h1m1 0h1m-67 1h1m4 0h1m1 0h1m45 0h1m1 0h1m0 0h1m0 0h1m-116 1h1m40 0h1m8 0h1m1 0h1m3 0h1m3 0h1m0 0h1m50 0h1m3 0h1m10 0h1m-111 1h1m36 0h1m3 0h1m0 0h1m2 0h1m0 0h1m48 0h1m6 0h1m5 0h1m-83 1h1m11 0h1m7 0h1m45 0h1m5 0h1m0 0h1m4 0h1m-86 1h1m6 0h1m5 0h1m1 0h1m4 0h1m2 0h1m1 0h1m2 0h1m49 0h1m0 0h1m2 0h1m3 0h1m0 0h1m3 0h1m2 0h1m-110 1h1m2 0h1m15 0h1m4 0h1m2 0h1m8 0h1m2 0h1m1 0h1m0 0h1m2 0h1m2 0h1m39 0h1m2 0h1m1 0h1m1 0h1m2 0h1m-71 1h1m3 0h1m6 0h1m49 0h1m0 0h1m0 0h1m-68 1h1m9 0h1m1 0h1m0 0h1m0 0h1m0 0h1m2 0h1m52 0h1m-97 1h1m12 0h1m4 0h1m7 0h1m58 0h1m8 0h1m2 0h1m-92 1h1m22 0h1m13 0h1m3 0h1m42 0h1m4 0h1m1 0h1m6 0h1m-82 1h1m5 0h1m11 0h1m0 0h1m4 0h1m41 0h1m0 0h1m3 0h1m14 0h1m-68 1h1m1 0h1m54 0h1m-73 1h1m10 0h1m4 0h1m1 0h1m3 0h1m37 0h1m9 0h1m-74 1h1m12 0h1m5 0h1m0 0h1m3 0h1m0 0h1m36 0h1m0 0h1m2 0h1m0 0h1m3 0h1m6 0h1m1 0h1m-112 1h1m38 0h1m5 0h1m4 0h1m0 0h1m7 0h1m1 0h1m38 0h1m-93 1h1m28 0h1m5 0h1m0 0h1m9 0h1m0 0h1m41 0h1m2 0h1m5 0h1m-104 1h1m24 0h1m16 0h1m4 0h1m4 0h1m1 0h1m37 0h1m4 0h1m2 0h1m-113 1h1m36 0h1m13 0h1m1 0h1m0 0h1m5 0h1m0 0h1m1 0h1m0 0h1m0 0h1m36 0h1m0 0h1m2 0h1m2 0h1m-110 1h1m0 0h1m29 0h1m8 0h1m11 0h1m8 0h1m1 0h1m5 0h1m32 0h1m1 0h1m1 0h1m1 0h1m1 0h1m2 0h1m-75 1h1m18 0h1m0 0h1m0 0h1m2 0h1m1 0h1m1 0h1m0 0h1m3 0h1m30 0h1m2 0h1m1 0h1m13 0h1m-53 1h1m32 0h1m1 0h1m0 0h1m0 0h1m6 0h1m3 0h1m7 0h1m-80 1h1m16 0h1m0 0h1m0 0h1m3 0h1m0 0h1m33 0h1m-86 1h1m17 0h1m11 0h1m4 0h1m7 0h1m2 0h1m0 0h1m6 0h1m22 0h1m5 0h1m13 0h1m-65 1h1m11 0h1m3 0h1m34 0h1m-63 1h1m10 0h1m3 0h1m5 0h1m0 0h1m0 0h1m9 0h1m19 0h1m1 0h1m2 0h1m1 0h1m0 0h1m2 0h1m0 0h1m0 0h1m0 0h1m4 0h1m-66 1h1m6 0h1m5 0h1m10 0h1m0 0h1m0 0h1m1 0h1m24 0h1m2 0h1m2 0h1m-83 1h1m32 0h1m9 0h1m1 0h1m25 0h1m2 0h1m0 0h1m-55 1h1m1 0h1m17 0h1m5 0h1m19 0h1m0 0h1m0 0h1m3 0h1m0 0h1m7 0h1m1 0h1m-72 1h1m12 0h1m6 0h1m8 0h1m0 0h1m6 0h1m23 0h1m6 0h1m3 0h1m-96 1h1m39 0h1m6 0h1m3 0h1m5 0h1m1 0h1m1 0h1m0 0h1m19 0h1m2 0h1m0 0h1m-59 1h1m16 0h1m3 0h1m1 0h1m0 0h1m1 0h1m27 0h1m3 0h1m-50 1h1m14 0h1m0 0h1m1 0h1m2 0h1m3 0h1m13 0h1m6 0h1m-55 1h1m10 0h1m4 0h1m10 0h1m0 0h1m5 0h1m14 0h1m0 0h1m13 0h1m-92 1h1m29 0h1m1 0h1m16 0h1m5 0h1m1 0h1m1 0h1m14 0h1m6 0h1m0 0h1m0 0h1m1 0h1m4 0h1m0 0h1m1 0h1m-29 1h1m0 0h1m13 0h1m4 0h1m0 0h1m0 0h1m1 0h1m-60 1h1m17 0h1m3 0h1m1 0h1m2 0h1m23 0h1m-58 1h1m20 0h1m0 0h1m25 0h1m8 0h1m0 0h1m1 0h1m-60 1h1m19 0h1m0 0h1m4 0h1m9 0h1m0 0h1m2 0h1m2 0h1m4 0h1m9 0h1m1 0h1m-34 1h1m3 0h1m5 0h1m3 0h1m1 0h1m5 0h1m1 0h1m1 0h1m2 0h1m1 0h1m1 0h1m-44 1h1m6 0h1m2 0h1m0 0h1m6 0h1m2 0h1m0 0h1m3 0h1m-36 1h1m10 0h1m15 0h1m2 0h1m4 0h1m9 0h1m4 0h1m8 0h1m5 0h1m-39 1h1m6 0h1m1 0h1m6 0h1m0 0h1m16 0h1m-44 1h1m6 0h1m1 0h1m2 0h1m5 0h1m0 0h1m2 0h1m0 0h1m9 0h1m0 0h1m2 0h1m4 0h1m-40 1h1m4 0h1m1 0h1m11 0h1m3 0h1m6 0h1m-42 1h1m9 0h1m2 0h1m7 0h1m11 0h1m1 0h1m1 0h1m10 0h1m-58 1h1m17 0h1m2 0h1m16 0h1m0 0h1m1 0h1m1 0h1m1 0h1m2 0h1m0 0h1m2 0h1m1 0h1m-38 1h1m3 0h1m6 0h1m2 0h1m3 0h1m5 0h1m2 0h1m-26 1h1m8 0h1m2 0h1m4 0h1m0 0h1m0 0h1m0 0h1m1 0h1m0 0h1m0 0h1m1 0h1m8 0h1m-37 1h1m9 0h1m1 0h1m1 0h1m2 0h1m1 0h1m3 0h1m3 0h1m1 0h1m0 0h1m-20 1h1m0 0h1m1 0h1m2 0h1m3 0h1m8 0h1m3 0h1m-33 1h1m8 0h1m9 0h1m0 0h1m1 0h1m2 0h1m2 0h1m-22 1h1m2 0h1m2 0h1m1 0h1m7 0h1m15 0h1m-40 1h1m7 0h1m0 0h1m1 0h1m0 0h1m3 0h1m1 0h1m2 0h1m5 0h1m3 0h1m0 0h1m4 0h1m-19 1h1m4 0h1m2 0h1m4 0h1m-58 1h1m24 0h1m1 0h1m9 0h1m5 0h1m5 0h1m3 0h1m14 0h1m-83 1h1m35 0h1m7 0h1m5 0h1m2 0h1m3 0h1m0 0h1m2 0h1m4 0h1m-20 1h1m10 0h1m5 0h1m3 0h1m-25 1h1m5 0h1m2 0h1m1 0h1m0 0h1m0 0h1m4 0h1m3 0h1m-21 1h1m3 0h1m10 0h1m4 0h1m0 0h1m-21 1h1m0 0h1m13 0h1m3 0h1m-24 1h1m11 0h1m2 0h1m8 0h1m5 0h1m-29 1h1m26 0h1m-31 1h1m16 0h1m-21 1h1m6 0h1m8 0h1m-7 1h1m0 0h1m1 0h1m3 0h1m0 0h1m4 0h1m-8 1h1m2 0h1m2 0h1m8 0h1m-26 1h1m7 0h1m15 0h1m-31 2h1m10 0h1m3 0h1m19 0h1m-33 1h1m12 0h1m10 0h1m-20 1h1m6 0h1m5 0h1m3 0h1m-27 1h1m26 0h1m1 0h1m-3 1h1m-26 1h1m12 0h1m0 0h1m4 1h1m0 1h1m0 0h1m0 0h1m-23 1h1m2 0h1m17 0h1m4 0h1" stroke="#3D57B5"/>
<path d="M1626 2252h1m1 0h1m2 2h1m-9 1h1m2 0h1m-2 1h1m4 0h1m-11 1h1m1 0h1m1 0h1m1 0h1m0 0h1m6 0h1m-15 1h1m2 0h1m3 0h1m1 0h1m0 0h1m0 0h1m-2 1h1m0 0h1m0 0h1m-14 1h1m3 0h1m0 0h1m1 0h1m2 0h1m0 0h1m5 0h1m-16 1h1m0 0h1m1 0h1m0 0h1m0 0h1m0 0h1m1 0h1m0 0h1m3 0h1m-18 1h1m1 0h1m2 0h1m0 0h1m1 0h1m2 0h1m4 0h1m0 0h1m-18 1h1m1 0h1m2 0h1m3 0h1m2 0h1m4 0h1m-16 1h1m0 0h1m4 0h1m4 0h1m0 0h1m2 0h1m1 0h1m-14 1h1m0 0h1m1 0h1m0 0h1m0 0h1m1 0h1m0 0h1m4 0h1m-22 1h1m0 0h1m2 0h1m4 0h1m0 0h1m2 0h1m4 0h1m2 0h1m-17 1h1m0 0h1m5 0h1m6 0h1m-16 1h1m3 0h1m5 0h1m1 0h1m1 0h1m1 0h1m-14 1h1m1 0h1m0 0h1m0 0h1m1 0h1m0 0h1m1 0h1m0 0h1m0 0h1m-15 1h1m0 0h1m1 0h1m0 0h1m3 0h1m0 0h1m0 0h1m0 0h1m2 0h1m0 0h1m1 0h1m0 0h1m1 0h1m-22 1h1m1 0h1m1 0h1m5 0h1m2 0h1m2 0h1m3 0h1m-21 1h1m0 0h1m0 0h1m2 0h1m0 0h1m8 0h1m1 0h1m-21 1h1m1 0h1m1 0h1m0 0h1m4 0h1m0 0h1m0 0h1m0 0h1m2 0h1m0 0h1m2 0h1m0 0h1m-19 1h1m6 0h1m0 0h1m0 0h1m1 0h1m0 0h1m1 0h1m4 0h1m1 0h1m-26 1h1m1 0h1m2 0h1m0 0h1m0 0h1m0 0h1m0 0h1m1 0h1m4 0h1m0 0h1m2 0h1m-19 1h1m0 0h1m2 0h1m4 0h1m5 0h1m2 0h1m2 0h1m0 0h1m-24 1h1m0 0h1m1 0h1m0 0h1m1 0h1m0 0h1m3 0h1m0 0h1m2 0h1m4 0h1m1 0h1m-25 1h1m7 0h1m7 0h1m0 0h1m0 0h1m2 0h1m-19 1h1m1 0h1m0 0h1m0 0h1m0 0h1m3 0h1m2 0h1m4 0h1m0 0h1m1 0h1m3 0h1m-24 1h1m3 0h1m2 0h1m0 0h1m2 0h1m0 0h1m5 0h1m0 0h1m1 0h1m1 0h1m-29 1h1m1 0h1m4 0h1m6 0h1m0 0h1m2 0h1m1 0h1m3 0h1m0 0h1m-25 1h1m1 0h1m5 0h1m0 0h1m0 0h1m1 0h1m0 0h1m1 0h1m0 0h1m1 0h1m3 0h1m-19 1h1m1 0h1m0 0h1m0 0h1m2 0h1m0 0h1m1 0h1m0 0h1m2 0h1m3 0h1m-21 1h1m2 0h1m0 0h1m0 0h1m2 0h1m1 0h1m0 0h1m0 0h1m0 0h1m0 0h1m1 0h1m0 0h1m0 0h1m3 0h1m1 0h1m-27 1h1m4 0h1m1 0h1m3 0h1m5 0h1m1 0h1m1 0h1m0 0h1m1 0h1m0 0h1m-27 1h1m8 0h1m0 0h1m2 0h1m0 0h1m0 0h1m5 0h1m0 0h1m0 0h1m1 0h1m0 0h1m2 0h1m-28 1h1m2 0h1m1 0h1m0 0h1m2 0h1m0 0h1m4 0h1m5 0h1m0 0h1m0 0h1m0 0h1m0 0h1m-25 1h1m2 0h1m5 0h1m4 0h1m2 0h1m0 0h1m1 0h1m0 0h1m1 0h1m1 0h1m-22 1h1m0 0h1m1 0h1m1 0h1m3 0h1m6 0h1m1 0h1m0 0h1m-26 1h1m0 0h1m2 0h1m0 0h1m1 0h1m0 0h1m0 0h1m3 0h1m8 0h1m1 0h1m2 0h1m0 0h1m-30 1h1m0 0h1m0 0h1m0 0h1m0 0h1m1 0h1m0 0h1m6 0h1m4 0h1m0 0h1m0 0h1m2 0h1m0 0h1m0 0h1m3 0h1m-30 1h1m1 0h1m2 0h1m0 0h1m0 0h1m0 0h1m5 0h1m0 0h1m4 0h1m1 0h1m0 0h1m0 0h1m0 0h1m-26 1h1m1 0h1m0 0h1m1 0h1m0 0h1m0 0h1m0 0h1m6 0h1m0 0h1m4 0h1m-22 1h1m0 0h1m1 0h1m2 0h1m4 0h1m1 0h1m0 0h1m0 0h1m1 0h1m5 0h1m2 0h1m-28 1h1m1 0h1m0 0h1m0 0h1m0 0h1m0 0h1m0 0h1m0 0h1m1 0h1m0 0h1m1 0h1m2 0h1m3 0h1m0 0h1m2 0h1m2 0h1m0 0h1m-27 1h1m1 0h1m3 0h1m1 0h1m0 0h1m5 0h1m7 0h1m0 0h1m0 0h1m-26 1h1m0 0h1m0 0h1m3 0h1m9 0h1m2 0h1m5 0h1m0 0h1m1 0h1m-31 1h1m1 0h1m0 0h1m4 0h1m0 0h1m3 0h1m6 0h1m0 0h1m2 0h1m0 0h1m0 0h1m2 0h1m-18 1h1m0 0h1m3 0h1m1 0h1m3 0h1m3 0h1m1 0h1m-28 1h1m2 0h1m0 0h1m3 0h1m0 0h1m0 0h1m4 0h1m1 0h1m3 0h1m0 0h1m0 0h1m1 0h1m1 0h1m-27 1h1m0 0h1m1 0h1m2 0h1m0 0h1m2 0h1m1 0h1m1 0h1m2 0h1m1 0h1m0 0h1m-22 1h1m0 0h1m0 0h1m0 0h1m1 0h1m1 0h1m1 0h1m7 0h1m1 0h1m0 0h1m0 0h1m0 0h1m1 0h1m-28 1h1m0 0h1m1 0h1m0 0h1m0 0h1m0 0h1m1 0h1m2 0h1m11 0h1m1 0h1m0 0h1m0 0h1m0 0h1m0 0h1m-26 1h1m0 0h1m0 0h1m1 0h1m1 0h1m0 0h1m6 0h1m4 0h1m1 0h1m2 0h1m-25 1h1m0 0h1m3 0h1m1 0h1m5 0h1m0 0h1m3 0h1m1 0h1m2 0h1m0 0h1m-21 1h1m1 0h1m1 0h1m5 0h1m2 0h1m2 0h1m2 0h1m0 0h1m-28 1h1m1 0h1m0 0h1m0 0h1m0 0h1m1 0h1m2 0h1m0 0h1m7 0h1m2 0h1m1 0h1m2 0h1m-25 1h1m0 0h1m3 0h1m0 0h1m0 0h1m0 0h1m1 0h1m2 0h1m0 0h1m0 0h1m1 0h1m1 0h1m2 0h1m0 0h1m-23 1h1m3 0h1m1 0h1m0 0h1m9 0h1m0 0h1m0 0h1m3 0h1m0 0h1m-28 1h1m1 0h1m1 0h1m0 0h1m5 0h1m9 0h1m0 0h1m2 0h1m0 0h1m-30 1h1m4 0h1m0 0h1m0 0h1m2 0h1m0 0h1m0 0h1m0 0h1m1 0h1m0 0h1m3 0h1m-16 1h1m1 0h1m3 0h1m4 0h1m1 0h1m1 0h1m5 0h1m3 0h1m0 0h1m1 0h1m-30 1h1m2 0h1m0 0h1m1 0h1m0 0h1m2 0h1m1 0h1m2 0h1m1 0h1m0 0h1m1 0h1m0 0h1m2 0h1m1 0h1m-22 1h1m0 0h1m1 0h1m2 0h1m3 0h1m0 0h1m5 0h1m0 0h1m0 0h1m-26 1h1m2 0h1m6 0h1m3 0h1m0 0h1m2 0h1m0 0h1m0 0h1m0 0h1m1 0h1m5 0h1m-32 1h1m0 0h1m0 0h1m0 0h1m0 0h1m1 0h1m1 0h1m0 0h1m2 0h1m7 0h1m0 0h1m0 0h1m0 0h1m3 0h1m2 0h1m0 0h1m-28 1h1m0 0h1m1 0h1m1 0h1m1 0h1m1 0h1m2 0h1m0 0h1m4 0h1m-21 1h1m4 0h1m1 0h1m1 0h1m2 0h1m3 0h1m5 0h1m1 0h1m-26 1h1m2 0h1m3 0h1m2 0h1m0 0h1m0 0h1m1 0h1m0 0h1m2 0h1m5 0h1m0 0h1m0 0h1m1 0h1m2 0h1m-27 1h1m0 0h1m0 0h1m2 0h1m6 0h1m2 0h1m1 0h1m1 0h1m0 0h1m0 0h1m0 0h1m-25 1h1m0 0h1m1 0h1m0 0h1m3 0h1m4 0h1m4 0h1m1 0h1m0 0h1m2 0h1m0 0h1m1 0h1m-28 1h1m1 0h1m1 0h1m0 0h1m0 0h1m1 0h1m2 0h1m0 0h1m10 0h1m0 0h1m0 0h1m-29 1h1m5 0h1m10 0h1m0 0h1m1 0h1m0 0h1m1 0h1m1 0h1m-24 1h1m4 0h1m0 0h1m0 0h1m1 0h1m7 0h1m1 0h1m-22 1h1m0 0h1m1 0h1m2 0h1m0 0h1m0 0h1m4 0h1m1 0h1m0 0h1m0 0h1m3 0h1m0 0h1m0 0h1m2 0h1m2 0h1m-30 1h1m1 0h1m5 0h1m1 0h1m0 0h1m0 0h1m0 0h1m1 0h1m0 0h1m3 0h1m2 0h1m0 0h1m0 0h1m1 0h1m-26 1h1m3 0h1m1 0h1m3 0h1m1 0h1m1 0h1m9 0h1m-25 1h1m1 0h1m2 0h1m0 0h1m4 0h1m0 0h1m1 0h1m1 0h1m1 0h1m3 0h1m4 0h1m-31 1h1m2 0h1m6 0h1m0 0h1m6 0h1m0 0h1m1 0h1m5 0h1m0 0h1m0 0h1m0 0h1m-29 1h1m2 0h1m1 0h1m0 0h1m0 0h1m2 0h1m0 0h1m3 0h1m1 0h1m0 0h1m0 0h1m3 0h1m4 0h1m-27 1h1m0 0h1m3 0h1m0 0h1m2 0h1m8 0h1m0 0h1m2 0h1m0 0h1m0 0h1m0 0h1m-29 1h1m0 0h1m2 0h1m5 0h1m6 0h1m0 0h1m4 0h1m0 0h1m1 0h1m-28 1h1m1 0h1m0 0h1m1 0h1m8 0h1m6 0h1m0 0h1m2 0h1m1 0h1m0 0h1m0 0h1m0 0h1m-28 1h1m0 0h1m6 0h1m0 0h1m4 0h1m3 0h1m1 0h1m2 0h1m1 0h1m0 0h1m1 0h1m-34 1h1m0 0h1m0 0h1m0 0h1m0 0h1m1 0h1m3 0h1m11 0h1m1 0h1m0 0h1m1 0h1m0 0h1m3 0h1m1 0h1m-37 1h1m2 0h1m0 0h1m0 0h1m1 0h1m3 0h1m1 0h1m3 0h1m0 0h1m6 0h1m0 0h1m5 0h1m1 0h1m-29 1h1m1 0h1m0 0h1m1 0h1m0 0h1m0 0h1m1 0h1m12 0h1m0 0h1m4 0h1m-34 1h1m2 0h1m1 0h1m4 0h1m1 0h1m11 0h1m2 0h1m0 0h1m1 0h1m0 0h1m0 0h1m0 0h1m-34 1h1m3 0h1m0 0h1m1 0h1m0 0h1m1 0h1m1 0h1m0 0h1m1 0h1m0 0h1m5 0h1m4 0h1m7 0h1m-37 1h1m5 0h1m0 0h1m22 0h1m2 0h1m0 0h1m2 0h1m-33 1h1m0 0h1m1 0h1m1 0h1m0 0h1m2 0h1m15 0h1m3 0h1m-36 1h1m2 0h1m2 0h1m1 0h1m0 0h1m1 0h1m18 0h1m2 0h1m0 0h1m-34 1h1m2 0h1m1 0h1m0 0h1m24 0h1m0 0h1m0 0h1m-34 1h1m0 0h1m1 0h1m1 0h1m1 0h1m0 0h1m2 0h1m15 0h1m5 0h1m2 0h1m-38 1h1m0 0h1m0 0h1m1 0h1m0 0h1m7 0h1m15 0h1m1 0h1m0 0h1m0 0h1m2 0h1m-37 1h1m3 0h1m1 0h1m5 0h1m14 0h1m2 0h1m6 0h1m0 0h1m-36 1h1m2 0h1m0 0h1m2 0h1m18 0h1m1 0h1m2 0h1m0 0h1m2 0h1m-33 1h1m26 0h1m1 0h1m0 0h1m-34 1h1m0 0h1m0 0h1m0 0h1m0 0h1m0 0h1m25 0h1m0 0h1m0 0h1m0 0h1m0 0h1m-40 1h1m1 0h1m1 0h1m0 0h1m0 0h1m26 0h1m0 0h1m6 0h1m-40 1h1m2 0h1m29 0h1m0 0h1m0 0h1m1 0h1m-42 1h1m1 0h1m0 0h1m2 0h1m1 0h1m1 0h1m22 0h1m0 0h1m0 0h1m1 0h1m0 0h1m0 0h1m0 0h1m2 0h1m-38 1h1m1 0h1m0 0h1m29 0h1m2 0h1m-40 1h1m1 0h1m3 0h1m25 0h1m0 0h1m5 0h1m-41 1h1m1 0h1m0 0h1m33 0h1m2 0h1m-44 1h1m1 0h1m0 0h1m-4 1h1m6 0h1m0 0h1m29 0h1m0 0h1m0 0h1m-39 1h1m1 0h1m0 0h1m0 0h1m1 0h1m33 0h1m3 0h1m-43 1h1m0 0h1m0 0h1m1 0h1m1 0h1m29 0h1m0 0h1m0 0h1m1 0h1m0 0h1m-45 1h1m0 0h1m1 0h1m0 0h1m1 0h1m37 0h1m-44 1h1m0 0h1m2 0h1m31 0h1m1 0h1m1 0h1m0 0h1m0 0h1m-46 1h1m2 0h1m0 0h1m3 0h1m34 0h1m2 0h1m-46 1h1m1 0h1m0 0h1m0 0h1m4 0h1m28 0h1m0 0h1m4 0h1m-42 1h1m4 0h1m1 0h1m28 0h1m1 0h1m1 0h1m-41 1h1m0 0h1m2 0h1m36 0h1m-42 1h1m1 0h1m0 0h1m-3 1h1m1 0h1m0 0h1m33 0h1m0 0h1m0 0h1m0 0h1m-44 1h1m0 0h1m0 0h1m0 0h1m0 0h1m34 0h1m0 0h1m0 0h1m1 0h1m1 0h1m-48 1h1m4 0h1m1 0h1m35 0h1m0 0h1m-44 1h1m0 0h1m2 0h1m38 0h1m0 0h1m-45 1h1m0 0h1m2 0h1m1 0h1m-5 1h1m3 0h1m32 0h1m2 0h1m1 0h1m-4 1h1m2 0h1m-43 1h1m7 0h1m29 0h1m0 0h1m0 0h1m-45 1h1m6 0h1m36 0h1m0 0h1m0 0h1m0 0h1m-4 1h1m0 0h1m0 0h1m-45 1h1m1 0h1m1 0h1m0 0h1m0 0h1m33 0h1m-39 1h1m1 0h1m0 0h1m1 0h1m2 0h1m31 0h1m0 0h1m2 0h1m-46 1h1m0 0h1m0 0h1m33 0h1m2 0h1m0 0h1m1 0h1m0 0h1m-42 1h1m1 0h1m0 0h1m0 0h1m0 0h1m0 0h1m30 0h1m0 0h1m0 0h1m0 0h1m-45 1h1m0 0h1m1 0h1m0 0h1m35 0h1m0 0h1m0 0h1m0 0h1m1 0h1m0 0h1m-46 1h1m2 0h1m3 0h1m0 0h1m30 0h1m1 0h1m-42 1h1m4 0h1m2 0h1m31 0h1m0 0h1m0 0h1m1 0h1m-46 1h1m4 0h1m0 0h1m1 0h1m32 0h1m2 0h1m2 0h1m-46 1h1m1 0h1m0 0h1m1 0h1m0 0h1m0 0h1m1 0h1m28 0h1m0 0h1m0 0h1m0 0h1m0 0h1m0 0h1m-44 1h1m1 0h1m0 0h1m1 0h1m1 0h1m30 0h1m4 0h1m0 0h1m-45 1h1m2 0h1m32 0h1m1 0h1m-37 1h1m0 0h1m0 0h1m0 0h1m0 0h1m28 0h1m3 0h1m2 0h1m-40 1h1m0 0h1m0 0h1m0 0h1m2 0h1m26 0h1m0 0h1m-37 1h1m1 0h1m3 0h1m2 0h1m30 0h1m0 0h1m0 0h1m-39 1h1m0 0h1m2 0h1m25 0h1m2 0h1m1 0h1m-38 1h1m4 0h1m29 0h1m1 0h1m1 0h1m-39 1h1m29 0h1m1 0h1m2 0h1m0 0h1m-39 1h1m0 0h1m3 0h1m5 0h1m20 0h1m0 0h1m0 0h1m5 0h1m-39 1h1m0 0h1m0 0h1m0 0h1m5 0h1m0 0h1m15 0h1m1 0h1m5 0h1m2 0h1m0 0h1m-40 1h1m0 0h1m1 0h1m0 0h1m23 0h1m0 0h1m1 0h1m0 0h1m6 0h1m0 0h1m-40 1h1m2 0h1m0 0h1m1 0h1m2 0h1m0 0h1m16 0h1m4 0h1m0 0h1m1 0h1m0 0h1m-35 1h1m2 0h1m0 0h1m3 0h1m5 0h1m12 0h1m0 0h1m0 0h1m1 0h1m0 0h1m-30 1h1m1 0h1m0 0h1m2 0h1m18 0h1m1 0h1m0 0h1m0 0h1m1 0h1m0 0h1m-33 1h1m3 0h1m7 0h1m0 0h1m1 0h1m0 0h1m2 0h1m0 0h1m1 0h1m1 0h1m4 0h1m-33 1h1m1 0h1m0 0h1m0 0h1m0 0h1m0 0h1m0 0h1m2 0h1m0 0h1m4 0h1m4 0h1m3 0h1m1 0h1m1 0h1m1 0h1m0 0h1m-30 1h1m2 0h1m13 0h1m1 0h1m1 0h1m0 0h1m1 0h1m4 0h1m-28 1h1m0 0h1m2 0h1m0 0h1m0 0h1m3 0h1m1 0h1m1 0h1m1 0h1m0 0h1m5 0h1m1 0h1m2 0h1m1 0h1m-34 1h1m1 0h1m1 0h1m1 0h1m0 0h1m0 0h1m0 0h1m0 0h1m3 0h1m3 0h1m0 0h1m1 0h1m1 0h1m1 0h1m0 0h1m3 0h1m-30 1h1m3 0h1m3 0h1m0 0h1m4 0h1m3 0h1m0 0h1m0 0h1m5 0h1m0 0h1m2 0h1m-24 1h1m0 0h1m1 0h1m1 0h1m1 0h1m1 0h1m3 0h1m1 0h1m5 0h1m1 0h1m-28 1h1m0 0h1m1 0h1m0 0h1m4 0h1m1 0h1m1 0h1m0 0h1m3 0h1m1 0h1m0 0h1m-21 1h1m0 0h1m1 0h1m0 0h1m2 0h1m0 0h1m2 0h1m3 0h1m0 0h1m0 0h1m3 0h1m0 0h1m0 0h1m-27 1h1m3 0h1m2 0h1m1 0h1m0 0h1m0 0h1m0 0h1m0 0h1m1 0h1m4 0h1m-21 1h1m6 0h1m0 0h1m0 0h1m1 0h1m6 0h1m0 0h1m1 0h1m0 0h1m2 0h1m-25 1h1m4 0h1m4 0h1m1 0h1m0 0h1m0 0h1m2 0h1m4 0h1m0 0h1m2 0h1m-20 1h1m0 0h1m0 0h1m1 0h1m0 0h1m0 0h1m0 0h1m2 0h1m1 0h1m-18 1h1m8 0h1m3 0h1m1 0h1m0 0h1m0 0h1m1 0h1m-22 1h1m0 0h1m4 0h1m3 0h1m0 0h1m0 0h1m1 0h1m6 0h1m-18 1h1m3 0h1m5 0h1m2 0h1m0 0h1m0 0h1m0 0h1m1 0h1m-17 1h1m3 0h1m0 0h1m0 0h1m0 0h1m1 0h1m0 0h1m2 0h1m1 0h1m0 0h1m0 0h1m0 0h1m-17 1h1m1 0h1m0 0h1m8 0h1m-12 1h1m2 0h1m0 0h1m-5 1h1m6 0h1m3 0h1m0 0h1m-7 1h1m-6 1h1m2 0h1m2 0h1m2 0h1m1 0h1m0 0h1m-15 1h1m2 0h1m5 0h1m-8 1h1m5 0h1m1 0h1m1 0h1m-7 1h1m0 0h1m0 0h1m-2 1h1m0 2h1m-1 1h1" stroke="#2F7FD0"/>
<path d="M1627 2269h1m-3 2h1m0 0h1m4 0h1m-10 1h1m1 1h1m3 0h1m0 0h1m1 0h1m-9 2h1m1 0h1m4 0h1m2 0h1m0 0h1m-15 1h1m4 0h1m2 0h1m1 0h1m-9 1h1m5 0h1m0 0h1m0 0h1m1 0h1m-10 1h1m5 0h1m0 0h1m0 0h1m-13 1h1m1 0h1m4 0h1m1 0h1m0 0h1m0 0h1m0 0h1m-13 1h1m1 0h1m1 0h1m2 0h1m1 0h1m0 0h1m0 0h1m-6 1h1m0 0h1m0 0h1m1 0h1m0 0h1m1 0h1m0 0h1m-13 1h1m0 0h1m2 0h1m5 0h1m-13 1h1m2 0h1m0 0h1m4 0h1m0 0h1m3 0h1m-16 1h1m1 0h1m3 0h1m0 0h1m1 0h1m1 0h1m1 0h1m0 0h1m-14 1h1m0 0h1m1 0h1m0 0h1m0 0h1m1 0h1m1 0h1m0 0h1m0 0h1m2 0h1m-15 1h1m0 0h1m0 0h1m2 0h1m0 0h1m0 0h1m0 0h1m0 0h1m1 0h1m0 0h1m-8 1h1m0 0h1m1 0h1m0 0h1m1 0h1m1 0h1m-16 1h1m0 0h1m0 0h1m3 0h1m0 0h1m3 0h1m0 0h1m0 0h1m1 0h1m-13 1h1m1 0h1m0 0h1m1 0h1m0 0h1m0 0h1m1 0h1m0 0h1m1 0h1m1 0h1m2 0h1m-20 1h1m3 0h1m0 0h1m1 0h1m0 0h1m0 0h1m1 0h1m0 0h1m2 0h1m-15 1h1m0 0h1m0 0h1m3 0h1m0 0h1m3 0h1m1 0h1m0 0h1m-17 1h1m2 0h1m2 0h1m0 0h1m0 0h1m2 0h1m6 0h1m0 0h1m-15 1h1m1 0h1m0 0h1m0 0h1m1 0h1m0 0h1m0 0h1m0 0h1m3 0h1m1 0h1m-21 1h1m1 0h1m0 0h1m1 0h1m0 0h1m3 0h1m0 0h1m3 0h1m0 0h1m1 0h1m-18 1h1m0 0h1m2 0h1m2 0h1m3 0h1m0 0h1m1 0h1m1 0h1m0 0h1m1 0h1m-14 1h1m0 0h1m2 0h1m0 0h1m0 0h1m0 0h1m0 0h1m1 0h1m-15 1h1m0 0h1m1 0h1m2 0h1m2 0h1m0 0h1m1 0h1m-17 1h1m0 0h1m3 0h1m1 0h1m1 0h1m0 0h1m0 0h1m0 0h1m0 0h1m3 0h1m1 0h1m0 0h1m1 0h1m-19 1h1m3 0h1m2 0h1m1 0h1m0 0h1m0 0h1m1 0h1m0 0h1m0 0h1m0 0h1m-19 1h1m0 0h1m0 0h1m0 0h1m3 0h1m0 0h1m1 0h1m1 0h1m2 0h1m2 0h1m-20 1h1m0 0h1m0 0h1m2 0h1m1 0h1m0 0h1m1 0h1m0 0h1m1 0h1m0 0h1m0 0h1m0 0h1m1 0h1m0 0h1m-16 1h1m0 0h1m0 0h1m0 0h1m0 0h1m0 0h1m1 0h1m0 0h1m1 0h1m1 0h1m2 0h1m-18 1h1m0 0h1m3 0h1m0 0h1m1 0h1m4 0h1m3 0h1m-17 1h1m0 0h1m5 0h1m7 0h1m1 0h1m-19 1h1m1 0h1m3 0h1m1 0h1m1 0h1m-11 1h1m3 0h1m4 0h1m0 0h1m0 0h1m0 0h1m1 0h1m0 0h1m0 0h1m-20 1h1m0 0h1m1 0h1m0 0h1m0 0h1m3 0h1m0 0h1m0 0h1m1 0h1m2 0h1m5 0h1m-21 1h1m1 0h1m2 0h1m0 0h1m0 0h1m0 0h1m1 0h1m0 0h1m0 0h1m1 0h1m0 0h1m1 0h1m0 0h1m-15 1h1m0 0h1m1 0h1m0 0h1m1 0h1m0 0h1m0 0h1m1 0h1m1 0h1m1 0h1m-20 1h1m1 0h1m1 0h1m0 0h1m0 0h1m0 0h1m1 0h1m0 0h1m0 0h1m0 0h1m1 0h1m1 0h1m0 0h1m1 0h1m-15 1h1m0 0h1m1 0h1m0 0h1m4 0h1m0 0h1m0 0h1m1 0h1m0 0h1m0 0h1m-15 1h1m0 0h1m0 0h1m4 0h1m0 0h1m0 0h1m0 0h1m0 0h1m-16 1h1m0 0h1m1 0h1m0 0h1m0 0h1m0 0h1m2 0h1m0 0h1m0 0h1m1 0h1m0 0h1m0 0h1m-19 1h1m1 0h1m1 0h1m3 0h1m1 0h1m0 0h1m0 0h1m0 0h1m6 0h1m-17 1h1m1 0h1m1 0h1m0 0h1m0 0h1m0 0h1m4 0h1m-12 1h1m0 0h1m0 0h1m1 0h1m0 0h1m0 0h1m0 0h1m0 0h1m1 0h1m1 0h1m0 0h1m1 0h1m-21 1h1m1 0h1m2 0h1m1 0h1m0 0h1m1 0h1m1 0h1m2 0h1m0 0h1m5 0h1m-20 1h1m1 0h1m0 0h1m0 0h1m0 0h1m0 0h1m0 0h1m0 0h1m0 0h1m2 0h1m1 0h1m1 0h1m-18 1h1m0 0h1m0 0h1m2 0h1m0 0h1m1 0h1m1 0h1m0 0h1m0 0h1m0 0h1m0 0h1m0 0h1m2 0h1m-21 1h1m4 0h1m1 0h1m3 0h1m2 0h1m0 0h1m2 0h1m1 0h1m-21 1h1m1 0h1m0 0h1m1 0h1m1 0h1m1 0h1m3 0h1m5 0h1m-16 1h1m4 0h1m0 0h1m1 0h1m1 0h1m1 0h1m0 0h1m0 0h1m-12 1h1m3 0h1m2 0h1m1 0h1m2 0h1m-19 1h1m2 0h1m3 0h1m0 0h1m1 0h1m0 0h1m0 0h1m0 0h1m1 0h1m-16 1h1m3 0h1m1 0h1m1 0h1m1 0h1m5 0h1m-17 1h1m6 0h1m0 0h1m3 0h1m0 0h1m0 0h1m2 0h1m1 0h1m-19 1h1m2 0h1m1 0h1m3 0h1m1 0h1m0 0h1m2 0h1m0 0h1m-18 1h1m4 0h1m1 0h1m0 0h1m2 0h1m1 0h1m0 0h1m1 0h1m2 0h1m-22 1h1m3 0h1m0 0h1m0 0h1m0 0h1m0 0h1m0 0h1m0 0h1m0 0h1m0 0h1m0 0h1m3 0h1m-13 1h1m0 0h1m0 0h1m0 0h1m1 0h1m0 0h1m0 0h1m0 0h1m0 0h1m1 0h1m-15 1h1m0 0h1m2 0h1m3 0h1m1 0h1m2 0h1m0 0h1m1 0h1m3 0h1m-21 1h1m0 0h1m1 0h1m0 0h1m2 0h1m1 0h1m0 0h1m0 0h1m0 0h1m3 0h1m-16 1h1m2 0h1m2 0h1m0 0h1m0 0h1m0 0h1m0 0h1m0 0h1m3 0h1m0 0h1m-17 1h1m0 0h1m0 0h1m0 0h1m1 0h1m0 0h1m0 0h1m0 0h1m1 0h1m0 0h1m0 0h1m0 0h1m0 0h1m1 0h1m0 0h1m1 0h1m-17 1h1m0 0h1m0 0h1m0 0h1m1 0h1m2 0h1m0 0h1m0 0h1m0 0h1m0 0h1m0 0h1m0 0h1m0 0h1m-22 1h1m0 0h1m0 0h1m4 0h1m0 0h1m0 0h1m0 0h1m1 0h1m0 0h1m1 0h1m0 0h1m0 0h1m1 0h1m0 0h1m0 0h1m-18 1h1m0 0h1m0 0h1m0 0h1m0 0h1m0 0h1m0 0h1m0 0h1m0 0h1m2 0h1m1 0h1m1 0h1m3 0h1m-24 1h1m1 0h1m0 0h1m0 0h1m0 0h1m1 0h1m5 0h1m0 0h1m1 0h1m1 0h1m0 0h1m0 0h1m3 0h1m-27 1h1m2 0h1m4 0h1m1 0h1m3 0h1m1 0h1m0 0h1m1 0h1m0 0h1m1 0h1m3 0h1m-25 1h1m0 0h1m0 0h1m0 0h1m1 0h1m2 0h1m0 0h1m0 0h1m0 0h1m3 0h1m1 0h1m0 0h1m0 0h1m0 0h1m2 0h1m-24 1h1m1 0h1m1 0h1m1 0h1m0 0h1m3 0h1m1 0h1m1 0h1m0 0h1m1 0h1m0 0h1m2 0h1m-25 1h1m1 0h1m0 0h1m0 0h1m2 0h1m2 0h1m1 0h1m1 0h1m0 0h1m1 0h1m1 0h1m0 0h1m0 0h1m1 0h1m0 0h1m0 0h1m-26 1h1m0 0h1m1 0h1m2 0h1m1 0h1m2 0h1m0 0h1m0 0h1m2 0h1m2 0h1m3 0h1m-22 1h1m0 0h1m0 0h1m1 0h1m0 0h1m1 0h1m0 0h1m5 0h1m1 0h1m0 0h1m0 0h1m1 0h1m0 0h1m0 0h1m2 0h1m-24 1h1m1 0h1m0 0h1m0 0h1m1 0h1m5 0h1m1 0h1m1 0h1m1 0h1m-21 1h1m0 0h1m6 0h1m2 0h1m0 0h1m1 0h1m0 0h1m0 0h1m0 0h1m1 0h1m-23 1h1m2 0h1m4 0h1m0 0h1m2 0h1m2 0h1m0 0h1m0 0h1m2 0h1m3 0h1m0 0h1m0 0h1m1 0h1m-31 1h1m2 0h1m0 0h1m0 0h1m0 0h1m0 0h1m0 0h1m2 0h1m0 0h1m0 0h1m1 0h1m0 0h1m1 0h1m1 0h1m7 0h1m1 0h1m0 0h1m0 0h1m-31 1h1m0 0h1m0 0h1m0 0h1m0 0h1m1 0h1m0 0h1m2 0h1m1 0h1m0 0h1m1 0h1m2 0h1m1 0h1m2 0h1m0 0h1m1 0h1m1 0h1m0 0h1m-32 1h1m0 0h1m0 0h1m0 0h1m0 0h1m2 0h1m0 0h1m1 0h1m1 0h1m4 0h1m1 0h1m2 0h1m0 0h1m2 0h1m1 0h1m1 0h1m-32 1h1m0 0h1m1 0h1m0 0h1m0 0h1m0 0h1m0 0h1m1 0h1m1 0h1m4 0h1m3 0h1m1 0h1m1 0h1m0 0h1m2 0h1m0 0h1m1 0h1m-29 1h1m0 0h1m0 0h1m0 0h1m0 0h1m0 0h1m3 0h1m7 0h1m2 0h1m2 0h1m0 0h1m0 0h1m0 0h1m-28 1h1m3 0h1m0 0h1m1 0h1m1 0h1m5 0h1m0 0h1m1 0h1m0 0h1m0 0h1m0 0h1m3 0h1m0 0h1m0 0h1m0 0h1m0 0h1m-31 1h1m0 0h1m1 0h1m0 0h1m1 0h1m1 0h1m10 0h1m3 0h1m0 0h1m0 0h1m0 0h1m0 0h1m0 0h1m0 0h1m-26 1h1m0 0h1m2 0h1m1 0h1m13 0h1m0 0h1m4 0h1m-30 1h1m1 0h1m0 0h1m0 0h1m1 0h1m0 0h1m15 0h1m1 0h1m0 0h1m1 0h1m-33 1h1m2 0h1m0 0h1m0 0h1m0 0h1m0 0h1m0 0h1m1 0h1m0 0h1m13 0h1m1 0h1m1 0h1m0 0h1m4 0h1m-36 1h1m0 0h1m0 0h1m0 0h1m0 0h1m0 0h1m0 0h1m1 0h1m1 0h1m0 0h1m16 0h1m1 0h1m0 0h1m0 0h1m0 0h1m-31 1h1m0 0h1m0 0h1m0 0h1m1 0h1m18 0h1m2 0h1m1 0h1m1 0h1m-35 1h1m2 0h1m0 0h1m0 0h1m0 0h1m0 0h1m2 0h1m18 0h1m0 0h1m0 0h1m0 0h1m0 0h1m0 0h1m0 0h1m-36 1h1m1 0h1m0 0h1m2 0h1m0 0h1m0 0h1m19 0h1m0 0h1m3 0h1m2 0h1m-34 1h1m2 0h1m0 0h1m19 0h1m1 0h1m1 0h1m0 0h1m0 0h1m1 0h1m-35 1h1m0 0h1m0 0h1m0 0h1m1 0h1m0 0h1m0 0h1m22 0h1m0 0h1m0 0h1m1 0h1m-38 1h1m1 0h1m0 0h1m2 0h1m1 0h1m1 0h1m20 0h1m2 0h1m0 0h1m1 0h1m-37 1h1m0 0h1m1 0h1m0 0h1m0 0h1m0 0h1m0 0h1m0 0h1m0 0h1m0 0h1m18 0h1m1 0h1m0 0h1m1 0h1m0 0h1m1 0h1m0 0h1m-39 1h1m0 0h1m1 0h1m0 0h1m0 0h1m1 0h1m0 0h1m0 0h1m20 0h1m1 0h1m0 0h1m4 0h1m-39 1h1m2 0h1m0 0h1m0 0h1m3 0h1m19 0h1m0 0h1m1 0h1m0 0h1m0 0h1m0 0h1m0 0h1m1 0h1m-38 1h1m3 0h1m1 0h1m1 0h1m21 0h1m2 0h1m0 0h1m1 0h1m-39 1h1m4 0h1m1 0h1m2 0h1m21 0h1m0 0h1m0 0h1m0 0h1m2 0h1m1 0h1m-39 1h1m1 0h1m1 0h1m0 0h1m0 0h1m0 0h1m0 0h1m21 0h1m0 0h1m0 0h1m0 0h1m0 0h1m-35 1h1m2 0h1m0 0h1m0 0h1m1 0h1m0 0h1m19 0h1m1 0h1m2 0h1m2 0h1m-36 1h1m1 0h1m1 0h1m0 0h1m0 0h1m23 0h1m1 0h1m0 0h1m-36 1h1m1 0h1m0 0h1m0 0h1m1 0h1m0 0h1m0 0h1m1 0h1m21 0h1m0 0h1m0 0h1m0 0h1m0 0h1m0 0h1m-37 1h1m0 0h1m0 0h1m0 0h1m0 0h1m1 0h1m22 0h1m1 0h1m1 0h1m1 0h1m0 0h1m-36 1h1m0 0h1m0 0h1m2 0h1m1 0h1m22 0h1m4 0h1m-39 1h1m0 0h1m1 0h1m0 0h1m1 0h1m1 0h1m0 0h1m24 0h1m0 0h1m2 0h1m-34 1h1m1 0h1m0 0h1m0 0h1m22 0h1m2 0h1m1 0h1m-37 1h1m0 0h1m1 0h1m0 0h1m2 0h1m0 0h1m1 0h1m19 0h1m0 0h1m2 0h1m0 0h1m-36 1h1m0 0h1m3 0h1m0 0h1m0 0h1m0 0h1m0 0h1m1 0h1m18 0h1m1 0h1m0 0h1m1 0h1m-34 1h1m2 0h1m1 0h1m4 0h1m15 0h1m2 0h1m0 0h1m0 0h1m1 0h1m0 0h1m0 0h1m-38 1h1m3 0h1m1 0h1m0 0h1m0 0h1m3 0h1m0 0h1m0 0h1m13 0h1m1 0h1m1 0h1m1 0h1m-34 1h1m0 0h1m0 0h1m0 0h1m3 0h1m0 0h1m17 0h1m0 0h1m5 0h1m0 0h1m0 0h1m-36 1h1m1 0h1m0 0h1m0 0h1m0 0h1m1 0h1m1 0h1m4 0h1m11 0h1m3 0h1m1 0h1m1 0h1m0 0h1m1 0h1m-38 1h1m3 0h1m1 0h1m0 0h1m1 0h1m2 0h1m10 0h1m1 0h1m0 0h1m3 0h1m1 0h1m0 0h1m2 0h1m-34 1h1m0 0h1m0 0h1m2 0h1m0 0h1m18 0h1m2 0h1m2 0h1m-29 1h1m2 0h1m1 0h1m0 0h1m3 0h1m8 0h1m0 0h1m0 0h1m0 0h1m0 0h1m0 0h1m0 0h1m1 0h1m1 0h1m-35 1h1m3 0h1m0 0h1m1 0h1m0 0h1m1 0h1m2 0h1m2 0h1m0 0h1m1 0h1m1 0h1m0 0h1m0 0h1m2 0h1m1 0h1m1 0h1m0 0h1m0 0h1m0 0h1m0 0h1m-32 1h1m0 0h1m0 0h1m0 0h1m0 0h1m0 0h1m1 0h1m1 0h1m0 0h1m0 0h1m4 0h1m5 0h1m0 0h1m0 0h1m0 0h1m0 0h1m0 0h1m0 0h1m3 0h1m-34 1h1m0 0h1m0 0h1m0 0h1m1 0h1m0 0h1m2 0h1m3 0h1m0 0h1m1 0h1m4 0h1m5 0h1m0 0h1m0 0h1m0 0h1m1 0h1m-34 1h1m1 0h1m0 0h1m1 0h1m0 0h1m0 0h1m0 0h1m0 0h1m1 0h1m1 0h1m0 0h1m1 0h1m2 0h1m2 0h1m1 0h1m1 0h1m0 0h1m0 0h1m0 0h1m0 0h1m-28 1h1m0 0h1m0 0h1m1 0h1m1 0h1m0 0h1m2 0h1m0 0h1m0 0h1m2 0h1m4 0h1m3 0h1m0 0h1m1 0h1m1 0h1m-31 1h1m0 0h1m0 0h1m0 0h1m0 0h1m1 0h1m0 0h1m1 0h1m1 0h1m1 0h1m0 0h1m0 0h1m5 0h1m0 0h1m0 0h1m0 0h1m0 0h1m0 0h1m0 0h1m0 0h1m2 0h1m-32 1h1m2 0h1m0 0h1m0 0h1m1 0h1m1 0h1m0 0h1m3 0h1m0 0h1m0 0h1m0 0h1m0 0h1m0 0h1m1 0h1m0 0h1m0 0h1m0 0h1m0 0h1m0 0h1m0 0h1m0 0h1m0 0h1m-26 1h1m1 0h1m0 0h1m2 0h1m1 0h1m0 0h1m1 0h1m0 0h1m4 0h1m0 0h1m0 0h1m0 0h1m1 0h1m0 0h1m0 0h1m2 0h1m-29 1h1m0 0h1m2 0h1m0 0h1m1 0h1m0 0h1m1 0h1m4 0h1m1 0h1m0 0h1m0 0h1m0 0h1m1 0h1m0 0h1m1 0h1m-28 1h1m1 0h1m0 0h1m1 0h1m0 0h1m0 0h1m0 0h1m2 0h1m1 0h1m0 0h1m2 0h1m0 0h1m0 0h1m0 0h1m1 0h1m1 0h1m2 0h1m-26 1h1m0 0h1m2 0h1m0 0h1m0 0h1m2 0h1m0 0h1m0 0h1m0 0h1m0 0h1m0 0h1m0 0h1m2 0h1m2 0h1m0 0h1m0 0h1m1 0h1m-23 1h1m0 0h1m1 0h1m2 0h1m0 0h1m0 0h1m0 0h1m2 0h1m0 0h1m0 0h1m0 0h1m3 0h1m2 0h1m-25 1h1m0 0h1m0 0h1m2 0h1m0 0h1m0 0h1m0 0h1m0 0h1m0 0h1m0 0h1m0 0h1m0 0h1m0 0h1m0 0h1m1 0h1m1 0h1m2 0h1m-21 1h1m5 0h1m1 0h1m1 0h1m0 0h1m0 0h1m1 0h1m0 0h1m1 0h1m3 0h1m1 0h1m-23 1h1m1 0h1m0 0h1m0 0h1m0 0h1m0 0h1m0 0h1m0 0h1m2 0h1m0 0h1m0 0h1m1 0h1m0 0h1m1 0h1m-18 1h1m2 0h1m1 0h1m2 0h1m1 0h1m0 0h1m1 0h1m1 0h1m0 0h1m-19 1h1m5 0h1m0 0h1m1 0h1m0 0h1m0 0h1m1 0h1m0 0h1m-10 1h1m0 0h1m0 0h1m3 0h1m0 0h1m0 0h1m0 0h1m0 0h1m1 0h1m1 0h1m-19 1h1m2 0h1m1 0h1m2 0h1m-7 1h1m1 0h1m0 0h1m0 0h1m4 0h1m1 0h1m0 0h1m1 0h1m-10 1h1m3 0h1m0 0h1m-13 1h1m1 0h1m4 0h1m1 0h1m4 0h1m0 0h1m0 0h1m-14 1h1m11 0h1m0 0h1m-5 1h1m-1 1h1m3 1h1" stroke="#27B3D0"/>
<path d="M1623 2334h1m-1 1h1m3 0h1m-4 2h1m1 0h1m1 0h1m-8 1h1m0 0h1m4 0h1m-4 1h1m1 0h1m2 0h1m-11 1h1m3 0h1m0 0h1m3 0h1m0 0h1m0 0h1m0 0h1m0 0h1m-12 1h1m5 0h1m2 0h1m0 0h1m0 0h1m-11 1h1m0 0h1m0 0h1m2 0h1m3 0h1m1 0h1m-15 1h1m1 0h1m3 0h1m0 0h1m0 0h1m1 0h1m-9 1h1m3 0h1m1 0h1m3 0h1m-16 1h1m1 0h1m5 0h1m1 0h1m2 0h1m0 0h1m0 0h1m1 0h1m-14 1h1m0 0h1m1 0h1m1 0h1m0 0h1m0 0h1m0 0h1m1 0h1m0 0h1m0 0h1m-18 1h1m0 0h1m1 0h1m2 0h1m0 0h1m2 0h1m0 0h1m0 0h1m0 0h1m1 0h1m0 0h1m0 0h1m0 0h1m-19 1h1m1 0h1m0 0h1m0 0h1m0 0h1m0 0h1m1 0h1m1 0h1m0 0h1m0 0h1m0 0h1m0 0h1m0 0h1m0 0h1m1 0h1m0 0h1m0 0h1m-20 1h1m3 0h1m1 0h1m1 0h1m0 0h1m0 0h1m1 0h1m1 0h1m1 0h1m0 0h1m1 0h1m-21 1h1m3 0h1m0 0h1m1 0h1m0 0h1m1 0h1m0 0h1m0 0h1m0 0h1m0 0h1m0 0h1m1 0h1m1 0h1m1 0h1m-20 1h1m0 0h1m0 0h1m0 0h1m0 0h1m0 0h1m0 0h1m0 0h1m0 0h1m0 0h1m0 0h1m0 0h1m2 0h1m0 0h1m0 0h1m1 0h1m0 0h1m0 0h1m-22 1h1m0 0h1m0 0h1m0 0h1m0 0h1m0 0h1m0 0h1m0 0h1m0 0h1m0 0h1m0 0h1m0 0h1m0 0h1m0 0h1m0 0h1m0 0h1m0 0h1m2 0h1m-22 1h1m2 0h1m0 0h1m1 0h1m0 0h1m2 0h1m0 0h1m0 0h1m0 0h1m0 0h1m0 0h1m0 0h1m1 0h1m0 0h1m1 0h1m0 0h1m-23 1h1m1 0h1m0 0h1m1 0h1m1 0h1m0 0h1m0 0h1m0 0h1m1 0h1m0 0h1m0 0h1m0 0h1m0 0h1m0 0h1m0 0h1m0 0h1m0 0h1m2 0h1m-25 1h1m0 0h1m1 0h1m0 0h1m1 0h1m0 0h1m0 0h1m0 0h1m0 0h1m0 0h1m0 0h1m0 0h1m0 0h1m0 0h1m0 0h1m0 0h1m0 0h1m0 0h1m0 0h1m1 0h1m1 0h1m-23 1h1m1 0h1m1 0h1m1 0h1m1 0h1m1 0h1m0 0h1m0 0h1m0 0h1m0 0h1m0 0h1m0 0h1m1 0h1m0 0h1m1 0h1m0 0h1m0 0h1m-25 1h1m2 0h1m0 0h1m0 0h1m0 0h1m0 0h1m1 0h1m1 0h1m0 0h1m0 0h1m0 0h1m1 0h1m0 0h1m0 0h1m1 0h1m0 0h1m0 0h1m1 0h1m-26 1h1m1 0h1m1 0h1m0 0h1m0 0h1m0 0h1m0 0h1m0 0h1m0 0h1m1 0h1m0 0h1m0 0h1m0 0h1m1 0h1m0 0h1m0 0h1m1 0h1m1 0h1m0 0h1m0 0h1m0 0h1m-28 1h1m1 0h1m0 0h1m0 0h1m0 0h1m0 0h1m0 0h1m0 0h1m0 0h1m0 0h1m2 0h1m0 0h1m1 0h1m0 0h1m2 0h1m0 0h1m0 0h1m0 0h1m1 0h1m0 0h1m-27 1h1m1 0h1m0 0h1m0 0h1m0 0h1m0 0h1m0 0h1m0 0h1m0 0h1m0 0h1m0 0h1m0 0h1m0 0h1m1 0h1m1 0h1m0 0h1m0 0h1m0 0h1m1 0h1m1 0h1m1 0h1m-25 1h1m1 0h1m0 0h1m0 0h1m0 0h1m0 0h1m0 0h1m0 0h1m1 0h1m2 0h1m2 0h1m0 0h1m0 0h1m0 0h1m0 0h1m0 0h1m-25 1h1m0 0h1m0 0h1m0 0h1m1 0h1m0 0h1m1 0h1m0 0h1m1 0h1m0 0h1m1 0h1m1 0h1m2 0h1m0 0h1m0 0h1m0 0h1m0 0h1m0 0h1m0 0h1m0 0h1m0 0h1m-28 1h1m1 0h1m0 0h1m0 0h1m0 0h1m0 0h1m0 0h1m0 0h1m0 0h1m1 0h1m4 0h1m0 0h1m1 0h1m1 0h1m0 0h1m0 0h1m0 0h1m0 0h1m0 0h1m0 0h1m0 0h1m-27 1h1m0 0h1m0 0h1m0 0h1m0 0h1m0 0h1m0 0h1m1 0h1m11 0h1m1 0h1m0 0h1m1 0h1m1 0h1m-29 1h1m0 0h1m1 0h1m0 0h1m0 0h1m0 0h1m0 0h1m0 0h1m1 0h1m0 0h1m6 0h1m2 0h1m0 0h1m0 0h1m0 0h1m1 0h1m0 0h1m-25 1h1m0 0h1m0 0h1m0 0h1m0 0h1m0 0h1m0 0h1m1 0h1m3 0h1m1 0h1m0 0h1m0 0h1m0 0h1m0 0h1m2 0h1m2 0h1m0 0h1m-30 1h1m1 0h1m0 0h1m0 0h1m0 0h1m0 0h1m1 0h1m8 0h1m1 0h1m0 0h1m2 0h1m0 0h1m0 0h1m1 0h1m0 0h1m-28 1h1m0 0h1m0 0h1m0 0h1m0 0h1m0 0h1m0 0h1m0 0h1m9 0h1m1 0h1m0 0h1m0 0h1m0 0h1m0 0h1m0 0h1m0 0h1m1 0h1m-27 1h1m0 0h1m0 0h1m0 0h1m0 0h1m0 0h1m0 0h1m0 0h1m0 0h1m6 0h1m1 0h1m0 0h1m0 0h1m0 0h1m0 0h1m0 0h1m0 0h1m2 0h1m-28 1h1m0 0h1m0 0h1m1 0h1m0 0h1m0 0h1m0 0h1m0 0h1m0 0h1m8 0h1m0 0h1m0 0h1m0 0h1m0 0h1m0 0h1m0 0h1m0 0h1m0 0h1m1 0h1m-27 1h1m0 0h1m0 0h1m0 0h1m0 0h1m0 0h1m0 0h1m9 0h1m0 0h1m0 0h1m0 0h1m0 0h1m0 0h1m0 0h1m0 0h1m-24 1h1m0 0h1m0 0h1m0 0h1m0 0h1m4 0h1m6 0h1m1 0h1m0 0h1m0 0h1m0 0h1m0 0h1m0 0h1m0 0h1m-29 1h1m1 0h1m0 0h1m0 0h1m0 0h1m0 0h1m0 0h1m0 0h1m0 0h1m0 0h1m0 0h1m2 0h1m1 0h1m1 0h1m1 0h1m0 0h1m0 0h1m0 0h1m0 0h1m1 0h1m0 0h1m-25 1h1m0 0h1m0 0h1m3 0h1m0 0h1m0 0h1m0 0h1m0 0h1m0 0h1m1 0h1m0 0h1m0 0h1m1 0h1m0 0h1m0 0h1m0 0h1m1 0h1m0 0h1m-25 1h1m1 0h1m0 0h1m0 0h1m0 0h1m0 0h1m0 0h1m0 0h1m0 0h1m1 0h1m3 0h1m0 0h1m0 0h1m0 0h1m0 0h1m0 0h1m0 0h1m0 0h1m0 0h1m0 0h1m0 0h1m0 0h1m1 0h1m-30 1h1m2 0h1m0 0h1m1 0h1m0 0h1m0 0h1m0 0h1m1 0h1m0 0h1m0 0h1m0 0h1m0 0h1m0 0h1m1 0h1m0 0h1m0 0h1m0 0h1m0 0h1m0 0h1m0 0h1m0 0h1m0 0h1m0 0h1m1 0h1m-26 1h1m1 0h1m0 0h1m1 0h1m0 0h1m0 0h1m1 0h1m1 0h1m0 0h1m1 0h1m0 0h1m0 0h1m0 0h1m0 0h1m0 0h1m0 0h1m0 0h1m1 0h1m0 0h1m-25 1h1m0 0h1m0 0h1m0 0h1m0 0h1m0 0h1m0 0h1m0 0h1m0 0h1m0 0h1m1 0h1m1 0h1m0 0h1m0 0h1m0 0h1m0 0h1m0 0h1m0 0h1m1 0h1m0 0h1m1 0h1m-28 1h1m0 0h1m0 0h1m0 0h1m0 0h1m0 0h1m0 0h1m0 0h1m0 0h1m0 0h1m0 0h1m0 0h1m0 0h1m1 0h1m0 0h1m0 0h1m0 0h1m0 0h1m0 0h1m0 0h1m0 0h1m0 0h1m0 0h1m0 0h1m-24 1h1m3 0h1m0 0h1m0 0h1m0 0h1m0 0h1m0 0h1m0 0h1m1 0h1m0 0h1m1 0h1m0 0h1m0 0h1m0 0h1m0 0h1m0 0h1m0 0h1m0 0h1m0 0h1m0 0h1m-25 1h1m0 0h1m1 0h1m1 0h1m0 0h1m0 0h1m0 0h1m0 0h1m0 0h1m0 0h1m0 0h1m0 0h1m0 0h1m0 0h1m0 0h1m0 0h1m0 0h1m0 0h1m0 0h1m0 0h1m2 0h1m1 0h1m-26 1h1m0 0h1m0 0h1m1 0h1m0 0h1m1 0h1m0 0h1m0 0h1m0 0h1m0 0h1m0 0h1m1 0h1m0 0h1m1 0h1m1 0h1m1 0h1m1 0h1m0 0h1m0 0h1m-27 1h1m1 0h1m1 0h1m0 0h1m0 0h1m0 0h1m0 0h1m0 0h1m0 0h1m0 0h1m0 0h1m0 0h1m0 0h1m0 0h1m0 0h1m0 0h1m0 0h1m0 0h1m1 0h1m0 0h1m1 0h1m0 0h1m0 0h1m-28 1h1m1 0h1m1 0h1m0 0h1m0 0h1m1 0h1m0 0h1m0 0h1m0 0h1m0 0h1m0 0h1m0 0h1m0 0h1m0 0h1m0 0h1m0 0h1m2 0h1m0 0h1m0 0h1m0 0h1m0 0h1m-26 1h1m4 0h1m0 0h1m0 0h1m0 0h1m0 0h1m0 0h1m0 0h1m1 0h1m0 0h1m0 0h1m0 0h1m0 0h1m0 0h1m1 0h1m0 0h1m0 0h1m0 0h1m1 0h1m0 0h1m0 0h1m-26 1h1m0 0h1m0 0h1m3 0h1m0 0h1m0 0h1m0 0h1m1 0h1m0 0h1m0 0h1m0 0h1m0 0h1m0 0h1m0 0h1m0 0h1m0 0h1m1 0h1m2 0h1m-23 1h1m0 0h1m0 0h1m0 0h1m1 0h1m0 0h1m0 0h1m2 0h1m0 0h1m0 0h1m0 0h1m0 0h1m0 0h1m0 0h1m0 0h1m1 0h1m1 0h1m-24 1h1m0 0h1m0 0h1m1 0h1m0 0h1m0 0h1m0 0h1m0 0h1m0 0h1m0 0h1m0 0h1m0 0h1m0 0h1m0 0h1m0 0h1m0 0h1m0 0h1m0 0h1m0 0h1m0 0h1m2 0h1m-25 1h1m2 0h1m0 0h1m1 0h1m0 0h1m0 0h1m0 0h1m0 0h1m1 0h1m0 0h1m0 0h1m0 0h1m0 0h1m0 0h1m0 0h1m0 0h1m0 0h1m0 0h1m0 0h1m-21 1h1m0 0h1m1 0h1m0 0h1m0 0h1m3 0h1m1 0h1m0 0h1m0 0h1m0 0h1m0 0h1m2 0h1m0 0h1m0 0h1m-22 1h1m3 0h1m0 0h1m0 0h1m0 0h1m1 0h1m0 0h1m0 0h1m0 0h1m0 0h1m0 0h1m0 0h1m0 0h1m0 0h1m1 0h1m1 0h1m-18 1h1m0 0h1m0 0h1m0 0h1m0 0h1m0 0h1m1 0h1m0 0h1m6 0h1m0 0h1m1 0h1m-20 1h1m0 0h1m2 0h1m1 0h1m0 0h1m0 0h1m0 0h1m2 0h1m2 0h1m0 0h1m0 0h1m0 0h1m0 0h1m-21 1h1m4 0h1m0 0h1m0 0h1m0 0h1m0 0h1m0 0h1m2 0h1m0 0h1m0 0h1m1 0h1m0 0h1m-13 1h1m2 0h1m0 0h1m1 0h1m0 0h1m0 0h1m0 0h1m0 0h1m2 0h1m-18 1h1m1 0h1m4 0h1m1 0h1m0 0h1m0 0h1m1 0h1m0 0h1m-15 1h1m2 0h1m3 0h1m1 0h1m0 0h1m1 0h1m-13 1h1m2 0h1m0 0h1m5 0h1m3 0h1m0 0h1m-10 1h1m2 0h1m3 0h1m-7 1h1m1 0h1m-6 1h1m2 1h1" stroke="#4DBE5B"/>
<path d="M1626 2352h1m-2 1h1m-3 1h1m0 0h1m1 0h1m0 0h1m0 0h1m0 0h1m0 0h1m-11 1h1m0 0h1m0 0h1m0 0h1m0 0h1m0 0h1m1 0h1m0 0h1m-9 1h1m0 0h1m0 0h1m0 0h1m0 0h1m1 0h1m0 0h1m0 0h1m0 0h1m-10 1h1m1 0h1m0 0h1m0 0h1m0 0h1m0 0h1m0 0h1m0 0h1m0 0h1m1 0h1m-13 1h1m0 0h1m0 0h1m0 0h1m0 0h1m0 0h1m0 0h1m0 0h1m0 0h1m1 0h1m0 0h1m0 0h1m0 0h1m0 0h1m-14 1h1m0 0h1m0 0h1m0 0h1m1 0h1m0 0h1m0 0h1m0 0h1m0 0h1m1 0h1m0 0h1m0 0h1m-14 1h1m0 0h1m0 0h1m0 0h1m0 0h1m2 0h1m0 0h1m0 0h1m0 0h1m0 0h1m0 0h1m0 0h1m-17 1h1m3 0h1m0 0h1m0 0h1m0 0h1m0 0h1m1 0h1m1 0h1m3 0h1m0 0h1m-18 1h1m0 0h1m0 0h1m0 0h1m2 0h1m0 0h1m0 0h1m0 0h1m0 0h1m0 0h1m0 0h1m1 0h1m0 0h1m0 0h1m0 0h1m-18 1h1m0 0h1m0 0h1m0 0h1m1 0h1m0 0h1m0 0h1m0 0h1m0 0h1m0 0h1m0 0h1m1 0h1m0 0h1m0 0h1m-16 1h1m0 0h1m0 0h1m0 0h1m1 0h1m0 0h1m0 0h1m0 0h1m0 0h1m0 0h1m0 0h1m0 0h1m0 0h1m0 0h1m2 0h1m-18 1h1m0 0h1m0 0h1m0 0h1m0 0h1m0 0h1m0 0h1m0 0h1m0 0h1m0 0h1m0 0h1m0 0h1m0 0h1m0 0h1m0 0h1m0 0h1m0 0h1m-18 1h1m0 0h1m0 0h1m2 0h1m1 0h1m0 0h1m0 0h1m0 0h1m0 0h1m0 0h1m0 0h1m0 0h1m1 0h1m0 0h1m0 0h1m0 0h1m-20 1h1m0 0h1m0 0h1m0 0h1m0 0h1m0 0h1m0 0h1m0 0h1m0 0h1m0 0h1m0 0h1m0 0h1m0 0h1m0 0h1m0 0h1m0 0h1m0 0h1m1 0h1m0 0h1m-20 1h1m0 0h1m0 0h1m0 0h1m0 0h1m0 0h1m0 0h1m0 0h1m0 0h1m0 0h1m0 0h1m2 0h1m0 0h1m0 0h1m0 0h1m0 0h1m0 0h1m-18 1h1m0 0h1m0 0h1m0 0h1m0 0h1m0 0h1m0 0h1m0 0h1m1 0h1m0 0h1m0 0h1m0 0h1m0 0h1m1 0h1m0 0h1m-18 1h1m1 0h1m0 0h1m0 0h1m0 0h1m0 0h1m1 0h1m0 0h1m0 0h1m0 0h1m2 0h1m0 0h1m0 0h1m0 0h1m-16 1h1m0 0h1m1 0h1m1 0h1m0 0h1m0 0h1m0 0h1m0 0h1m0 0h1m0 0h1m0 0h1m0 0h1m0 0h1m0 0h1m0 0h1m0 0h1m-16 1h1m0 0h1m0 0h1m0 0h1m0 0h1m0 0h1m0 0h1m1 0h1m0 0h1m0 0h1m0 0h1m0 0h1m0 0h1m0 0h1m-19 1h1m0 0h1m1 0h1m0 0h1m0 0h1m0 0h1m0 0h1m1 0h1m1 0h1m1 0h1m0 0h1m0 0h1m0 0h1m0 0h1m-16 1h1m0 0h1m0 0h1m0 0h1m0 0h1m0 0h1m0 0h1m0 0h1m0 0h1m0 0h1m2 0h1m0 0h1m0 0h1m0 0h1m0 0h1m-19 1h1m0 0h1m1 0h1m0 0h1m0 0h1m0 0h1m0 0h1m0 0h1m0 0h1m0 0h1m0 0h1m0 0h1m0 0h1m0 0h1m0 0h1m0 0h1m0 0h1m-15 1h1m1 0h1m0 0h1m0 0h1m0 0h1m1 0h1m0 0h1m0 0h1m0 0h1m0 0h1m2 0h1m-15 1h1m0 0h1m0 0h1m0 0h1m0 0h1m0 0h1m0 0h1m0 0h1m1 0h1m0 0h1m1 0h1m0 0h1m0 0h1m-16 1h1m1 0h1m1 0h1m0 0h1m1 0h1m0 0h1m0 0h1m0 0h1m0 0h1m0 0h1m-12 1h1m1 0h1m0 0h1m0 0h1m0 0h1m0 0h1m0 0h1m0 0h1m0 0h1m0 0h1m0 0h1m1 0h1m-11 1h1m0 0h1m1 0h1m0 0h1m0 0h1m0 0h1m1 0h1m-9 1h1m0 0h1m0 0h1m0 0h1m0 0h1m2 0h1m1 0h1m-13 1h1m1 0h1m1 0h1m0 0h1m0 0h1m0 0h1m0 0h1m0 0h1m0 0h1m2 0h1m-8 1h1m0 0h1m0 0h1m1 0h1m-8 1h1m0 0h1m2 1h1m0 0h1m0 0h1m1 0h1m-7 2h1m1 0h1" stroke="#C8DC2A"/>
<path d="M1625 2358h1m0 0h1m-3 1h1m0 0h1m0 0h1m0 0h1m-5 1h1m0 0h1m2 0h1m0 0h1m-8 1h1m0 0h1m1 0h1m0 0h1m1 0h1m0 0h1m0 0h1m-9 1h1m1 0h1m0 0h1m0 0h1m0 0h1m2 0h1m0 0h1m-12 1h1m1 0h1m0 0h1m0 0h1m0 0h1m2 0h1m0 0h1m0 0h1m0 0h1m-10 1h1m0 0h1m0 0h1m0 0h1m1 0h1m1 0h1m0 0h1m0 0h1m0 0h1m-12 1h1m2 0h1m2 0h1m0 0h1m1 0h1m-11 1h1m1 0h1m0 0h1m0 0h1m0 0h1m0 0h1m0 0h1m0 0h1m0 0h1m0 0h1m0 0h1m0 0h1m0 0h1m-14 1h1m3 0h1m3 0h1m0 0h1m0 0h1m0 0h1m1 0h1m-14 1h1m0 0h1m0 0h1m0 0h1m0 0h1m4 0h1m0 0h1m0 0h1m-12 1h1m0 0h1m0 0h1m1 0h1m0 0h1m0 0h1m0 0h1m0 0h1m0 0h1m0 0h1m0 0h1m-11 1h1m0 0h1m1 0h1m0 0h1m0 0h1m1 0h1m0 0h1m0 0h1m-11 1h1m0 0h1m1 0h1m1 0h1m0 0h1m0 0h1m2 0h1m0 0h1m0 0h1m-12 1h1m0 0h1m0 0h1m1 0h1m0 0h1m0 0h1m2 0h1m0 0h1m1 0h1m-11 1h1m1 0h1m0 0h1m0 0h1m0 0h1m0 0h1m0 0h1m-8 1h1m0 0h1m0 0h1m0 0h1m1 0h1m0 0h1m0 0h1m1 0h1m-10 1h1m0 0h1m2 0h1m3 0h1m-7 1h1m0 0h1m0 0h1m0 0h1m0 0h1m0 0h1m-7 1h1m2 0h1m1 0h1m-3 1h1" stroke="#F6A21C"/>
<path d="M1624 2361h1m-3 1h1m3 0h1m-4 1h1m2 0h1m0 0h1m-6 1h1m1 0h1m0 0h1m0 0h1m0 0h1m0 0h1m0 0h1m-6 1h1m0 0h1m0 0h1m2 0h1m0 0h1m-10 1h1m0 0h1m0 0h1m0 0h1m0 0h1m0 0h1m0 0h1m0 0h1m0 0h1m-9 1h1m0 0h1m0 0h1m0 0h1m1 0h1m0 0h1m0 0h1m0 0h1m-9 1h1m0 0h1m0 0h1m0 0h1m0 0h1m0 0h1m0 0h1m0 0h1m-8 1h1m0 0h1m0 0h1m0 0h1m0 0h1m0 0h1m0 0h1m0 0h1m0 0h1m0 0h1m-10 1h1m0 0h1m0 0h1m0 0h1m0 0h1m0 0h1m0 0h1m0 0h1m0 0h1m-7 1h1m0 0h1m0 0h1m0 0h1m0 0h1m0 0h1m0 0h1m-9 1h1m0 0h1m0 0h1m0 0h1m0 0h1m0 0h1m1 0h1m-6 1h1m0 0h1m0 0h1m0 0h1m0 0h1m0 0h1m-5 1h1" stroke="#E8311F"/>
</g>
<path d="M1520 2458.6H1665" stroke="#3D57B5" stroke-width="1" opacity=".6"/><path d="M1600 2458.6H1650" stroke="#4DBE5B" stroke-width="1.2" opacity=".7"/><path d="M1618 2458.6H1640" stroke="#E8311F" stroke-width="1.2" opacity=".8"/>
</g>
<rect x="1438.5" y="2228.5" width="231.0" height="231.0" fill="none" stroke="#3a3a3a" stroke-width="1"/>
<path d="M1450.3 2228.5V2341.1H1662.6V2228.5" stroke="#000" stroke-width="1.7" fill="none" stroke-linejoin="miter" stroke-linecap="butt"/>
<text x="1650.8" y="2254.7" font-size="26.8" fill="#0A9AD0" text-anchor="end">HOXA9 OFF</text>
<text x="1461.8" y="2332.7" font-size="26.8" fill="#231F20" text-anchor="start">20.6%</text>
<line x1="1420.0" y1="2479.3" x2="1420.0" y2="2350.0" stroke="#231F20" stroke-width="2.7" stroke-linecap="butt"/>
<line x1="1418.7" y1="2478.0" x2="1505.0" y2="2478.0" stroke="#231F20" stroke-width="2.7" stroke-linecap="butt"/>
<path d="M1420 2330.7L1430.5 2356.5L1420 2350.8L1409.5 2356.5Z" fill="#231F20"/>
<path d="M1525 2478L1499.7 2467.5L1505.4 2478L1499.7 2488.5Z" fill="#231F20"/>
<text x="1405.0" y="2408.0" font-size="27.5" fill="#231F20" text-anchor="middle" transform="rotate(-90 1405.0 2408.0)">pHrodo-PE</text>
<text x="1420.0" y="2509.5" font-size="27.5" fill="#231F20" text-anchor="start">GFP</text>
<text x="1746.5" y="1776.8" font-size="37.5" fill="#231F20" text-anchor="start" font-weight="700">h</text>
<rect x="1860.5" y="2168.1" width="24.6" height="15.0" fill="#fff" stroke="none" stroke-width="0"/>
<path d="M1860.5 2183.1V2168.1H1885.1V2183.1" stroke="#000" stroke-width="5" fill="none" stroke-linejoin="miter" stroke-linecap="round"/>
<rect x="1904.8" y="2166.7" width="24.6" height="16.4" fill="#EE3B3A" stroke="none" stroke-width="0"/>
<path d="M1904.8 2183.1V2166.7H1929.4V2183.1" stroke="#000" stroke-width="5" fill="none" stroke-linejoin="miter" stroke-linecap="round"/>
<rect x="1949.0" y="1949.2" width="24.6" height="233.9" fill="#80CCE6" stroke="none" stroke-width="0"/>
<path d="M1949.0 2183.1V1949.2H1973.6V2183.1" stroke="#000" stroke-width="5" fill="none" stroke-linejoin="miter" stroke-linecap="round"/>
<line x1="1839.9" y1="1873.3" x2="1839.9" y2="2185.0" stroke="#000" stroke-width="3.8" stroke-linecap="round"/>
<line x1="1827.6" y1="2183.1" x2="1988.5" y2="2183.1" stroke="#000" stroke-width="3.8" stroke-linecap="round"/>
<line x1="1827.6" y1="2183.1" x2="1839.9" y2="2183.1" stroke="#000" stroke-width="3.8" stroke-linecap="round"/>
<text x="1812.2" y="2191.7" font-size="27.5" fill="#231F20" text-anchor="end">0</text>
<line x1="1827.6" y1="2121.5" x2="1839.9" y2="2121.5" stroke="#000" stroke-width="3.8" stroke-linecap="round"/>
<text x="1812.2" y="2130.1" font-size="27.5" fill="#231F20" text-anchor="end">5</text>
<line x1="1827.6" y1="2060.0" x2="1839.9" y2="2060.0" stroke="#000" stroke-width="3.8" stroke-linecap="round"/>
<text x="1812.2" y="2068.6" font-size="27.5" fill="#231F20" text-anchor="end">10</text>
<line x1="1827.6" y1="1998.4" x2="1839.9" y2="1998.4" stroke="#000" stroke-width="3.8" stroke-linecap="round"/>
<text x="1812.2" y="2007.0" font-size="27.5" fill="#231F20" text-anchor="end">15</text>
<line x1="1827.6" y1="1936.9" x2="1839.9" y2="1936.9" stroke="#000" stroke-width="3.8" stroke-linecap="round"/>
<text x="1812.2" y="1945.5" font-size="27.5" fill="#231F20" text-anchor="end">20</text>
<line x1="1827.6" y1="1875.3" x2="1839.9" y2="1875.3" stroke="#000" stroke-width="3.8" stroke-linecap="round"/>
<text x="1812.2" y="1883.9" font-size="27.5" fill="#231F20" text-anchor="end">25</text>
<line x1="1873.0" y1="2183.1" x2="1873.0" y2="2195.6" stroke="#000" stroke-width="3.8" stroke-linecap="round"/>
<line x1="1917.4" y1="2183.1" x2="1917.4" y2="2195.6" stroke="#000" stroke-width="3.8" stroke-linecap="round"/>
<line x1="1960.8" y1="2183.1" x2="1960.8" y2="2195.6" stroke="#000" stroke-width="3.8" stroke-linecap="round"/>
<circle cx="1864.3" cy="2169.6" r="5.7" fill="#000" stroke="none" stroke-width="0"/>
<circle cx="1881.3" cy="2169.1" r="5.7" fill="#000" stroke="none" stroke-width="0"/>
<circle cx="1908.2" cy="2169.6" r="5.7" fill="#000" stroke="none" stroke-width="0"/>
<circle cx="1925.6" cy="2158.8" r="5.7" fill="#000" stroke="none" stroke-width="0"/>
<circle cx="1960.8" cy="1930.0" r="5.7" fill="#000" stroke="none" stroke-width="0"/>
<circle cx="1960.8" cy="1965.4" r="5.7" fill="#000" stroke="none" stroke-width="0"/>
<text x="1770.5" y="2044.6" font-size="27.5" fill="#231F20" text-anchor="middle" transform="rotate(-90 1770.5 2044.6)">% pHrodo+</text>
<text x="1885.5" y="2230.0" font-size="27.5" fill="#000" text-anchor="end" transform="rotate(-45 1885.5 2230.0)">Uninduced</text>
<text x="1936.5" y="2231.0" font-size="27.5" fill="#EE3B3A" text-anchor="end" transform="rotate(-45 1936.5 2231.0)">CAF-1 OFF</text>
<text x="1992.4" y="2234.7" font-size="27.5" fill="#0A9AD0" text-anchor="end" transform="rotate(-45 1992.4 2234.7)">HOXA9 OFF</text>
</svg>
</body></html>
